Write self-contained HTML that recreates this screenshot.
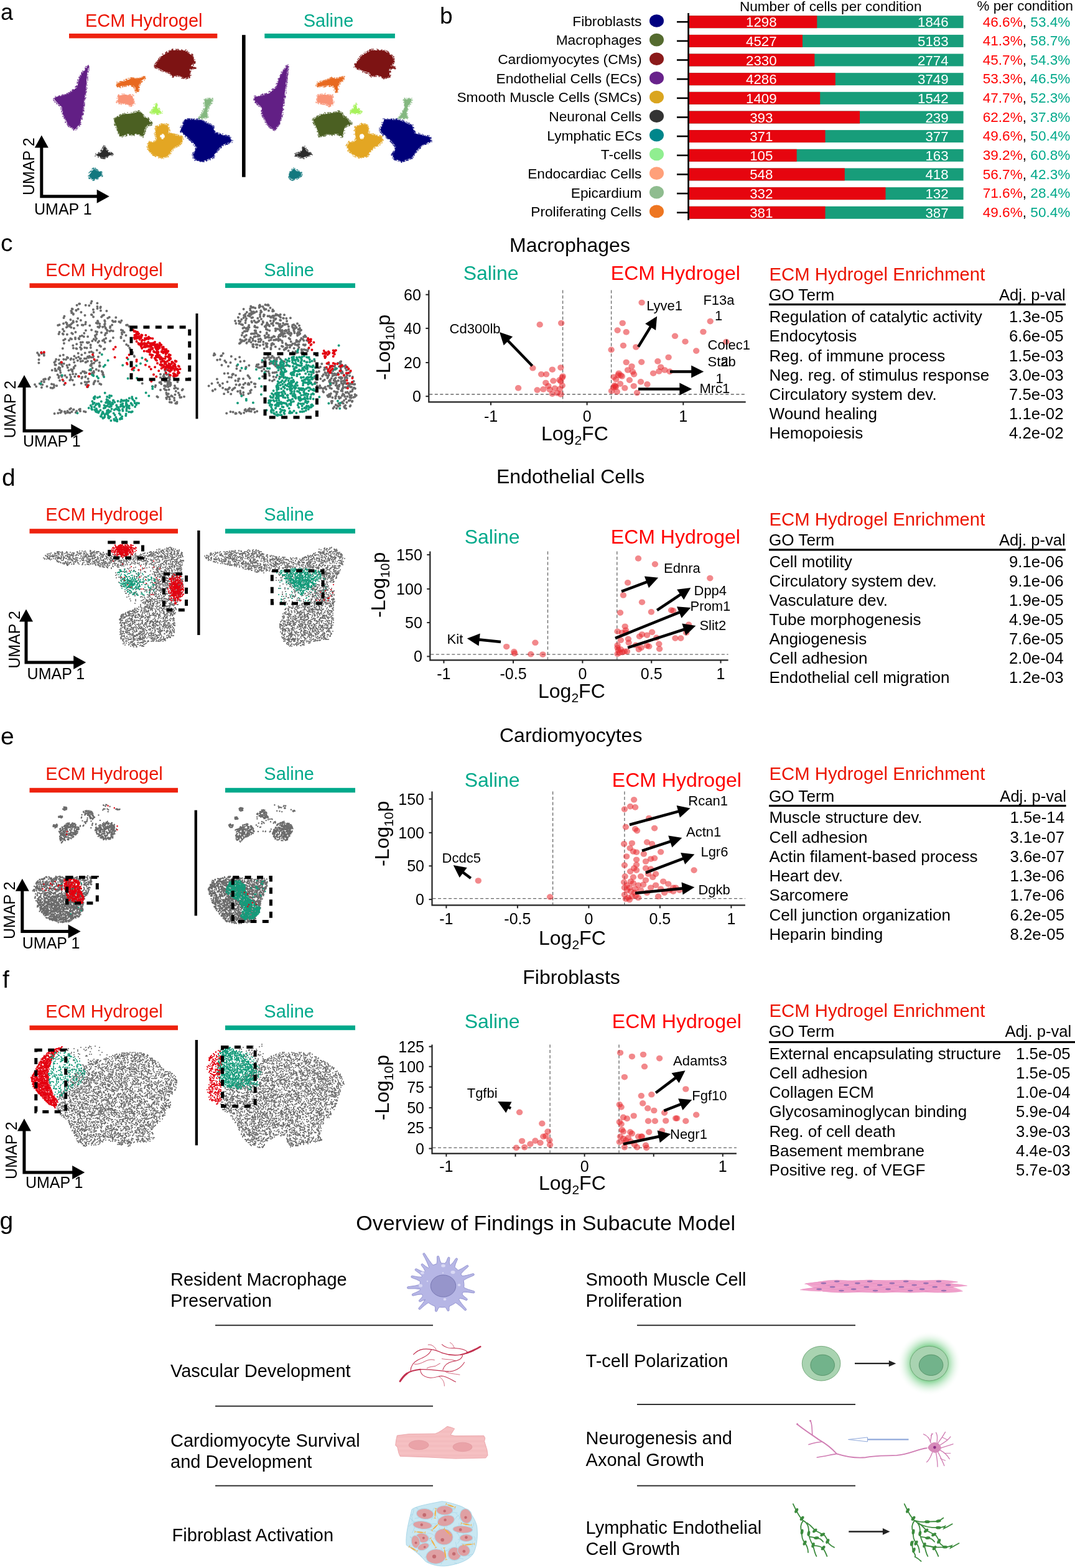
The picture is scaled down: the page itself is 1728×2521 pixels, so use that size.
<!DOCTYPE html>
<html><head><meta charset="utf-8"><title>Figure</title>
<style>html,body{margin:0;padding:0;background:#fff;} svg{display:block;} text{font-family:"Liberation Sans",Arial,sans-serif;}</style>
</head><body>
<svg width="1728" height="2521" viewBox="0 0 1728 2521">

<text x="1.0" y="31.5" font-size="36" fill="#000" text-anchor="start" >a</text>
<text x="137.0" y="42.6" font-size="29" fill="#eb1400" text-anchor="start" >ECM Hydrogel</text>
<rect x="111.0" y="54.0" width="238.3" height="7.5" fill="#ee220e" />
<text x="487.7" y="42.6" font-size="29" fill="#00a98b" text-anchor="start" >Saline</text>
<rect x="425.3" y="54.0" width="209.6" height="7.5" fill="#00a98b" />
<rect x="389.0" y="56.2" width="5.6" height="228.5" fill="#000" />
<path d="M66.8 236.5 V315.8 H156.7" fill="none" stroke="#000" stroke-width="5" stroke-linejoin="miter"/>
<polygon points="66.8,217.5 55.8,237.5 77.8,237.5" fill="#000"/>
<polygon points="175.7,315.8 155.7,304.8 155.7,326.8" fill="#000"/>
<text x="0" y="0" font-size="25" transform="translate(55.0,314.0) rotate(-90)">UMAP 2</text>
<text x="55.0" y="345.0" font-size="25" fill="#000" text-anchor="start" >UMAP 1</text>
<text x="707.0" y="38.0" font-size="37" fill="#000" text-anchor="start" >b</text>
<text x="1188.9" y="18.0" font-size="22.6" fill="#000" text-anchor="start" >Number of cells per condition</text>
<text x="1570.5" y="16.5" font-size="22.4" fill="#000" text-anchor="start" >% per condition</text>
<text x="1031.5" y="41.6" font-size="22.75" fill="#000" text-anchor="end" >Fibroblasts</text>
<ellipse cx="1055.5" cy="33.5" rx="11.5" ry="10.3" fill="#000080"/>
<line x1="1088.0" y1="35.2" x2="1106.0" y2="35.2" stroke="#000" stroke-width="2.6" />
<rect x="1108.0" y="25.2" width="440.6" height="20.0" fill="#179d7a" />
<rect x="1108.0" y="25.2" width="205.3" height="20.0" fill="#e6050f" />
<text x="1223.8" y="43.2" font-size="22.3" fill="#fff" text-anchor="middle" >1298</text>
<text x="1524.6" y="43.2" font-size="22.3" fill="#fff" text-anchor="end" >1846</text>
<text x="1579.7" y="42.5" font-size="22.6"><tspan fill="#ff0000">46.6%</tspan><tspan fill="#000">, </tspan><tspan fill="#00a98b">53.4%</tspan></text>
<text x="1031.5" y="72.3" font-size="22.75" fill="#000" text-anchor="end" >Macrophages</text>
<ellipse cx="1055.5" cy="64.1" rx="11.5" ry="10.3" fill="#556b2f"/>
<line x1="1088.0" y1="65.9" x2="1106.0" y2="65.9" stroke="#000" stroke-width="2.6" />
<rect x="1108.0" y="55.9" width="440.6" height="20.0" fill="#179d7a" />
<rect x="1108.0" y="55.9" width="182.0" height="20.0" fill="#e6050f" />
<text x="1223.8" y="73.9" font-size="22.3" fill="#fff" text-anchor="middle" >4527</text>
<text x="1524.6" y="73.9" font-size="22.3" fill="#fff" text-anchor="end" >5183</text>
<text x="1579.7" y="73.1" font-size="22.6"><tspan fill="#ff0000">41.3%</tspan><tspan fill="#000">, </tspan><tspan fill="#00a98b">58.7%</tspan></text>
<text x="1031.5" y="103.0" font-size="22.75" fill="#000" text-anchor="end" >Cardiomyocytes (CMs)</text>
<ellipse cx="1055.5" cy="94.8" rx="11.5" ry="10.3" fill="#8b1a1a"/>
<line x1="1088.0" y1="96.5" x2="1106.0" y2="96.5" stroke="#000" stroke-width="2.6" />
<rect x="1108.0" y="86.5" width="440.6" height="20.0" fill="#179d7a" />
<rect x="1108.0" y="86.5" width="201.4" height="20.0" fill="#e6050f" />
<text x="1223.8" y="104.5" font-size="22.3" fill="#fff" text-anchor="middle" >2330</text>
<text x="1524.6" y="104.5" font-size="22.3" fill="#fff" text-anchor="end" >2774</text>
<text x="1579.7" y="103.8" font-size="22.6"><tspan fill="#ff0000">45.7%</tspan><tspan fill="#000">, </tspan><tspan fill="#00a98b">54.3%</tspan></text>
<text x="1031.5" y="133.6" font-size="22.75" fill="#000" text-anchor="end" >Endothelial Cells (ECs)</text>
<ellipse cx="1055.5" cy="125.4" rx="11.5" ry="10.3" fill="#68228b"/>
<line x1="1088.0" y1="127.2" x2="1106.0" y2="127.2" stroke="#000" stroke-width="2.6" />
<rect x="1108.0" y="117.2" width="440.6" height="20.0" fill="#179d7a" />
<rect x="1108.0" y="117.2" width="234.8" height="20.0" fill="#e6050f" />
<text x="1223.8" y="135.2" font-size="22.3" fill="#fff" text-anchor="middle" >4286</text>
<text x="1524.6" y="135.2" font-size="22.3" fill="#fff" text-anchor="end" >3749</text>
<text x="1579.7" y="134.4" font-size="22.6"><tspan fill="#ff0000">53.3%</tspan><tspan fill="#000">, </tspan><tspan fill="#00a98b">46.5%</tspan></text>
<text x="1031.5" y="164.2" font-size="22.75" fill="#000" text-anchor="end" >Smooth Muscle Cells (SMCs)</text>
<ellipse cx="1055.5" cy="156.0" rx="11.5" ry="10.3" fill="#daa520"/>
<line x1="1088.0" y1="157.8" x2="1106.0" y2="157.8" stroke="#000" stroke-width="2.6" />
<rect x="1108.0" y="147.8" width="440.6" height="20.0" fill="#179d7a" />
<rect x="1108.0" y="147.8" width="210.2" height="20.0" fill="#e6050f" />
<text x="1223.8" y="165.8" font-size="22.3" fill="#fff" text-anchor="middle" >1409</text>
<text x="1524.6" y="165.8" font-size="22.3" fill="#fff" text-anchor="end" >1542</text>
<text x="1579.7" y="165.0" font-size="22.6"><tspan fill="#ff0000">47.7%</tspan><tspan fill="#000">, </tspan><tspan fill="#00a98b">52.3%</tspan></text>
<text x="1031.5" y="194.9" font-size="22.75" fill="#000" text-anchor="end" >Neuronal Cells</text>
<ellipse cx="1055.5" cy="186.7" rx="11.5" ry="10.3" fill="#333333"/>
<line x1="1088.0" y1="188.5" x2="1106.0" y2="188.5" stroke="#000" stroke-width="2.6" />
<rect x="1108.0" y="178.5" width="440.6" height="20.0" fill="#179d7a" />
<rect x="1108.0" y="178.5" width="274.1" height="20.0" fill="#e6050f" />
<text x="1223.8" y="196.5" font-size="22.3" fill="#fff" text-anchor="middle" >393</text>
<text x="1524.6" y="196.5" font-size="22.3" fill="#fff" text-anchor="end" >239</text>
<text x="1579.7" y="195.7" font-size="22.6"><tspan fill="#ff0000">62.2%</tspan><tspan fill="#000">, </tspan><tspan fill="#00a98b">37.8%</tspan></text>
<text x="1031.5" y="225.5" font-size="22.75" fill="#000" text-anchor="end" >Lymphatic ECs</text>
<ellipse cx="1055.5" cy="217.3" rx="11.5" ry="10.3" fill="#00868b"/>
<line x1="1088.0" y1="219.1" x2="1106.0" y2="219.1" stroke="#000" stroke-width="2.6" />
<rect x="1108.0" y="209.1" width="440.6" height="20.0" fill="#179d7a" />
<rect x="1108.0" y="209.1" width="218.5" height="20.0" fill="#e6050f" />
<text x="1223.8" y="227.1" font-size="22.3" fill="#fff" text-anchor="middle" >371</text>
<text x="1524.6" y="227.1" font-size="22.3" fill="#fff" text-anchor="end" >377</text>
<text x="1579.7" y="226.3" font-size="22.6"><tspan fill="#ff0000">49.6%</tspan><tspan fill="#000">, </tspan><tspan fill="#00a98b">50.4%</tspan></text>
<text x="1031.5" y="256.2" font-size="22.75" fill="#000" text-anchor="end" >T-cells</text>
<ellipse cx="1055.5" cy="248.0" rx="11.5" ry="10.3" fill="#90ee90"/>
<line x1="1088.0" y1="249.8" x2="1106.0" y2="249.8" stroke="#000" stroke-width="2.6" />
<rect x="1108.0" y="239.8" width="440.6" height="20.0" fill="#179d7a" />
<rect x="1108.0" y="239.8" width="172.7" height="20.0" fill="#e6050f" />
<text x="1223.8" y="257.8" font-size="22.3" fill="#fff" text-anchor="middle" >105</text>
<text x="1524.6" y="257.8" font-size="22.3" fill="#fff" text-anchor="end" >163</text>
<text x="1579.7" y="257.0" font-size="22.6"><tspan fill="#ff0000">39.2%</tspan><tspan fill="#000">, </tspan><tspan fill="#00a98b">60.8%</tspan></text>
<text x="1031.5" y="286.8" font-size="22.75" fill="#000" text-anchor="end" >Endocardiac Cells</text>
<ellipse cx="1055.5" cy="278.6" rx="11.5" ry="10.3" fill="#ffa07a"/>
<line x1="1088.0" y1="280.4" x2="1106.0" y2="280.4" stroke="#000" stroke-width="2.6" />
<rect x="1108.0" y="270.4" width="440.6" height="20.0" fill="#179d7a" />
<rect x="1108.0" y="270.4" width="249.8" height="20.0" fill="#e6050f" />
<text x="1223.8" y="288.4" font-size="22.3" fill="#fff" text-anchor="middle" >548</text>
<text x="1524.6" y="288.4" font-size="22.3" fill="#fff" text-anchor="end" >418</text>
<text x="1579.7" y="287.6" font-size="22.6"><tspan fill="#ff0000">56.7%</tspan><tspan fill="#000">, </tspan><tspan fill="#00a98b">42.3%</tspan></text>
<text x="1031.5" y="317.5" font-size="22.75" fill="#000" text-anchor="end" >Epicardium</text>
<ellipse cx="1055.5" cy="309.3" rx="11.5" ry="10.3" fill="#8fbc8f"/>
<line x1="1088.0" y1="311.1" x2="1106.0" y2="311.1" stroke="#000" stroke-width="2.6" />
<rect x="1108.0" y="301.1" width="440.6" height="20.0" fill="#179d7a" />
<rect x="1108.0" y="301.1" width="315.5" height="20.0" fill="#e6050f" />
<text x="1223.8" y="319.1" font-size="22.3" fill="#fff" text-anchor="middle" >332</text>
<text x="1524.6" y="319.1" font-size="22.3" fill="#fff" text-anchor="end" >132</text>
<text x="1579.7" y="318.3" font-size="22.6"><tspan fill="#ff0000">71.6%</tspan><tspan fill="#000">, </tspan><tspan fill="#00a98b">28.4%</tspan></text>
<text x="1031.5" y="348.1" font-size="22.75" fill="#000" text-anchor="end" >Proliferating Cells</text>
<ellipse cx="1055.5" cy="339.9" rx="11.5" ry="10.3" fill="#ee7621"/>
<line x1="1088.0" y1="341.8" x2="1106.0" y2="341.8" stroke="#000" stroke-width="2.6" />
<rect x="1108.0" y="331.8" width="440.6" height="20.0" fill="#179d7a" />
<rect x="1108.0" y="331.8" width="218.5" height="20.0" fill="#e6050f" />
<text x="1223.8" y="349.8" font-size="22.3" fill="#fff" text-anchor="middle" >381</text>
<text x="1524.6" y="349.8" font-size="22.3" fill="#fff" text-anchor="end" >387</text>
<text x="1579.7" y="348.9" font-size="22.6"><tspan fill="#ff0000">49.6%</tspan><tspan fill="#000">, </tspan><tspan fill="#00a98b">50.4%</tspan></text>
<rect x="1105.2" y="21.0" width="2.7" height="333.0" fill="#000" />
<text x="819.0" y="405.4" font-size="32" fill="#000" text-anchor="start" >Macrophages</text>
<text x="744.7" y="450.4" font-size="32" fill="#00a98b" text-anchor="start" >Saline</text>
<text x="981.8" y="450.4" font-size="32" fill="#ff0000" text-anchor="start" >ECM Hydrogel</text>
<line x1="904.6" y1="466.4" x2="904.6" y2="645.4" stroke="#666" stroke-width="1.3" stroke-dasharray="5,3.5"/>
<line x1="982.6" y1="466.4" x2="982.6" y2="645.4" stroke="#666" stroke-width="1.3" stroke-dasharray="5,3.5"/>
<line x1="690.3" y1="634.0" x2="1198.7" y2="634.0" stroke="#666" stroke-width="1.3" stroke-dasharray="5,3.5"/>
<g fill="#e8262b" fill-opacity="0.55"><ellipse cx="856.4" cy="591.8" rx="5.2" ry="4.8"/><ellipse cx="867.7" cy="521.9" rx="5.2" ry="4.8"/><ellipse cx="902.2" cy="519.5" rx="5.2" ry="4.8"/><ellipse cx="870.1" cy="601.8" rx="5.2" ry="4.8"/><ellipse cx="878.1" cy="601.8" rx="5.2" ry="4.8"/><ellipse cx="887.8" cy="594.2" rx="5.2" ry="4.8"/><ellipse cx="901.4" cy="591.0" rx="5.2" ry="4.8"/><ellipse cx="877.3" cy="615.5" rx="5.2" ry="4.8"/><ellipse cx="889.4" cy="612.3" rx="5.2" ry="4.8"/><ellipse cx="901.4" cy="613.1" rx="5.2" ry="4.8"/><ellipse cx="903.8" cy="607.0" rx="5.2" ry="4.8"/><ellipse cx="833.1" cy="623.9" rx="5.2" ry="4.8"/><ellipse cx="863.6" cy="627.1" rx="5.2" ry="4.8"/><ellipse cx="873.3" cy="625.9" rx="5.2" ry="4.8"/><ellipse cx="883.7" cy="626.3" rx="5.2" ry="4.8"/><ellipse cx="891.8" cy="624.3" rx="5.2" ry="4.8"/><ellipse cx="899.8" cy="625.5" rx="5.2" ry="4.8"/><ellipse cx="903.8" cy="619.9" rx="5.2" ry="4.8"/><ellipse cx="881.3" cy="620.7" rx="5.2" ry="4.8"/><ellipse cx="887.8" cy="633.2" rx="5.2" ry="4.8"/><ellipse cx="895.8" cy="632.0" rx="5.2" ry="4.8"/><ellipse cx="901.4" cy="634.0" rx="5.2" ry="4.8"/><ellipse cx="899.4" cy="611.1" rx="5.2" ry="4.8"/><ellipse cx="904.6" cy="605.0" rx="5.2" ry="4.8"/><ellipse cx="1031.6" cy="486.5" rx="5.2" ry="4.8"/><ellipse cx="1000.7" cy="519.5" rx="5.2" ry="4.8"/><ellipse cx="992.6" cy="531.1" rx="5.2" ry="4.8"/><ellipse cx="1006.7" cy="533.9" rx="5.2" ry="4.8"/><ellipse cx="1001.9" cy="555.6" rx="5.2" ry="4.8"/><ellipse cx="1022.3" cy="558.0" rx="5.2" ry="4.8"/><ellipse cx="982.6" cy="562.4" rx="5.2" ry="4.8"/><ellipse cx="1085.0" cy="540.3" rx="5.2" ry="4.8"/><ellipse cx="1101.5" cy="549.2" rx="5.2" ry="4.8"/><ellipse cx="1130.4" cy="533.5" rx="5.2" ry="4.8"/><ellipse cx="1141.7" cy="516.6" rx="5.2" ry="4.8"/><ellipse cx="1167.4" cy="549.6" rx="5.2" ry="4.8"/><ellipse cx="1119.2" cy="564.1" rx="5.2" ry="4.8"/><ellipse cx="1074.6" cy="574.5" rx="5.2" ry="4.8"/><ellipse cx="1006.7" cy="582.5" rx="5.2" ry="4.8"/><ellipse cx="1015.5" cy="589.0" rx="5.2" ry="4.8"/><ellipse cx="1031.2" cy="582.1" rx="5.2" ry="4.8"/><ellipse cx="1057.3" cy="580.9" rx="5.2" ry="4.8"/><ellipse cx="1062.1" cy="590.2" rx="5.2" ry="4.8"/><ellipse cx="1068.5" cy="595.0" rx="5.2" ry="4.8"/><ellipse cx="1059.3" cy="597.0" rx="5.2" ry="4.8"/><ellipse cx="1050.1" cy="600.2" rx="5.2" ry="4.8"/><ellipse cx="1009.1" cy="595.0" rx="5.2" ry="4.8"/><ellipse cx="1017.1" cy="597.8" rx="5.2" ry="4.8"/><ellipse cx="1019.1" cy="601.8" rx="5.2" ry="4.8"/><ellipse cx="994.6" cy="600.2" rx="5.2" ry="4.8"/><ellipse cx="997.8" cy="603.4" rx="5.2" ry="4.8"/><ellipse cx="986.6" cy="606.2" rx="5.2" ry="4.8"/><ellipse cx="990.2" cy="609.9" rx="5.2" ry="4.8"/><ellipse cx="997.0" cy="617.1" rx="5.2" ry="4.8"/><ellipse cx="989.0" cy="621.1" rx="5.2" ry="4.8"/><ellipse cx="985.8" cy="623.1" rx="5.2" ry="4.8"/><ellipse cx="1004.3" cy="623.9" rx="5.2" ry="4.8"/><ellipse cx="1011.9" cy="611.1" rx="5.2" ry="4.8"/><ellipse cx="1018.7" cy="620.7" rx="5.2" ry="4.8"/><ellipse cx="1030.0" cy="613.9" rx="5.2" ry="4.8"/><ellipse cx="1040.4" cy="617.9" rx="5.2" ry="4.8"/><ellipse cx="983.0" cy="628.7" rx="5.2" ry="4.8"/><ellipse cx="991.8" cy="629.9" rx="5.2" ry="4.8"/><ellipse cx="1024.0" cy="631.6" rx="5.2" ry="4.8"/><ellipse cx="1076.6" cy="597.4" rx="5.2" ry="4.8"/><ellipse cx="993.8" cy="603.0" rx="5.2" ry="4.8"/><ellipse cx="999.8" cy="605.0" rx="5.2" ry="4.8"/><ellipse cx="987.8" cy="619.9" rx="5.2" ry="4.8"/><ellipse cx="989.8" cy="622.3" rx="5.2" ry="4.8"/></g>
<path d="M689.3 466.4 V646.4 H1198.7" fill="none" stroke="#222" stroke-width="2.2"/>
<line x1="684.3" y1="637.2" x2="689.3" y2="637.2" stroke="#222" stroke-width="2" />
<text x="676.8" y="646.2" font-size="25" fill="#000" text-anchor="end" >0</text>
<line x1="684.3" y1="583.0" x2="689.3" y2="583.0" stroke="#222" stroke-width="2" />
<text x="676.8" y="592.0" font-size="25" fill="#000" text-anchor="end" >20</text>
<line x1="684.3" y1="527.9" x2="689.3" y2="527.9" stroke="#222" stroke-width="2" />
<text x="676.8" y="536.9" font-size="25" fill="#000" text-anchor="end" >40</text>
<line x1="684.3" y1="473.7" x2="689.3" y2="473.7" stroke="#222" stroke-width="2" />
<text x="676.8" y="482.7" font-size="25" fill="#000" text-anchor="end" >60</text>
<line x1="789.0" y1="646.4" x2="789.0" y2="651.4" stroke="#222" stroke-width="2" />
<text x="789.0" y="677.5" font-size="25" fill="#000" text-anchor="middle" >-1</text>
<line x1="943.6" y1="646.4" x2="943.6" y2="651.4" stroke="#222" stroke-width="2" />
<text x="943.6" y="677.5" font-size="25" fill="#000" text-anchor="middle" >0</text>
<line x1="1098.3" y1="646.4" x2="1098.3" y2="651.4" stroke="#222" stroke-width="2" />
<text x="1098.3" y="677.5" font-size="25" fill="#000" text-anchor="middle" >1</text>
<text x="870.0" y="707.5" font-size="32">Log<tspan font-size="21" dy="7">2</tspan><tspan dy="-7">FC</tspan></text>
<text x="0" y="0" font-size="32" transform="translate(627.0,611.0) rotate(-90)">-Log<tspan font-size="21" dy="7">10</tspan><tspan dy="-7">p</tspan></text>
<text x="1039.2" y="498.6" font-size="22" fill="#000" text-anchor="start" >Lyve1</text>
<text x="1130.4" y="489.7" font-size="22" fill="#000" text-anchor="start" >F13a</text>
<text x="1149.0" y="515.4" font-size="22" fill="#000" text-anchor="start" >1</text>
<text x="1137.6" y="562.0" font-size="22" fill="#000" text-anchor="start" >Colec1</text>
<text x="1137.6" y="589.0" font-size="22" fill="#000" text-anchor="start" >Stab</text>
<text x="1158.5" y="589.0" font-size="22" fill="#000" text-anchor="start" >2</text>
<text x="1150.5" y="615.9" font-size="22" fill="#000" text-anchor="start" >1</text>
<text x="1124.4" y="632.0" font-size="22" fill="#000" text-anchor="start" >Mrc1</text>
<text x="722.6" y="535.5" font-size="22" fill="#000" text-anchor="start" >Cd300lb</text>
<line x1="855.6" y1="588.2" x2="815.5" y2="546.8" stroke="#000" stroke-width="4.5"/>
<polygon points="803.0,533.9 824.1,541.3 809.7,555.2" fill="#000"/>
<line x1="1026.0" y1="557.6" x2="1046.7" y2="523.9" stroke="#000" stroke-width="4.5"/>
<polygon points="1056.1,508.6 1054.1,530.9 1037.1,520.4" fill="#000"/>
<line x1="1077.0" y1="597.4" x2="1113.2" y2="597.4" stroke="#000" stroke-width="4.5"/>
<polygon points="1131.2,597.4 1111.2,607.4 1111.2,587.4" fill="#000"/>
<line x1="1026.0" y1="625.5" x2="1094.3" y2="625.5" stroke="#000" stroke-width="4.5"/>
<polygon points="1112.3,625.5 1092.3,635.5 1092.3,615.5" fill="#000"/>
<text x="798.0" y="777.0" font-size="32" fill="#000" text-anchor="start" >Endothelial Cells</text>
<text x="746.7" y="873.8" font-size="32" fill="#00a98b" text-anchor="start" >Saline</text>
<text x="981.8" y="873.8" font-size="32" fill="#ff0000" text-anchor="start" >ECM Hydrogel</text>
<line x1="880.5" y1="886.6" x2="880.5" y2="1060.4" stroke="#666" stroke-width="1.3" stroke-dasharray="5,3.5"/>
<line x1="991.8" y1="886.6" x2="991.8" y2="1060.4" stroke="#666" stroke-width="1.3" stroke-dasharray="5,3.5"/>
<line x1="692.3" y1="1052.2" x2="1170.6" y2="1052.2" stroke="#666" stroke-width="1.3" stroke-dasharray="5,3.5"/>
<g fill="#e8262b" fill-opacity="0.55"><ellipse cx="1026.0" cy="897.9" rx="5.2" ry="4.8"/><ellipse cx="1052.9" cy="907.1" rx="5.2" ry="4.8"/><ellipse cx="1141.3" cy="929.6" rx="5.2" ry="4.8"/><ellipse cx="1009.1" cy="936.9" rx="5.2" ry="4.8"/><ellipse cx="1001.9" cy="957.0" rx="5.2" ry="4.8"/><ellipse cx="1032.0" cy="968.2" rx="5.2" ry="4.8"/><ellipse cx="997.0" cy="985.1" rx="5.2" ry="4.8"/><ellipse cx="1046.9" cy="983.9" rx="5.2" ry="4.8"/><ellipse cx="1079.0" cy="981.1" rx="5.2" ry="4.8"/><ellipse cx="1082.2" cy="981.9" rx="5.2" ry="4.8"/><ellipse cx="1004.7" cy="1007.2" rx="5.2" ry="4.8"/><ellipse cx="1005.9" cy="1013.2" rx="5.2" ry="4.8"/><ellipse cx="992.6" cy="1015.2" rx="5.2" ry="4.8"/><ellipse cx="999.8" cy="1017.2" rx="5.2" ry="4.8"/><ellipse cx="1005.9" cy="1017.2" rx="5.2" ry="4.8"/><ellipse cx="1032.0" cy="1020.0" rx="5.2" ry="4.8"/><ellipse cx="1028.0" cy="1023.2" rx="5.2" ry="4.8"/><ellipse cx="1040.0" cy="1021.2" rx="5.2" ry="4.8"/><ellipse cx="1048.1" cy="1016.4" rx="5.2" ry="4.8"/><ellipse cx="1055.3" cy="1025.3" rx="5.2" ry="4.8"/><ellipse cx="997.8" cy="1029.3" rx="5.2" ry="4.8"/><ellipse cx="1009.9" cy="1027.3" rx="5.2" ry="4.8"/><ellipse cx="1010.7" cy="1033.3" rx="5.2" ry="4.8"/><ellipse cx="1085.4" cy="1026.1" rx="5.2" ry="4.8"/><ellipse cx="1094.3" cy="1026.1" rx="5.2" ry="4.8"/><ellipse cx="992.6" cy="1037.3" rx="5.2" ry="4.8"/><ellipse cx="1021.9" cy="1037.3" rx="5.2" ry="4.8"/><ellipse cx="1040.0" cy="1038.1" rx="5.2" ry="4.8"/><ellipse cx="1043.2" cy="1039.3" rx="5.2" ry="4.8"/><ellipse cx="1059.3" cy="1035.3" rx="5.2" ry="4.8"/><ellipse cx="1060.1" cy="1043.3" rx="5.2" ry="4.8"/><ellipse cx="992.6" cy="1041.3" rx="5.2" ry="4.8"/><ellipse cx="997.8" cy="1044.1" rx="5.2" ry="4.8"/><ellipse cx="1007.9" cy="1047.4" rx="5.2" ry="4.8"/><ellipse cx="995.8" cy="1049.4" rx="5.2" ry="4.8"/><ellipse cx="1026.8" cy="1044.1" rx="5.2" ry="4.8"/><ellipse cx="1030.8" cy="1041.3" rx="5.2" ry="4.8"/><ellipse cx="1103.1" cy="1017.2" rx="5.2" ry="4.8"/><ellipse cx="1107.1" cy="1004.4" rx="5.2" ry="4.8"/><ellipse cx="992.6" cy="1051.4" rx="5.2" ry="4.8"/><ellipse cx="1000.7" cy="1048.6" rx="5.2" ry="4.8"/><ellipse cx="860.4" cy="1033.3" rx="5.2" ry="4.8"/><ellipse cx="814.2" cy="1039.7" rx="5.2" ry="4.8"/><ellipse cx="826.3" cy="1047.8" rx="5.2" ry="4.8"/><ellipse cx="827.1" cy="1050.6" rx="5.2" ry="4.8"/><ellipse cx="853.2" cy="1051.8" rx="5.2" ry="4.8"/><ellipse cx="872.5" cy="1052.2" rx="5.2" ry="4.8"/><ellipse cx="1003.9" cy="1047.4" rx="5.2" ry="4.8"/><ellipse cx="993.8" cy="1045.3" rx="5.2" ry="4.8"/></g>
<path d="M691.3 886.6 V1061.4 H1170.6" fill="none" stroke="#222" stroke-width="2.2"/>
<line x1="686.3" y1="1055.4" x2="691.3" y2="1055.4" stroke="#222" stroke-width="2" />
<text x="678.8" y="1064.4" font-size="25" fill="#000" text-anchor="end" >0</text>
<line x1="686.3" y1="1001.0" x2="691.3" y2="1001.0" stroke="#222" stroke-width="2" />
<text x="678.8" y="1010.0" font-size="25" fill="#000" text-anchor="end" >50</text>
<line x1="686.3" y1="946.9" x2="691.3" y2="946.9" stroke="#222" stroke-width="2" />
<text x="678.8" y="955.9" font-size="25" fill="#000" text-anchor="end" >100</text>
<line x1="686.3" y1="891.9" x2="691.3" y2="891.9" stroke="#222" stroke-width="2" />
<text x="678.8" y="900.9" font-size="25" fill="#000" text-anchor="end" >150</text>
<line x1="713.4" y1="1061.4" x2="713.4" y2="1066.4" stroke="#222" stroke-width="2" />
<text x="713.4" y="1091.5" font-size="25" fill="#000" text-anchor="middle" >-1</text>
<line x1="825.0" y1="1061.4" x2="825.0" y2="1066.4" stroke="#222" stroke-width="2" />
<text x="825.0" y="1091.5" font-size="25" fill="#000" text-anchor="middle" >-0.5</text>
<line x1="936.4" y1="1061.4" x2="936.4" y2="1066.4" stroke="#222" stroke-width="2" />
<text x="936.4" y="1091.5" font-size="25" fill="#000" text-anchor="middle" >0</text>
<line x1="1047.2" y1="1061.4" x2="1047.2" y2="1066.4" stroke="#222" stroke-width="2" />
<text x="1047.2" y="1091.5" font-size="25" fill="#000" text-anchor="middle" >0.5</text>
<line x1="1158.5" y1="1061.4" x2="1158.5" y2="1066.4" stroke="#222" stroke-width="2" />
<text x="1158.5" y="1091.5" font-size="25" fill="#000" text-anchor="middle" >1</text>
<text x="865.0" y="1121.7" font-size="32">Log<tspan font-size="21" dy="7">2</tspan><tspan dy="-7">FC</tspan></text>
<text x="0" y="0" font-size="32" transform="translate(619.0,993.0) rotate(-90)">-Log<tspan font-size="21" dy="7">10</tspan><tspan dy="-7">p</tspan></text>
<text x="1067.0" y="920.8" font-size="22" fill="#000" text-anchor="start" >Ednra</text>
<text x="1115.5" y="957.0" font-size="22" fill="#000" text-anchor="start" >Dpp4</text>
<text x="1109.5" y="982.3" font-size="22" fill="#000" text-anchor="start" >Prom1</text>
<text x="1124.4" y="1013.2" font-size="22" fill="#000" text-anchor="start" >Slit2</text>
<text x="718.6" y="1035.3" font-size="22" fill="#000" text-anchor="start" >Kit</text>
<line x1="999.0" y1="950.9" x2="1041.2" y2="935.1" stroke="#000" stroke-width="4.5"/>
<polygon points="1058.1,928.8 1042.9,945.2 1035.9,926.5" fill="#000"/>
<line x1="1056.1" y1="981.1" x2="1095.4" y2="954.9" stroke="#000" stroke-width="4.5"/>
<polygon points="1110.3,944.9 1099.2,964.3 1088.1,947.7" fill="#000"/>
<line x1="989.0" y1="1026.1" x2="1093.6" y2="983.8" stroke="#000" stroke-width="4.5"/>
<polygon points="1110.3,977.0 1095.5,993.8 1088.0,975.3" fill="#000"/>
<line x1="1009.1" y1="1041.3" x2="1101.2" y2="1011.5" stroke="#000" stroke-width="4.5"/>
<polygon points="1118.4,1006.0 1102.4,1021.6 1096.3,1002.6" fill="#000"/>
<line x1="805.0" y1="1032.1" x2="768.7" y2="1028.3" stroke="#000" stroke-width="4.5"/>
<polygon points="750.8,1026.5 771.7,1018.6 769.6,1038.5" fill="#000"/>
<text x="803.0" y="1193.4" font-size="32" fill="#000" text-anchor="start" >Cardiomyocytes</text>
<text x="746.7" y="1264.5" font-size="32" fill="#00a98b" text-anchor="start" >Saline</text>
<text x="983.8" y="1264.5" font-size="32" fill="#ff0000" text-anchor="start" >ECM Hydrogel</text>
<line x1="888.6" y1="1272.5" x2="888.6" y2="1454.3" stroke="#666" stroke-width="1.3" stroke-dasharray="5,3.5"/>
<line x1="1003.9" y1="1272.5" x2="1003.9" y2="1454.3" stroke="#666" stroke-width="1.3" stroke-dasharray="5,3.5"/>
<line x1="695.5" y1="1444.7" x2="1197.9" y2="1444.7" stroke="#666" stroke-width="1.3" stroke-dasharray="5,3.5"/>
<g fill="#e8262b" fill-opacity="0.55"><ellipse cx="1019.1" cy="1285.8" rx="5.2" ry="4.8"/><ellipse cx="1013.1" cy="1296.6" rx="5.2" ry="4.8"/><ellipse cx="1021.1" cy="1297.9" rx="5.2" ry="4.8"/><ellipse cx="1003.9" cy="1301.1" rx="5.2" ry="4.8"/><ellipse cx="1043.2" cy="1315.5" rx="5.2" ry="4.8"/><ellipse cx="1005.9" cy="1329.6" rx="5.2" ry="4.8"/><ellipse cx="1021.1" cy="1332.8" rx="5.2" ry="4.8"/><ellipse cx="1024.0" cy="1335.6" rx="5.2" ry="4.8"/><ellipse cx="1052.1" cy="1331.6" rx="5.2" ry="4.8"/><ellipse cx="1003.1" cy="1356.9" rx="5.2" ry="4.8"/><ellipse cx="1015.9" cy="1355.7" rx="5.2" ry="4.8"/><ellipse cx="1012.7" cy="1363.7" rx="5.2" ry="4.8"/><ellipse cx="1017.9" cy="1369.0" rx="5.2" ry="4.8"/><ellipse cx="1023.1" cy="1370.2" rx="5.2" ry="4.8"/><ellipse cx="1040.0" cy="1354.1" rx="5.2" ry="4.8"/><ellipse cx="1048.1" cy="1356.9" rx="5.2" ry="4.8"/><ellipse cx="1062.1" cy="1369.8" rx="5.2" ry="4.8"/><ellipse cx="1034.8" cy="1373.0" rx="5.2" ry="4.8"/><ellipse cx="1007.1" cy="1377.0" rx="5.2" ry="4.8"/><ellipse cx="1023.1" cy="1382.2" rx="5.2" ry="4.8"/><ellipse cx="1038.0" cy="1385.0" rx="5.2" ry="4.8"/><ellipse cx="1046.1" cy="1381.0" rx="5.2" ry="4.8"/><ellipse cx="1052.1" cy="1379.8" rx="5.2" ry="4.8"/><ellipse cx="1003.9" cy="1391.1" rx="5.2" ry="4.8"/><ellipse cx="1023.1" cy="1390.3" rx="5.2" ry="4.8"/><ellipse cx="1019.1" cy="1395.9" rx="5.2" ry="4.8"/><ellipse cx="1013.1" cy="1401.1" rx="5.2" ry="4.8"/><ellipse cx="1023.1" cy="1399.1" rx="5.2" ry="4.8"/><ellipse cx="1038.0" cy="1395.9" rx="5.2" ry="4.8"/><ellipse cx="1046.1" cy="1397.1" rx="5.2" ry="4.8"/><ellipse cx="1115.6" cy="1399.1" rx="5.2" ry="4.8"/><ellipse cx="1004.7" cy="1409.1" rx="5.2" ry="4.8"/><ellipse cx="1017.9" cy="1410.3" rx="5.2" ry="4.8"/><ellipse cx="1030.0" cy="1409.1" rx="5.2" ry="4.8"/><ellipse cx="1042.0" cy="1405.1" rx="5.2" ry="4.8"/><ellipse cx="1054.1" cy="1405.1" rx="5.2" ry="4.8"/><ellipse cx="1038.0" cy="1415.2" rx="5.2" ry="4.8"/><ellipse cx="1049.3" cy="1410.3" rx="5.2" ry="4.8"/><ellipse cx="1003.1" cy="1418.4" rx="5.2" ry="4.8"/><ellipse cx="1013.9" cy="1417.2" rx="5.2" ry="4.8"/><ellipse cx="1026.0" cy="1423.2" rx="5.2" ry="4.8"/><ellipse cx="1003.9" cy="1427.2" rx="5.2" ry="4.8"/><ellipse cx="1011.9" cy="1427.2" rx="5.2" ry="4.8"/><ellipse cx="1021.1" cy="1429.2" rx="5.2" ry="4.8"/><ellipse cx="1034.0" cy="1422.4" rx="5.2" ry="4.8"/><ellipse cx="1046.1" cy="1427.2" rx="5.2" ry="4.8"/><ellipse cx="1054.1" cy="1423.2" rx="5.2" ry="4.8"/><ellipse cx="1066.1" cy="1417.2" rx="5.2" ry="4.8"/><ellipse cx="1074.2" cy="1421.2" rx="5.2" ry="4.8"/><ellipse cx="1082.2" cy="1427.2" rx="5.2" ry="4.8"/><ellipse cx="1092.3" cy="1431.2" rx="5.2" ry="4.8"/><ellipse cx="1068.1" cy="1435.3" rx="5.2" ry="4.8"/><ellipse cx="1058.1" cy="1441.3" rx="5.2" ry="4.8"/><ellipse cx="1003.9" cy="1438.5" rx="5.2" ry="4.8"/><ellipse cx="1009.9" cy="1443.3" rx="5.2" ry="4.8"/><ellipse cx="1015.9" cy="1441.3" rx="5.2" ry="4.8"/><ellipse cx="1026.0" cy="1443.3" rx="5.2" ry="4.8"/><ellipse cx="1082.2" cy="1433.2" rx="5.2" ry="4.8"/><ellipse cx="768.8" cy="1416.0" rx="5.2" ry="4.8"/><ellipse cx="884.1" cy="1442.1" rx="5.2" ry="4.8"/><ellipse cx="1007.9" cy="1431.2" rx="5.2" ry="4.8"/><ellipse cx="1013.9" cy="1433.2" rx="5.2" ry="4.8"/><ellipse cx="1019.9" cy="1435.3" rx="5.2" ry="4.8"/><ellipse cx="1005.9" cy="1445.3" rx="5.2" ry="4.8"/><ellipse cx="1011.9" cy="1446.5" rx="5.2" ry="4.8"/><ellipse cx="1021.9" cy="1440.1" rx="5.2" ry="4.8"/><ellipse cx="1030.0" cy="1431.2" rx="5.2" ry="4.8"/><ellipse cx="1040.0" cy="1435.3" rx="5.2" ry="4.8"/><ellipse cx="1062.1" cy="1429.2" rx="5.2" ry="4.8"/><ellipse cx="1086.2" cy="1427.2" rx="5.2" ry="4.8"/><ellipse cx="1076.2" cy="1431.2" rx="5.2" ry="4.8"/><ellipse cx="1007.9" cy="1423.2" rx="5.2" ry="4.8"/><ellipse cx="1017.9" cy="1420.0" rx="5.2" ry="4.8"/></g>
<path d="M694.5 1272.5 V1455.3 H1197.9" fill="none" stroke="#222" stroke-width="2.2"/>
<line x1="689.5" y1="1446.1" x2="694.5" y2="1446.1" stroke="#222" stroke-width="2" />
<text x="682.0" y="1455.1" font-size="25" fill="#000" text-anchor="end" >0</text>
<line x1="689.5" y1="1392.3" x2="694.5" y2="1392.3" stroke="#222" stroke-width="2" />
<text x="682.0" y="1401.3" font-size="25" fill="#000" text-anchor="end" >50</text>
<line x1="689.5" y1="1338.8" x2="694.5" y2="1338.8" stroke="#222" stroke-width="2" />
<text x="682.0" y="1347.8" font-size="25" fill="#000" text-anchor="end" >100</text>
<line x1="689.5" y1="1284.6" x2="694.5" y2="1284.6" stroke="#222" stroke-width="2" />
<text x="682.0" y="1293.6" font-size="25" fill="#000" text-anchor="end" >150</text>
<line x1="717.4" y1="1455.3" x2="717.4" y2="1460.3" stroke="#222" stroke-width="2" />
<text x="717.4" y="1485.5" font-size="25" fill="#000" text-anchor="middle" >-1</text>
<line x1="831.9" y1="1455.3" x2="831.9" y2="1460.3" stroke="#222" stroke-width="2" />
<text x="831.9" y="1485.5" font-size="25" fill="#000" text-anchor="middle" >-0.5</text>
<line x1="946.4" y1="1455.3" x2="946.4" y2="1460.3" stroke="#222" stroke-width="2" />
<text x="946.4" y="1485.5" font-size="25" fill="#000" text-anchor="middle" >0</text>
<line x1="1060.9" y1="1455.3" x2="1060.9" y2="1460.3" stroke="#222" stroke-width="2" />
<text x="1060.9" y="1485.5" font-size="25" fill="#000" text-anchor="middle" >0.5</text>
<line x1="1175.4" y1="1455.3" x2="1175.4" y2="1460.3" stroke="#222" stroke-width="2" />
<text x="1175.4" y="1485.5" font-size="25" fill="#000" text-anchor="middle" >1</text>
<text x="866.0" y="1518.8" font-size="32">Log<tspan font-size="21" dy="7">2</tspan><tspan dy="-7">FC</tspan></text>
<text x="0" y="0" font-size="32" transform="translate(625.0,1393.0) rotate(-90)">-Log<tspan font-size="21" dy="7">10</tspan><tspan dy="-7">p</tspan></text>
<text x="1106.3" y="1295.4" font-size="22" fill="#000" text-anchor="start" >Rcan1</text>
<text x="1103.0" y="1344.9" font-size="22" fill="#000" text-anchor="start" >Actn1</text>
<text x="1126.4" y="1377.0" font-size="22" fill="#000" text-anchor="start" >Lgr6</text>
<text x="1122.4" y="1438.0" font-size="22" fill="#000" text-anchor="start" >Dgkb</text>
<text x="710.6" y="1387.0" font-size="22" fill="#000" text-anchor="start" >Dcdc5</text>
<line x1="1011.9" y1="1326.0" x2="1092.2" y2="1304.2" stroke="#000" stroke-width="4.5"/>
<polygon points="1109.5,1299.5 1092.9,1314.4 1087.6,1295.0" fill="#000"/>
<line x1="1032.0" y1="1367.8" x2="1079.2" y2="1352.4" stroke="#000" stroke-width="4.5"/>
<polygon points="1096.3,1346.9 1080.3,1362.6 1074.2,1343.5" fill="#000"/>
<line x1="1038.0" y1="1403.1" x2="1099.5" y2="1379.8" stroke="#000" stroke-width="4.5"/>
<polygon points="1116.4,1373.4 1101.2,1389.8 1094.1,1371.1" fill="#000"/>
<line x1="1021.1" y1="1436.1" x2="1098.5" y2="1428.2" stroke="#000" stroke-width="4.5"/>
<polygon points="1116.4,1426.4 1097.5,1438.4 1095.5,1418.5" fill="#000"/>
<line x1="756.8" y1="1412.0" x2="743.1" y2="1401.8" stroke="#000" stroke-width="4.5"/>
<polygon points="728.7,1391.1 750.7,1395.0 738.7,1411.0" fill="#000"/>
<text x="840.3" y="1582.2" font-size="32" fill="#000" text-anchor="start" >Fibroblasts</text>
<text x="746.7" y="1652.5" font-size="32" fill="#00a98b" text-anchor="start" >Saline</text>
<text x="983.8" y="1652.5" font-size="32" fill="#ff0000" text-anchor="start" >ECM Hydrogel</text>
<line x1="884.1" y1="1679.5" x2="884.1" y2="1853.6" stroke="#666" stroke-width="1.3" stroke-dasharray="5,3.5"/>
<line x1="995.0" y1="1679.5" x2="995.0" y2="1853.6" stroke="#666" stroke-width="1.3" stroke-dasharray="5,3.5"/>
<line x1="695.5" y1="1845.4" x2="1183.9" y2="1845.4" stroke="#666" stroke-width="1.3" stroke-dasharray="5,3.5"/>
<g fill="#e8262b" fill-opacity="0.55"><ellipse cx="997.0" cy="1692.7" rx="5.2" ry="4.8"/><ellipse cx="1015.9" cy="1698.7" rx="5.2" ry="4.8"/><ellipse cx="1034.0" cy="1695.5" rx="5.2" ry="4.8"/><ellipse cx="1060.1" cy="1701.6" rx="5.2" ry="4.8"/><ellipse cx="1036.0" cy="1714.8" rx="5.2" ry="4.8"/><ellipse cx="1003.9" cy="1731.7" rx="5.2" ry="4.8"/><ellipse cx="1102.3" cy="1751.0" rx="5.2" ry="4.8"/><ellipse cx="1047.3" cy="1759.8" rx="5.2" ry="4.8"/><ellipse cx="1030.8" cy="1761.8" rx="5.2" ry="4.8"/><ellipse cx="995.8" cy="1775.9" rx="5.2" ry="4.8"/><ellipse cx="998.6" cy="1779.9" rx="5.2" ry="4.8"/><ellipse cx="1033.2" cy="1773.9" rx="5.2" ry="4.8"/><ellipse cx="1041.2" cy="1781.9" rx="5.2" ry="4.8"/><ellipse cx="1051.3" cy="1785.5" rx="5.2" ry="4.8"/><ellipse cx="1068.1" cy="1789.1" rx="5.2" ry="4.8"/><ellipse cx="1119.2" cy="1792.4" rx="5.2" ry="4.8"/><ellipse cx="1001.9" cy="1796.4" rx="5.2" ry="4.8"/><ellipse cx="1007.9" cy="1798.4" rx="5.2" ry="4.8"/><ellipse cx="1018.7" cy="1794.0" rx="5.2" ry="4.8"/><ellipse cx="1086.2" cy="1798.0" rx="5.2" ry="4.8"/><ellipse cx="1088.2" cy="1798.0" rx="5.2" ry="4.8"/><ellipse cx="1042.0" cy="1802.4" rx="5.2" ry="4.8"/><ellipse cx="1052.9" cy="1802.4" rx="5.2" ry="4.8"/><ellipse cx="1070.2" cy="1802.0" rx="5.2" ry="4.8"/><ellipse cx="1102.3" cy="1802.4" rx="5.2" ry="4.8"/><ellipse cx="995.8" cy="1804.0" rx="5.2" ry="4.8"/><ellipse cx="998.6" cy="1807.2" rx="5.2" ry="4.8"/><ellipse cx="999.8" cy="1816.5" rx="5.2" ry="4.8"/><ellipse cx="1001.9" cy="1819.3" rx="5.2" ry="4.8"/><ellipse cx="1013.1" cy="1820.1" rx="5.2" ry="4.8"/><ellipse cx="1015.9" cy="1822.5" rx="5.2" ry="4.8"/><ellipse cx="1026.0" cy="1827.3" rx="5.2" ry="4.8"/><ellipse cx="1030.8" cy="1827.3" rx="5.2" ry="4.8"/><ellipse cx="1043.2" cy="1820.1" rx="5.2" ry="4.8"/><ellipse cx="1064.1" cy="1818.1" rx="5.2" ry="4.8"/><ellipse cx="997.0" cy="1827.3" rx="5.2" ry="4.8"/><ellipse cx="1001.9" cy="1830.5" rx="5.2" ry="4.8"/><ellipse cx="1005.9" cy="1833.3" rx="5.2" ry="4.8"/><ellipse cx="995.8" cy="1836.1" rx="5.2" ry="4.8"/><ellipse cx="1005.1" cy="1837.4" rx="5.2" ry="4.8"/><ellipse cx="1013.9" cy="1835.3" rx="5.2" ry="4.8"/><ellipse cx="1019.9" cy="1840.2" rx="5.2" ry="4.8"/><ellipse cx="1024.0" cy="1844.6" rx="5.2" ry="4.8"/><ellipse cx="1038.0" cy="1841.4" rx="5.2" ry="4.8"/><ellipse cx="1039.2" cy="1845.4" rx="5.2" ry="4.8"/><ellipse cx="1003.9" cy="1844.6" rx="5.2" ry="4.8"/><ellipse cx="835.1" cy="1788.3" rx="5.2" ry="4.8"/><ellipse cx="871.3" cy="1806.4" rx="5.2" ry="4.8"/><ellipse cx="880.5" cy="1819.3" rx="5.2" ry="4.8"/><ellipse cx="873.3" cy="1827.3" rx="5.2" ry="4.8"/><ellipse cx="877.3" cy="1826.5" rx="5.2" ry="4.8"/><ellipse cx="839.1" cy="1834.5" rx="5.2" ry="4.8"/><ellipse cx="860.4" cy="1834.1" rx="5.2" ry="4.8"/><ellipse cx="868.5" cy="1837.4" rx="5.2" ry="4.8"/><ellipse cx="852.4" cy="1839.4" rx="5.2" ry="4.8"/><ellipse cx="883.3" cy="1833.3" rx="5.2" ry="4.8"/><ellipse cx="884.1" cy="1840.6" rx="5.2" ry="4.8"/><ellipse cx="829.9" cy="1845.4" rx="5.2" ry="4.8"/><ellipse cx="843.2" cy="1844.6" rx="5.2" ry="4.8"/><ellipse cx="1032.0" cy="1827.3" rx="5.2" ry="4.8"/><ellipse cx="1009.9" cy="1829.3" rx="5.2" ry="4.8"/></g>
<path d="M694.5 1679.5 V1854.6 H1183.9" fill="none" stroke="#222" stroke-width="2.2"/>
<line x1="689.5" y1="1846.6" x2="694.5" y2="1846.6" stroke="#222" stroke-width="2" />
<text x="682.0" y="1855.6" font-size="25" fill="#000" text-anchor="end" >0</text>
<line x1="689.5" y1="1813.2" x2="694.5" y2="1813.2" stroke="#222" stroke-width="2" />
<text x="682.0" y="1822.2" font-size="25" fill="#000" text-anchor="end" >25</text>
<line x1="689.5" y1="1781.1" x2="694.5" y2="1781.1" stroke="#222" stroke-width="2" />
<text x="682.0" y="1790.1" font-size="25" fill="#000" text-anchor="end" >50</text>
<line x1="689.5" y1="1747.8" x2="694.5" y2="1747.8" stroke="#222" stroke-width="2" />
<text x="682.0" y="1756.8" font-size="25" fill="#000" text-anchor="end" >75</text>
<line x1="689.5" y1="1714.8" x2="694.5" y2="1714.8" stroke="#222" stroke-width="2" />
<text x="682.0" y="1723.8" font-size="25" fill="#000" text-anchor="end" >100</text>
<line x1="689.5" y1="1682.7" x2="694.5" y2="1682.7" stroke="#222" stroke-width="2" />
<text x="682.0" y="1691.7" font-size="25" fill="#000" text-anchor="end" >125</text>
<line x1="717.4" y1="1854.6" x2="717.4" y2="1859.6" stroke="#222" stroke-width="2" />
<text x="717.4" y="1883.5" font-size="25" fill="#000" text-anchor="middle" >-1</text>
<line x1="828.5" y1="1854.6" x2="828.5" y2="1859.6" stroke="#222" stroke-width="2" />
<line x1="939.6" y1="1854.6" x2="939.6" y2="1859.6" stroke="#222" stroke-width="2" />
<text x="939.6" y="1883.5" font-size="25" fill="#000" text-anchor="middle" >0</text>
<line x1="1050.7" y1="1854.6" x2="1050.7" y2="1859.6" stroke="#222" stroke-width="2" />
<line x1="1161.8" y1="1854.6" x2="1161.8" y2="1859.6" stroke="#222" stroke-width="2" />
<text x="1161.8" y="1883.5" font-size="25" fill="#000" text-anchor="middle" >1</text>
<text x="866.0" y="1913.0" font-size="32">Log<tspan font-size="21" dy="7">2</tspan><tspan dy="-7">FC</tspan></text>
<text x="0" y="0" font-size="32" transform="translate(625.0,1801.2) rotate(-90)">-Log<tspan font-size="21" dy="7">10</tspan><tspan dy="-7">p</tspan></text>
<text x="1082.0" y="1712.8" font-size="22" fill="#000" text-anchor="start" >Adamts3</text>
<text x="1112.3" y="1769.0" font-size="22" fill="#000" text-anchor="start" >Fgf10</text>
<text x="1077.0" y="1831.3" font-size="22" fill="#000" text-anchor="start" >Negr1</text>
<text x="750.7" y="1765.0" font-size="22" fill="#000" text-anchor="start" >Tgfbi</text>
<line x1="1054.1" y1="1757.0" x2="1087.1" y2="1732.1" stroke="#000" stroke-width="4.5"/>
<polygon points="1101.5,1721.2 1091.5,1741.3 1079.5,1725.3" fill="#000"/>
<line x1="1067.3" y1="1785.9" x2="1095.6" y2="1774.8" stroke="#000" stroke-width="4.5"/>
<polygon points="1112.3,1768.2 1097.4,1784.9 1090.1,1766.3" fill="#000"/>
<line x1="1001.9" y1="1839.4" x2="1060.6" y2="1827.0" stroke="#000" stroke-width="4.5"/>
<polygon points="1078.2,1823.3 1060.7,1837.2 1056.6,1817.6" fill="#000"/>
<line x1="821.1" y1="1781.9" x2="816.1" y2="1779.4" stroke="#000" stroke-width="4.5"/>
<polygon points="800.2,1771.1 822.5,1771.4 813.3,1789.2" fill="#000"/>
<text x="1236.5" y="450.8" font-size="29.3" fill="#eb1400" text-anchor="start" >ECM Hydrogel Enrichment</text>
<text x="1236.0" y="482.7" font-size="26.1" fill="#000" text-anchor="start" >GO Term</text>
<text x="1712.7" y="482.7" font-size="25.6" fill="#000" text-anchor="end" >Adj. p-val</text>
<rect x="1236.0" y="487.9" width="477.0" height="3.2" fill="#000" />
<text x="1236.5" y="518.3" font-size="26.1" fill="#000" text-anchor="start" >Regulation of catalytic activity</text>
<text x="1709.5" y="518.3" font-size="25.8" fill="#000" text-anchor="end" >1.3e-05</text>
<text x="1236.5" y="549.4" font-size="26.1" fill="#000" text-anchor="start" >Endocytosis</text>
<text x="1709.5" y="549.4" font-size="25.8" fill="#000" text-anchor="end" >6.6e-05</text>
<text x="1236.5" y="580.5" font-size="26.1" fill="#000" text-anchor="start" >Reg. of immune process</text>
<text x="1709.5" y="580.5" font-size="25.8" fill="#000" text-anchor="end" >1.5e-03</text>
<text x="1236.5" y="611.6" font-size="26.1" fill="#000" text-anchor="start" >Neg. reg. of stimulus response</text>
<text x="1709.5" y="611.6" font-size="25.8" fill="#000" text-anchor="end" >3.0e-03</text>
<text x="1236.5" y="642.7" font-size="26.1" fill="#000" text-anchor="start" >Circulatory system dev.</text>
<text x="1709.5" y="642.7" font-size="25.8" fill="#000" text-anchor="end" >7.5e-03</text>
<text x="1236.5" y="673.8" font-size="26.1" fill="#000" text-anchor="start" >Wound healing</text>
<text x="1709.5" y="673.8" font-size="25.8" fill="#000" text-anchor="end" >1.1e-02</text>
<text x="1236.5" y="704.9" font-size="26.1" fill="#000" text-anchor="start" >Hemopoiesis</text>
<text x="1709.5" y="704.9" font-size="25.8" fill="#000" text-anchor="end" >4.2e-02</text>
<text x="1236.5" y="844.6" font-size="29.3" fill="#eb1400" text-anchor="start" >ECM Hydrogel Enrichment</text>
<text x="1236.0" y="876.5" font-size="26.1" fill="#000" text-anchor="start" >GO Term</text>
<text x="1712.7" y="876.5" font-size="25.6" fill="#000" text-anchor="end" >Adj. p-val</text>
<rect x="1236.0" y="882.3" width="477.0" height="3.2" fill="#000" />
<text x="1236.5" y="911.6" font-size="26.1" fill="#000" text-anchor="start" >Cell motility</text>
<text x="1709.5" y="911.6" font-size="25.8" fill="#000" text-anchor="end" >9.1e-06</text>
<text x="1236.5" y="942.6" font-size="26.1" fill="#000" text-anchor="start" >Circulatory system dev.</text>
<text x="1709.5" y="942.6" font-size="25.8" fill="#000" text-anchor="end" >9.1e-06</text>
<text x="1236.5" y="973.6" font-size="26.1" fill="#000" text-anchor="start" >Vasculature dev.</text>
<text x="1709.5" y="973.6" font-size="25.8" fill="#000" text-anchor="end" >1.9e-05</text>
<text x="1236.5" y="1004.5" font-size="26.1" fill="#000" text-anchor="start" >Tube morphogenesis</text>
<text x="1709.5" y="1004.5" font-size="25.8" fill="#000" text-anchor="end" >4.9e-05</text>
<text x="1236.5" y="1035.5" font-size="26.1" fill="#000" text-anchor="start" >Angiogenesis</text>
<text x="1709.5" y="1035.5" font-size="25.8" fill="#000" text-anchor="end" >7.6e-05</text>
<text x="1236.5" y="1066.5" font-size="26.1" fill="#000" text-anchor="start" >Cell adhesion</text>
<text x="1709.5" y="1066.5" font-size="25.8" fill="#000" text-anchor="end" >2.0e-04</text>
<text x="1236.5" y="1097.5" font-size="26.1" fill="#000" text-anchor="start" >Endothelial cell migration</text>
<text x="1709.5" y="1097.5" font-size="25.8" fill="#000" text-anchor="end" >1.2e-03</text>
<text x="1236.5" y="1254.0" font-size="29.3" fill="#eb1400" text-anchor="start" >ECM Hydrogel Enrichment</text>
<text x="1236.0" y="1289.0" font-size="26.1" fill="#000" text-anchor="start" >GO Term</text>
<text x="1714.0" y="1289.0" font-size="25.6" fill="#000" text-anchor="end" >Adj. p-val</text>
<rect x="1236.0" y="1293.9" width="477.6" height="3.2" fill="#000" />
<text x="1236.5" y="1323.2" font-size="26.1" fill="#000" text-anchor="start" >Muscle structure dev.</text>
<text x="1711.0" y="1323.2" font-size="25.8" fill="#000" text-anchor="end" >1.5e-14</text>
<text x="1236.5" y="1354.5" font-size="26.1" fill="#000" text-anchor="start" >Cell adhesion</text>
<text x="1711.0" y="1354.5" font-size="25.8" fill="#000" text-anchor="end" >3.1e-07</text>
<text x="1236.5" y="1385.7" font-size="26.1" fill="#000" text-anchor="start" >Actin filament-based process</text>
<text x="1711.0" y="1385.7" font-size="25.8" fill="#000" text-anchor="end" >3.6e-07</text>
<text x="1236.5" y="1417.0" font-size="26.1" fill="#000" text-anchor="start" >Heart dev.</text>
<text x="1711.0" y="1417.0" font-size="25.8" fill="#000" text-anchor="end" >1.3e-06</text>
<text x="1236.5" y="1448.2" font-size="26.1" fill="#000" text-anchor="start" >Sarcomere</text>
<text x="1711.0" y="1448.2" font-size="25.8" fill="#000" text-anchor="end" >1.7e-06</text>
<text x="1236.5" y="1479.5" font-size="26.1" fill="#000" text-anchor="start" >Cell junction organization</text>
<text x="1711.0" y="1479.5" font-size="25.8" fill="#000" text-anchor="end" >6.2e-05</text>
<text x="1236.5" y="1510.7" font-size="26.1" fill="#000" text-anchor="start" >Heparin binding</text>
<text x="1711.0" y="1510.7" font-size="25.8" fill="#000" text-anchor="end" >8.2e-05</text>
<text x="1236.5" y="1634.6" font-size="29.3" fill="#eb1400" text-anchor="start" >ECM Hydrogel Enrichment</text>
<text x="1236.0" y="1667.2" font-size="26.1" fill="#000" text-anchor="start" >GO Term</text>
<text x="1722.2" y="1667.2" font-size="25.6" fill="#000" text-anchor="end" >Adj. p-val</text>
<rect x="1236.0" y="1673.9" width="492.0" height="3.2" fill="#000" />
<text x="1236.5" y="1703.2" font-size="26.1" fill="#000" text-anchor="start" >External encapsulating structure</text>
<text x="1720.6" y="1703.2" font-size="25.8" fill="#000" text-anchor="end" >1.5e-05</text>
<text x="1236.5" y="1734.3" font-size="26.1" fill="#000" text-anchor="start" >Cell adhesion</text>
<text x="1720.6" y="1734.3" font-size="25.8" fill="#000" text-anchor="end" >1.5e-05</text>
<text x="1236.5" y="1765.4" font-size="26.1" fill="#000" text-anchor="start" >Collagen ECM</text>
<text x="1720.6" y="1765.4" font-size="25.8" fill="#000" text-anchor="end" >1.0e-04</text>
<text x="1236.5" y="1796.4" font-size="26.1" fill="#000" text-anchor="start" >Glycosaminoglycan binding</text>
<text x="1720.6" y="1796.4" font-size="25.8" fill="#000" text-anchor="end" >5.9e-04</text>
<text x="1236.5" y="1827.5" font-size="26.1" fill="#000" text-anchor="start" >Reg. of cell death</text>
<text x="1720.6" y="1827.5" font-size="25.8" fill="#000" text-anchor="end" >3.9e-03</text>
<text x="1236.5" y="1858.6" font-size="26.1" fill="#000" text-anchor="start" >Basement membrane</text>
<text x="1720.6" y="1858.6" font-size="25.8" fill="#000" text-anchor="end" >4.4e-03</text>
<text x="1236.5" y="1889.7" font-size="26.1" fill="#000" text-anchor="start" >Positive reg. of VEGF</text>
<text x="1720.6" y="1889.7" font-size="25.8" fill="#000" text-anchor="end" >5.7e-03</text>
<text x="1.0" y="404.0" font-size="39" fill="#000" text-anchor="start" >c</text>
<text x="3.0" y="781.0" font-size="39" fill="#000" text-anchor="start" >d</text>
<text x="1.0" y="1197.3" font-size="39" fill="#000" text-anchor="start" >e</text>
<text x="4.0" y="1587.6" font-size="39" fill="#000" text-anchor="start" >f</text>
<text x="73.2" y="443.7" font-size="29" fill="#eb1400" text-anchor="start" >ECM Hydrogel</text>
<rect x="47.5" y="455.4" width="238.5" height="7.5" fill="#ee220e" />
<text x="424.3" y="443.7" font-size="29" fill="#00a98b" text-anchor="start" >Saline</text>
<rect x="362.0" y="455.4" width="209.0" height="7.5" fill="#00a98b" />
<rect x="314.5" y="504.0" width="3.9" height="169.4" fill="#000" />
<path d="M39.0 622.0 V692.8 H115.3" fill="none" stroke="#000" stroke-width="5" stroke-linejoin="miter"/>
<polygon points="39.0,603.0 28.0,623.0 50.0,623.0" fill="#000"/>
<polygon points="134.3,692.8 114.3,681.8 114.3,703.8" fill="#000"/>
<text x="0" y="0" font-size="25" transform="translate(25.0,704.5) rotate(-90)">UMAP 2</text>
<text x="37.0" y="717.8" font-size="25" fill="#000" text-anchor="start" >UMAP 1</text>
<text x="73.2" y="837.3" font-size="29" fill="#eb1400" text-anchor="start" >ECM Hydrogel</text>
<rect x="47.5" y="850.2" width="238.5" height="7.5" fill="#ee220e" />
<text x="424.3" y="837.3" font-size="29" fill="#00a98b" text-anchor="start" >Saline</text>
<rect x="362.0" y="850.2" width="209.0" height="7.5" fill="#00a98b" />
<rect x="317.2" y="852.9" width="4.3" height="168.1" fill="#000" />
<path d="M42.0 998.4 V1065.0 H119.2" fill="none" stroke="#000" stroke-width="5" stroke-linejoin="miter"/>
<polygon points="42.0,979.4 31.0,999.4 53.0,999.4" fill="#000"/>
<polygon points="138.2,1065.0 118.2,1054.0 118.2,1076.0" fill="#000"/>
<text x="0" y="0" font-size="25" transform="translate(31.5,1074.8) rotate(-90)">UMAP 2</text>
<text x="43.6" y="1092.3" font-size="25" fill="#000" text-anchor="start" >UMAP 1</text>
<text x="73.2" y="1254.3" font-size="29" fill="#eb1400" text-anchor="start" >ECM Hydrogel</text>
<rect x="47.5" y="1266.8" width="238.5" height="7.5" fill="#ee220e" />
<text x="424.3" y="1254.3" font-size="29" fill="#00a98b" text-anchor="start" >Saline</text>
<rect x="362.0" y="1266.8" width="209.0" height="7.5" fill="#00a98b" />
<rect x="312.6" y="1302.6" width="4.3" height="169.7" fill="#000" />
<path d="M35.8 1431.7 V1497.6 H110.6" fill="none" stroke="#000" stroke-width="5" stroke-linejoin="miter"/>
<polygon points="35.8,1412.7 24.8,1432.7 46.8,1432.7" fill="#000"/>
<polygon points="129.6,1497.6 109.6,1486.6 109.6,1508.6" fill="#000"/>
<text x="0" y="0" font-size="25" transform="translate(24.0,1510.0) rotate(-90)">UMAP 2</text>
<text x="35.8" y="1524.5" font-size="25" fill="#000" text-anchor="start" >UMAP 1</text>
<text x="73.2" y="1635.9" font-size="29" fill="#eb1400" text-anchor="start" >ECM Hydrogel</text>
<rect x="47.5" y="1648.7" width="238.5" height="7.5" fill="#ee220e" />
<text x="424.3" y="1635.9" font-size="29" fill="#00a98b" text-anchor="start" >Saline</text>
<rect x="362.0" y="1648.7" width="209.0" height="7.5" fill="#00a98b" />
<rect x="313.7" y="1672.0" width="4.3" height="169.4" fill="#000" />
<path d="M38.9 1817.6 V1885.0 H117.2" fill="none" stroke="#000" stroke-width="5" stroke-linejoin="miter"/>
<polygon points="38.9,1798.6 27.9,1818.6 49.9,1818.6" fill="#000"/>
<polygon points="136.2,1885.0 116.2,1874.0 116.2,1896.0" fill="#000"/>
<text x="0" y="0" font-size="25" transform="translate(26.5,1895.9) rotate(-90)">UMAP 2</text>
<text x="40.9" y="1909.5" font-size="25" fill="#000" text-anchor="start" >UMAP 1</text>
<text x="-0.5" y="1975.5" font-size="39" fill="#000" text-anchor="start" >g</text>
<text x="572.2" y="1977.8" font-size="34.1" fill="#000" text-anchor="start" >Overview of Findings in Subacute Model</text>
<text x="274.0" y="2067.3" font-size="29" fill="#000" text-anchor="start" >Resident Macrophage</text>
<text x="274.0" y="2101.0" font-size="29" fill="#000" text-anchor="start" >Preservation</text>
<text x="274.0" y="2213.7" font-size="29" fill="#000" text-anchor="start" >Vascular Development</text>
<text x="274.0" y="2325.8" font-size="29" fill="#000" text-anchor="start" >Cardiomyocyte Survival</text>
<text x="274.0" y="2360.0" font-size="29" fill="#000" text-anchor="start" >and Development</text>
<text x="276.6" y="2477.7" font-size="29" fill="#000" text-anchor="start" >Fibroblast Activation</text>
<text x="941.6" y="2067.3" font-size="29" fill="#000" text-anchor="start" >Smooth Muscle Cell</text>
<text x="941.6" y="2101.0" font-size="29" fill="#000" text-anchor="start" >Proliferation</text>
<text x="941.6" y="2197.5" font-size="29" fill="#000" text-anchor="start" >T-cell Polarization</text>
<text x="941.6" y="2322.0" font-size="29" fill="#000" text-anchor="start" >Neurogenesis and</text>
<text x="941.6" y="2357.3" font-size="29" fill="#000" text-anchor="start" >Axonal Growth</text>
<text x="941.6" y="2465.8" font-size="29" fill="#000" text-anchor="start" >Lymphatic Endothelial</text>
<text x="941.6" y="2500.0" font-size="29" fill="#000" text-anchor="start" >Cell Growth</text>
<line x1="346.0" y1="2130.8" x2="696.0" y2="2130.8" stroke="#333" stroke-width="2" />
<line x1="346.0" y1="2260.7" x2="696.0" y2="2260.7" stroke="#333" stroke-width="2" />
<line x1="346.0" y1="2388.7" x2="696.0" y2="2388.7" stroke="#333" stroke-width="2" />
<line x1="1024.0" y1="2130.8" x2="1375.0" y2="2130.8" stroke="#333" stroke-width="2" />
<line x1="1024.0" y1="2258.0" x2="1375.0" y2="2258.0" stroke="#333" stroke-width="2" />
<line x1="1024.0" y1="2388.7" x2="1375.0" y2="2388.7" stroke="#333" stroke-width="2" />
<path d="M147.4 484.4h0m9 3h0m-10.1 .1h0m-18.2 1.1h0m-.9-.2h0m-3.6 2.3h0m14.1 .1h0m5.6 .4h0m13.1 1.8h0m4.9 1.9h0m.5-1.3h0m.1 6h0m-5.4-3.5h0m-6.6 1.6h0m-24.2-.8h0m-3.2 2.4h0m-.2-.6h0m-5.7-1.8h0m-.9-.4h0m-1.3 3.4h0m.7 3.2h0m.5-1.2h0m2.3 2.7h0m12.5-2.5h0m20.2 0h0m20.8-2.1h0m-4.5 6.4h0m-2.2 1.2h0m-1.6 2h0m-13 0h0m-2.4-3.3h0m-.8-.3h0m-10.4 .9h0m-18.6-1.4h0m-14.5 2.9h0m-.9 2.6h0m10.9 3.1h0m11.7-2h0m48.1-.7h0m2.6-1.4h0m10.5 .6h0m9 5h0m-1.8 3h0m-2.1-1.4h0m-5.9-.4h0m-.2 .5h0m-3.1-.1h0m-1.4-1.4h0m-12.1 1.3h0m-.5-1.9h0m-10.5 2.7h0m-.7-2h0m-.4 4h0m-1.8-.6h0m-17-1.4h0m-7.9-2.8h0m-6.7 1.8h0m-5.2 1.1h0m-.4-1.7h0m-1.5 3.1h0m-8.7 .3h0m-1.3-1.2h0m-12.9 4.5h0m2.3-.7h0m6.5-2h0m5.7 1.1h0m3.7 1.5h0m2.6-1.5h0m10.7 1.7h0m7.1-.6h0m1.8 .2h0m3.7-1.4h0m7 2.1h0m15.9-2.6h0m.4 3.8h0m7.5-3h0m.2 3.2h0m.4-4h0m11.4 1.8h0m23 .2h0m1.7-.4h0m2.6 2.3h0m2.8 2.8h0m-33-2.4h0m-.2 2h0m-7.1 .2h0m0 .6h0m-4.8-2.2h0m-5.9 .9h0m-.1-.6h0m-1.8-.4h0m-38.4 2.1h0m-4.5-1.3h0m-1.9-1.4h0m-4 .1h0m-1.6 1.2h0m-5.9 3h0m-5.5 4.8h0m7.4-1.6h0m18.6 1.6h0m16.4-2.8h0m9.2-.8h0m6.8 2.4h0m2.3 .9h0m6.8 .9h0m8.9-4.1h0m.6 .8h0m3.8 1.2h0m2.1-1.2h0m3.3 .9h0m13.2-1.8h0m2.4 1.1h0m2.3 2.7h0m10.4-3.1h0m-7.5 8h0m-6.3-1.6h0m-.4-2.6h0m-24.1 .3h0m-1.8 .8h0m-1.1 2.6h0m-13.5-1.2h0m-2.4 1.9h0m-17.6-3.7h0m-3.5 4h0m-15-3h0m-1.6-1.2h0m-7.3 2.2h0m-6.2-.3h0m-.9-.9h0m-6.3 .6h0m18.8 7.2h0m7.7-1.3h0m.1 1.9h0m5.4-.9h0m2.1-3.3h0m6.2 .6h0m6.3 0h0m12.2 .1h0m1.7 3.2h0m15.2-.5h0m11.7-1.2h0m12.6 .4h0m0-1.6h0m5 6.2h0m-22 0h0m-.8 .5h0m-9.7-2.5h0m-.1 1.5h0m-2 .3h0m-5.8 .8h0m-5.5-.9h0m-2.8-2.4h0m-2.5 3h0m-21-3.1h0m-12.2 .2h0m-4.1 2h0m-6.3-2h0m-2.6 1.6h0m.8 5.1h0m20.3 1.3h0m6.4-2.8h0m.8 4.1h0m2.4-4.4h0m7.1 .3h0m.9 .8h0m2-.9h0m2.9 4.5h0m0-.4h0m11.8-4.1h0m11.3 .2h0m34.4 3.3h0m5.2 5.5h0m-2.3-3.5h0m-44.1 1h0m-1.8-1.2h0m-14.4 3.4h0m-6.3 .5h0m-3.4-.6h0m-7.1-.5h0m-11.1 1.3h0m-.6-4.2h0m-16.5 4.7h0m21.7 0h0m.9 .5h0m6.9 1h0m.7-1.1h0m24.8 2.3h0m11.1-1.4h0m1.4-.9h0m41.3 1h0m3.5 4.7h0m-.2 2.1h0m-.8-2.1h0m-51.8 .8h0m-10.6 0h0m-2.7-1.7h0m-3.4 .7h0m-6.9 1.4h0m-11 .3h0m-55.1-.1h0m0 1.3h0m-3.8-.6h0m-.4-1.9h0m-4.2 3.3h0m-2.1-2.7h0m2.8 4.2h0m7.9 .1h0m25.7 .5h0m5.3-1.3h0m6.2 3.8h0m11.4-2.1h0m6.8 1.5h0m5.1-3.3h0m9.7 2.8h0m1.8 1.5h0m.9-2.1h0m2.8 1.7h0m3.1 .1h0m.5-1.5h0m7.8 .7h0m57.8-1.5h0m.3 1h0m-60 5.9h0m-17.2-2.7h0m-2.9-.1h0m-6.2 0h0m-1 .5h0m-3.8 2.9h0m-2.5-4.2h0m-4.1 2.5h0m-4-1.6h0m-.8 1.6h0m-4.4-2.7h0m-3.1 2.6h0m-3.7-.3h0m-7.7 .9h0m-4.4-.8h0m-27.7 .5h0m-.1 5.2h0m25-.7h0m1.6-1.7h0m6.4 3.3h0m2.4-2h0m1 .4h0m.3 1.2h0m3.6 .8h0m16.5-2.4h0m10.6-1.5h0m3.2-.6h0m4.5 2.1h0m.9-.2h0m2.5-1.5h0m6 0h0m.8 4.1h0m3.3-1h0m2.3-3.2h0m6.7 2.5h0m.7 5.3h0m-.6-1h0m-.2 1.7h0m-13.1-1h0m-.1-2.3h0m-1.4 2h0m-24.4 .2h0m-9.4-1.5h0m-3.9 .9h0m-7.1 1.5h0m-1.6-3h0m-9.2 .8h0m-1.3-.3h0m.2 6.5h0m5.2 .2h0m1-2.4h0m1.5 1h0m12.5-.6h0m5.4 3.5h0m.2-.6h0m1.9 .7h0m2.4-4.3h0m.1 1.7h0m29.7-.4h0m6.2 2.4h0m113.1 0h0m4.6 3.2h0m-6.1 1.1h0m-1-3h0m-100 4h0m-.5-.9h0m-1.2-1.5h0m-4.9-.9h0m-7.8 2.8h0m-.1-1.9h0m-2.2 2.5h0m-2.4-3.9h0m-2.3-.6h0m-5.4 4.2h0m-2.2 .6h0m-.5-2.4h0m-2.8-.2h0m-2.9 2.7h0m-13.7-2.6h0m-.1-.4h0m-5.9-1.5h0m-13.1 3.5h0m-.7-3.3h0m-6 .5h0m-1.6 0h0m-5.3-.9h0m8.9 7.4h0m2.1 2.3h0m3.8-1.3h0m6 .1h0m8.1-1.3h0m4.6-1.1h0m4.8 .2h0m22.7-.5h0m2.9-.1h0m1.9-.8h0m.1 3.5h0m.4-.8h0m15.1-.9h0m1 .7h0m.2 1.4h0m91.6-2.2h0m4.5 3.1h0m.7 0h0m.7-3h0m4.2 .3h0m3.4-.3h0m8.1 5.2h0m-6.7-.2h0m-1.2-1.3h0m-1.7 2.1h0m-4 0h0m-1.6-1.4h0m-.4 2h0m-.5-.5h0m-5.5-.8h0m-116.3 2h0m-3.9-3.7h0m-.5 .9h0m-5.1 0h0m-.7 1.9h0m-5.6-3.1h0m-5.6 .5h0m-6.2 .8h0m-.3 3.5h0m-6.4-3.1h0m-7.8-1h0m-5.1 1.6h0m-14.4-.5h0m-1.6 1.9h0m-.1 1.1h0m-5.2-.4h0m-.5-.1h0m-1.6 .6h0m-4.3 3.7h0m3.3-3.4h0m.9 3.9h0m25.2-2.3h0m5.8 .6h0m10.4-1.1h0m4.4 0h0m19.9 3h0m3.4 .2h0m2.6-1.1h0m9.4 0h0m.8-1h0m4.9 .6h0m98.8 1.9h0m1.8-.4h0m4.1-3.4h0m2.9 2.1h0m3.2-.1h0m.7 .9h0m2.4-1.4h0m1.1 1.6h0m.1-3.9h0m12.6 3.8h0m-10.9 4.6h0m-.2-2.9h0m-.8 1.4h0m-.2-1.7h0m-2.7 2h0m-.8-2.2h0m-.4 2.3h0m-.2 1.4h0m-10-1.7h0m-9.1 2.4h0m-21.4-3.2h0m-66.3 1.5h0m-2.2-1h0m-9.2-1.5h0m-.5 2.1h0m-10.3 2.1h0m-1.1-1.4h0m-1.3 .1h0m-7.1-2.2h0m-11.6 2.4h0m-.1 .1h0m-15.8-.1h0m-16.1 1.2h0m-.8-1.6h0m-3.3-.6h0m-14.7 1h0m-2.6-.7h0m-2-1.1h0m-7.7 1.5h0m2.2 3.1h0m8.7 1.6h0m8.6-1.8h0m6.1 2.2h0m3 .7h0m2.1-1.3h0m4.4-2.6h0m153.7 1.1h0m4.6 .8h0m14.6 2.8h0m.1-4.6h0m1.2-.1h0m.9 1.2h0m3.9 .5h0m3.1-1.3h0m7 4h0m.7-4.4h0m1.5 3.3h0m11.4 2.4h0m-1.1 1.4h0m-6.9-2.2h0m-3.1 4h0m-11.2-2.6h0m-4.1 .7h0m-1.9-.5h0m-7.5 .2h0m9.3 4.9h0m.7 2.6h0m2.7-1.1h0m10.7 1.2h0m5.4-2.8h0m9.2 6.1h0m-4.7 .9h0m-1.9 .2h0m-.9-3.9h0m-.1 .6h0m-11.5 1.6h0m-1.5-.9h0m-3.1 2.1h0m-2.4-.6h0m-2.6 1.6h0m-13.6-1h0m-1.3-1h0m15.5 3.8h0m4.9 .7h0m7.3-1.9h0m.3 3.7h0m4.1 2.7h0m-.2 2h0m-2.1 0h0m-6.5-1.3h0m-2.9-.5h0m-144 11.2h0m-1.5 .7h0m-8.8-.1h0m-.5 .4h0m-4.1-2.1h0m-1.8 1.2h0m-16.2 1.1h0m-2.6 5.2h0m3.9-.8h0m1.5-1.5h0m.2-.8h0m4.8 1h0m.7 0h0m.8 2.4h0m3.3-3.5h0m0 2.1h0m1.3-.2h0m2.6 .9h0m3-1.8h0m6.5 1.3h0m1.2-2.4h0m5.9 0h0m6 .6h0m2.6 .7h0m-50 2.8h0" stroke="#6b6b6b" stroke-width="4.00" stroke-linecap="round" fill="none"/>
<path d="M163.8 569.9h0m64.6 5.7h0m-22.7 1.8h0m-32.1 2.2h0m52.3 5h0m10.4-4.3h0m-17.1 7.7h0m-22-.8h0m-28.3-.1h0m-2.4 2.4h0m-21 4.4h0m69.4 1.4h0m-115.1 8.3h0m48.3-.9h0m2.1 1.5h0m69.9 3.7h0m-14.5 .7h0m-38.5-2.6h0m-9.1 1.9h0m-2-2.6h0m67.7 6.1h0m-158.2 5.4h0m75.6 5.2h0m104.1 2.9h0m.1-3.4h0m-76.6 10.3h0m65.9-.3h0m4.7 5.1h0m-27.1 1.6h0m-33.2-1.8h0m-2.9-.5h0m-.2 3.5h0m-3.7-1.4h0m-11.9-.1h0m-3.4 1.3h0m-4.2-1.8h0m-.1 1.3h0m-1.3 .1h0m-.6 1.1h0m1 1.7h0m19.8 .7h0m2.2 1.5h0m8.2 0h0m.3 0h0m.3 .2h0m12.6-1h0m2.4 1.4h0m2.1-.5h0m3.6-1h0m3 1.6h0m1.6-4.2h0m4.4 .1h0m1.3 1.9h0m2.4 2.5h0m3-4.5h0m4.1 7.9h0m-2.8-.3h0m-3.5 0h0m-5.2 1.6h0m-.9-1.3h0m-7.6-3.1h0m-.1 2.4h0m-.1 2.1h0m-5.6-.7h0m-3.2-2.9h0m-4.5-1h0m-5.2 1.7h0m-3 2.8h0m-.6 .2h0m-.3-2.1h0m-3.7 1.2h0m-.1-2.7h0m-1.3 1.8h0m-.8-1h0m-1.8 .7h0m-.3-.6h0m-1.2-1h0m-1.2 1.6h0m-7.2-2h0m-4.2 3.4h0m-1.5 .5h0m-1.6-.3h0m-3.8-1.4h0m-2 .7h0m-.4 1.3h0m-.9-4.6h0m-2.6 6.9h0m1.6 2.1h0m4.4 .3h0m2-3.3h0m5.5-1.1h0m.1 2h0m.5 1.6h0m.2-1.9h0m7.5 0h0m3.3 1h0m1.4-.1h0m1.7-2.7h0m1.7 3.9h0m1.8-.2h0m.1-3.3h0m1.3 2.7h0m8.3-1.7h0m.9 2.7h0m5.7-.6h0m.6-3.1h0m2.5 1.9h0m1 1.6h0m1-.1h0m.4 .6h0m3.5-2.2h0m1.2-1.8h0m2.5 2.8h0m1.2-.7h0m5.3-1h0m4.1 2.4h0m2-3.1h0m-11.2 5.6h0m-.9-.9h0m-3.1-.2h0m-.5 2.7h0m-6.4 0h0m-4.7 1.9h0m-.7-.8h0m-.8-1.2h0m0-1.1h0m-.6-1.8h0m-1.3 3.2h0m-2.7-.8h0m-2.5 1.5h0m-4.2-1.4h0m-5.4 1.7h0m-5-3.8h0m-1.1 .4h0m-1.1 .4h0m-5.5 3.2h0m-5.7 .3h0m-.8-2.4h0m-2.7 1.6h0m-4.2-.5h0m-.9-1.3h0m-4.4-1.1h0m-18.3 8.2h0m29.6-2.4h0m1.7 .8h0m2.5 .8h0m.8-1.7h0m5.5 2.1h0m.6-1.5h0m.5 1.6h0m.6 .7h0m5.9-2.5h0m.1-1.8h0m2.9 2.6h0m.4-2h0m2.2 .3h0m5 3.2h0m8.3-4.3h0m.8 4.5h0m5.6-4h0m6-.2h0m3.7 1.9h0m3.3 .3h0m1 0h0m1.3-.9h0m-10.1 3.7h0m-.3 2.9h0m-6.1 1.5h0m-2.8-3.1h0m-8.8 .6h0m-10.6 1.1h0m-.9-2.8h0m-.2 .3h0m-2.3-.9h0m-2.1 2.3h0m-5-1.1h0m-.6 3.6h0m-.2-.1h0m-.8-.4h0m3.6 3.3h0m.1-.8h0m1.7-.3h0m.9-1.3h0m5.9 1.3h0m1.1 .9h0m1.8-2.2h0m6.3 3.8h0m3-2.9h0m1 3h0m.9 .7h0m4.7-1.5h0m0 .6h0m2.2-2.4h0m.9 1.7h0m-7.8 4h0m-.6-2.2h0m-1.3 1.2h0m-2.5-.5h0m-5.4 .6h0" stroke="#139b7a" stroke-width="4.00" stroke-linecap="round" fill="none"/>
<path d="M214.1 530.7h0m1.7 2.3h0m1.1-.2h0m.8-.1h0m1.6 1.8h0m1.3-.4h0m.6-.2h0m13.1 5.2h0m-5.8-.1h0m-1.2-.5h0m-4.2-2.1h0m-.2 .6h0m-1.5 .6h0m-2.6 .7h0m-.4-.3h0m-2 1h0m-.6 3.7h0m.5 .2h0m.2 1.9h0m1.1-2.2h0m.3 .2h0m.6-2.3h0m.5 4.1h0m.4-.1h0m1.6-3h0m.2 1.8h0m1.9-.4h0m.9-2.1h0m1.2 2h0m1.5 .4h0m.6-1.4h0m5.6 2.1h0m2.7 1h0m.2-1.5h0m1.4 .9h0m.8-1.1h0m1-1.5h0m2.9 2.1h0m3.4 .5h0m3.7 5.6h0m-10.3-4.9h0m-6.2 1.9h0m-3.6-.2h0m-.9 1.3h0m-3.4-2.3h0m-.2-.3h0m-4.8 3.7h0m2.9 3h0m.6 1.3h0m1.1-.3h0m1.1 .8h0m2.1-2.9h0m.9 3.2h0m1-1.8h0m2.6-.1h0m.3-.8h0m.6 1h0m.2 1.7h0m2.5-1.7h0m2.4-1.5h0m.4-1h0m.9 1.5h0m2.7 2.4h0m.8-1.8h0m1.4 1.9h0m1.7 .4h0m.3-3h0m1.5 1.3h0m.7 1.5h0m1.5-.1h0m2.9-.2h0m.2-.1h0m3.8-2.3h0m.3 1.1h0m2.3 1.9h0m3.4 3.4h0m-1.2 1.4h0m-.7-1.1h0m-4-1.5h0m-.2 2.5h0m-.5-3.2h0m-1-.2h0m-.6 2.9h0m-.7-1.6h0m0-1.4h0m-.9 3.3h0m-.5 .6h0m-.4-3.4h0m-1.7 1.1h0m-.9 1h0m-.6-2.8h0m-3.6 4.3h0m-2.1-2.8h0m-1.1 .3h0m-1.1 .2h0m-.2-.6h0m-1.3-.4h0m-1.4 .8h0m-1.2-2h0m-2.1 2.1h0m-.8 .6h0m-1.6-2.9h0m-1.2 2.8h0m-4.1-.7h0m-.9-1.9h0m-40.5 2.6h0m-3.1 3.6h0m45.6-1.5h0m3.6 4.5h0m4.2 .2h0m1-.3h0m2.6-2.4h0m.3 1.5h0m1.9-.2h0m.6-2h0m3-.3h0m1.8 3.8h0m3.5-4.4h0m1.5 2.1h0m.4-1.2h0m1.6 .2h0m7.1-.1h0m3.2 .1h0m.6 3.1h0m1.5-1.3h0m.8-1.5h0m.1 3h0m.1-.7h0m2.8 .5h0m-.2 .6h0m-1.9 2.3h0m-1.7 1.7h0m-.1-1.2h0m-3.1-2.2h0m-1 1.6h0m-.4-1.8h0m-.1-.4h0m-2-.2h0m-.2 .8h0m-5.1 .2h0m-.5 1.6h0m-.5-.5h0m-1 1.7h0m-.4-3.1h0m-1.1 1h0m-2.6-.7h0m-1.2-.6h0m-6.3 .5h0m-.2 .1h0m-2.3-.4h0m-167.6 .7h0m-4.4 .7h0m82.6 3.2h0m35.6 4.3h0m23-4.1h0m33.3-.4h0m2.1 .3h0m.6 4.4h0m.1-3.6h0m.4 .8h0m1.4-.9h0m5.3 1.3h0m0 2.3h0m2.5-.6h0m.7-3.5h0m.3 3.6h0m.6-1h0m.2 1.1h0m1.3-2.9h0m2.4 2.9h0m7.3-1h0m3.2 .2h0m1.2 .5h0m1.1-3.9h0m0 2.1h0m.5 2.7h0m1.7-3.8h0m.4 6h0m-.3-1.3h0m-1.7 .4h0m-.2 2.9h0m-.7-.1h0m-5.8-2.3h0m-3.5 0h0m-.9 3.3h0m-.8-3.5h0m-1.1 .1h0m-1.5 1.3h0m-.6-1.6h0m-5.3 3.2h0m-1.4-.8h0m-.6-1.3h0m-1-1.6h0m-14.8 2.3h0m-14.4 .5h0m-15.5-3.2h0m-52.5 2.8h0m-52.7 4.4h0m104.9 1.3h0m15.7-2.9h0m33.5 3h0m5.7-2h0m1.2-.3h0m3.7-1h0m.8 2h0m1.3-.3h0m.6-.1h0m2.6-1.2h0m2.6 3.6h0m4.1 .1h0m.7-3h0m.4 .4h0m1.2 .9h0m2.8 1.9h0m.9-4.7h0m.5 .8h0m1.1 .2h0m.2-.2h0m4.4 8.3h0m-1-.8h0m-4.7 1.2h0m-.8-3.1h0m-.2 .4h0m-1.5 1.1h0m-.9 1.2h0m-.2-1.5h0m-4.5-1.9h0m-.3 3.2h0m-1.6-3.4h0m-1.4 3.5h0m-.5-1.8h0m-1.8 1.2h0m-.6-1.1h0m-1.1-2.5h0m-1.9 .1h0m-1.4 3.5h0m-2.5-2.2h0m-1.4 1.3h0m-.6-1.7h0m-1.6 .2h0m-17.3 3.5h0m-6.1-2.9h0m-29.3-1.3h0m7.7 8.6h0m.9-1.3h0m2.5-1.5h0m27 2.2h0m6.4-3.3h0m10.5 2h0m2.7-1.6h0m2.8 3.1h0m.7-3.5h0m2 .9h0m3.4 .7h0m.1-.8h0m2.3 1.3h0m2.3 2.6h0m.2-1.7h0m.6-2.9h0m.4 .4h0m.8 0h0m.1-.3h0m1.7 2.7h0m2.6-3.1h0m1 3.1h0m1.5 1.3h0m.4-1.2h0m.9 1.1h0m3.4-1h0m-1.5 5.9h0m-1.5-1.5h0m-.7 2.1h0m0-4.5h0m-5.1 .5h0m-7.1 1.5h0m-.2-1.4h0m-3.4-.6h0m-3.1 4.4h0m-11.7-3.5h0m-32.4-1.1h0m-79.1 5.9h0m103.3 1.2h0m26.2 .7h0m.7 .4h0m.1 .2h0m4.8 .9h0m0-3.9h0m.1 0h0m.8 1.6h0m.3-1.7h0m.3 2.7h0m.3 1.6h0m1.2-2.6h0m1.1 2.5h0m2.1-1h0m1.6-3.4h0m-35.3 5.2h0m-124.3-.1h0m-26.4 5.3h0m142.7 2.5h0m-101.3 6.3h0m-37-3.5h0m35.2 6.1h0" stroke="#e3000f" stroke-width="4.00" stroke-linecap="round" fill="none"/>
<path d="M426.5 489.9h0m-23.3 2.7h0m2.2 1.7h0m2 0h0m9.3 .1h0m.1-2.7h0m.8-1.2h0m1 2.1h0m3.9 .4h0m7-2.6h0m1.3-.4h0m.9 1h0m2.7 3.9h0m4 3.1h0m-6.5 1.5h0m-4.4-2.3h0m-2.1 .6h0m-1.1-1.7h0m-5.1 3.4h0m-8.9-4.2h0m-8 3.4h0m-.2-2.4h0m-10.5 .6h0m-6.5 7.8h0m11.7-2.6h0m4.1 2.4h0m1.9-.4h0m.8 0h0m1-2.8h0m2.3 2.5h0m.9-2.6h0m1.5 1.4h0m3.1-1.7h0m6.5 1.8h0m1.4-1.2h0m17.8-1h0m1.7-.5h0m17.2 6.3h0m-6.3-.5h0m-1.2 2.4h0m-.3 0h0m-2-1.1h0m-1.6-.9h0m-2.1-.9h0m-.2 1.6h0m-3.2 1.7h0m-.2-.8h0m-1.7 .2h0m-.1 .2h0m-2.8 1.4h0m-1-.1h0m-1.3-1.3h0m-2.5 .1h0m-5.7-2h0m-.7-.3h0m-.3 2.5h0m-5.7 .8h0m-.1-3.4h0m-13.9-.1h0m-1.1 .2h0m-1.5 2.5h0m-2.6-.9h0m-4.5 1.1h0m0-3.7h0m-1.3 1.7h0m-1 .3h0m-9.2 3.2h0m.1 .3h0m5.2 2.9h0m3.4-2.5h0m4.4 1.4h0m8.4-1.4h0m1.7-.5h0m8.2 1.3h0m5.7 1.2h0m15.7-2.5h0m4 .6h0m3 2.5h0m.7-1.2h0m6.8 2.4h0m.7-4.5h0m4.3 1.3h0m.6 .3h0m4.5 .2h0m6.6-.7h0m-5.8 4.9h0m-6 3.6h0m-4-4.7h0m-6.9 4.5h0m-4.2-4.3h0m-.2 1.4h0m-1.5 3.1h0m-3.5-3.7h0m-5.6 2.8h0m-6.3-.4h0m-.3-1.4h0m-6.3-1.4h0m-1.4 1.5h0m-2.3 1.3h0m-1.9-.3h0m-2.1-2.4h0m-3.6 2.5h0m-.6-1.7h0m-9.5-1.4h0m-.4 3.7h0m-8.2-1.8h0m-2.4-1.1h0m-5.9 .1h0m1.3 3.9h0m5.2 .3h0m3.2 1.2h0m2.2 .6h0m.1 .5h0m10.1 .5h0m9.5 .9h0m11.4-2.5h0m4.7 3.4h0m1.6-1.4h0m1.8-2.8h0m1.3 .6h0m.1 1.4h0m1.6 0h0m1.1 1.6h0m2.9-3.8h0m3.1 2.8h0m7.5-3.3h0m2.2 3.8h0m.1-2.4h0m1.3-.1h0m1.6 3.6h0m2.2-1.1h0m3.6-1.8h0m2.1-1.1h0m2.5 .3h0m1.6 3.7h0m6 0h0m.3-2.2h0m2-.8h0m2.5 2.1h0m3.3-3.7h0m3 3.3h0m1 4.1h0m-2.4 2h0m-3-2.9h0m-2.9 1.6h0m-1.2-.8h0m-.5 1.2h0m-1.6-2.3h0m-6.4 2.9h0m-11.6-3.9h0m-1.1 .8h0m-1.2-1.1h0m-.3 4h0m-.3-3.9h0m-2.9 3.7h0m-2.6-.2h0m-1.2-.2h0m-14.9 .7h0m-.6-3.4h0m-13.5 .5h0m-2.9-.2h0m-1.7-1h0m-8.7 1.1h0m-1 .1h0m-.2-.8h0m-.4 4.1h0m-1-.6h0m-.7-1.3h0m-.5-.3h0m-1.4 .6h0m-2.8-1.7h0m-2 1.3h0m2.2 5.1h0m1.5-.1h0m.8-.4h0m2.5-.1h0m12.1-.7h0m1.4-.1h0m.1 1.9h0m7.3 .5h0m11.6-3.5h0m3.3 1.2h0m9.6 .6h0m.7-1.9h0m6.3 .4h0m.2 .9h0m.8-.3h0m.5 0h0m.8 2.7h0m1.4-2.8h0m.3 1.3h0m3.8-.3h0m1.4-.2h0m.3-.8h0m1.2 .3h0m4.1 1.4h0m7.6-1.5h0m.7 1.6h0m6.3 1.2h0m1.9 .5h0m1.5-3.1h0m1.4-.7h0m6.1 8.6h0m-8-3h0m-1.3 1.4h0m-1.3 .3h0m-1.4-.7h0m0 2.2h0m-.5-3.4h0m-4.3-.9h0m-5.1 1.4h0m-.5-1.3h0m-.7 .3h0m-.2 3.8h0m-2.7-2.8h0m-2.2-1.7h0m-4.2 .9h0m-2.7 2.2h0m-.4-2.7h0m-2.3 .4h0m-.3 2.6h0m-.9 .2h0m-.3-1.4h0m-2.3 1.8h0m-16.7 0h0m-3-2.7h0m-.1-1.2h0m-.2 1.6h0m-3.1 3h0m-8.2 .2h0m-2.3-1.3h0m-2.8-2.6h0m-2.8-.1h0m-.4 .1h0m-.6 .8h0m-3.1-.2h0m-1.5 .2h0m-7.9 2.1h0m-5.9-3.7h0m-1.2 3.7h0m4.1 3.1h0m0-1.1h0m10 1.8h0m3.4 2h0m2.3-3.3h0m2-.5h0m3.8-.2h0m4.2 4h0m7.8-1.4h0m2.6-1h0m.8-.4h0m2.6 .8h0m3.9 .2h0m1.3-.3h0m2.4-2.1h0m1.3 .7h0m6.3 .3h0m.1 3.2h0m2.7-4.5h0m4.7 .7h0m3.7-.1h0m5.7 3h0m19.8 .3h0m3.8-2.7h0m.3 .3h0m3.3-.2h0m3.7 6.9h0m-2.3-1.2h0m-4.8 .3h0m-1.5-1.9h0m-4.2 1.4h0m-1.7 2.6h0m-2.6-1h0m-.5 1h0m-1.2-2.7h0m-.3 2.5h0m-8.6-.2h0m-1.5-4h0m-12.8 3.1h0m-2.8-1.8h0m-.1-.2h0m-2.9 1.5h0m-3.4-2.2h0m-.2 .7h0m-1.6 .1h0m-2.3 .4h0m-4.6-.2h0m-2.9 .9h0m-9.3 2.2h0m-3.5-3.2h0m-1.7 3h0m-2.5 .1h0m0-4h0m-5 3h0m-3.9-1.2h0m-5.3-1h0m-.8-.2h0m-.5 2.6h0m-4.4-3h0m-1.1 .7h0m-2.1 1.6h0m-.3 .1h0m-3.1-.9h0m-.5 1.6h0m-2.4-2.9h0m-1.3 6.2h0m1.3-.6h0m.8-1.6h0m9.4 1.7h0m.3-.7h0m6.9-.8h0m2.5 3.7h0m1.1-.1h0m4.4 .1h0m2 .3h0m9.5-.1h0m4.2-2h0m1.3 1.1h0m1-.6h0m6.8 .7h0m1.5-1.4h0m2.1 1.6h0m14-2.6h0m5.6 1.7h0m.6 2h0m5.6 .3h0m2.8 0h0m1.7-2.2h0m3.5-.4h0m.6 1.8h0m2.9 .6h0m1.4-.4h0m1.7-.6h0m7.3 .6h0m3.2 0h0m-.9 1h0m-9.5 3.3h0m-1.6-3.2h0m-11.1-.2h0m-1.8 3.2h0m-3.8-3.3h0m-.7 3.9h0m-2.4 .5h0m-4.5-2.3h0m-1.7-.8h0m-10.1 1.1h0m-6.5-2h0m-.9 4.1h0m-5.9-1.9h0m-.8-1.9h0m-.4 1.6h0m0-1.8h0m-10.4 0h0m-5.1 3.2h0m-5.3-1.1h0m-.8-.1h0m-.3-.7h0m18.3 3.5h0m10.7 .8h0m13.8-.3h0m7.5 1.1h0m.1 .6h0m2.7-1.5h0m4.2 3h0m9-4.1h0m6.7 1.3h0m5.2 .8h0m.4 .9h0m.1 1h0m.3-2.1h0m3.4 .2h0m3 .7h0m2.5 1.5h0m1.3-3.4h0m-8.4 5.3h0m-2.8 1.1h0m-5.7-.5h0m-2.8 .8h0m-.6-2.5h0m-4.6 .7h0m-112 2.5h0m-14.3 .1h0m-.8 2.8h0m1.9-.9h0m9.7 1.9h0m1.2-.5h0m15.4 1.2h0m13.3 1.3h0m45.9-1.9h0m1 1.9h0m5.8-1.6h0m2.3 2.3h0m8-.7h0m2.4 2.8h0m-5.6 .4h0m0-1.4h0m-2.6 3.2h0m-1.5-3.4h0m-5-.8h0m-2.6 2.9h0m-4.7-2.4h0m-2.2 4h0m-.4-3.6h0m-1.4-.5h0m-46.1 2h0m-24.7 .6h0m-4.5 .8h0m12.1 1.2h0m2 2.5h0m7.2 .6h0m15.9-1.8h0m6.2-.7h0m28.7 1.6h0m3.2-1h0m1.2 3h0m7.9-1h0m3.1 .9h0m2.1-2.4h0m2.3-.8h0m.7 .9h0m2.1 .3h0m.7-1.8h0m9.9 .6h0m2.4 .4h0m48.9-.8h0m11.5 4.4h0m25.6-1h0m2.2-.1h0m1.7-1.8h0m.4 2.6h0m.9-3.3h0m7.4 6.2h0m-1.8 1.3h0m-3.3 .5h0m-1.3-2.8h0m-1.3 3.1h0m-.7-1.7h0m-2.1 1.4h0m-6.7-1.4h0m-1 1.1h0m-4.1-.3h0m-1.1 .8h0m-3.6-4h0m-.6 .1h0m-12.9 4.3h0m-12.8-.6h0m-42.4-1.3h0m-8.5-1.2h0m-3.5 .8h0m-1.9 .7h0m-2.8 .5h0m-.1-3.7h0m-2.1 1.2h0m-7.2-1.3h0m-12.1 4.8h0m-6.2-3.9h0m-2.1 .6h0m-.4-.1h0m-.9 2.7h0m-11.7-1.5h0m-19.6 .6h0m-13.7 .7h0m-10.6-1.9h0m24 5.8h0m14.9-2.3h0m.1 .9h0m.2-1.2h0m19.2 .4h0m1.9 .3h0m2.5 0h0m5.1 2.5h0m26.8-2.3h0m.1 2.2h0m2.7-2.4h0m59 .3h0m8.2 3.5h0m.7-3.4h0m.1 2.6h0m.1-1.9h0m4 1.2h0m4.5-2.2h0m8.7 2.9h0m.2-1.8h0m8.4 .1h0m7.5-.2h0m3.2-1.4h0m1.3 3.4h0m3.1 3.9h0m-.9 1.3h0m-1.2 .3h0m-3.9-4.2h0m-6.2 4.5h0m-.6-2.3h0m-1.6 2.2h0m-.5-4.4h0m-1.9 1.5h0m-3 3.1h0m-7.9-3.6h0m-2.1 3.5h0m-2.4-2.4h0m-3 1.9h0m-.8-.9h0m-4.4 .5h0m-9.7-1.7h0m0-.1h0m-3.4 1.3h0m-.6-.4h0m-4.9-2h0m-.1 3.5h0m-.6-1.9h0m-51.8 1.1h0m-7-.3h0m-2.9 .6h0m-3.1 .3h0m-6.9-2h0m-3.8-.2h0m-.7-.1h0m-6.1-.5h0m-34.6-.6h0m-25.6 4.5h0m5.7-.2h0m7.1 2.6h0m.5-1.4h0m1 0h0m3.9 2h0m19.5 .4h0m34.3-3.3h0m.6 3.2h0m76.2-.7h0m8.7 1.8h0m1.7-2.5h0m4-1.8h0m.2 2.5h0m.8 .4h0m3.7-.3h0m5.4-2.7h0m.5 4.1h0m2.6-1.6h0m.6-.1h0m0-2.1h0m.1 .4h0m.4-.1h0m2.5 1.1h0m0 .8h0m3.5-1.5h0m9 1.6h0m4.4-.9h0m.4 1.3h0m4.1 .9h0m4.7 1.7h0m-8.8 1.9h0m-1.5-1.8h0m-2 1.1h0m-4.6 .3h0m-.8 1.1h0m-1 .5h0m-.2-2.5h0m-.5 .9h0m-2.3-.4h0m-5.5 .6h0m-2.1 1.6h0m-4.7-1h0m-5.6-2.2h0m-.8 1.6h0m-11.2 1.3h0m-8.6-1.1h0m-3.9 1h0m-47.6-2.9h0m-5.6-.3h0m-5.7 .8h0m-4.3-.7h0m-17.4-.6h0m-20.5 2.8h0m-1.7-2.4h0m-8.9 3.4h0m-6.5 .1h0m-1.3 .1h0m-11.2-2.4h0m-3.9-.2h0m-19.2 2.9h0m16.5 4.4h0m13-1.9h0m4.4 .5h0m21.1 1.9h0m29.4-3.1h0m4.4 1.2h0m3.1-2.1h0m66.1 4.4h0m12.3-2.3h0m2.5-1.8h0m7.5 2.1h0m.7 1.9h0m.6-3.6h0m.6 .5h0m5.5-.2h0m1.6 0h0m.4 1.4h0m1.8 .6h0m.3-.1h0m3-1.3h0m4.6 1.1h0m3.3-.7h0m2.7-1.7h0m.1 4.1h0m.3-2.5h0m11.8 2.4h0m.5-.6h0m1.6-1h0m1.7 4.7h0m-1.2 .3h0m-2.9-.9h0m-1-.2h0m-1.2 0h0m-2.5 1h0m-.1 .2h0m-.7-2h0m-4.1 1.1h0m-1.8-1.5h0m-2.6 .7h0m-.1 .6h0m-.9 1.6h0m-.1 .2h0m-2.3-2.8h0m-3.2 3h0m-.5 .3h0m-4.3-3.5h0m-.1 3.1h0m-1 .4h0m-3.2-3.4h0m-1.3 .1h0m-3.5 2.8h0m-.1-3.6h0m-22.4 0h0m-3.1 .8h0m-.4 .3h0m-95.3 .8h0m-1.7-.2h0m-8.2 1.3h0m-.5-1.5h0m-.8-.5h0m-.6 1.7h0m-4.5-2.1h0m-2.7 2.4h0m-5.8-.1h0m-1.1 1h0m-5-.6h0m-21.6-2.2h0m-4.9 2.6h0m-2.8-3.7h0m-9.7 1.4h0m-4.9 3.9h0m18.1 0h0m4.4 3.1h0m10.6-.2h0m.3 .1h0m8.5-.2h0m11.7-.4h0m1.6 .6h0m19.3-1.6h0m99.6-1.7h0m4.2 3.6h0m0-1.7h0m.3-2.2h0m2.1 3.5h0m5 .2h0m1.6-1.4h0m4.3-1.6h0m2.8-.6h0m.4 3.7h0m2.5 .9h0m9.2-.9h0m.1-2.7h0m.4 3.2h0m2-4.3h0m.3 1.4h0m5.8 3h0m.7-.1h0m.2-1.8h0m3.5 .3h0m1 .4h0m2.6-1.2h0m.9-.8h0m.4-1.1h0m2.9 1.3h0m.4 .8h0m1.7 0h0m4 1.3h0m1.9 1.3h0m-4.1 1.5h0m-.8 2.7h0m-2.7 .7h0m-12.9-.9h0m-.5-2.9h0m-1.4 2.4h0m-4.6-2.9h0m-6.7 3.9h0m-13-3.6h0m-5 3.4h0m-.1-4h0m-115.2 1.8h0m-1.7 1.7h0m-16.1 0h0m-4 .7h0m-6.9-4.3h0m-1.9 2.1h0m-5.8-1.9h0m-2.3 1.2h0m-2.6-.4h0m-16.7 .1h0m-3.9 2.4h0m-.2-.6h0m18.3 5.4h0m6.5-3.1h0m4.6 3.4h0m15.1-2.4h0m1 2.4h0m3.9-2.5h0m8.1 2h0m3.2-1.6h0m117.6-1h0m9 3.6h0m2.8-1.3h0m8.1-2.5h0m1.1 3.3h0m1.4-3.4h0m8.7 3.1h0m1.8 1.5h0m2.7-3.8h0m.6 .2h0m2.1-.8h0m2.3 2.4h0m9.9 1.5h0m2.1 1.5h0m-2.1 1.9h0m-2.2 1.1h0m-3.4-3h0m-.3 4h0m-1.8-.7h0m-.5-.2h0m-.1-2.9h0m-4.1 1.4h0m-4 .1h0m-4.2-1.6h0m-2.4 3.3h0m-3-1.1h0m-4.5-1.4h0m-.8 .8h0m-4.9 1.7h0m-3.6-4.2h0m-.3 2.6h0m-1.5-2.1h0m-1.4 2.4h0m-1.3-1.9h0m-135.1-.9h0m141.8 9.8h0m6.3-4.4h0m6.2 0h0m7.5 3.6h0m3-2.9h0m4.8 3.1h0m1.9-.7h0m3.7 1.3h0m-.5 .9h0m-8.4 1.1h0m-5.7 1.6h0m-1.8-2h0m-.6 1h0m-5 1.2h0m-10.1-3.7h0m-1 2.9h0m-.6-2.5h0m4.5 8.9h0m2.6-3.3h0m2.5 1.5h0m1.3 .8h0m2.9-1.5h0m6.7 2.3h0m.7-1h0m1.4-1.3h0m7.3 1.5h0m.8-1.2h0m-7.2 4.6h0m-2.1-.9h0m-13.1 .8h0m-5.4-.2h0m-127 1h0m-1 0h0m-.2 .5h0m-2.7-.2h0m-3.5-1h0m-.7 1.6h0m-.9-.1h0m-1.1 1.5h0m-3.9-1.5h0m-.4 .5h0m-.7 .8h0m-29.3 5.1h0m6.3-2.7h0m4.1 .7h0m4.4 1.6h0m.7 .6h0m5.2-1.8h0m7.3 .8h0m3.9-2.6h0m4.5-.3h0m3 .7h0m6 1.1h0m3.6-1.4h0m-26 3.7h0m-8.8 0h0" stroke="#6b6b6b" stroke-width="4.00" stroke-linecap="round" fill="none"/>
<path d="M544.6 555.4h0m-65.8 7.5h0m-.7 2.7h0m-8.8 9.2h0m1.3-.4h0m1.6-.6h0m4.8 1h0m4-.6h0m2 .6h0m2.4-.9h0m3.5-1.4h0m4.2 1.8h0m2.4 .6h0m1.1-.3h0m8.6 3.1h0m-7.3 .2h0m-12.9 .5h0m-.6-1.1h0m-4.9 2.3h0m-.4-.7h0m-1.3-1.7h0m-3.5 1.5h0m-.5 .6h0m-.5-.6h0m-1.4-2.3h0m-1.9 3h0m-.1-1.6h0m-.4-2.7h0m-5 1.4h0m-2.3 3.3h0m-3-1.7h0m-6.9 1.2h0m-30.7-.1h0m13.8 1.7h0m3.7 3.5h0m.4-3.1h0m.6-1.2h0m4.2 1.3h0m6.2 3.1h0m.6-2.3h0m.1 2.4h0m.4-2h0m3-.3h0m1.5 2.4h0m4.6-1.6h0m4.3-2.4h0m5.1 2.1h0m2.2 2h0m2.5 0h0m.1-4.8h0m.5 3.9h0m3.9-3.4h0m4 2.8h0m.4-1.1h0m.9-2.2h0m.3 4.5h0m4.2-3.9h0m3.6 2h0m1-.3h0m4.3-.2h0m3.5-1.7h0m2.1 7.7h0m-.5-.1h0m-4.4 1.2h0m-3-1.8h0m-2.6 1.3h0m-.6-1.7h0m-3.2 2.8h0m-4.6-2h0m-2.1 .2h0m-1.8-.5h0m-2.1-.6h0m-1.4-.1h0m-6.3 2.2h0m-5.4-.3h0m-2.4-.9h0m-1.8-1.1h0m-5.1 2.1h0m-2.3-1.2h0m-.4-1.1h0m-.4 1.7h0m-1.7 0h0m-4.3 1.2h0m-2.8-3.6h0m-62.2 .4h0m6.3 5.5h0m6.2 1.3h0m17.3 1h0m17.9-1.7h0m3.4 .3h0m12.5-1.5h0m.2-1h0m1.7 1.5h0m2.8-1.4h0m1.5 4.1h0m3.5-2.4h0m.3 .3h0m2.2 1.9h0m14.4-.9h0m1-.6h0m1.8-2.4h0m1.4 .9h0m4.3 3.3h0m5.3-2.4h0m.1 0h0m.1 1.5h0m1.1 .6h0m1.8-3.5h0m2.4 1.7h0m1.9-2.1h0m.2 3.6h0m.6-2.5h0m7.6-1h0m1.3 4.4h0m3.1-3.8h0m0 .1h0m30.6 3h0m4.1-1.5h0m-37.5 5.7h0m-.5-1.3h0m-2.2 1.4h0m-2.2-.5h0m-4-.1h0m-5.6-1.9h0m-4.4-.1h0m-2.9 .2h0m-2.3 1.1h0m-1.8-.4h0m-3.1-.4h0m-1.2-.5h0m-.6 1.2h0m0-.2h0m0 2.4h0m-1.7-.9h0m-.1 1.5h0m-2.9-.1h0m-8.1-2.7h0m-2.3 1.1h0m-.1-2.8h0m-3.8 2.9h0m-.4 .4h0m-.9-1.9h0m-5-1.4h0m-22.1 3.7h0m20.2 4.4h0m5.5-1.8h0m1.4 .4h0m.8 .5h0m.6 1.4h0m1.1-3.6h0m.5 2.9h0m.1 .7h0m0-2.5h0m11.8-.2h0m1.8 1.8h0m.9-1.1h0m2.4 1.3h0m4.8 1.5h0m.5-2.6h0m3.9-.5h0m9.5-.7h0m5.4 1.1h0m4 .4h0m5.2 2.9h0m-3.5 2.3h0m-.7 2.2h0m-.2-2.7h0m-1 .2h0m-.6-1.4h0m-3.3 .9h0m-2.1-.3h0m-1.5 1.2h0m-.8 1.2h0m-4.2-2.3h0m-3.7 1h0m-.2-.8h0m-14.9 .8h0m-4 1.1h0m-3.4-1.1h0m-.8 1.2h0m-.4 .4h0m-1.9-2.4h0m-2.4 .8h0m-4.9-1.3h0m-2.3 2.9h0m-32.1-.6h0m29.8 4.8h0m5.1 1h0m2-2.3h0m3.2 2.5h0m2.1-2.6h0m4.5 .1h0m3.8 2.5h0m.6-2h0m3 2.1h0m.4-3.5h0m1 2.4h0m5.1 1.4h0m8.2-2.8h0m2 1.4h0m1.5-2.8h0m1.1 4.2h0m.4-4.3h0m4.3 0h0m.9 3.5h0m1.3-2.1h0m0 2.1h0m.8-3h0m32.9 5.9h0m-24.8 .1h0m-4 1.2h0m-2-2.1h0m-.3-1.2h0m-2.5 1.3h0m-2 1.6h0m-.8-2.3h0m-2.8-.4h0m-4.4 1.2h0m-.2 2.9h0m-9.1 .5h0m-2.4-3h0m-1.5 3.1h0m-5.1-4.4h0m-.3 3.4h0m-.4-2.9h0m-2.1 1.4h0m-1.5-1.7h0m-1.7 1.8h0m-4.2 1.4h0m-.2-.1h0m-4.3-1.2h0m-3.5 1.6h0m-2.1-3.8h0m-2.3 2.1h0m-26.2 3.8h0m24.4 .4h0m.1-1.3h0m.1 2.3h0m.5 1.7h0m.8-1.3h0m.9-2.8h0m.6 3.2h0m4.5 1.4h0m3.2-3h0m0-.1h0m.9 .2h0m1.5 2.1h0m3.6-3.9h0m3.1 1.6h0m2.1-1.5h0m.4 2.9h0m.8 0h0m1.9-3.1h0m.1-.1h0m2.6 2.4h0m2.7 .4h0m.8 .6h0m4.2 .9h0m.1 0h0m2 .1h0m2.6 .2h0m2.5 .2h0m5.3 0h0m2.8-1.7h0m2.3 .5h0m8.1 4.5h0m-1.4-2.5h0m-.3 1.8h0m-1.5-.6h0m-2.9-1h0m-3.2 2.5h0m-6.8-2h0m-1 2.8h0m-3.4-2h0m-.1-.9h0m-2.6 .3h0m-.7 0h0m-1.8 3.2h0m-2.2-.7h0m-3.7-3.9h0m-1 4h0m-3.6-4h0m-.5 4.4h0m-1-3h0m-1.2 1.6h0m-.9-2.7h0m-4.2 .5h0m-5.8 3.4h0m-.2-1.1h0m-8.1-2.6h0m-2.4 1.3h0m-5.6 1.4h0m-19.7 5.9h0m17.1-1.4h0m2.5 1.9h0m3.1-2.2h0m.9 1.2h0m.9-1.2h0m.8-1.4h0m.1 2.4h0m2.6 1.2h0m.7-3.3h0m3.9-.7h0m1.6 2.5h0m2.8-3.1h0m1.4 2.9h0m8.8-.2h0m1.7-.6h0m4 .3h0m9.4-.5h0m6.1-1.6h0m1.2 1.8h0m.3 2.3h0m.2-1.7h0m.6 1.9h0m2-2h0m2.7 1h0m5 .6h0m2.6-1.6h0m1.2 1.1h0m9.2 4.4h0m-14 .1h0m-5.4-1.1h0m-.1-.3h0m-3.8 2h0m-2-3.9h0m-3.8 .4h0m-1.8 4h0m-.8-1h0m-1.6 .4h0m-4.5 0h0m-1-3.6h0m-.3 2.9h0m-.1 1h0m-1.8-3.1h0m-1.3 .9h0m-.6-1.2h0m-7.7 3.5h0m-.1-3.9h0m-1 .5h0m-3.2 3.6h0m-3.1-3.2h0m-.1 2.6h0m-2.8-2.5h0m-3.1 .1h0m-2.3 1.5h0m-2.3-1.4h0m-5 .1h0m-1.1 2.6h0m-3-.2h0m-1-1.8h0m-46.3-.4h0m7.5 5h0m.1 2h0m36.4 .2h0m1.5-.2h0m1.7 .2h0m3.9-.5h0m1.5 1.4h0m2.4-4.9h0m1.1 3.9h0m.4-3.7h0m2.9 .1h0m.7 3.3h0m13.9 1h0m1.8-1.5h0m2.6 .5h0m3.3-1.8h0m5.5-1.2h0m4.5 .1h0m.4 .4h0m.2 .4h0m.9 0h0m0 2.2h0m1.3 .4h0m1-2.6h0m.6 1h0m3.1-1h0m2.8 .5h0m1.3 2.5h0m2.2-4h0m1.1 .7h0m4-.3h0m4.7 .5h0m39.3 3.3h0m4 3.2h0m-18.5 .5h0m-33-2.7h0m-1 .9h0m-.8 1.4h0m-2.9-1.5h0m-2.7 2.9h0m-1-.4h0m-3.5 .3h0m-3.6-.7h0m-8-3.1h0m-3.5 1.1h0m-.6 1.2h0m-.5-2.8h0m-2.3 4.8h0m-5.3-1.2h0m-2-.4h0m-1.4-.2h0m-1.2-.3h0m-2.5 2h0m-.8-1.9h0m-.1-1.2h0m-2 .6h0m-.9 2.6h0m-1.1-.2h0m-.7-2.1h0m-1.5 .2h0m-11.4-2.3h0m-.4 2.7h0m-.7-1.5h0m-1.3 1.2h0m-24.8-.4h0m-24.9 .5h0m51.8 3.9h0m1.7-1.3h0m.6 4.3h0m1-3.9h0m5.2 .7h0m1.8-1.2h0m1 2.4h0m2.6-.4h0m5.8 1.5h0m1.9 .5h0m5.4-4.2h0m1.4 2.5h0m5.2-1.6h0m11.3 .2h0m1.3 3.4h0m5.6-1.9h0m7.4 0h0m.9 .6h0m1 .4h0m.9-.9h0m.2 1h0m2.3 1h0m1.8-3.7h0m.4 3.3h0m.8-3.9h0m1.6 1.7h0m43.3 4.5h0m-50.4 1.1h0m-3.6-1.7h0m-.4 3.7h0m-.8-4.7h0m-1.6 .8h0m-3.7 1.4h0m-5.5-2.4h0m-15.4 1.4h0m-7.6 3.3h0m-3.4-.3h0m-3.3-1.6h0m-7.4-1.9h0m-.2 .7h0m-3.2 3.3h0m-2.3-2h0m-1 1.4h0m-7.9 .1h0m7.2 1.9h0m.4-1.3h0m.3 2.9h0m3.7 1.4h0m4.4-1.6h0m6 .2h0m1.1-1.2h0m4.9 1.9h0m1.4-3h0m7.1 3.3h0m1-2.7h0m.5 1.5h0m.6 1.2h0m.2-.5h0m2.2 .1h0m3-2.8h0m3.9 3.2h0m6.1-1.8h0m3.2-.1h0m2.7-.5h0m-31.2 4h0m-4.7 1.8h0m-2.2 0h0m-3.5-.7h0m-.3 1.4h0m-1.4-.2h0m-.7-.6h0m-3.2-1.6h0" stroke="#139b7a" stroke-width="4.00" stroke-linecap="round" fill="none"/>
<path d="M495.1 544h0m4.7 1.5h0m-.3 3.1h0m-.7-2.8h0m-.1 3.6h0m-3.2-2.9h0m1.3 4.6h0m2.6 3.7h0m1-1h0m4-3.4h0m-7.8 8.9h0m4.8 3.1h0m19.3 1.5h0m15-.3h0m2.9 .1h0m1.3-.4h0m-2.1 6.3h0m-.4-3.9h0m-2.1 2h0m-5.9-.7h0m-.7 1.5h0m-.7-3.3h0m-3.5 1.9h0m-1.7-.4h0m0 2.4h0m-.6-1.3h0m-2.9 .8h0m2.5 4.2h0m1.7 .5h0m3.1-3h0m9.2 2.8h0m-13.3 2.1h0m3 9.4h0m2.7-1.7h0m7.6 1.2h0m14.1 3.5h0m-2.5 1.9h0m-.2-.3h0m-.2-.4h0m-4.7-3.8h0m-4 0h0m-3.5 3.6h0m-.7-.3h0m-3 .3h0m-6.3 2h0m3.2 3.4h0m2.5-2.9h0m4 2h0m22.8-3.1h0m3.1 2.9h0m3.3 3.4h0m-3.9 3.5h0m-12.4-3.7h0m-.7 .1h0m-14.9-1h0m-.8 3h0m-.6 1h0m-2.8-2.9h0m16.2 6h0m8.9 1.4h0m0 0h0m4.1-3.7h0m9.6 7.9h0m-8.8 3.5h0m8.4 3h0m-7.5 1.9h0m.4 8h0" stroke="#e3000f" stroke-width="4.00" stroke-linecap="round" fill="none"/>
<path d="M252 884h0m0 0h0m3-1h0m2 0h0m5 1h0m3-1h0m3-2h0m0 0h0m0 2h0m2-1h0m0 1h0m1-2h0m1 3h0m0 0h0m1-4h0m0 0h0m1 0h0m1 4h0m0-2h0m1-1h0m0 2h0m0 0h0m1 1h0m1 0h0m0 0h0m1-2h0m0 0h0m3 1h0m6 1h0m5 5h0m-1 0h0m0 0h0m0-1h0m-4-2h0m0 0h0m-1 3h0m-1-1h0m0-2h0m-1 3h0m0-4h0m-1 1h0m-3 1h0m-1 0h0m0 0h0m0 1h0m0-3h0m-3 0h0m-1 2h0m0 0h0m0 2h0m-1-1h0m-2-2h0m-3 3h0m0-2h0m0-1h0m-1 0h0m-1-1h0m-1 1h0m-3 2h0m0 0h0m-1-2h0m0 1h0m-1-2h0m-1 0h0m0 4h0m-1-2h0m0-2h0m0 3h0m-1-1h0m-1-1h0m0 0h0m-1 3h0m-1-1h0m0 0h0m-1-2h0m-1 3h0m-2-1h0m0 1h0m-1-2h0m-1 1h0m0 0h0m-1 1h0m-2-2h0m-1 2h0m-2 0h0m-1 0h0m0-2h0m0 2h0m-1-2h0m-1 1h0m0 0h0m-1 0h0m-3 1h0m-4 0h0m-67 0h0m0-1h0m-5 1h0m-2-2h0m-1 0h0m-1 0h0m-1 1h0m0 0h0m0-1h0m-1 0h0m-1 2h0m-2 0h0m0-3h0m-1 3h0m0 0h0m0-2h0m-1 0h0m-1 2h0m0 0h0m-1-1h0m-1 1h0m-1 0h0m0-3h0m0 0h0m-1 1h0m0-1h0m0-1h0m-7 3h0m0 0h0m-1-2h0m-2 3h0m0-2h0m-3-1h0m-1 3h0m-2 0h0m-1 0h0m0-3h0m-3 2h0m-1-1h0m0 1h0m-5 1h0m-1 0h0m-2 0h0m-3-1h0m-5 0h0m0 1h0m-1-2h0m0 0h0m-1 2h0m-5 0h0m0 0h0m-1-1h0m0-1h0m0 0h0m0 1h0m-1 1h0m-2-1h0m0 0h0m-2-1h0m-1 1h0m-1 0h0m0-1h0m-1 2h0m0-2h0m0 0h0m0 2h0m-4 0h0m-6 0h0m-9 4h0m1 1h0m2-3h0m0 3h0m1 0h0m0-3h0m2 2h0m0-3h0m2 1h0m0 0h0m0 3h0m1 0h0m1 0h0m2 0h0m0-1h0m0-1h0m2 2h0m1-3h0m0 2h0m1-3h0m1 3h0m0-3h0m1 3h0m2 1h0m0-3h0m1-1h0m1 0h0m0 2h0m3 2h0m1-2h0m0-1h0m2 2h0m0-2h0m0 2h0m3-3h0m1 4h0m1-1h0m2-1h0m0 2h0m1-3h0m0 3h0m2-3h0m0 1h0m1 0h0m1 2h0m1-2h0m1-1h0m0 2h0m1 0h0m1-1h0m0 0h0m1 2h0m0-4h0m0 2h0m1-2h0m2 3h0m0 0h0m2 0h0m0-1h0m0 1h0m0-1h0m1-1h0m2-1h0m0 3h0m2-2h0m2 3h0m0-3h0m1 3h0m3-3h0m0 3h0m2-4h0m0 4h0m0-3h0m1 3h0m1-2h0m0 1h0m1-3h0m0 4h0m0 0h0m0 0h0m1-2h0m1-1h0m0 0h0m1 2h0m1 1h0m2 0h0m0-4h0m1 1h0m0 1h0m0-2h0m1 2h0m0 0h0m0 0h0m0 2h0m1-4h0m1 4h0m1 0h0m0-2h0m1 0h0m0 0h0m1 1h0m1-1h0m3-2h0m4 3h0m1-3h0m0 0h0m1 1h0m0 0h0m0 1h0m0-2h0m2 2h0m0-1h0m0 3h0m2-1h0m0-1h0m1 0h0m0 0h0m1-1h0m0 0h0m2 3h0m1-3h0m0-1h0m1 2h0m0-2h0m2 3h0m1 1h0m1 0h0m0-4h0m1 1h0m2 3h0m1 0h0m1-3h0m3 3h0m0-1h0m1 1h0m0 0h0m1-2h0m2-2h0m2 1h0m3 0h0m1 0h0m1 3h0m1-1h0m1-1h0m2 0h0m2 0h0m0 2h0m1-2h0m1 0h0m0 2h0m1-2h0m0 0h0m2 0h0m4 0h0m2 0h0m1-1h0m1 3h0m3-2h0m0-1h0m0 3h0m1-4h0m1 3h0m2 1h0m1 0h0m0 0h0m2-1h0m2-2h0m0 1h0m0 2h0m2-2h0m2-2h0m1 3h0m1-3h0m1 4h0m2-1h0m2 1h0m0-4h0m2 3h0m1 1h0m0-2h0m0 1h0m0 0h0m1-1h0m0 1h0m1-2h0m1 1h0m0-2h0m0 1h0m0 0h0m0 2h0m2 1h0m0-2h0m1-2h0m0 1h0m0 3h0m0-1h0m1-3h0m1 2h0m1 1h0m1-1h0m2 2h0m0 0h0m1-4h0m1 4h0m1-3h0m2 3h0m2 0h0m0-2h0m1 2h0m1 0h0m1-4h0m1 0h0m1 2h0m0-1h0m1 3h0m1-1h0m1-3h0m2 3h0m0 0h0m0-2h0m1 0h0m0 3h0m3-1h0m0-3h0m1 0h0m1 2h0m0-2h0m1 2h0m1 2h0m0-2h0m2-1h0m1-1h0m1 2h0m0-2h0m2 4h0m1-3h0m0 3h0m0 0h0m1-2h0m1-2h0m1 3h0m0-3h0m2 3h0m1 0h0m0 1h0m1-2h0m0-2h0m1 0h0m1 3h0m0-1h0m0 2h0m0-2h0m0 0h0m1 3h0m-3 1h0m0 0h0m-1 0h0m-2 1h0m-1-2h0m-1 3h0m-1-1h0m-1 2h0m-3-3h0m-1 0h0m-1 3h0m0-3h0m-1 1h0m-1 2h0m0-3h0m-1 1h0m0-2h0m0 2h0m0 2h0m0-4h0m-1 4h0m-1-4h0m-2 2h0m0 0h0m-2 0h0m0-2h0m-2 3h0m0-3h0m-1 0h0m-1 3h0m0-2h0m-1 1h0m0 1h0m-1-3h0m-2 2h0m0 0h0m0 2h0m-1-4h0m-1 1h0m0-1h0m-1 1h0m-1-1h0m-2 0h0m-1 0h0m0 0h0m0 1h0m-1-1h0m0 4h0m0-1h0m-1-3h0m-2 1h0m-2 0h0m0 2h0m-2-2h0m0 3h0m-4-4h0m-1 4h0m-3 0h0m-1-4h0m-2 3h0m-1 0h0m-2-1h0m0-2h0m-2 1h0m-1 0h0m0 1h0m-1-2h0m0 4h0m0-3h0m0 2h0m-3 1h0m-2-3h0m-1 0h0m-1 3h0m-1 0h0m-1-3h0m0-1h0m-1 0h0m0 3h0m-2-2h0m0 1h0m0 0h0m-2 1h0m-1-1h0m-4 1h0m0 1h0m-2-2h0m-1 0h0m0-1h0m0 3h0m0 0h0m-1-1h0m0-2h0m0-1h0m-1 3h0m-1 0h0m-1-3h0m0 2h0m0 0h0m0 2h0m-1-1h0m-1-3h0m0 0h0m0 0h0m-4 2h0m0 1h0m0 0h0m-4-3h0m0 0h0m-1 2h0m-1 0h0m0-2h0m0 2h0m0 0h0m-2 0h0m-1-2h0m-2 1h0m0-1h0m-1 1h0m-2 2h0m-2 1h0m-1 0h0m0-4h0m-1 2h0m0 0h0m0 0h0m-1 1h0m0-1h0m-1-1h0m-1 3h0m-2-2h0m-2-2h0m0 2h0m-1-2h0m0 3h0m0-1h0m-1 2h0m-2-1h0m-2-3h0m-1 1h0m-1 0h0m0 0h0m-2-1h0m0 3h0m-1-1h0m-3 1h0m0-1h0m-1-2h0m0 3h0m0-2h0m-1 3h0m-2-3h0m-1 0h0m-1-1h0m0 1h0m0 2h0m-2 0h0m-1-2h0m0 2h0m0 1h0m-1-1h0m-1-3h0m-1 0h0m0 4h0m-1 0h0m-1-4h0m-1 3h0m-1 1h0m0-4h0m-1 1h0m-1 3h0m0-1h0m0 0h0m0 1h0m-1-3h0m-1-1h0m-2 1h0m-1 1h0m-1 2h0m-1-1h0m0-1h0m0-1h0m-2 3h0m-1-2h0m-2 1h0m-3-1h0m-1 0h0m-2 0h0m0-1h0m0 2h0m-2 1h0m-1 0h0m0-1h0m-1 0h0m-1-1h0m0-2h0m0 0h0m-2 4h0m-2-2h0m0 1h0m-1-3h0m0 2h0m-1 1h0m0-3h0m-1 2h0m-1-2h0m-1 0h0m-1 3h0m-1 0h0m-2-1h0m-1-1h0m-1-1h0m0 3h0m0 1h0m0-2h0m-3-2h0m0 2h0m0-2h0m-1 2h0m0 2h0m-1-1h0m-1-1h0m-1 1h0m0-2h0m-1 2h0m0-2h0m0 1h0m0 1h0m-1-2h0m0 0h0m0 1h0m0 0h0m-1 2h0m0-2h0m0 0h0m-2-1h0m0-1h0m-1 4h0m0 0h0m0-1h0m-2-3h0m-1 3h0m0-3h0m-1 0h0m-1 0h0m-1 4h0m-3-1h0m0-1h0m0-2h0m-1 3h0m0 1h0m-1-2h0m-1 0h0m0 1h0m-1-2h0m0 0h0m0-1h0m-1 4h0m-3 0h0m0-1h0m-2-1h0m11 3h0m10 1h0m1 2h0m0-1h0m0 0h0m0 1h0m1-1h0m1 2h0m1-1h0m2 1h0m0 0h0m2-3h0m2 0h0m1-1h0m3 3h0m1 0h0m3-3h0m0 4h0m0-1h0m2-3h0m2 4h0m0 0h0m0-4h0m1 4h0m1-3h0m1-1h0m1 2h0m0-1h0m1 3h0m2-1h0m1 1h0m0-1h0m0 1h0m1-3h0m0 1h0m0-2h0m1 0h0m1 0h0m0 3h0m1-2h0m4 1h0m3-1h0m1 0h0m1 0h0m1 3h0m0-3h0m0 0h0m3 0h0m1 1h0m1 2h0m1 0h0m0-2h0m1 2h0m1-2h0m0 1h0m0 1h0m0-4h0m1 4h0m0-3h0m1 1h0m0-2h0m4 2h0m1 1h0m1 0h0m1-1h0m1 2h0m0-3h0m1-1h0m1 2h0m0-1h0m0 1h0m1 1h0m0-3h0m2 3h0m0 1h0m1 0h0m0-4h0m1 2h0m2-2h0m1 1h0m2 0h0m1-1h0m0 2h0m1 2h0m0-4h0m0 2h0m2 1h0m1 0h0m0 1h0m3-4h0m2 4h0m2-4h0m0 2h0m0 2h0m1-3h0m1 3h0m0-3h0m0 2h0m1-2h0m1-1h0m0 2h0m2 1h0m1-1h0m1-1h0m0 1h0m1-1h0m0 0h0m1-1h0m2 0h0m1 3h0m1-2h0m1 0h0m0 2h0m1-2h0m0 2h0m2 1h0m0-1h0m0 0h0m0-2h0m1 0h0m3-1h0m0 2h0m0 2h0m1-2h0m2 0h0m1 2h0m0-4h0m0 3h0m1-2h0m1 1h0m0 0h0m2-2h0m0 4h0m2-3h0m0 0h0m3 3h0m1-4h0m2 0h0m0 3h0m1-1h0m1 2h0m1-4h0m3 2h0m0 0h0m0-2h0m1 0h0m1 0h0m1 1h0m2 0h0m1-1h0m1 2h0m2 1h0m1-3h0m0 1h0m1 1h0m1-1h0m1 1h0m1-2h0m0 1h0m1 3h0m1-2h0m1 1h0m4-2h0m2 0h0m0-1h0m0 2h0m1 2h0m0-3h0m1 3h0m3 0h0m1-4h0m2 0h0m0 4h0m0 0h0m0-3h0m2 3h0m2-2h0m0-2h0m0 4h0m1-2h0m4-2h0m2 4h0m1-1h0m1 0h0m0-2h0m2 3h0m0-3h0m1 2h0m0-1h0m1-1h0m2 0h0m1-1h0m2 3h0m0 1h0m0-3h0m2-1h0m1 3h0m1 0h0m1 0h0m2-3h0m0 0h0m0 4h0m0-3h0m1 2h0m1 0h0m0-3h0m1 3h0m0-2h0m0 3h0m1-4h0m0 3h0m2 1h0m1 0h0m1-1h0m1-1h0m0-2h0m1 2h0m0 0h0m0 2h0m1-3h0m1 1h0m1-1h0m1 0h0m0 1h0m-2 6h0m0-3h0m-1 4h0m-2 0h0m0 0h0m0-2h0m-2 0h0m0 1h0m-1-3h0m-1 1h0m-2-1h0m0 4h0m-1-3h0m0 1h0m-1 0h0m-1 2h0m-3 0h0m0-2h0m0 0h0m-1 0h0m0-2h0m-1 2h0m-1 0h0m-1 0h0m-2 0h0m-1-1h0m0 1h0m-3 0h0m-1 0h0m0-2h0m-1 0h0m-2 3h0m0 0h0m-1 0h0m-1-2h0m-1 0h0m-1 0h0m-1 2h0m0 0h0m0 0h0m-1-1h0m-1 2h0m-2-1h0m-5-2h0m0 0h0m-2 1h0m0 0h0m-1 2h0m-1-1h0m0 0h0m-2 0h0m0-3h0m-1 2h0m-1-1h0m-2 1h0m-4-1h0m-1 2h0m0-1h0m-1-2h0m0 2h0m-3 0h0m-4 1h0m-3-3h0m0 3h0m0 0h0m-1-2h0m0 0h0m-2 0h0m0-1h0m-3 0h0m-1 2h0m0 0h0m-2-1h0m-3 0h0m0 0h0m-2 1h0m-1 1h0m-4 0h0m0 0h0m-1-2h0m-2 2h0m0 0h0m-3-1h0m-1-1h0m0 1h0m-1 2h0m0-4h0m0 3h0m-1-3h0m-1 3h0m0 0h0m-1 0h0m0-3h0m0 4h0m-1 0h0m-3-2h0m0 2h0m-1-1h0m-2-2h0m-2 2h0m0 1h0m0 0h0m0-3h0m-1-1h0m-1 1h0m-2 1h0m-4-1h0m0 0h0m-1 3h0m0 0h0m-1-4h0m0 1h0m-2 2h0m0-1h0m-1 2h0m0-4h0m0 1h0m0 3h0m-2-3h0m-1 3h0m0-3h0m-1 1h0m0-2h0m-1 3h0m-1-3h0m-1 2h0m0-2h0m-1 3h0m0-3h0m0 3h0m-1-3h0m-1 3h0m-1 1h0m0-3h0m-2 3h0m0-3h0m0 0h0m-1 1h0m0 2h0m-1-1h0m-1-3h0m-2 3h0m0 1h0m-1-4h0m0 2h0m-2-1h0m0-1h0m-2 2h0m-1-2h0m-2 2h0m-1-1h0m0 0h0m-2 2h0m-1-1h0m-1 0h0m-1 0h0m-3 1h0m-4-2h0m0-1h0m0 2h0m-1 1h0m-5-1h0m-1-2h0m0 0h0m-1 0h0m0 0h0m-6 2h0m0-1h0m-1 1h0m-3 0h0m-3-2h0m-1 2h0m0-2h0m-2 4h0m0-1h0m0-1h0m-1 2h0m0-3h0m0 2h0m-1-3h0m0 1h0m0 1h0m-2-2h0m-1 1h0m0 0h0m-1 1h0m0-2h0m-2 0h0m0 1h0m-3-1h0m62 6h0m2 0h0m3 0h0m0-1h0m1 0h0m0 2h0m2 0h0m3-1h0m1 1h0m1 0h0m0 1h0m1-3h0m5 3h0m0 1h0m2-4h0m1 1h0m6-1h0m0 0h0m1 2h0m1-2h0m1 2h0m5-2h0m3 0h0m6 4h0m4-1h0m6 0h0m3-1h0m11 1h0m4 0h0m1-3h0m2 3h0m0 0h0m4-1h0m5 1h0m3-1h0m0-2h0m3 0h0m1 3h0m0 0h0m0 0h0m1 0h0m1-1h0m0 2h0m1-3h0m2 1h0m1-1h0m0 1h0m1-2h0m0 4h0m3-2h0m0 1h0m0 0h0m3-1h0m0 0h0m1 0h0m1-2h0m0 4h0m2-1h0m1 1h0m2-4h0m0 1h0m0 3h0m1-3h0m0 0h0m0 2h0m1 0h0m1-3h0m0 4h0m1-3h0m1 1h0m0-2h0m3 0h0m0 1h0m0 2h0m0 0h0m1-2h0m0-1h0m3 0h0m0 4h0m1-1h0m1-3h0m1 4h0m0 0h0m1-1h0m0-2h0m0 3h0m2-4h0m0 1h0m0 3h0m0 0h0m1-1h0m0-1h0m1 3h0m-1 1h0m0 2h0m-2-3h0m0 3h0m-2-2h0m-1 3h0m0-4h0m-1 2h0m0-1h0m-1-1h0m-2 2h0m-2-1h0m-3 3h0m0-2h0m-1 1h0m0-2h0m-4 1h0m0 1h0m-1-3h0m-2 1h0m-1 3h0m-1-1h0m-1 0h0m0-2h0m-1 0h0m0 1h0m-1 2h0m-2 0h0m-2 0h0m-1-1h0m0 1h0m-2-3h0m-2-1h0m-1 4h0m0-2h0m-1-2h0m0 3h0m-1-3h0m0 2h0m0-2h0m-1 1h0m-4 3h0m-1-4h0m0 0h0m-4 3h0m-9 1h0m-1 0h0m-3-4h0m-3 3h0m-3-2h0m-5 3h0m-2-2h0m-1 1h0m-4-1h0m-4-2h0m-4 3h0m-2-3h0m-2 4h0m-2 0h0m-2 0h0m-2 0h0m-1-3h0m-6 5h0m2 3h0m16-4h0m4 2h0m12 1h0m2-2h0m1 2h0m3-2h0m8-1h0m7 4h0m4-1h0m3 1h0m0-1h0m0-2h0m1-1h0m1 4h0m0-4h0m2 0h0m0 1h0m1 3h0m1-4h0m1 0h0m0 3h0m1 0h0m0 1h0m1-2h0m1 2h0m2-2h0m2 0h0m0 1h0m0 0h0m1-1h0m0-1h0m0 2h0m1 0h0m0-2h0m1-1h0m1 3h0m0 0h0m1 1h0m2-3h0m2 3h0m1-2h0m0-2h0m3 2h0m0-1h0m2 3h0m0-2h0m1-1h0m1 3h0m0-2h0m1 0h0m0 1h0m0 0h0m1-3h0m1 1h0m0 1h0m0 0h0m1 2h0m4-2h0m1 0h0m0-1h0m1 2h0m1-1h0m1 1h0m1-3h0m0 3h0m0-3h0m0 3h0m1 0h0m0 0h0m-1 4h0m-2 0h0m-2 1h0m0 1h0m-2-1h0m-3 1h0m0-4h0m0 1h0m-1-1h0m-1 0h0m-1 2h0m-1-2h0m0 3h0m0-3h0m0 1h0m-1 1h0m-1-1h0m0 2h0m0-3h0m-1 3h0m0-2h0m-3 3h0m-2-2h0m0 0h0m0-2h0m-1 0h0m-2 4h0m-1-1h0m0 0h0m-1-3h0m-1 1h0m-2 0h0m0-1h0m0 4h0m-1-2h0m-1 1h0m-1-1h0m0-2h0m0 0h0m-2 3h0m0-2h0m-1 1h0m-1 1h0m-2-2h0m-1 1h0m-1 2h0m-2-3h0m0-1h0m-1 1h0m-6 2h0m-5-2h0m-2 2h0m-2 0h0m-1-1h0m-2 2h0m-4-3h0m-3 1h0m-1 2h0m0-4h0m-3 3h0m-1-1h0m-3-1h0m0 1h0m-12 0h0m-3-2h0m-8 3h0m-2 0h0m-4 1h0m-1-4h0m8 5h0m1 4h0m2-3h0m2-1h0m1 4h0m8-1h0m1 0h0m8-2h0m3 3h0m0-4h0m2 3h0m22 0h0m3-3h0m2 1h0m1 1h0m2 0h0m1 1h0m0 0h0m0-2h0m0 2h0m1 1h0m1-1h0m0 0h0m4 1h0m1-2h0m0-2h0m2 2h0m0 1h0m1 0h0m1-3h0m0 3h0m0 1h0m1-4h0m1 3h0m0-1h0m0-2h0m0 0h0m1 3h0m0-3h0m1 0h0m0 3h0m1-3h0m0 0h0m0 4h0m1 0h0m0-4h0m1 3h0m2-3h0m1 1h0m0 0h0m1-1h0m3 1h0m0 2h0m0-3h0m1 0h0m1 3h0m0 0h0m2-1h0m0 2h0m0-4h0m1 4h0m6-1h0m0-3h0m0 4h0m3-3h0m0 2h0m0-1h0m0 1h0m1 1h0m1-3h0m0 4h0m0 4h0m-1 0h0m-1-4h0m0 0h0m0 4h0m0-1h0m-1 0h0m-1-3h0m-1 2h0m0-2h0m-1 1h0m0 0h0m0 1h0m-1-1h0m0 0h0m0-1h0m-1 4h0m0-4h0m0 4h0m0-1h0m-2 1h0m-2-4h0m-1 0h0m-1 3h0m0 1h0m-1-3h0m-1 3h0m-1 0h0m-1-2h0m-1 2h0m0 0h0m-1 0h0m-1-4h0m-2 0h0m-1 4h0m-1 0h0m0-2h0m0-2h0m-1 3h0m-1-1h0m-1 2h0m0 0h0m0-2h0m-2 2h0m0-3h0m-2-1h0m-1 4h0m0-2h0m-2 2h0m-1-4h0m0 0h0m0 4h0m-1-4h0m-1 3h0m0-2h0m-1 3h0m-1-4h0m0 3h0m0-2h0m0 1h0m0 1h0m-2 1h0m0-1h0m0 1h0m-1-4h0m0 3h0m0-1h0m0 2h0m0-1h0m-2-2h0m-2 3h0m-1-1h0m-1-1h0m-1-1h0m-13 1h0m-1 0h0m0-2h0m-6 0h0m-1 3h0m-3-3h0m-5 4h0m-2-4h0m-4 0h0m0 4h0m-1-4h0m-1 1h0m-5 2h0m-11-2h0m4 6h0m0 1h0m1 0h0m12-1h0m4-1h0m11 2h0m2-1h0m13-1h0m8 1h0m0 2h0m3-4h0m1 1h0m1-1h0m0 4h0m0-1h0m0 0h0m0 1h0m0-1h0m1-1h0m0 1h0m2-1h0m2 1h0m1-3h0m0 2h0m5 0h0m0-2h0m1 2h0m2 0h0m1-1h0m0 0h0m1 3h0m0 0h0m1 0h0m0-3h0m1 0h0m1 3h0m1-3h0m2 3h0m0-4h0m0 0h0m1 1h0m1-1h0m1 2h0m1 1h0m0-2h0m1-1h0m0 0h0m1 4h0m2-2h0m0 0h0m1 1h0m1-1h0m1 0h0m2-2h0m1 0h0m0 3h0m1-2h0m1-1h0m2 2h0m2-1h0m1-1h0m-1 7h0m0-1h0m-2 3h0m0-4h0m0 4h0m-1-3h0m0 0h0m-1 2h0m-1 1h0m0-3h0m-1 1h0m-2-1h0m0 0h0m-1 3h0m0-4h0m0 2h0m0-2h0m-3 1h0m-1 2h0m-1 0h0m-1 0h0m-1 0h0m-1 1h0m-2-2h0m0 1h0m-5-3h0m0 1h0m0-1h0m-1 1h0m-1 1h0m-1-1h0m0 1h0m-1 2h0m-1-1h0m-1-2h0m-1 2h0m-1-3h0m0 2h0m-1 0h0m0 1h0m-1 1h0m0-2h0m-1-1h0m0-1h0m-1 0h0m0 3h0m0 1h0m-1-4h0m-1 0h0m-1 3h0m0 1h0m-1-1h0m-1-3h0m-1 0h0m0 2h0m-1-1h0m-1 0h0m-1 2h0m-2 0h0m0-3h0m-1 3h0m-2-3h0m0 3h0m0-1h0m-2 1h0m0-1h0m-1 2h0m0-1h0m-4 0h0m-2 1h0m-1-1h0m-10-1h0m-4-1h0m-1 2h0m-10-3h0m-1 3h0m-2-3h0m-1 4h0m-3 2h0m1 3h0m1 0h0m7-1h0m1-2h0m4 2h0m2-1h0m1 1h0m9-1h0m6-1h0m3-1h0m4 0h0m0 3h0m0 0h0m1 1h0m0-1h0m1-3h0m3 4h0m0-1h0m2-3h0m1 2h0m0 0h0m1 1h0m0-1h0m2-2h0m0 1h0m0 3h0m5-4h0m1 0h0m1 3h0m1-1h0m1-2h0m2 1h0m3-1h0m0 2h0m1 2h0m0-4h0m2 4h0m0-3h0m3 3h0m1-2h0m2 2h0m1-2h0m3 2h0m0-4h0m1 0h0m0 2h0m1-1h0m2 0h0m0 2h0m2-1h0m0 1h0m3 1h0m2 0h0m0-4h0m0 3h0m0-2h0m3 3h0m0-2h0m0 3h0m-2 2h0m0-1h0m0 3h0m-1-2h0m-1 0h0m0-1h0m-2 0h0m0 3h0m-4-4h0m-1 1h0m0 0h0m-1 0h0m-1 3h0m0-3h0m-1-1h0m-1 0h0m-2 3h0m-1 1h0m-1-2h0m-1 1h0m-1 0h0m-2-3h0m-2 0h0m-1 1h0m0 1h0m-2 1h0m0 1h0m-1-1h0m0-3h0m-3 3h0m-2-2h0m-2 3h0m0-1h0m-1-3h0m0 4h0m-1-3h0m-3 3h0m0 0h0m0-4h0m0 2h0m-1-2h0m0 0h0m0 4h0m-2-4h0m0 2h0m0-1h0m0 0h0m-4 0h0m0 0h0m-3 1h0m-1 1h0m0 1h0m0-3h0m0 2h0m-1-1h0m-2-1h0m-7 1h0m-3 2h0m-6-3h0m-1-1h0m-3 3h0m-1-2h0m-2-1h0m-7 1h0m0 3h0m-3 1h0m5 3h0m9 1h0m8-4h0m3 0h0m2 4h0m1-4h0m1 2h0m2 2h0m2-4h0m2 0h0m1 3h0m1 1h0m0 0h0m1-4h0m0 4h0m1 0h0m1-2h0m0 1h0m0 0h0m1-1h0m1 2h0m2 0h0m1-1h0m2 1h0m2-1h0m0-2h0m0 0h0m0-1h0m1 2h0m2 0h0m0 0h0m0 1h0m1-1h0m2 1h0m1 0h0m0-2h0m1 0h0m2 2h0m0-3h0m1 3h0m1-1h0m1 1h0m1 0h0m1 0h0m1 1h0m2-1h0m0-1h0m1-1h0m0 3h0m1 0h0m0 0h0m2-3h0m0 0h0m0 3h0m1-2h0m0-1h0m2 2h0m1 1h0m0-2h0m1 2h0m1-1h0m1 1h0m6-4h0m1 3h0m0 2h0m0 0h0m-4 3h0m-1 0h0m-1-3h0m-1 2h0m-2-1h0m0 0h0m-1 0h0m0-1h0m-3 3h0m0-3h0m-1 4h0m0-1h0m-4-3h0m0 0h0m-1 0h0m-1 2h0m-2-1h0m0 2h0m-1 0h0m-2 0h0m-2-1h0m-1 2h0m0-4h0m0 0h0m-1 1h0m-1 0h0m-2 3h0m0-3h0m-1 0h0m0 3h0m-2 0h0m-1 0h0m0-1h0m0-2h0m-2 1h0m-2 0h0m-1-2h0m0 4h0m0 0h0m-3-2h0m-1-1h0m-2 1h0m0-1h0m0 3h0m-1-3h0m0 1h0m-1 0h0m-1 1h0m-1 1h0m0-4h0m0 2h0m0-2h0m-1 1h0m0 1h0m-1-2h0m-1 2h0m0-2h0m0 2h0m-1 1h0m0 1h0m0-1h0m-1 0h0m-2 0h0m-2 1h0m0-4h0m-2 1h0m-9 0h0m-8 0h0m7 4h0m9 2h0m0 2h0m0 0h0m5-4h0m2 1h0m0 0h0m1-1h0m0 0h0m2 2h0m0 2h0m2-2h0m0 0h0m0 2h0m3-1h0m0-2h0m1-1h0m0 2h0m0-2h0m2 4h0m0-1h0m1 1h0m0-4h0m1 0h0m0 0h0m0 2h0m1-1h0m0-1h0m0 3h0m4-2h0m1 3h0m1-4h0m0 1h0m4 3h0m1-2h0m3 2h0m1-1h0m1-3h0m2 3h0m0-2h0m1-1h0m1 0h0m0 4h0m3 0h0m2 0h0m0-4h0m0 4h0m1 0h0m0-2h0m0-2h0m1 3h0m0-2h0m2 1h0m0-1h0m1 2h0m0 0h0m1-2h0m0 1h0m1 2h0m1-1h0m0-1h0m0-2h0m2 1h0m3 1h0m1 0h0m-3 7h0m0 0h0m-1-1h0m0-1h0m-1 0h0m-2 2h0m-3-1h0m0 1h0m-1-1h0m-2-2h0m0-1h0m0 0h0m-1 2h0m-1 1h0m0 0h0m-1-3h0m-1 3h0m-1-3h0m-1 1h0m0 3h0m-3-2h0m0 1h0m-1 0h0m0 0h0m0 0h0m-1-3h0m0 4h0m-1-4h0m-1 3h0m-1 0h0m0 0h0m0-1h0m-2 0h0m-1 1h0m-1-3h0m-2 0h0m-1 2h0m0 1h0m-2-3h0m-1 4h0m-3-4h0m0 3h0m-2-1h0m0 2h0m0-3h0m-1 3h0m0-1h0m0 1h0m0-1h0m-1 1h0m-1-2h0m0-1h0m0-1h0m-1 3h0m0-1h0m0-2h0m-1 3h0m0 0h0m-1 0h0m0-1h0m0 1h0m-1-2h0m-1 0h0m-1 0h0m-1 1h0m0-2h0m-1 4h0m0-4h0m-1 2h0m-1 1h0m-3 1h0m0-2h0m-2-1h0m-3 0h0m-2 3h0m-1-1h0m-3 1h0m0-1h0m-12 6h0m0 0h0m1 0h0m1-1h0m2 0h0m0-1h0m0 1h0m2 0h0m1 0h0m1-2h0m0 1h0m1 1h0m1-2h0m0 3h0m1 0h0m0-1h0m0-3h0m0 3h0m1 0h0m1-2h0m1 0h0m0 0h0m1 2h0m1 1h0m1-1h0m1-3h0m3 4h0m1-2h0m0-1h0m1 1h0m2 2h0m1-3h0m1 2h0m1-2h0m0-1h0m0 4h0m2-3h0m0 2h0m0 1h0m1-1h0m1 1h0m1 0h0m0-2h0m1-1h0m0 2h0m3-2h0m1-1h0m2 0h0m0 0h0m0 2h0m5 1h0m0-2h0m1 2h0m2-3h0m2 0h0m1 1h0m1 2h0m0 1h0m3-2h0m1-2h0m1 0h0m0 2h0m1 1h0m0 1h0m1 0h0m1-4h0m4 4h0m1-2h0m1 2h0m0-4h0m3 3h0m1-1h0m1 2h0m0-3h0m1 0h0m1-1h0m0 4h0m1 0h0m0-1h0m1-1h0m0-1h0m0 0h0m3-1h0m-1 5h0m-1 2h0m-1-1h0m0 1h0m-1-1h0m0 0h0m-1 2h0m0 1h0m0-1h0m-1 1h0m-1-2h0m0-1h0m0 0h0m-1 1h0m0 1h0m-1-1h0m0-2h0m0 3h0m0 0h0m-2-3h0m-2 4h0m0-4h0m0 0h0m-1 2h0m-1-1h0m-1 2h0m0 1h0m-2-1h0m-1 0h0m0-2h0m-1 0h0m-1 0h0m-3-1h0m-2 2h0m0 0h0m0 2h0m-1-1h0m-2 0h0m-1-1h0m0-1h0m0 1h0m-1 0h0m-1 2h0m-1-4h0m0 0h0m-1 2h0m-1 0h0m-1-2h0m0 3h0m0 1h0m-1-3h0m0 3h0m0-1h0m-1-2h0m-1 3h0m-3 0h0m-1-1h0m0-2h0m-3 1h0m-3 2h0m-2-3h0m0 0h0m-3-1h0m0 2h0m-1 1h0m-4 1h0m0-1h0m0 1h0m-1-1h0m-1 0h0m0 1h0m0-2h0m-3 2h0m0-4h0m-1 4h0m-1-3h0m0-1h0m-2 3h0m-1 1h0m0-3h0m-1 3h0m0-3h0m0 3h0m-2-2h0m0 0h0m-1 0h0m-1 0h0m-1 0h0m0-2h0m0 4h0m-1-4h0m0 4h0m0-1h0m-1-2h0m-1-1h0m-2 4h0m-1-1h0m0-1h0m0-2h0m-1 2h0m-2 1h0m-1-1h0m0 2h0m-1 0h0m-1-1h0m-1 1h0m-1 5h0m0-3h0m1 0h0m0 1h0m0 2h0m0 0h0m0-3h0m0-1h0m0 4h0m1-2h0m1 2h0m0-3h0m2 0h0m0 2h0m0 1h0m1-1h0m1 0h0m0-1h0m1-1h0m2 0h0m0-1h0m2 0h0m1 0h0m1 4h0m0-1h0m1-3h0m2 0h0m0 4h0m1-3h0m1 0h0m0 2h0m2-3h0m2 1h0m0 1h0m0-1h0m0 2h0m0-1h0m1 1h0m0-2h0m1 2h0m2-1h0m1 1h0m2-2h0m1-1h0m1 4h0m1-2h0m0-1h0m1 2h0m0-3h0m1 0h0m0 2h0m0-2h0m1 2h0m1-1h0m2 2h0m0 1h0m0-1h0m1 0h0m0-3h0m0 0h0m2 1h0m1 1h0m0 1h0m1 1h0m0-2h0m0 0h0m1 1h0m0 0h0m0-2h0m1 0h0m1 2h0m0-3h0m1 0h0m6 0h0m1 0h0m0 3h0m1-3h0m0 0h0m1 1h0m4 0h0m0-1h0m0 3h0m1-3h0m0 0h0m0 3h0m2-2h0m1 3h0m3-1h0m1 0h0m1-2h0m1-1h0m0 1h0m1 2h0m0 0h0m1 0h0m1-2h0m0 2h0m0-1h0m1-1h0m0 3h0m4-4h0m1 4h0m0-4h0m0 0h0m3 0h0m2 4h0m0-1h0m1 2h0m0 3h0m0-3h0m-1 1h0m-1-1h0m0 3h0m-2-3h0m-2 3h0m-1-1h0m0-1h0m0 0h0m-3 1h0m-1 1h0m-2 0h0m0 1h0m-1-4h0m-1 2h0m0 0h0m0 1h0m-2 0h0m0-3h0m-1 0h0m0 4h0m-4-1h0m-1 1h0m0 0h0m-3-4h0m0 4h0m-1-1h0m-1 1h0m-2-3h0m0 2h0m0-2h0m0 3h0m0-1h0m-1 0h0m0 1h0m-1-4h0m-2 1h0m0 0h0m-1 3h0m-1-1h0m-1 0h0m-1 1h0m-1 0h0m-2-3h0m-1 3h0m0-2h0m-1 1h0m0 1h0m-1 0h0m0-3h0m-2 1h0m-5 2h0m0-2h0m0 0h0m0 0h0m-1 1h0m-2-1h0m-1-2h0m-1 3h0m-1 0h0m-1 0h0m-2-1h0m-1 1h0m-2-1h0m-1 0h0m0 2h0m-2 0h0m-1-3h0m-1 2h0m0 1h0m0-4h0m0 2h0m-1-1h0m0 1h0m-1 0h0m0-2h0m-1 4h0m-1-4h0m-1 4h0m-1-4h0m-1 3h0m-1 1h0m0-3h0m-2 1h0m0 2h0m0-2h0m-5 0h0m-1 1h0m-1-1h0m-1 2h0m0-3h0m-1-1h0m0 2h0m-1-1h0m1 6h0m0-1h0m1 0h0m1 3h0m1-2h0m1-1h0m1 0h0m1 2h0m0 0h0m1-2h0m0 2h0m0-1h0m0 2h0m1-3h0m0 1h0m2-1h0m1 1h0m0 0h0m2 2h0m0-4h0m1 4h0m2-1h0m0 1h0m1-2h0m3 0h0m0 2h0m0-4h0m1 2h0m1 0h0m1-1h0m1-1h0m0 4h0m0-3h0m3 3h0m0 0h0m0 0h0m1 0h0m2-2h0m0 2h0m3-1h0m0 1h0m2-2h0m0-1h0m1 2h0m0-1h0m0-2h0m3 4h0m1-2h0m1 0h0m0-1h0m0 3h0m1-3h0m1 2h0m1-3h0m0 0h0m3 3h0m1-2h0m0-1h0m0 3h0m1-2h0m1-1h0m2 0h0m0 4h0m1-2h0m0-2h0m1 0h0m0 4h0m0-3h0m0 3h0m1-1h0m2 0h0m0-1h0m1-1h0m0 3h0m1-4h0m1 0h0m1 0h0m2 1h0m1-1h0m0 3h0m0-1h0m2 2h0m1-4h0m0 0h0m3 3h0m1 0h0m0-3h0m1 2h0m0-1h0m0 0h0m1 3h0m1-4h0m3 1h0m0 1h0m0-1h0m0 3h0m1-2h0m0 0h0m0 0h0m1-1h0m1 2h0m0 0h0m4 0h0m2-1h0m0 1h0m0 1h0m1-3h0m1 1h0m0 4h0m0-1h0m-1 0h0m-1 0h0m-1 4h0m-1-2h0m-2 2h0m0-4h0m-1 3h0m0-2h0m0 3h0m-1-2h0m-1-2h0m0 2h0m-1 1h0m0-1h0m-1 2h0m-1-3h0m0 0h0m-1 3h0m0-4h0m-1 2h0m-1-2h0m0 2h0m0 2h0m-2-3h0m0-1h0m-1 3h0m0-1h0m0-2h0m0 2h0m-1 0h0m-1 0h0m-2-2h0m-2 4h0m0-1h0m0 1h0m-1-4h0m-2 1h0m-1 0h0m0-1h0m-1 0h0m0 0h0m-2 1h0m0 2h0m-2-2h0m0 3h0m-1-2h0m0 2h0m0-4h0m-1 0h0m-1 1h0m0-1h0m-1 4h0m-2-2h0m-1 0h0m-1 0h0m0-1h0m0 0h0m-2 1h0m-1 2h0m-1-2h0m-1-2h0m-1 4h0m0 0h0m-2-2h0m-1-1h0m0-1h0m-3 3h0m0 1h0m-1 0h0m-1-2h0m0 0h0m-2-2h0m0 3h0m0 1h0m-1-4h0m0 2h0m-2 2h0m-2-1h0m-1 1h0m0-3h0m-2 2h0m-1 1h0m-2 0h0m-2-4h0m0 4h0m0-1h0m-1-2h0m-1-1h0m0 2h0m-1-1h0m-1 1h0m-2-1h0m-3 0h0m-1 3h0m0-1h0m-1-2h0m0 3h0m0-3h0m-1 2h0m-2 1h0m-1-4h0m0 2h0m-1-1h0m0-1h0m-1 1h0m-1 6h0m1-2h0m0 4h0m1-1h0m0 0h0m0-3h0m5 1h0m1-1h0m0 0h0m1 2h0m0 0h0m1 1h0m1-3h0m0 3h0m1-2h0m1 2h0m0-3h0m1 4h0m1 0h0m1-3h0m0 1h0m0-1h0m0 0h0m0 2h0m0 0h0m2-1h0m1-2h0m1 2h0m1-1h0m1-1h0m0 3h0m1 1h0m3-3h0m0 0h0m0 3h0m0-2h0m1 2h0m2-3h0m1 0h0m2-1h0m1 1h0m0-1h0m2 1h0m1 1h0m1 2h0m0-4h0m0 2h0m1 0h0m1 2h0m0-3h0m2 1h0m1 2h0m1 0h0m3-2h0m1 1h0m1-2h0m1 0h0m0 2h0m3 1h0m0-4h0m1 1h0m3 0h0m0 2h0m1 1h0m2-3h0m1 0h0m1 0h0m0 1h0m2 1h0m0-3h0m1 1h0m0 3h0m0-4h0m1 2h0m0 0h0m1 2h0m1 0h0m1-1h0m0-3h0m0 3h0m0 1h0m3-1h0m0 1h0m0-4h0m4 4h0m1-3h0m0 3h0m0-3h0m1 3h0m2-4h0m1 2h0m1 2h0m3-2h0m0 1h0m1 1h0m1-4h0m1 4h0m0-2h0m0 4h0m0 1h0m-1-1h0m-3 2h0m0-2h0m0 3h0m-2-4h0m0 2h0m-1-1h0m0-1h0m0 3h0m0-2h0m-1 3h0m-2-4h0m-2 2h0m0-1h0m-1 0h0m-2 3h0m-1 0h0m-4-4h0m0 0h0m-2 0h0m0 1h0m0 2h0m-1-3h0m0 4h0m0-4h0m0 0h0m0 3h0m-1-2h0m-1 0h0m0 1h0m-1-2h0m0 0h0m-5 2h0m0-2h0m-2 4h0m0-1h0m-2 0h0m-1 1h0m-1-2h0m0 2h0m0 0h0m0-3h0m-1 2h0m-2 0h0m-1 1h0m-2-2h0m-1 1h0m-4 0h0m0 0h0m0-1h0m0-2h0m-2 0h0m0 3h0m0 1h0m-1-4h0m-1 2h0m0 0h0m-1 0h0m0-2h0m-1 3h0m0 0h0m-1 1h0m0-4h0m0 1h0m-1 2h0m0 0h0m-1 0h0m0 1h0m-3-4h0m-1 0h0m0 0h0m0 0h0m-1 1h0m-2 0h0m-2 3h0m0-2h0m-1 2h0m0-4h0m-3 4h0m-2-1h0m0-1h0m0 1h0m-1-1h0m-2 0h0m0-2h0m0 0h0m-1 3h0m0-2h0m-1 0h0m-1 0h0m0-1h0m0 2h0m-2 2h0m0 0h0m-1-4h0m-1 3h0m0-2h0m-1 3h0m0-4h0m-1 4h0m-1 0h0m0-3h0m-1 2h0m-1-2h0m0 4h0m2 0h0m0 0h0m0 3h0m0 0h0m1-1h0m1 1h0m2 0h0m0-1h0m1 0h0m0 1h0m0-1h0m4 1h0m0 1h0m2-4h0m2 0h0m1 4h0m0-3h0m2-1h0m1 2h0m1-1h0m1 0h0m0 3h0m1 0h0m0-2h0m0 2h0m1-2h0m0 1h0m1-1h0m0 1h0m1 0h0m1-2h0m1-1h0m0 2h0m1-2h0m0 2h0m2-2h0m1 3h0m0 0h0m0-3h0m1 4h0m1-2h0m1-2h0m1 0h0m1 2h0m1 2h0m0-4h0m2 2h0m1 2h0m0 0h0m0-2h0m0-2h0m1 4h0m1-4h0m3 4h0m1-3h0m0 0h0m1 1h0m1 0h0m2-1h0m0 2h0m0-3h0m2 2h0m1-1h0m1 1h0m1-1h0m1 3h0m1-4h0m1 1h0m0 2h0m1-1h0m1 2h0m0-2h0m1-1h0m2 0h0m0 1h0m2-2h0m1 1h0m1 2h0m3 1h0m5-2h0m0 0h0m2-1h0m1 2h0m1 1h0m0-2h0m2 2h0m0 0h0m1-3h0m1 1h0m2 0h0m1 0h0m-5 3h0m-1 0h0m-3 0h0m-1 1h0m-1-1h0m-2 2h0m-1 1h0m0 1h0m-1 0h0m0-1h0m0-1h0m-1 0h0m0-2h0m0 3h0m-2 0h0m-1 0h0m-1-3h0m0 0h0m-1 1h0m0 3h0m-1-1h0m-2-3h0m0 0h0m0 4h0m-1-4h0m-1 1h0m-1 0h0m-1 2h0m-2-1h0m0-1h0m-1 3h0m0-2h0m-1 2h0m-1-4h0m0 2h0m0-1h0m-1 3h0m0 0h0m-1-4h0m0 2h0m-1 0h0m0-1h0m-2-1h0m-5 1h0m-3-1h0m-1 2h0m0 0h0m-1-2h0m-1 2h0m0-1h0m-1-1h0m0 0h0m0 1h0m0 3h0m-1-1h0m-1-1h0m0 1h0m-1 0h0m0-2h0m0-1h0m-1 2h0m0-2h0m0 4h0m-1-3h0m0 1h0m0 1h0m0 0h0m-1-2h0m-1 1h0m-1 2h0m-1 0h0m0-3h0m-3 1h0m0 0h0m0 2h0m0-1h0m0-1h0m-2-2h0m0 2h0m0 1h0m0 0h0m-1-1h0m0-2h0m0 3h0m-3-2h0m0 2h0m-1 0h0m-1 0h0m-1 0h0m-1 0h0m-1-2h0m0 3h0m0 0h0m-2-2h0m-2 0h0m-1-2h0m-2 3h0m0-1h0m-2 1h0m-1-1h0m-1-2h0m-1 2h0m0-2h0m3 5h0m1 0h0m1 2h0m1 2h0m2-3h0m1 3h0m0-4h0m0 4h0m1-3h0m3 2h0m3 0h0m0-1h0m1 1h0m1-1h0m0-1h0m0 0h0m1 2h0m0 0h0m1-2h0m1-1h0m1 4h0m5-1h0m1-3h0m1 3h0m2 1h0m1-1h0m1 0h0m1 0h0m0 0h0m1 1h0m0-2h0m2-2h0m0 2h0m0 1h0m1-3h0m1 1h0m1 0h0m1 3h0m2-2h0m1-1h0m0-1h0m1 1h0m4 0h0m2 0h0m2 0h0m0 0h0m4 0h0m1-1h0m2 1h0m1 0h0m2 0h0m2-1h0m3 1h0m4-1h0m-32 5h0m-2 1h0m0 0h0m-1 0h0m0 3h0m-1 0h0m-1-1h0m-1 1h0m0-1h0m0 1h0m-2-2h0m-1 1h0m-3-2h0m-1 0h0m-2 2h0m-1-1h0m-1 0h0m0 0h0m-1-1h0m0 1h0m-1 0h0m0-2h0m-1 0h0m0 3h0m-1 0h0m0 0h0m0-1h0m-1-1h0m-2 3h0m-1-4h0m-2 2h0m0-1h0m-6 1h0m-3-2h0m17 5h0m4 0h0m1 0h0" stroke="#6b6b6b" stroke-width="2.00" stroke-linecap="round" fill="none"/>
<path d="M217 919h0m-2-2h0m-1 2h0m-4 0h0m-8 0h0m-2-2h0m0-2h0m-5 4h0m0-1h0m-1-2h0m-1 1h0m0 2h0m0-1h0m-4 3h0m1-1h0m1 0h0m0 4h0m1-3h0m3 2h0m5-3h0m0 4h0m1-4h0m4 3h0m2-1h0m3-1h0m9 1h0m3 2h0m1-3h0m0 3h0m1-1h0m5-1h0m1 2h0m14 5h0m-1-1h0m0 0h0m-4-2h0m-1 0h0m-3 2h0m-13-2h0m-2 1h0m-4 1h0m-3-3h0m0 3h0m0 1h0m-2-4h0m-1 4h0m-2-2h0m0 0h0m-1 0h0m-3 1h0m-1-1h0m-1 0h0m0-2h0m-1 0h0m0 4h0m-5 0h0m-2-2h0m0-2h0m0 8h0m2-1h0m2-2h0m0 2h0m1 2h0m1-3h0m0 1h0m1-2h0m0 3h0m0 0h0m0 1h0m1-1h0m2-1h0m1 1h0m0-3h0m0 1h0m0 1h0m0 0h0m1 0h0m0 0h0m0 2h0m1-1h0m1 1h0m0 0h0m1-4h0m0 4h0m1 0h0m1-2h0m0 2h0m1-3h0m0 3h0m1-3h0m0-1h0m1 3h0m1-1h0m0 0h0m1 2h0m0-4h0m1 1h0m1 2h0m0-2h0m2 3h0m3-2h0m0-1h0m2 3h0m1-2h0m4-1h0m0 1h0m2 2h0m0 0h0m3-1h0m3 1h0m0-3h0m1 1h0m1 1h0m1-1h0m2-1h0m1-1h0m3 3h0m1-2h0m0 3h0m1-2h0m0 2h0m0 2h0m-7 1h0m-6 2h0m0 0h0m-6-4h0m-1 1h0m-2 0h0m-1 0h0m-1-1h0m-1 2h0m-2 0h0m-1 1h0m0 1h0m-1-4h0m0 1h0m-1-1h0m0 1h0m-1-1h0m-1 0h0m0 3h0m-1-1h0m0 1h0m-1 1h0m0 0h0m-1-4h0m0 4h0m-1-2h0m0 2h0m-1-2h0m0 2h0m-1-1h0m0-2h0m0 1h0m0 1h0m0-3h0m-1 4h0m0 0h0m0 0h0m-1-1h0m0-2h0m-2 2h0m-1 1h0m0-2h0m-1-2h0m0 3h0m-1-3h0m0 3h0m0 0h0m0-1h0m-1 0h0m-2-1h0m0 2h0m-1 0h0m0 1h0m-1-1h0m0 0h0m-1-2h0m0 3h0m-1-1h0m-2-3h0m0 3h0m-1 0h0m-2-1h0m2 4h0m2-1h0m2 0h0m0 3h0m1 0h0m0-1h0m1 0h0m1 2h0m0-4h0m1 1h0m0 1h0m1 0h0m0-2h0m1 4h0m1 0h0m1 0h0m0-2h0m1 2h0m0-1h0m0-1h0m1 0h0m0 1h0m0-3h0m1 4h0m0-2h0m0-1h0m1 0h0m0 3h0m0-3h0m1-1h0m0 3h0m1-2h0m1 1h0m0 0h0m0 2h0m0-2h0m0-2h0m1 1h0m1 0h0m2-1h0m1 3h0m1 1h0m1-4h0m0 2h0m1-2h0m1 3h0m2-3h0m0 1h0m0 2h0m1 0h0m3-3h0m5 0h0m0 4h0m1-4h0m4 3h0m1 1h0m4-1h0m2-3h0m2 0h0m0 2h0m1-2h0m0 8h0m-6-2h0m-1-1h0m-2 0h0m-8 2h0m-6 0h0m-1 1h0m-1-3h0m-1 1h0m-1-1h0m-1 2h0m-1-2h0m-2 0h0m-1 1h0m-2 1h0m0 1h0m-1-2h0m-2 0h0m-1-1h0m-1 4h0m-4-1h0m-1-3h0m-1 1h0m-2 2h0m-5-2h0m9 5h0m0 1h0m1-1h0m2-1h0m0 3h0m1 1h0m1-4h0m1 1h0m1 2h0m3 1h0m1-1h0m1 1h0m2-3h0m1 3h0m8-1h0m8-1h0m4 1h0m1-2h0m6-1h0m-15 7h0m-2-1h0m-1-1h0m-2 0h0m-5 2h0m-1 0h0m-2-1h0m-4-1h0m0 1h0m0 0h0m-2 0h0" stroke="#139b7a" stroke-width="2.00" stroke-linecap="round" fill="none"/>
<path d="M199 874h0m0 0h0m3 0h0m1 0h0m11 3h0m-2 0h0m0 0h0m-1-1h0m0 3h0m-1-3h0m0 1h0m-1 2h0m-2-1h0m-1 0h0m0-1h0m-1-1h0m-1 3h0m0-4h0m0 3h0m0 1h0m-2-2h0m0 1h0m0 1h0m0-2h0m-1-1h0m0 0h0m0 2h0m-2 0h0m0 1h0m0-1h0m-1 0h0m0 1h0m0 0h0m0 0h0m-1-2h0m0-2h0m0 2h0m0 0h0m-1 0h0m0 1h0m-1 1h0m0-2h0m0 2h0m0-2h0m0 0h0m0-1h0m-1 3h0m0-1h0m0 1h0m0-2h0m0-1h0m-1 0h0m0 3h0m0-2h0m0 2h0m-1 0h0m0-2h0m-1 0h0m0 0h0m0 2h0m-1 0h0m0-1h0m0 0h0m-1 1h0m-2 0h0m-1-1h0m0 1h0m-1-3h0m0 1h0m0-1h0m-5 7h0m1-2h0m1-1h0m1 2h0m0 1h0m1-2h0m2-1h0m0 3h0m1 1h0m0-3h0m0 3h0m0 0h0m1-3h0m0 2h0m0 1h0m1 0h0m0-2h0m0 1h0m0-3h0m0 2h0m0 1h0m1-3h0m0 1h0m0 2h0m0 0h0m0 0h0m0-1h0m0 2h0m1-1h0m0-3h0m0 0h0m1 2h0m0 2h0m0-3h0m0 1h0m0 1h0m1 0h0m0-2h0m0-1h0m0 3h0m0-2h0m0 2h0m0-3h0m0 3h0m0-2h0m0 3h0m0 0h0m0-2h0m1-2h0m0 0h0m0 2h0m0 2h0m0 0h0m0-1h0m0-3h0m1 4h0m0-2h0m0-2h0m0 0h0m0 0h0m0 4h0m0-2h0m0 2h0m1-1h0m0-3h0m0 1h0m0 1h0m0 2h0m0 0h0m1-1h0m0 1h0m0-4h0m0 0h0m0 4h0m1-4h0m0 4h0m0 0h0m0-2h0m0 0h0m0 2h0m0-1h0m0-1h0m1 2h0m0-3h0m0 3h0m0-1h0m0 0h0m0 1h0m1 0h0m0-1h0m0-2h0m0 3h0m0-4h0m1 2h0m0 2h0m0-2h0m0 0h0m0-2h0m0 0h0m0 0h0m1 4h0m0 0h0m0-2h0m0 0h0m0 0h0m0 0h0m0-2h0m1 1h0m0 0h0m0 3h0m0-3h0m0 3h0m0-1h0m0 1h0m0-1h0m0 1h0m1-4h0m0 2h0m0-1h0m0 0h0m0-1h0m0 2h0m0-1h0m0 2h0m0 0h0m0 1h0m0 0h0m0-2h0m0-1h0m1 0h0m0 2h0m0-3h0m0 3h0m0-2h0m1 2h0m0-1h0m0 2h0m0-4h0m0 4h0m0-1h0m1-2h0m0 2h0m0-2h0m0 2h0m0 0h0m1-3h0m0 4h0m0 0h0m0-4h0m0 0h0m1 0h0m0 0h0m0 3h0m1-1h0m0 0h0m0-1h0m1 1h0m0 1h0m0 0h0m0-3h0m0 2h0m1-2h0m0 4h0m0-4h0m0 1h0m1 0h0m0 3h0m1-1h0m1-2h0m0 0h0m0 0h0m1 1h0m1 1h0m0-1h0m1-2h0m1 1h0m0 4h0m-2 2h0m-3 1h0m0-2h0m0 3h0m0-1h0m0 1h0m-1-3h0m0 1h0m-1-2h0m-1 3h0m0 0h0m0 1h0m-1-1h0m0 0h0m0-2h0m0 1h0m-1 2h0m0-3h0m0 0h0m0 3h0m0-4h0m-1 4h0m0-2h0m0 2h0m0-2h0m0 1h0m-1-3h0m0 0h0m-1 2h0m0-1h0m0-1h0m0 0h0m0 0h0m0 2h0m-1-2h0m0 1h0m0-1h0m0 4h0m0-1h0m0 0h0m0-3h0m0 3h0m-1 0h0m0 1h0m0-3h0m-1 3h0m0 0h0m0 0h0m0-4h0m0 2h0m0 1h0m0-2h0m0-1h0m-1 0h0m0 0h0m0 4h0m0-1h0m0-1h0m0-1h0m0 2h0m-1-3h0m0 4h0m0-2h0m0 2h0m0 0h0m0-3h0m0 0h0m0 3h0m0-2h0m-1 2h0m0-2h0m0 0h0m0 2h0m0-2h0m0-2h0m0 4h0m0-2h0m0-1h0m-1-1h0m0 1h0m0 0h0m0 3h0m0-4h0m0 0h0m-1 2h0m0 1h0m0-1h0m0 1h0m0-1h0m-1 1h0m0 1h0m0 0h0m0-1h0m0 1h0m0-1h0m0-1h0m0-1h0m-1-1h0m0 4h0m0-3h0m0-1h0m-1 3h0m0 0h0m0-1h0m0 1h0m0-1h0m0-1h0m0 1h0m0-2h0m0 3h0m-1 1h0m0-1h0m0 1h0m0-1h0m0-1h0m-1-1h0m0 3h0m0-2h0m0 1h0m0-2h0m0 2h0m0-3h0m-1 0h0m0 2h0m0 2h0m0-1h0m-1 0h0m0-3h0m0 0h0m0 0h0m0 1h0m-1 0h0m0 0h0m0 0h0m0 2h0m0 0h0m0-1h0m-1-2h0m0 0h0m0 1h0m0 2h0m0-3h0m0 3h0m-1 1h0m0-2h0m-2 0h0m0-2h0m-1 3h0m0-3h0m0 3h0m-1-1h0m0 2h0m-1-3h0m0 0h0m-1-1h0m0 3h0m-2-2h0m0 2h0m0-3h0m-1 1h0m4 6h0m2-1h0m2 2h0m1-3h0m0 1h0m1 0h0m0 1h0m0 2h0m1-2h0m0-1h0m1 0h0m1-1h0m0 0h0m1 2h0m0-1h0m1 0h0m0-1h0m1 0h0m0 3h0m0-1h0m1 0h0m0 0h0m0 0h0m0-1h0m0-1h0m1 0h0m0 0h0m0 0h0m0 1h0m0 2h0m0-1h0m1-2h0m0 2h0m0 0h0m1 1h0m0 1h0m1 0h0m0-1h0m1-2h0m0 0h0m1 2h0m0-1h0m0-2h0m0 1h0m1 3h0m0-4h0m0 0h0m0 1h0m1 1h0m0 0h0m0-2h0m0 2h0m0 1h0m0-1h0m1-1h0m0 0h0m0-1h0m1 1h0m0 1h0m0-2h0m4 4h0m1-3h0m0-1h0m0 1h0m2 1h0m0 0h0m0-1h0m-5 4h0m-5 0h0m0 0h0m-5 1h0m-2-1h0m-1 0h0m-13 7h0m65 0h0m-50 5h0m14 4h0m15-1h0m5 4h0m16-2h0m10 2h0m-31 2h0m-18 2h0m71 5h0m2 1h0m3-2h0m0 2h0m0-2h0m2 2h0m5 3h0m-1-1h0m-1 2h0m0-1h0m-1 1h0m0-3h0m-2 4h0m-1-3h0m0 0h0m0 1h0m-1 1h0m0-3h0m0 3h0m-1 0h0m-1 1h0m0 0h0m-1-4h0m-1 4h0m-2-2h0m-1 0h0m0-1h0m0 3h0m-1 0h0m0 0h0m-25 0h0m-26-1h0m-25 0h0m-5 0h0m5 5h0m34-1h0m22 0h0m16-1h0m1-1h0m0 1h0m0 1h0m1 0h0m1-1h0m0-1h0m0 4h0m1-2h0m0 2h0m0-1h0m1-3h0m1 1h0m1 0h0m0 0h0m0 2h0m1-3h0m0 1h0m0 0h0m2 2h0m0-2h0m1 2h0m0 1h0m1-2h0m1 1h0m0-3h0m0 3h0m0-2h0m0 3h0m1-1h0m0-1h0m1 0h0m1 1h0m0-3h0m0 0h0m0 3h0m0 0h0m0 0h0m1 0h0m1-1h0m0 2h0m0-3h0m3 3h0m0 4h0m0-1h0m-1 1h0m-1-2h0m0 1h0m-1 1h0m-1-1h0m-1 0h0m0 2h0m0-3h0m0-1h0m0 4h0m0-1h0m-1-2h0m0 1h0m0-1h0m-1 3h0m0-3h0m0-1h0m0 1h0m0 1h0m-1 1h0m0 1h0m0-2h0m0 0h0m-1 2h0m0 0h0m0-1h0m-1 1h0m0-3h0m0 0h0m-1 2h0m0-3h0m0 4h0m0-2h0m0-1h0m0 1h0m-1 1h0m0 1h0m-1 0h0m0-4h0m0 0h0m0 0h0m0 2h0m0-1h0m0 0h0m-1-1h0m0 3h0m-1 1h0m0-3h0m0 2h0m0-1h0m-2 2h0m0-4h0m0 3h0m0-2h0m-1-1h0m-1 3h0m-1 1h0m-1-1h0m0 0h0m-23-1h0m-14 1h0m-30 2h0m6 4h0m61-2h0m1 2h0m0-2h0m1 2h0m0 0h0m1-1h0m0 0h0m0-2h0m1 1h0m0 1h0m1-3h0m0 0h0m0 0h0m0 1h0m1 3h0m0-1h0m1 0h0m0 1h0m0-4h0m0 0h0m0 3h0m1 0h0m0-3h0m0 2h0m0 0h0m0-1h0m0-1h0m0 1h0m1 0h0m0 1h0m0-1h0m0 2h0m0 1h0m0-1h0m0 1h0m1-2h0m0-1h0m0 0h0m0 3h0m0-2h0m1 0h0m0 2h0m0-1h0m0 1h0m0-4h0m1 2h0m0 0h0m0 1h0m0-3h0m0 0h0m0 1h0m1 3h0m0-4h0m0 3h0m0-1h0m0-1h0m0 3h0m0 0h0m0 0h0m1 0h0m0 0h0m0-2h0m1 1h0m0 0h0m0 1h0m0 0h0m0-2h0m1 1h0m0 1h0m0-2h0m0 0h0m0 2h0m0-1h0m0 0h0m1-2h0m0 3h0m0-1h0m0 0h0m1 1h0m0-3h0m0 1h0m1-2h0m1 0h0m0 0h0m0 4h0m1-1h0m1 0h0m0-2h0m0 0h0m1 4h0m0 3h0m0 1h0m0-4h0m-1 3h0m0-1h0m-1-1h0m0 2h0m-1-1h0m0 0h0m0 1h0m-1 1h0m0-2h0m-1 1h0m-1 1h0m0-2h0m0 1h0m0-3h0m0 0h0m0 2h0m0 2h0m0-4h0m-1 0h0m-1 3h0m0-1h0m0 1h0m0 1h0m0-1h0m0-3h0m0 3h0m0 0h0m-1 0h0m0 1h0m0-3h0m0 3h0m0-2h0m-1 0h0m0 0h0m0 0h0m0-1h0m0 2h0m0 0h0m0 0h0m-1-2h0m0-1h0m0 0h0m0 1h0m-1-1h0m0 1h0m-1-1h0m0 2h0m0 1h0m0-2h0m0-1h0m0 3h0m-1 0h0m0-2h0m0 1h0m0 1h0m0 0h0m-1-1h0m0-1h0m0-1h0m0 2h0m0 0h0m-1 1h0m0 1h0m0-1h0m0-2h0m0 3h0m-1 0h0m0-4h0m-1 1h0m0 2h0m0-2h0m0 1h0m-1-2h0m0 1h0m0 1h0m0 2h0m-1-4h0m0 4h0m0-3h0m-1 0h0m0 0h0m0 0h0m-1 0h0m-3 0h0m0 2h0m-40-1h0m-3 0h0m44 4h0m0 1h0m0 0h0m1 2h0m0-4h0m2 3h0m0 0h0m0 1h0m0 0h0m1-1h0m0-2h0m0 0h0m0 3h0m1-1h0m0-3h0m1 0h0m0 1h0m1 0h0m0 0h0m0-1h0m0 4h0m0-2h0m1 1h0m0-3h0m0 2h0m0 0h0m0-1h0m1 2h0m0 0h0m0 1h0m0-1h0m0 1h0m0-3h0m1 2h0m0 0h0m0-3h0m0 2h0m0 2h0m0-4h0m0 0h0m1 2h0m0-2h0m0 3h0m0-2h0m0-1h0m0 0h0m0 1h0m0 3h0m0-4h0m1 1h0m0 3h0m0-2h0m0 0h0m1 0h0m0 0h0m0-2h0m0 0h0m1 3h0m0 0h0m0-1h0m0 1h0m0-3h0m0 4h0m0-2h0m0-2h0m0 0h0m0 3h0m0-2h0m0-1h0m1 1h0m0 3h0m0-1h0m1 0h0m0-2h0m0 3h0m1-2h0m0-2h0m0 2h0m1 2h0m0 0h0m0-2h0m0-1h0m1 1h0m1 1h0m0 1h0m0-1h0m0-3h0m0 4h0m1-1h0m1 0h0m1-2h0m1 4h0m0 1h0m-2 2h0m0-1h0m0-1h0m-1 3h0m0 0h0m-1-4h0m-1 1h0m0 1h0m0 1h0m-1 0h0m0 1h0m0-1h0m0-3h0m-1 0h0m0 4h0m-1-3h0m0 2h0m0-3h0m-1 2h0m0-2h0m0 2h0m-2 0h0m0 0h0m0 2h0m0-2h0m0-2h0m-1 0h0m0 2h0m0 1h0m-1-2h0m0 2h0m0-1h0m0-1h0m0 0h0m0 0h0m0 0h0m-1 2h0m0 0h0m0-2h0m0 0h0m-1 3h0m0-1h0m0-1h0m0 1h0m0 1h0m-1-4h0m0 3h0m0-3h0m0 0h0m0 2h0m0 2h0m-1-3h0m0-1h0m0 3h0m0-1h0m-1 1h0m0 0h0m0-2h0m-1 0h0m0 2h0m0-2h0m0 1h0m-1 1h0m0-1h0m-2 2h0m-27-3h0m-3 0h0m30 7h0m2-1h0m1 0h0m3-1h0m0 1h0m0-1h0m1-1h0m1 4h0m0-3h0m0 2h0m1 0h0m0 1h0m0-2h0m1-1h0m1-1h0m0 1h0m1 2h0m0-1h0m0-2h0m1 3h0m0 0h0m0-2h0m1 2h0m0-2h0m0 3h0m0-4h0m2 0h0m0 0h0m1 0h0m1 5h0m0 0h0m-1 1h0m-1 0h0m0-1h0m-3 1h0m-1-1h0m-2 4h0m-1-4h0m0 1h0m0 3h0m-1-4h0m0 1h0m0 3h0m0-4h0m-4 0h0m0 0h0m-1 1h0m-2-1h0m7 6h0m2 0h0" stroke="#e3000f" stroke-width="2.00" stroke-linecap="round" fill="none"/>
<path d="M400 884h0m7 0h0m5 0h0m101-1h0m3 1h0m0 0h0m5-2h0m1 1h0m0 0h0m0-2h0m2 3h0m1-2h0m0 2h0m1-2h0m2 2h0m2-3h0m0 2h0m2-2h0m1-1h0m4 3h0m1 1h0m0-1h0m0 0h0m0 0h0m2 1h0m1-1h0m5 5h0m-1 1h0m-2 0h0m0-1h0m-1-3h0m-1 1h0m0 3h0m-1-4h0m0 2h0m0-1h0m-2-1h0m0 2h0m-2 0h0m-1 1h0m-2-2h0m-1 1h0m-1 0h0m0 1h0m-1-1h0m-1 1h0m0 0h0m0 1h0m-3-3h0m0 1h0m-5 1h0m0-2h0m0-1h0m-1 4h0m0-1h0m0 1h0m-1-2h0m0 2h0m-1-1h0m-2 0h0m-1 0h0m-1-1h0m0 2h0m-2-2h0m0 1h0m-5 1h0m-87-2h0m-2 0h0m-1 1h0m-1-2h0m0 3h0m0-1h0m-1-3h0m-2 1h0m-1 2h0m0 0h0m-1-3h0m-1 3h0m0-1h0m-2 0h0m-2-2h0m0 3h0m0 1h0m0-3h0m0 0h0m-4 0h0m-1 0h0m-2 2h0m0 1h0m-1-1h0m0-3h0m-1 2h0m0 0h0m-2 0h0m-2 1h0m0-1h0m-1 2h0m-1 0h0m-1 0h0m-2-2h0m0-1h0m-1 0h0m-3 0h0m0-1h0m-1 4h0m-2 0h0m0 0h0m-2 0h0m-1-4h0m0 3h0m0-2h0m-2 1h0m0 2h0m-1-3h0m-2 1h0m0-1h0m0 1h0m0-1h0m-1 3h0m0-3h0m0 0h0m-1 3h0m-1-1h0m-1-2h0m0 2h0m0-2h0m-2 3h0m-1-2h0m-2 0h0m-2 1h0m-2-1h0m-6 0h0m-1 2h0m-3 0h0m0-1h0m-2 1h0m-2-1h0m-7 1h0m-10 5h0m3-1h0m1 0h0m2 1h0m3-1h0m0-1h0m0-2h0m1 2h0m1-2h0m1 2h0m2-2h0m1 4h0m1-2h0m1-1h0m1-1h0m2 4h0m4-2h0m1 1h0m1-2h0m0 2h0m0-1h0m1-2h0m0 2h0m1 2h0m1-1h0m3-2h0m1-1h0m1 2h0m1-2h0m1 1h0m0-1h0m2 3h0m1-1h0m1-1h0m0 3h0m1-2h0m1-1h0m0 3h0m1-3h0m0 2h0m1-2h0m1-1h0m0 0h0m1 3h0m0 0h0m2-1h0m0 1h0m1-1h0m1 1h0m1 0h0m0-3h0m5 0h0m0 1h0m1 1h0m0-1h0m1-1h0m1 0h0m1 3h0m0-2h0m0 2h0m1-1h0m0 2h0m0-4h0m2 0h0m1 0h0m2 0h0m0 3h0m0-2h0m0-1h0m0 4h0m2 0h0m1-2h0m1 0h0m0 1h0m1-3h0m0 0h0m1 1h0m1 3h0m2-4h0m0 0h0m0 3h0m0 1h0m1-4h0m0 2h0m1 0h0m0-2h0m0 2h0m1 2h0m1-4h0m0 2h0m1-2h0m1 0h0m2 0h0m1 2h0m0 1h0m0 1h0m1 0h0m1-2h0m2 2h0m0-4h0m1 3h0m0-2h0m0 2h0m1 0h0m1 1h0m0-3h0m0 0h0m1-1h0m0 2h0m0-1h0m1-1h0m0 1h0m1 3h0m0-3h0m1 0h0m4 3h0m1-2h0m0 2h0m1-2h0m4 2h0m2-1h0m2 1h0m2 0h0m0 0h0m55-1h0m0 1h0m3 0h0m1-1h0m2 1h0m1 0h0m0-1h0m1-1h0m1-2h0m1 0h0m1 2h0m0 1h0m1 0h0m1-1h0m2 0h0m2 0h0m1 2h0m2-3h0m0-1h0m1 3h0m1-3h0m1 3h0m1-3h0m2 0h0m0 1h0m0 0h0m1 1h0m1 0h0m1-2h0m0 4h0m1-4h0m0 1h0m1-1h0m2 1h0m1 2h0m0 0h0m2 0h0m0 0h0m0 1h0m1-4h0m0 4h0m0-2h0m3-2h0m2 1h0m1-1h0m0 4h0m2-2h0m1 1h0m0-2h0m2 3h0m0-4h0m1 2h0m1-2h0m0 0h0m2 1h0m1-1h0m0 2h0m0 1h0m1-2h0m1 3h0m0-2h0m4 6h0m0 0h0m-3-1h0m-1 2h0m-1-3h0m-1-1h0m-1 0h0m0 2h0m-1 1h0m0-2h0m-1-1h0m-1 0h0m-4 1h0m0 1h0m-1 0h0m0 2h0m0-3h0m-1 3h0m0-2h0m-1-1h0m0 3h0m-1-3h0m-1 1h0m0 0h0m-1 2h0m0-4h0m-1 0h0m0 1h0m0 3h0m-1-4h0m0 0h0m0 0h0m0 1h0m-1 2h0m-1 1h0m0 0h0m-1 0h0m-1-3h0m0 2h0m-1 0h0m0 1h0m-2-4h0m-1 4h0m-1-2h0m0 1h0m-1-2h0m-1-1h0m-2 2h0m-1-2h0m0 0h0m-1 4h0m0-3h0m-1 0h0m-2 3h0m-1-1h0m0 1h0m0-2h0m-2 1h0m0 0h0m-1-1h0m-1 0h0m0 2h0m0-1h0m-3 1h0m-1-2h0m-1 0h0m0-1h0m0-1h0m-1 4h0m-1-1h0m-1 1h0m-1-3h0m-2-1h0m-2 2h0m0-2h0m0 4h0m0-1h0m0-2h0m-3 1h0m0-1h0m-1 0h0m0 0h0m-1-1h0m-1 1h0m0 1h0m-1-1h0m-1 2h0m-1-1h0m-1 1h0m0 1h0m-4 0h0m-5-2h0m0 2h0m-1-2h0m-2 1h0m-3-1h0m-2 2h0m-1-1h0m-1-1h0m-7 2h0m-2-3h0m-1 3h0m0 0h0m-1-2h0m0-1h0m-1 3h0m0-3h0m-1 0h0m-2 2h0m-1 1h0m-2 0h0m0-4h0m-1 4h0m0-2h0m-1 2h0m-2-3h0m0 2h0m0 1h0m-1-4h0m0 3h0m0-1h0m-1 0h0m-1-2h0m0 4h0m0 0h0m-2-1h0m-2 1h0m0-2h0m-1 2h0m-2-4h0m0 0h0m0 0h0m-1 4h0m-4-4h0m0 2h0m-2 2h0m-2 0h0m0 0h0m-1-3h0m0 2h0m-1 0h0m0-1h0m-1-2h0m0 3h0m-1-3h0m-1 2h0m-1 2h0m0 0h0m-3-4h0m0 2h0m-1-2h0m-1 0h0m-2 0h0m-1 1h0m-2 3h0m-1-4h0m0 0h0m-1 3h0m-1-2h0m-1 1h0m-2 0h0m-1-2h0m0 0h0m-1 4h0m0 0h0m-1-2h0m-1-1h0m-1 0h0m0 3h0m-1-2h0m0-1h0m0 0h0m-1 2h0m-2-3h0m-1 3h0m-3-2h0m-1 1h0m0 2h0m-2-3h0m0 0h0m0 1h0m-1 2h0m0-2h0m0 1h0m0 0h0m-1-3h0m-1 0h0m-1 1h0m-1 0h0m-1-1h0m0 0h0m-1 3h0m0 0h0m-1-2h0m-1 3h0m-1-4h0m-1 3h0m0-2h0m0 2h0m-1 0h0m-1 1h0m0-1h0m-1 1h0m0-4h0m0 2h0m-2 1h0m-1-2h0m0 2h0m-1 0h0m0-1h0m0-1h0m-1-1h0m-1 0h0m0 3h0m0 1h0m-1-3h0m-1 1h0m0 0h0m-1-1h0m-1 1h0m0-1h0m-1 3h0m-1-1h0m0 0h0m0-3h0m-1 2h0m-2-2h0m-3 3h0m-3 1h0m-2-1h0m0-1h0m-2 2h0m-2-3h0m0 3h0m0-2h0m-2 2h0m-1-1h0m-4 1h0m0-2h0m0-1h0m-1 1h0m0 1h0m-3-3h0m-1 4h0m0-2h0m0 1h0m-1-2h0m-2 2h0m0 0h0m0-2h0m-1 0h0m0 0h0m0 1h0m0-1h0m0 0h0m4 5h0m2-1h0m2 1h0m4 2h0m0 0h0m1-3h0m0 3h0m1 0h0m1 1h0m0-4h0m1 0h0m1 3h0m1-3h0m3 0h0m0 1h0m0-1h0m1 2h0m1 0h0m2-1h0m0 2h0m1 1h0m0 0h0m0-4h0m0 4h0m1-1h0m1-3h0m0 0h0m1 2h0m0 1h0m0-3h0m1 3h0m1 0h0m0-1h0m0-2h0m1 2h0m0 0h0m1-2h0m3 3h0m0 0h0m0 1h0m0-2h0m1 0h0m2 1h0m0 1h0m3-4h0m1 1h0m1 2h0m0-3h0m2 0h0m0 3h0m0-1h0m1 1h0m1 0h0m0-1h0m0 1h0m1-3h0m1 1h0m2 3h0m0-3h0m2 0h0m0 1h0m0 0h0m2 0h0m2-2h0m1 4h0m1-2h0m1 1h0m0-1h0m3 2h0m0-1h0m6-1h0m0 0h0m1-1h0m0 1h0m1-1h0m0 1h0m0 2h0m0-4h0m1 3h0m2 0h0m1-1h0m0-2h0m1 4h0m0-4h0m1 1h0m1 2h0m0-3h0m0 0h0m1 4h0m1-2h0m0 2h0m1-2h0m1-1h0m0 0h0m1 1h0m4 0h0m2 0h0m3-2h0m0 0h0m0 1h0m0 3h0m1-4h0m1 2h0m0 1h0m0 0h0m3-1h0m0 0h0m1 1h0m0-3h0m0 3h0m0-1h0m0 0h0m3 0h0m1-2h0m1 0h0m0 3h0m0-2h0m0 0h0m1-1h0m0 0h0m2 0h0m1 2h0m1-2h0m2 0h0m0 4h0m0-1h0m1 0h0m1 1h0m1-3h0m1-1h0m0 1h0m0 0h0m1-1h0m1 2h0m1 1h0m0 0h0m1-2h0m0 2h0m2-2h0m1 2h0m1-2h0m2 1h0m0 2h0m2 0h0m1-4h0m2 0h0m1 0h0m1 0h0m0 0h0m1 1h0m1 2h0m2 0h0m1-3h0m1 3h0m2-2h0m1 3h0m3-3h0m0 1h0m4 2h0m1-2h0m0 2h0m0-2h0m1 1h0m1 1h0m1-3h0m1 0h0m1-1h0m0 3h0m2 1h0m0-3h0m0 0h0m1 3h0m1-4h0m0 4h0m3-3h0m1-1h0m2 4h0m0-4h0m1 2h0m0 2h0m2-1h0m0 1h0m0-3h0m1-1h0m0 4h0m1 0h0m0-1h0m0-3h0m1 0h0m1 2h0m3 1h0m0 0h0m1-3h0m1 3h0m2-2h0m2 1h0m2-2h0m0 3h0m0-2h0m1 1h0m2 1h0m1-3h0m0 0h0m0 1h0m1 3h0m0-3h0m1 3h0m0-3h0m1 3h0m1-2h0m0-1h0m1 0h0m0 2h0m1 0h0m2-1h0m1 1h0m1-2h0m2 1h0m0 0h0m0-1h0m1 0h0m3-1h0m1 2h0m1 1h0m0 1h0m1-2h0m0-2h0m0 3h0m3-1h0m3 1h0m2-2h0m0 0h0m2 0h0m1 1h0m1-1h0m1 3h0m0-1h0m1-1h0m2 1h0m-1 5h0m-1-1h0m0-1h0m0-1h0m-1 2h0m0-1h0m-2-1h0m0 1h0m-1 3h0m0 0h0m-1 0h0m0-4h0m-4 1h0m-3-1h0m0 4h0m0-4h0m-3 4h0m0-4h0m-3 1h0m-2-1h0m0 0h0m0 4h0m-3 0h0m-3-4h0m-1 4h0m-1 0h0m-2-2h0m-1 2h0m-1 0h0m0-3h0m-2-1h0m0 1h0m-2 3h0m0-2h0m-1 2h0m0-1h0m-4 0h0m-1 1h0m0 0h0m0 0h0m-1-4h0m-2 1h0m-1 0h0m0 3h0m-2-2h0m-2 2h0m0 0h0m-1-3h0m-1 2h0m0-2h0m0 0h0m0-1h0m0 3h0m-1-1h0m-1 2h0m-1-2h0m0-2h0m-1 4h0m0-3h0m0 3h0m0-4h0m0 0h0m-1 0h0m0 2h0m-2 2h0m-2-4h0m-1 3h0m0-3h0m0 0h0m0 3h0m-1 0h0m-1-3h0m-1 3h0m0 1h0m-3-4h0m0 4h0m-1-1h0m0 0h0m-1-2h0m0 2h0m-1-3h0m-1 2h0m-2 0h0m-2-1h0m-2-1h0m0 3h0m-1 0h0m0-3h0m-2 0h0m-4 1h0m-1 0h0m-1 1h0m0 2h0m-1-2h0m-1-2h0m0 3h0m-1-3h0m-2 4h0m-1-2h0m0-2h0m-2 0h0m-1 2h0m0 0h0m-1-2h0m-1 4h0m0-4h0m0 4h0m-1-4h0m-1 1h0m-1 1h0m-2 1h0m0-2h0m-1 0h0m0 0h0m-1 1h0m0-1h0m-1 3h0m0-4h0m0 4h0m-1 0h0m0-4h0m0 1h0m0 0h0m0 0h0m0 1h0m-1 0h0m-1 1h0m-1-1h0m-1-2h0m0 1h0m-3-1h0m0 4h0m0-1h0m-1 0h0m-1-1h0m-2 2h0m-1-4h0m-1 3h0m-2 1h0m-1-2h0m-1 2h0m-1-1h0m-1 0h0m0-1h0m0 2h0m-5-2h0m0 1h0m-1 1h0m0-3h0m-1 3h0m-2 0h0m0-3h0m-1 1h0m-1-2h0m-1 4h0m-1-4h0m-1 0h0m0 4h0m-1-4h0m-1 4h0m0-4h0m-1 4h0m-1-4h0m0 2h0m-1-2h0m0 1h0m-2-1h0m-1 2h0m0 2h0m-2 0h0m0-2h0m-1 0h0m0-2h0m0 1h0m-1 0h0m-1 2h0m-1-3h0m0 1h0m0 3h0m-1-4h0m-1 1h0m0 2h0m-2-2h0m-1 2h0m0-3h0m0 0h0m-1 1h0m0 1h0m0-1h0m0-1h0m-1 0h0m0 1h0m0 1h0m-1-2h0m0 1h0m-4-1h0m0 3h0m-1-3h0m-1 2h0m-1 0h0m0 2h0m-1-4h0m-1 3h0m0 1h0m0-1h0m-1-1h0m-1-1h0m0 2h0m-1 0h0m-3 1h0m0-1h0m-2 0h0m0 1h0m-1-3h0m-1 3h0m0-1h0m-1-3h0m-1 2h0m-1 1h0m0-2h0m0 0h0m-2 1h0m0 0h0m-2 0h0m-1-1h0m-3 0h0m-3 0h0m-5-1h0m0 0h0m27 5h0m3 1h0m5-1h0m0 2h0m0 0h0m3-2h0m2 2h0m1 2h0m0-2h0m3 0h0m0-2h0m2 1h0m2 3h0m1-3h0m0 2h0m0 0h0m1 0h0m1-2h0m1 3h0m1-4h0m1 2h0m0 1h0m1 1h0m0-4h0m1 0h0m1 1h0m0-1h0m2 3h0m0-2h0m1 0h0m0 2h0m1-1h0m0 0h0m2-2h0m0 2h0m1-2h0m0 0h0m2 4h0m0-2h0m1 0h0m1 1h0m1-2h0m1 1h0m0 2h0m1 0h0m0-3h0m0 1h0m3 2h0m0-1h0m1-3h0m1 1h0m0 3h0m0-2h0m3 1h0m0-2h0m3 2h0m1-1h0m1 2h0m2-4h0m0 3h0m2-3h0m0 0h0m1 0h0m1 1h0m1 0h0m0-1h0m1 4h0m1-1h0m0-3h0m2 1h0m2 2h0m0 0h0m0 0h0m2 1h0m0-2h0m0-1h0m5 2h0m1 1h0m0 0h0m1-1h0m2-1h0m1 1h0m0-1h0m0-2h0m1 2h0m1 2h0m0-4h0m1 2h0m0-2h0m0 3h0m1-1h0m1-2h0m1 1h0m1 1h0m0-2h0m1 3h0m1-3h0m0 1h0m2 1h0m1-1h0m2 1h0m2 2h0m0-2h0m2-2h0m4 4h0m1-2h0m2 2h0m0 0h0m1-4h0m2 4h0m0-3h0m2 2h0m2-2h0m1 1h0m0 2h0m0-2h0m0 1h0m3-1h0m0-2h0m2 1h0m1 2h0m0-3h0m1 2h0m1-1h0m1 1h0m1 0h0m1-2h0m0 3h0m0 1h0m0-2h0m1 0h0m1-2h0m2 2h0m2 0h0m0 2h0m1-2h0m1 1h0m0 1h0m1-2h0m0-2h0m0 3h0m1 0h0m2-3h0m2 1h0m2 3h0m3-4h0m2 3h0m0 1h0m1-1h0m1 0h0m0-1h0m1 0h0m0-1h0m0-1h0m4 4h0m1-1h0m0 1h0m1-2h0m2-2h0m0 1h0m0 1h0m2 0h0m1 2h0m0-4h0m0 1h0m0 2h0m1 0h0m1-3h0m0 3h0m0 0h0m1 1h0m2-4h0m0 0h0m0 4h0m2-3h0m0 2h0m0-3h0m2 0h0m0 6h0m-1 2h0m-2 0h0m-2 1h0m-2-2h0m-1 1h0m-1 0h0m-1-1h0m0 0h0m0-2h0m-1 4h0m0-3h0m0 3h0m-4 0h0m-2-3h0m0-1h0m0 1h0m0 2h0m0-3h0m0 3h0m-2-2h0m-2 0h0m0-1h0m-2 2h0m0 2h0m-1 0h0m0 0h0m-2-2h0m0-2h0m-1 3h0m0 1h0m0-4h0m-1 4h0m0-3h0m-2 3h0m0 0h0m-1 0h0m-3 0h0m-1-4h0m0 3h0m-1 0h0m-3-1h0m-3 1h0m0 0h0m-3-1h0m0 0h0m-2-2h0m0 0h0m-2 1h0m0 0h0m-3-1h0m-2 2h0m-2-2h0m-1 1h0m0 0h0m-5-1h0m-3 0h0m-3 0h0m-3 0h0m-28 0h0m-2 1h0m0 0h0m-1 1h0m-1 0h0m-3 0h0m-1-1h0m-1 1h0m-1 0h0m-1 2h0m-3-3h0m-1 2h0m-3-1h0m-1-1h0m-1-1h0m0 1h0m0 2h0m0-3h0m-3 0h0m-2 3h0m0-1h0m-2 1h0m-1 0h0m0-1h0m0-1h0m-1 0h0m-1 0h0m-1 1h0m0-1h0m-1 3h0m-1-1h0m-1-1h0m-1 2h0m-1-4h0m-2 2h0m0 0h0m0-1h0m0 3h0m-5-2h0m-1 0h0m-1-2h0m0 0h0m-2 0h0m-1 1h0m0-1h0m-1 0h0m0 0h0m-3 0h0m-2 0h0m18 5h0m2 0h0m10 1h0m24 2h0m1-3h0m1 4h0m2-2h0m7 2h0m4-3h0m1 3h0m1-1h0m3-2h0m0 1h0m1 1h0m2 1h0m7-2h0m5 0h0m0 0h0m0 2h0m1-2h0m7 1h0m2 0h0m3-1h0m0 2h0m4 0h0m2-1h0m8-3h0m2 2h0m0 2h0m1 0h0m1-2h0m0 1h0m2 0h0m3 0h0m1-2h0m1 3h0m0-3h0m1 2h0m0-3h0m1 0h0m0 3h0m0-2h0m0 0h0m1 3h0m0 0h0m1-3h0m0 3h0m0-1h0m0-1h0m0 1h0m1-2h0m0 3h0m1-2h0m1 0h0m0-1h0m1 1h0m1-1h0m1 3h0m0-2h0m3-1h0m1 2h0m1-1h0m2-2h0m0 0h0m1 2h0m1 1h0m0-3h0m1 2h0m0 1h0m1-2h0m0 1h0m0 2h0m1-1h0m0-1h0m0 1h0m1-2h0m0-1h0m0 1h0m0 1h0m1-1h0m-4 7h0m0-2h0m0 3h0m-1 0h0m-2-3h0m-1 0h0m0-1h0m0 0h0m0 2h0m-1 2h0m0-2h0m0-1h0m-2 0h0m0 0h0m0 0h0m0 2h0m-1 1h0m0 0h0m-2-2h0m-1 1h0m0-2h0m-1 2h0m0-3h0m0 4h0m-1-2h0m0-1h0m-1 3h0m-2-3h0m0 1h0m-2 2h0m-1-2h0m0-2h0m-1 1h0m0 0h0m0 3h0m0-2h0m0 0h0m-1-1h0m-1 0h0m0-1h0m0 4h0m-2-4h0m-2 3h0m-5-2h0m-6 0h0m-4 0h0m-2 2h0m-10 1h0m-3-3h0m-1 3h0m-1-3h0m-1-1h0m-1 0h0m-3 1h0m-2 2h0m-4 1h0m-1-2h0m-1-1h0m-1 1h0m-2 0h0m-2 0h0m-7-1h0m-3 0h0m-1 0h0m0 1h0m0-1h0m-1 3h0m-2 0h0m-2-4h0m-5 4h0m0 4h0m4 0h0m3 0h0m2-1h0m10 0h0m4-1h0m4 1h0m6 2h0m10-2h0m6 2h0m1 0h0m0-2h0m1 0h0m5 2h0m4-4h0m3 2h0m0 0h0m3 0h0m4-2h0m2 0h0m1 3h0m3-1h0m1-2h0m1 2h0m1 0h0m0-1h0m1-1h0m2 2h0m1-2h0m4 0h0m1 2h0m0 2h0m0-2h0m1-2h0m0 3h0m1-3h0m1 2h0m0 1h0m1-1h0m4-2h0m-3 5h0m-1 0h0m0 1h0m-1 0h0m-3 0h0m-2-1h0m-3 1h0m-1 3h0m-1-2h0m0-2h0m-2 4h0m-2 0h0m-4-1h0m-4-3h0m-6 4h0m-10-4h0m-1 1h0m-2 2h0m0-1h0m-5 2h0m-3-4h0m-5 2h0m-1 0h0m0-1h0m0 1h0m-6 2h0m-2-3h0m-3 1h0m-1 2h0m-1-1h0m-2 1h0m-1-3h0m-3-1h0m-1 2h0m0 0h0m-5 2h0m-5 3h0m11-2h0m0 0h0m5 3h0m1-2h0m1 2h0m3-1h0m1 2h0m13-4h0m3 0h0m2 0h0m5 1h0m2 1h0m0 0h0m3 1h0m0-1h0m1 1h0m1 0h0m2-1h0m0 0h0m1-1h0m1 1h0m0 2h0m1-1h0m1 0h0m0-2h0m0 2h0m2 1h0m0-4h0m1 0h0m0 4h0m0 0h0m2-2h0m0-2h0m0 0h0m4 1h0m1 1h0m0 1h0m1 0h0m0 1h0m2 0h0m1-2h0m1-2h0m0 4h0m1 0h0m0-1h0m1 0h0m1-3h0m0 3h0m1 1h0m1-2h0m5 4h0m-1 2h0m-3-2h0m-2 3h0m0-1h0m-1 1h0m-1-1h0m0-2h0m-1 2h0m0 1h0m0-1h0m-1-2h0m0 3h0m0-2h0m-2 2h0m-1-2h0m0-2h0m0 0h0m-1 3h0m-2 1h0m-1-4h0m-1 4h0m0 0h0m-1-3h0m-1 3h0m-3-3h0m0 0h0m-1 1h0m0 1h0m-1 0h0m-1 1h0m0-1h0m-1 1h0m0-2h0m-2-1h0m0 1h0m0-2h0m-1 1h0m0 2h0m0 1h0m-1-1h0m0-1h0m-1-2h0m0 1h0m-5 1h0m0-2h0m-3 1h0m-1 1h0m-5-2h0m-5 4h0m-1-3h0m-7 3h0m-2-1h0m-3-3h0m-6 2h0m0 0h0m-5 0h0m0-2h0m-9 1h0m5 6h0m5-1h0m11 2h0m3-2h0m1 2h0m1-2h0m3-1h0m1 3h0m12 1h0m0 0h0m0 0h0m4-1h0m2 1h0m1-3h0m2 2h0m1-1h0m5 1h0m0-2h0m0 3h0m1-2h0m1 2h0m1-2h0m0 1h0m1 1h0m0 0h0m0-1h0m1-3h0m1 4h0m1-4h0m0 1h0m2-1h0m0 4h0m1-4h0m1 1h0m0 0h0m2-1h0m0 3h0m1 0h0m0-3h0m1 3h0m1-2h0m0 0h0m1-1h0m0 0h0m1 4h0m0-1h0m1 0h0m0 0h0m4 0h0m2-2h0m2-1h0m1 2h0m0-1h0m1 0h0m0 3h0m1-3h0m0 0h0m1-1h0m0 7h0m0 0h0m0-1h0m-3 3h0m0-3h0m-1 1h0m0 1h0m0-1h0m0 2h0m-2-4h0m-2 4h0m-1-1h0m0-2h0m-1 0h0m-2 0h0m-3 3h0m0 0h0m0-3h0m0 3h0m0-3h0m-2 2h0m0-2h0m-1-1h0m-1 3h0m-1 1h0m0-4h0m0 3h0m0 0h0m-2-1h0m-1-1h0m-2 2h0m-1-1h0m0-1h0m-3-1h0m-1 2h0m-1 1h0m-1 0h0m-1 1h0m-1-1h0m0 1h0m0-3h0m0 0h0m0 0h0m0-1h0m-1 1h0m0 3h0m-3-3h0m-2 3h0m-1-3h0m-2 1h0m-2 1h0m-2-3h0m-3 2h0m-2-2h0m0 3h0m-1-3h0m-9 3h0m0-2h0m-1 3h0m-2-1h0m-1 1h0m-1-1h0m0 1h0m-4-3h0m-6 2h0m0-3h0m0 4h0m-4 0h0m-2-4h0m0 0h0m0 1h0m0 8h0m2-1h0m7-2h0m1 0h0m5 1h0m4-2h0m5 2h0m3 0h0m1 1h0m6 1h0m9 0h0m3-1h0m1 1h0m1-4h0m0 3h0m0 0h0m1-3h0m3 1h0m1 3h0m1-1h0m0 1h0m1-2h0m0-2h0m1 1h0m0 0h0m1 1h0m0 1h0m0-1h0m1 2h0m1-4h0m2 0h0m0 3h0m0 0h0m0 0h0m1 1h0m0-1h0m1-2h0m2 3h0m0-2h0m1-1h0m0 0h0m0-1h0m0 2h0m1 1h0m0 0h0m2 1h0m0-4h0m0 3h0m1-2h0m2-1h0m0 1h0m0 2h0m1-1h0m0-1h0m1 0h0m0 2h0m1-1h0m0 1h0m4 1h0m1-1h0m1 1h0m1 0h0m0-2h0m1 2h0m0-1h0m1 4h0m-1 1h0m-1 1h0m-1-2h0m0 0h0m0-1h0m-1 3h0m-3-2h0m-2 2h0m0-3h0m-1 0h0m0-1h0m-2 4h0m-1-3h0m-1 3h0m-1-4h0m0 3h0m0 1h0m-1-3h0m0 3h0m0-3h0m-1 1h0m-2-1h0m0 2h0m-1-1h0m0 2h0m0-3h0m0-1h0m0 1h0m-1 1h0m0-1h0m0 2h0m-1-1h0m0 0h0m0 0h0m0 1h0m-1 1h0m0-1h0m-1-3h0m0 1h0m-1 1h0m-1 0h0m0 1h0m-2-1h0m0 2h0m-3-4h0m0 2h0m0-1h0m0-1h0m-1 3h0m-1 1h0m0-1h0m0-1h0m0 0h0m-3 2h0m0 0h0m-2-4h0m0 1h0m0 1h0m-1 2h0m-1 0h0m-1 0h0m-1-4h0m-1 4h0m-1 0h0m-2 0h0m-2 0h0m-2-2h0m-4-1h0m-3-1h0m-2 0h0m-1 3h0m-1-3h0m-7 2h0m-5-1h0m-5 2h0m-3-2h0m5 5h0m7 1h0m0-1h0m2 3h0m6 0h0m1 0h0m2 0h0m2-1h0m3-2h0m0 2h0m1-2h0m1 3h0m0-4h0m3 0h0m0 1h0m0 2h0m0 1h0m2-3h0m0 3h0m1-4h0m0 4h0m2-1h0m0-2h0m1 1h0m2 1h0m2-3h0m2 4h0m3-4h0m0 1h0m0 3h0m0-3h0m1 2h0m0-2h0m2-1h0m3 2h0m0 1h0m0-1h0m0 1h0m1-3h0m0 2h0m0 2h0m1 0h0m1-3h0m3 3h0m1 0h0m0-4h0m1 3h0m1-2h0m4-1h0m0 2h0m1-1h0m0 0h0m2 0h0m0-1h0m2 0h0m0 4h0m2-2h0m0 0h0m0-2h0m0 3h0m0-2h0m2 3h0m0-1h0m1-3h0m0 1h0m1-1h0m1 4h0m0-2h0m0-2h0m0 7h0m-1 1h0m-1 0h0m-1-3h0m-1 0h0m-1 0h0m-1 0h0m0 1h0m-4 1h0m-1 2h0m-2-4h0m-3 4h0m-3-2h0m0 1h0m-3-2h0m0-1h0m0 3h0m-1-2h0m0 3h0m-4-4h0m0 4h0m0 0h0m-1-3h0m-1 2h0m-1-1h0m-1-1h0m0 1h0m-2 2h0m-1 0h0m0-1h0m-1-3h0m0 0h0m-1 4h0m0-4h0m-2 4h0m0-3h0m-1 0h0m-1 3h0m-1-2h0m0-1h0m-1 1h0m-3-1h0m-1-1h0m0 0h0m0 4h0m0-1h0m0-1h0m-1 2h0m-1-3h0m0 0h0m-1-1h0m-2 2h0m-3 0h0m-2 1h0m0-3h0m-1 2h0m0 0h0m-1-2h0m0 3h0m-1-2h0m0-1h0m-2 1h0m-1 3h0m0-1h0m-3-1h0m0-2h0m0 0h0m-1 3h0m-1 0h0m-1-1h0m-2-1h0m-1 1h0m-1-2h0m-1 3h0m0 1h0m-3-1h0m-1 1h0m-1 1h0m1 0h0m0 4h0m1 0h0m3-3h0m0 0h0m1 1h0m0-2h0m1 4h0m3-2h0m1 1h0m4-1h0m1 1h0m0 0h0m1-3h0m2 0h0m0 2h0m1 2h0m0-1h0m1 1h0m2 0h0m1 0h0m0 0h0m1-1h0m1 1h0m0 0h0m0-2h0m3 2h0m0-3h0m2 0h0m0 0h0m0 3h0m2-4h0m2 1h0m1 2h0m1 0h0m1-1h0m1 0h0m0 2h0m0 0h0m0-3h0m1 1h0m1 2h0m0 0h0m1 0h0m0-3h0m1-1h0m1 0h0m0 1h0m0 2h0m0 1h0m1 0h0m0-3h0m1 2h0m0-3h0m0 3h0m2-3h0m0 3h0m2-3h0m1 0h0m1 1h0m0 0h0m1-1h0m0 1h0m0 3h0m1 0h0m0-3h0m2-1h0m0 0h0m1 1h0m1 0h0m1 3h0m0-2h0m0 0h0m1-2h0m1 0h0m3 4h0m1-2h0m3 1h0m0-1h0m1 1h0m0 0h0m1-3h0m1 2h0m1 0h0m1 0h0m1 0h0m1 0h0m0 2h0m1-1h0m1-3h0m1 1h0m-1 5h0m0 3h0m0 0h0m0-3h0m0 3h0m-3-4h0m0 0h0m-1 3h0m-1 1h0m0-2h0m0-1h0m0 1h0m0-1h0m-2 2h0m0-3h0m-1 0h0m0 1h0m0 0h0m-2 3h0m-3-4h0m0 4h0m0 0h0m0-4h0m-2 4h0m0-3h0m-1 3h0m-2-2h0m-1-2h0m-1 1h0m-1 3h0m0-2h0m-1 0h0m-1-1h0m-2 3h0m0-4h0m0 2h0m0 0h0m-1-1h0m-2 3h0m-1-4h0m0 4h0m-1-1h0m0 1h0m0-2h0m-2-1h0m-1 3h0m0 0h0m-3-1h0m-1 0h0m-2-1h0m0 0h0m0-1h0m-1 0h0m0 0h0m-1 1h0m0 2h0m-1-1h0m-2 1h0m-1-1h0m-1-2h0m0 1h0m0 2h0m-3-4h0m-1 2h0m0-2h0m-1 3h0m-1-1h0m0 2h0m0 0h0m-1 0h0m0-2h0m0-2h0m-1 4h0m-1-3h0m-1-1h0m-1 1h0m0 0h0m-1 1h0m-3-2h0m0 4h0m0 0h0m-5-4h0m-1 3h0m-1 0h0m0 1h0m-1-2h0m-1 0h0m-1-1h0m0 3h0m0-1h0m-1 0h0m-1-1h0m-1 1h0m-2-1h0m-1-1h0m0 1h0m-1-2h0m-2 2h0m-1 4h0m1 3h0m0-2h0m1-2h0m0 4h0m1-3h0m0 2h0m5-1h0m1 2h0m1-1h0m0-1h0m1-2h0m1 1h0m1 3h0m0 0h0m1-2h0m3 0h0m0 2h0m0-3h0m1 0h0m2 1h0m0 1h0m1 1h0m0-4h0m1 1h0m1 3h0m2-2h0m1 1h0m0 0h0m1-2h0m2 2h0m0-1h0m0 0h0m1 0h0m1 1h0m0-1h0m1-2h0m1 2h0m2-1h0m0 3h0m1-4h0m0 2h0m1 1h0m1-2h0m2-1h0m0 1h0m0 1h0m1-1h0m0-1h0m0 2h0m1 1h0m0 1h0m5-1h0m1-2h0m2 3h0m1 0h0m0 0h0m1-3h0m4 2h0m1-2h0m1 1h0m3 1h0m0 1h0m1 0h0m0-1h0m0 1h0m2-2h0m0 2h0m1-4h0m0 3h0m0-2h0m1 0h0m0 3h0m0-3h0m1 3h0m0-4h0m0 4h0m1-1h0m0-2h0m1 3h0m1-4h0m0 0h0m1 1h0m1 2h0m0 0h0m0-1h0m1 2h0m1-2h0m0 0h0m1 1h0m2-1h0m0 0h0m2-2h0m0 2h0m1 1h0m0 1h0m2 0h0m0 3h0m-1-1h0m-2-1h0m0 4h0m0 0h0m0-1h0m-3 0h0m-1 0h0m-1 0h0m0-3h0m-2 4h0m0-1h0m-1-1h0m-2-2h0m0 4h0m0 0h0m-4-1h0m-1 0h0m-2 0h0m0 1h0m-2-2h0m0-1h0m0-1h0m0 2h0m-1 2h0m0-2h0m0-1h0m-2 3h0m-1 0h0m-1-1h0m0 1h0m-1-1h0m-1-3h0m-1 0h0m0 3h0m0-1h0m0-2h0m-1 2h0m-2-2h0m-1 1h0m-2 3h0m0-3h0m-1 2h0m-1 0h0m-1 0h0m-1 0h0m0 1h0m-1-4h0m-1 1h0m-1 1h0m-1-1h0m-1 1h0m-1 1h0m-1-3h0m0 0h0m0 2h0m-1 1h0m-1-2h0m0 1h0m-2 2h0m0-3h0m-1-1h0m0 1h0m-1 0h0m0 0h0m0-1h0m-1 4h0m-1-2h0m0 0h0m-2 1h0m-2-3h0m0 4h0m0 0h0m0-1h0m-2-1h0m0-1h0m0 0h0m-1-1h0m-1 1h0m-1 3h0m-1-1h0m0-3h0m-1 4h0m0-2h0m-2-2h0m0 4h0m-1 0h0m-2-2h0m-1-1h0m0 2h0m-2-1h0m-1 0h0m-3 1h0m-1 1h0m-1 0h0m-1-2h0m-2 0h0m-1 2h0m-2 5h0m0-1h0m1-3h0m0 4h0m0-4h0m1 4h0m3-2h0m1 1h0m1-3h0m1 3h0m1-3h0m0 4h0m3 0h0m0-4h0m0 2h0m0-1h0m1-1h0m1 1h0m0 3h0m1-1h0m1-2h0m0 3h0m0-1h0m0 1h0m0 0h0m0-3h0m1 2h0m1-1h0m3-2h0m0 2h0m1 1h0m0 0h0m1-2h0m0 2h0m1 1h0m0-1h0m1-2h0m0 3h0m1-3h0m4 3h0m0-4h0m1 0h0m0 0h0m0 0h0m1 2h0m1 2h0m0 0h0m0 0h0m1-1h0m1-1h0m0 2h0m1-4h0m1 3h0m1-2h0m1 0h0m1-1h0m0 3h0m0-3h0m0 4h0m1 0h0m3 0h0m0 0h0m1-2h0m0-1h0m0-1h0m2 2h0m0 0h0m1 1h0m1-3h0m0 2h0m1 1h0m1-3h0m3 3h0m1 1h0m1 0h0m0 0h0m2-1h0m1-1h0m1 0h0m0-1h0m3 2h0m0-2h0m4-1h0m0 1h0m0-1h0m3 2h0m2 1h0m1 0h0m0 1h0m2-1h0m1-3h0m2 3h0m0-2h0m0 2h0m1-2h0m0 0h0m1 2h0m2 0h0m1-1h0m0-2h0m3 1h0m-1 4h0m-2 2h0m0-2h0m0 3h0m-1-2h0m0 3h0m-1 0h0m0 0h0m-4-4h0m0 0h0m0 3h0m0-2h0m-1 3h0m-1-4h0m0 1h0m0 0h0m-1 3h0m-2-3h0m-1 3h0m-2 0h0m0-2h0m0-2h0m0 0h0m-1 1h0m0 2h0m-1 0h0m0-2h0m0 3h0m-1 0h0m0-1h0m-1-2h0m0-1h0m-1 0h0m0 0h0m-1 4h0m0 0h0m0-3h0m-1 2h0m-4-2h0m0 3h0m-1-1h0m-1-3h0m-1 2h0m0-1h0m-1 3h0m0-1h0m-1 0h0m0 1h0m-1-4h0m-1 1h0m-1 0h0m-2 3h0m-1-3h0m0-1h0m0 3h0m-1-1h0m0-2h0m-4 3h0m0-3h0m-1 2h0m0 1h0m0-3h0m-1 3h0m-1 0h0m-2-3h0m-1 4h0m0-4h0m0 2h0m0-2h0m-1 1h0m-1 1h0m-1 0h0m-1-1h0m0-1h0m0 0h0m0 3h0m0-1h0m-1 0h0m-1-2h0m-1 4h0m0-1h0m-1-1h0m-5 2h0m0-3h0m-1-1h0m-1 4h0m0-4h0m-1 4h0m0-1h0m0 0h0m-1-2h0m-1 1h0m0 0h0m-1-2h0m-2 0h0m-4 1h0m0-1h0m-1 0h0m0 0h0m-1 1h0m-2 1h0m-1-2h0m-1 3h0m-1-2h0m-1-1h0m0 1h0m-2 2h0m0 0h0m0-3h0m-1 3h0m0-1h0m0-2h0m0 4h0m1 2h0m2 0h0m1-1h0m0 4h0m0 0h0m0-1h0m1-3h0m0 2h0m1 1h0m1-1h0m0-1h0m1 3h0m0-2h0m1 2h0m0-2h0m0 1h0m1 1h0m0-4h0m2 0h0m1 0h0m0 3h0m0 0h0m1 1h0m0-3h0m0 3h0m1-2h0m0 0h0m1 2h0m2-3h0m1 2h0m0-2h0m1 0h0m1 2h0m0 0h0m0-2h0m1 2h0m2-2h0m3-1h0m0 0h0m4 2h0m1 0h0m0 0h0m0 0h0m1-2h0m1 4h0m0-4h0m0 3h0m1 0h0m0 0h0m3-2h0m0-1h0m1 3h0m1-3h0m0 3h0m0 0h0m1 1h0m0-4h0m1 4h0m2-4h0m2 2h0m2-2h0m0 0h0m1 1h0m0 2h0m0-3h0m1 0h0m0 1h0m2 0h0m0 3h0m0-3h0m0 0h0m1 0h0m0 2h0m0 1h0m2-4h0m1 2h0m0 1h0m1 1h0m1 0h0m0-3h0m1 0h0m0-1h0m2 3h0m0-1h0m0-1h0m3 1h0m1-1h0m0 0h0m0 0h0m1 1h0m1 2h0m2-1h0m0-2h0m1 1h0m2-2h0m2 0h0m1 1h0m2 2h0m0-3h0m0 3h0m0 1h0m1 0h0m0-3h0m1 0h0m0 1h0m1 2h0m0 0h0m0-4h0m1 0h0m2 0h0m2 5h0m0 0h0m-2 4h0m0 0h0m-1-1h0m0 1h0m0-1h0m-1-2h0m-2 0h0m-1-1h0m-1 0h0m-2 0h0m0 1h0m-3 3h0m0-1h0m-1 1h0m0-1h0m0-1h0m-2 1h0m0-3h0m-3 0h0m-3 2h0m0-1h0m-1-1h0m0 4h0m-1-4h0m0 3h0m-1-1h0m-1 0h0m-1 2h0m0-4h0m-1 4h0m-1-1h0m-1-3h0m-1 1h0m-2 0h0m-2 2h0m-2-1h0m0-1h0m0 3h0m-1-2h0m0-2h0m-2 4h0m-1-2h0m0-2h0m-1 3h0m-1 0h0m-1-1h0m-1-2h0m0 3h0m-1-1h0m-1-2h0m0 3h0m0-2h0m-3-1h0m-1 4h0m-1-2h0m0-1h0m-3 1h0m-1 0h0m-2-2h0m0 2h0m-1 2h0m-1-1h0m0-2h0m-1 1h0m-1-2h0m-4 2h0m0 2h0m0-1h0m0-3h0m-1 2h0m0 1h0m-1 1h0m0 0h0m-1-1h0m-1-3h0m-1 3h0m0 0h0m-2-2h0m-4 3h0m0-3h0m-3-1h0m0 0h0m-1 4h0m0-2h0m-1 1h0m0 1h0m-2-3h0m2 8h0m2-3h0m1 0h0m1 2h0m0-3h0m1 0h0m3 3h0m0 1h0m0-1h0m2 0h0m1-1h0m1-2h0m0 2h0m1-2h0m1 3h0m0 0h0m0-2h0m1 3h0m0-4h0m1 1h0m0 1h0m0 1h0m1-2h0m1-1h0m2 1h0m1 0h0m1 2h0m0 0h0m0 0h0m3-3h0m1 3h0m0-2h0m2 0h0m2 3h0m2-3h0m0 2h0m0-1h0m1-2h0m0 2h0m1 0h0m1-1h0m0 3h0m1-3h0m0-1h0m1 0h0m1 1h0m4 2h0m1-3h0m0 2h0m1 2h0m1-4h0m0 2h0m0-1h0m2-1h0m0 1h0m1 3h0m0-2h0m0-2h0m2 2h0m1 0h0m0 1h0m3 1h0m0-3h0m1 0h0m2-1h0m0 4h0m1-1h0m0 0h0m4-1h0m1 2h0m1-3h0m1-1h0m0 2h0m1-2h0m0 0h0m1 3h0m0 1h0m1-3h0m0 3h0m0-1h0m1-1h0m4 2h0m0-3h0m1-1h0m1 1h0m2 2h0m1-1h0m0 1h0m1-3h0m-4 8h0m-2 0h0m-1 0h0m-1-1h0m-1-1h0m0 2h0m0-1h0m0 0h0m0-1h0m-1-1h0m-1 2h0m-1 1h0m0-3h0m-2 1h0m-1 0h0m0 1h0m0 0h0m-2 2h0m-1-3h0m0-1h0m-1 4h0m0-4h0m-1 1h0m-2 1h0m-1-2h0m0 0h0m-2 3h0m-1 1h0m-2-2h0m0 1h0m-2 0h0m-2-2h0m0 3h0m-2-1h0m0-3h0m-4 0h0m-2 2h0m-1 0h0m-1-1h0m0-1h0m0 1h0m0 2h0m0-3h0m-1 0h0m-5 1h0m-3 1h0m-1 1h0m-2-1h0m0 2h0m0-3h0m-3 2h0m0 0h0m0-2h0m-1 2h0m-1-1h0m0 1h0m-1-1h0m0 1h0m-1-2h0m0 2h0m0 0h0m0 1h0m-1-2h0m0 1h0m-1 0h0m0 1h0m-1-1h0m-1-3h0m-1 2h0m-1 1h0m0 1h0m-1 0h0m0-4h0m0 2h0m-1 1h0m0 1h0m0-2h0m0 2h0m-1 0h0m0-1h0m-2 0h0m-2-1h0m0 2h0m0-3h0m-2 2h0m0-3h0m0 2h0m-1-2h0m-1 1h0m2 5h0m2 0h0m3 3h0m0 0h0m0 0h0m1-1h0m1 0h0m1 1h0m0-3h0m1 0h0m0 0h0m0-1h0m1 2h0m2 0h0m0-1h0m4 0h0m1-1h0m0 1h0m1 0h0m0-1h0m0 0h0m3 3h0m1 0h0m1-2h0m0-1h0m1 4h0m2 0h0m1 0h0m0 0h0m0-1h0m0-3h0m1 0h0m0 0h0m0 1h0m1 0h0m0 0h0m0 1h0m1-2h0m1 0h0m0 3h0m1 0h0m0-2h0m1 3h0m1-4h0m0 0h0m3 2h0m0-2h0m2 1h0m1 3h0m1-2h0m0-1h0m1 3h0m1-2h0m1-2h0m4 1h0m2 0h0m1-1h0m2 0h0m1 0h0m1 0h0m3 0h0m-25 7h0m-1-1h0m-1 1h0m-1-1h0m-2 2h0m-1 0h0m-3-2h0m-2 0h0m-1 1h0m0 1h0m0-3h0m-2 1h0m0-1h0m-2 2h0m-1-1h0m-3 3h0m0-3h0m0-1h0m-2 3h0m0-1h0m-1 2h0m-2-3h0m0 1h0m-2-1h0m-1-1h0" stroke="#6b6b6b" stroke-width="2.00" stroke-linecap="round" fill="none"/>
<path d="M470 914h0m3 0h0m2 0h0m9 0h0m7 0h0m27 5h0m-4 0h0m-2-1h0m-4-1h0m0 1h0m-1-1h0m0 2h0m0 0h0m0-1h0m-1 1h0m-2 0h0m0 0h0m-1-2h0m-1 0h0m-1 0h0m0 2h0m0-2h0m-1 1h0m-1-2h0m0 0h0m0 1h0m0 0h0m0-1h0m-1 3h0m-1-4h0m0 1h0m-1 3h0m0 0h0m-2-3h0m0 1h0m-1-1h0m0-1h0m-1 1h0m0 0h0m-3 1h0m0 0h0m0 2h0m-1-1h0m-1-2h0m-1 1h0m-1 2h0m-1-1h0m0 0h0m-1-3h0m0 1h0m0-1h0m-1 1h0m0-1h0m-1 3h0m0-2h0m-1 2h0m0-3h0m-1 3h0m-1-2h0m0 0h0m0 0h0m0 2h0m0 1h0m-1-3h0m-1 0h0m-1 0h0m-1 0h0m0 2h0m0-2h0m0 1h0m-1 2h0m0 0h0m-1-1h0m0 0h0m0-1h0m0-2h0m-1 4h0m0-1h0m0 0h0m-1-2h0m0 2h0m-2 1h0m0-4h0m0 2h0m-2 2h0m0-2h0m-2-1h0m-3 0h0m0 0h0m0 0h0m-1 3h0m0-2h0m-2 1h0m0 0h0m0 0h0m-1-1h0m-1 0h0m0 0h0m0 0h0m0 0h0m-1 2h0m-2-2h0m-1 1h0m-1 0h0m-6 3h0m5 0h0m1 2h0m1-2h0m0 0h0m0-1h0m1 1h0m1 3h0m0 0h0m1 0h0m0 0h0m2 0h0m1-4h0m0 4h0m2-3h0m0 3h0m1-2h0m0-1h0m1 2h0m0-1h0m0-1h0m0 2h0m2 1h0m0 0h0m1 0h0m1-3h0m1 2h0m0-1h0m0 2h0m1-2h0m0-2h0m1 3h0m1-2h0m0 3h0m1-3h0m1 1h0m1 1h0m1 1h0m1-1h0m0-2h0m0 2h0m1-1h0m0 0h0m0 0h0m0 1h0m1-3h0m0 0h0m0 2h0m1 0h0m0-1h0m1 3h0m0-4h0m0 4h0m2-4h0m0 1h0m0 3h0m1-3h0m0 1h0m0 0h0m0 0h0m0 1h0m0 0h0m0-3h0m1 0h0m0 3h0m1-2h0m1 1h0m0 2h0m1-3h0m1-1h0m0 0h0m1 0h0m1 3h0m0-1h0m1 0h0m0-1h0m0 2h0m1-2h0m0 0h0m0-1h0m0 4h0m0 0h0m1 0h0m0-4h0m0 3h0m1 0h0m0 1h0m1-2h0m0 0h0m0 1h0m0-2h0m0-1h0m0 1h0m0 3h0m1-4h0m0 2h0m0 0h0m2 2h0m1-3h0m1 2h0m3-3h0m1 4h0m0-1h0m1-2h0m1 0h0m1 2h0m0-2h0m2 2h0m0-3h0m0 2h0m0-2h0m1 1h0m1 3h0m1 0h0m1-4h0m1 1h0m0 0h0m1 3h0m0-3h0m1 2h0m2-1h0m0 0h0m1 0h0m0-1h0m-2 7h0m0-3h0m-1 1h0m0 1h0m-2 2h0m0-2h0m-2 2h0m-1-3h0m0 1h0m0 0h0m0 0h0m-1-1h0m-1 2h0m-1-1h0m0 1h0m-1 0h0m-1 1h0m-2-3h0m-1 1h0m-2-1h0m0 3h0m0-4h0m0 0h0m-1 4h0m-1-4h0m0 1h0m-1 2h0m0-1h0m0 2h0m-1-3h0m-1 3h0m0-4h0m0 3h0m0-1h0m-2 1h0m-1-3h0m0 3h0m-1 0h0m0-2h0m0 1h0m0-2h0m-1 2h0m0 0h0m0 0h0m0-1h0m0 0h0m-1 2h0m-2-2h0m0-1h0m0 2h0m0 2h0m-1 0h0m0-3h0m0 1h0m-1 1h0m-1-2h0m0 3h0m0 0h0m0-4h0m0 4h0m-1-1h0m-1 1h0m0-2h0m0 0h0m0 0h0m0 1h0m-1-3h0m0 1h0m-1 2h0m0 0h0m0 1h0m0 0h0m-1-4h0m0 4h0m0 0h0m-1-1h0m0-2h0m-1 2h0m0 1h0m0-2h0m-1 1h0m0 1h0m0 0h0m0-1h0m-1-3h0m0 1h0m0-1h0m0 0h0m-1 1h0m0-1h0m0 3h0m0-2h0m0-1h0m-4 0h0m0 0h0m0 2h0m0 0h0m-1 0h0m-1 1h0m0-2h0m-1 1h0m0 2h0m0-3h0m-2 0h0m0 3h0m0-3h0m0 3h0m-1-3h0m-1 2h0m0-2h0m-1 3h0m0 0h0m0 0h0m-1-3h0m0 0h0m0-1h0m-1 4h0m0-1h0m0 1h0m-1-2h0m-2-2h0m0 0h0m-1 0h0m-1 0h0m-1 0h0m0 0h0m-1 9h0m4-4h0m1 0h0m1 0h0m0 1h0m1 3h0m1-3h0m0-1h0m1 0h0m1 4h0m1-4h0m1 3h0m0-1h0m0 0h0m0-2h0m1 0h0m0 4h0m0-4h0m0 3h0m0 1h0m1-4h0m0 4h0m0-1h0m0-3h0m1 2h0m0 2h0m0 0h0m0-4h0m1 1h0m0-1h0m0 1h0m0 1h0m1-1h0m0 2h0m1-1h0m0-1h0m0 2h0m0-2h0m0 1h0m1 2h0m0-2h0m1 2h0m0-1h0m1-3h0m1 1h0m0 1h0m0 0h0m0-1h0m0 2h0m0 0h0m1 0h0m0 0h0m0-1h0m0-2h0m0 4h0m0-1h0m0-1h0m1-1h0m0 3h0m0 0h0m0 0h0m1 0h0m0-4h0m0 0h0m1 3h0m0-3h0m1 0h0m0 0h0m0 1h0m0 3h0m0 0h0m1-1h0m0-2h0m0 0h0m0-1h0m1 3h0m0-1h0m0-2h0m0 1h0m0 1h0m0 2h0m0 0h0m0 0h0m1-1h0m0-2h0m0 0h0m0 1h0m2 0h0m0 1h0m0-3h0m0 4h0m0-1h0m1-3h0m0 0h0m0 3h0m0-3h0m1 1h0m0 1h0m0-1h0m0 2h0m0 0h0m0-2h0m1 3h0m0-2h0m1 1h0m0 1h0m0 0h0m0 0h0m1-3h0m0 2h0m1 0h0m0 1h0m0-1h0m0-3h0m0 3h0m0-1h0m0 2h0m1-2h0m1 1h0m0-1h0m0 1h0m1-3h0m0 4h0m0-1h0m0-2h0m2 0h0m0 2h0m0 1h0m0-1h0m1-2h0m0 0h0m0 0h0m0 2h0m0-1h0m1 2h0m1-1h0m1-2h0m0 0h0m1 0h0m0 1h0m1 0h0m0-2h0m0 1h0m1 3h0m0 0h0m0-3h0m0-1h0m0 1h0m0 0h0m1 1h0m0-2h0m1 3h0m1-3h0m1 4h0m1-1h0m0 1h0m0 0h0m0 0h0m1-4h0m0 2h0m1 0h0m1 2h0m1-3h0m3 0h0m5-1h0m2 1h0m-14 7h0m-1-3h0m-1 4h0m-1-1h0m0 1h0m0-1h0m0 0h0m-1 0h0m-1 0h0m0-3h0m0 2h0m0 2h0m-1-1h0m0-2h0m-1 1h0m-1-1h0m0 1h0m-1-1h0m0-1h0m-2 2h0m0-2h0m0 3h0m-1-2h0m0 3h0m0 0h0m0-4h0m-1 4h0m0-1h0m0-1h0m0 0h0m-1 0h0m0 2h0m-1-4h0m0 1h0m-1 3h0m0-4h0m0 3h0m0-2h0m-1-1h0m0 0h0m0 3h0m0 1h0m-1-1h0m0 1h0m0-2h0m0 0h0m0 1h0m-1-3h0m-1 1h0m0 0h0m-1 2h0m0-1h0m0 1h0m0-1h0m-2-2h0m-1 4h0m0-1h0m0 0h0m0 1h0m0-3h0m0 1h0m-1-2h0m0 2h0m0-1h0m0-1h0m0 2h0m0 2h0m-1-4h0m0 3h0m0-3h0m0 2h0m0 0h0m-1-2h0m0 4h0m0-3h0m0-1h0m0 2h0m0 1h0m0-2h0m0 0h0m-1 2h0m0-3h0m0 4h0m0-3h0m-1 0h0m0 2h0m0-1h0m-1 0h0m-1 1h0m0-3h0m0 4h0m0-4h0m0 4h0m-1-4h0m0 1h0m0 1h0m-1 0h0m0-2h0m0 1h0m-1 1h0m0 0h0m0-1h0m0-1h0m-1 4h0m0-2h0m0-1h0m-1 3h0m0-2h0m0-2h0m-1 3h0m0-1h0m0-2h0m0 0h0m-1 2h0m0 1h0m-1 0h0m0-2h0m0 0h0m-2 1h0m0-1h0m-1 0h0m-2 2h0m-1 0h0m-2-2h0m-1 1h0m-10-1h0m16 4h0m4 1h0m0 0h0m1 2h0m0 0h0m2-1h0m0 2h0m0-3h0m1 1h0m0 2h0m0-3h0m0-1h0m1 2h0m0-2h0m1 3h0m0-1h0m1-1h0m0 0h0m1 2h0m0-2h0m0 3h0m1-2h0m0 0h0m0-1h0m1-1h0m0 3h0m1-3h0m0 0h0m1 0h0m0 4h0m0-3h0m1 1h0m0-2h0m0 3h0m1-1h0m0 1h0m0-2h0m1 2h0m0-1h0m0-1h0m0 3h0m0-4h0m0 0h0m0 4h0m1 0h0m0-3h0m0 1h0m0-2h0m1 0h0m0 0h0m0 0h0m0 0h0m0 1h0m0-1h0m1 4h0m0-1h0m0 1h0m0-3h0m0 1h0m0 2h0m1 0h0m0-4h0m0 1h0m0 0h0m1-1h0m0 0h0m0 1h0m1-1h0m1 3h0m1-2h0m0-1h0m1 1h0m0 2h0m0 1h0m1-3h0m0 2h0m1-3h0m0 1h0m0 2h0m0 1h0m1-3h0m0 2h0m1 1h0m1 0h0m1-2h0m0 1h0m0-1h0m0 2h0m0-2h0m1 0h0m0 2h0m0-3h0m0 2h0m2-3h0m1 0h0m1 2h0m2 0h0m15 0h0m2 3h0m-3 3h0m-18 1h0m-3-1h0m-1-3h0m0 0h0m-3 3h0m-1-3h0m0 3h0m0-2h0m-1 1h0m0-2h0m-1 2h0m-1 1h0m-1-3h0m-1 4h0m0-4h0m0 0h0m-1 1h0m-1-1h0m0 0h0m0 4h0m-2-4h0m0 0h0m-1 4h0m0-2h0m-1-1h0m0-1h0m0 4h0m0-3h0m-1 3h0m0 0h0m0 0h0m-1-2h0m0-1h0m-2 3h0m0-4h0m0 3h0m-1-1h0m-1 1h0m0 0h0m-1-2h0m0 3h0m-1-2h0m-2-1h0m-11 0h0m-12 0h0m-3 0h0m21 5h0m7-1h0m4 2h0m1 2h0m0 0h0m2-4h0m0 0h0m0 1h0m1 2h0m0 1h0m2-3h0m0 2h0m0 1h0m1-4h0m1 2h0m0 1h0m0 1h0m0-4h0m0 3h0m5-2h0m6 2h0m8-2h0m13 0h0m-12 7h0m-12 1h0m-10-4h0m0 2h0m-2-1h0m0-1h0m-1 1h0m-11 2h0m-3-2h0m-2 2h0m-7-3h0m-7 4h0m-5-3h0m4 8h0m0-1h0m6-1h0m9-2h0m3 2h0m10-1h0m12 1h0m1-1h0m5 7h0m-3-2h0m-4 0h0m-9 0h0m-30 1h0m4 3h0m2 3h0m50-3h0m3 2h0" stroke="#139b7a" stroke-width="2.00" stroke-linecap="round" fill="none"/>
<path d="M519 938h0m17 2h0m-4 8h0m-17 4h0m8-2h0m12 3h0m-4 5h0m-11 1h0m-3-1h0m1 2h0m3 4h0m6-2h0m1 0h0m1-1h0m-2 5h0m-6-1h0m-7 0h0m-5 0h0" stroke="#e3000f" stroke-width="2.00" stroke-linecap="round" fill="none"/>
<path d="M166.1 1294.4h0m.7 .3h0m3.4-1h0m1.3 .2h0m5.1 2.8h0m-7-.5h0m-.2-.2h0m-62.2 3.2h0m-.7-.1h0m0-1.1h0m-.8 .3h0m-.7 1.6h0m0-2h0m-.2-.3h0m-1.6 1.4h0m-.1-1.3h0m0 1.4h0m-.3-1.6h0m0 1.1h0m-1.7 2.2h0m1.2-.1h0m.5 1.3h0m.1-1.5h0m0 1.1h0m.1 .6h0m.1-1.4h0m.1 0h0m.1 .5h0m1 1.1h0m1-.9h0m1.6-.6h0m.1 .3h0m27.2 3.4h0m2.9-.8h0m.8 .9h0m1-.8h0m.1-.4h0m1 1.4h0m.3-1.4h0m2.1 .7h0m.6-.7h0m2.6 .6h0m1.2 .8h0m18.5-2.5h0m1.2-1.9h0m.1 .4h0m2-.3h0m3.9-.1h0m1.8 1.4h0m12.1-.9h0m1.3-.6h0m.2 1h0m1.4 .6h0m0-1h0m2.3 .8h0m.1-.5h0m.8-.4h0m-18.8 4.1h0m-24.5 2.9h0m-.2-.1h0m-.4-.1h0m-.1 .8h0m-.3-2.6h0m-.6-.4h0m-1 3.1h0m-.2-.3h0m-.6-1.6h0m-1.1-.9h0m-.5 1.2h0m-.3-1.2h0m-.4 2.2h0m-.4-1.5h0m-.3 1.8h0m-.4-2.1h0m-.4 1.1h0m-.1 .3h0m-.2-.6h0m0-.2h0m-.5 3.1h0m-.3-2.5h0m0-.8h0m-.5 2h0m-1.9-.8h0m-.8-1.3h0m-.3 3.1h0m-.6-1.4h0m-1.7-2h0m-1.1-.7h0m-39.8 7.1h0m.1 1.5h0m.2 0h0m1.3-1.5h0m.1 .4h0m.1 .8h0m.1 0h0m.8-2.1h0m.2 .2h0m.1 1.3h0m.2 .7h0m.5 .7h0m.8 .1h0m.5-1.9h0m.5-.7h0m.1 2h0m0-1.1h0m.4 .2h0m31 .6h0m.4-3.8h0m4.7 .3h0m4.7 .6h0m2.3-.5h0m.1 1.7h0m.6-.8h0m.1 2.3h0m1-3.3h0m.2 2.7h0m.5 .4h0m.5 1.1h0m1.7-4h0m1.3 1.7h0m.5-1.4h0m.6 2.7h0m.3-.5h0m1.3 1h0m6.5-3.5h0m2.4 8.4h0m-10.7-3.4h0m-.1 .2h0m-1.3 1.5h0m-.5-1.4h0m-1.1-.3h0m0 0h0m-1.7 .8h0m-.6-1.3h0m0 .4h0m-4.3-.3h0m-.3 2.5h0m-.3 1.2h0m-7.5 .8h0m-1.7-4.5h0m-24.3 9.5h0m1.9-1.1h0m.2 .5h0m.1-.2h0m.7 .2h0m1.2-.2h0m.4-.5h0m.3 .2h0m0 .7h0m3.9 .5h0m.9-.3h0m.2-1.1h0m1.4 .6h0m.1-.2h0m2.4 .2h0m15.6-2.4h0m1.7 2.4h0m.2-.9h0m.2-1.9h0m1.8-.4h0m6.8-.5h0m2.4 3.5h0m5.4 .8h0m10.7-.1h0m1.9-1.6h0m2.1 1.7h0m0-.4h0m.9 .8h0m.1-1.2h0m.2 1.1h0m.3-2.6h0m.1 .4h0m1 1h0m.6-1.8h0m.3 1.9h0m.3-2.9h0m.2 3.3h0m1.3-.8h0m.6 0h0m.5 1h0m2.5 .1h0m1.4 .3h0m.1-1.8h0m.4 .6h0m.2-.5h0m4 6.4h0m-.2-3.6h0m-.1 .6h0m-.3 2.1h0m-1.7 .9h0m-.2-2.1h0m-.4 .2h0m-.5-.9h0m-.1-.6h0m-.1 1.1h0m-.3 .3h0m-.3-.7h0m-.2 1.1h0m-.1-1.2h0m-.1 2.6h0m-.8-4.1h0m-.2 0h0m-.1 4.4h0m-.4-2.4h0m-.2 1.6h0m-.6-1.3h0m-.3 0h0m-.6-.3h0m-.6 .8h0m-.9 1.6h0m-.7-.3h0m-.3-3.6h0m-.4-.3h0m0 4.3h0m-.6-1.5h0m-.6 1.2h0m-1.6 .6h0m-.8-4.3h0m-.5 2.5h0m-.7-.5h0m-.4 .1h0m-.1-2.1h0m-1.1-.5h0m-.5 .5h0m-.1 3h0m-.1 .6h0m-.4-3.6h0m0 .7h0m-.3 2.5h0m-.7-1.9h0m-2.6 2.4h0m0-2.6h0m-1.4-.6h0m-1 3.4h0m-.1-1.2h0m-.7-.9h0m-4.5 2.4h0m-.4-3.9h0m-5.8-.6h0m-.1 1.6h0m-13.7-.1h0m-.3 .9h0m-.7 .2h0m-4.5 .6h0m0-1h0m-4.1 2.3h0m-2.1 0h0m-.9-3.7h0m-.5 1.9h0m-.2 .4h0m0 1.2h0m-.1-2.4h0m0-1.4h0m-.4 1.7h0m-1.3 1.4h0m-.1-3.8h0m-.5 .1h0m-.6 3.5h0m-.3-.6h0m-.2 1.3h0m0-3.4h0m-.2 1h0m-.1 .9h0m-.4 .7h0m-.1 .5h0m-.9-2.2h0m-.5-.1h0m-.3 2h0m-.4 .3h0m-.9-3.2h0m-.7 1.6h0m-.1 2.2h0m-.6-3.5h0m-.4 2.9h0m-.6 .5h0m-1.3-.8h0m-.3-2.8h0m-.6-.2h0m-.1 1.7h0m-.1 2.1h0m0-1.9h0m-.4-1.4h0m-.2 1.4h0m-.2 1.1h0m0-.3h0m-1.3 .4h0m-.5-2.1h0m-1.2 2.4h0m-.1-2.3h0m-.9 2.4h0m-.2-1.4h0m0-.9h0m-1.5 1.7h0m-2.8 1.1h0m-7.6-3h0m-.4 .2h0m-.1 2.3h0m-.3-3.4h0m-.1 1.4h0m-.1-2.1h0m-.2 4.2h0m-.2-.5h0m-.3-1.4h0m-.1-1.3h0m-.3 3.6h0m-.1-3.3h0m-.3 2.4h0m-.5-2.3h0m-.5 2.5h0m-.1-2h0m-.7 .4h0m-.1-1h0m-.3 2h0m-.4 .2h0m-.9-2.4h0m-.4 .9h0m-.1 .2h0m-.2 1.3h0m3 2.4h0m7.6 1.8h0m1.2 1.2h0m0-2.2h0m1.7 3h0m1.3-3.2h0m.1 2.2h0m.1-3.4h0m.6 3.7h0m.4-1.5h0m2-.4h0m1.2-1.6h0m.2 2h0m.2-1.7h0m.1 .6h0m.1 1.1h0m0-.5h0m.1-1h0m.9 3.1h0m.3-.7h0m.3-2.4h0m.3 1.1h0m.2-.4h0m.4 1.1h0m.3 1.9h0m.2-3.3h0m.4-1.6h0m2.3 .9h0m.9 3.4h0m1.4 .5h0m.5-4.1h0m.4 1.2h0m1.3 2h0m1.1-2.7h0m.4-.4h0m2.2 4h0m.7-4.8h0m.1 2.6h0m.1-1.9h0m2 .3h0m.1-.3h0m.2-.4h0m.6 4.4h0m.1-1.8h0m.6 .9h0m.4-.3h0m1-1.6h0m.2-.4h0m.2 2.5h0m1-1.2h0m.1-2.7h0m.2 3.1h0m.2-.6h0m19.3-1.6h0m6.9 3.3h0m.4-.1h0m.3-3.2h0m.2 3.1h0m.2 .6h0m.1-.4h0m0-2.2h0m.1-1.7h0m0 2.8h0m.1-1.3h0m.6 2.4h0m.4 .3h0m.5-1.3h0m.1 .7h0m.3-2.6h0m.5 1.6h0m.6 .5h0m.4-1.2h0m.7-1.4h0m.1 3.8h0m1.7-2.4h0m.3 2h0m.1-1.1h0m0-3.2h0m0 4h0m.3-2.9h0m0-.8h0m.9 1.4h0m.1 2.1h0m.3-2.7h0m.5 2.6h0m.4 0h0m.2-1h0m1.6 1.5h0m.1-.3h0m1.4-3.3h0m.3 1.4h0m0-1.4h0m.2 2.4h0m.8-1.3h0m0 1.3h0m0 1.9h0m.3-1.9h0m.5-.8h0m0 1.1h0m.4-3.1h0m.2 3.6h0m.8-.6h0m0-3.2h0m.2 .5h0m.4 1.9h0m.3-1h0m1.3 .4h0m.4-.9h0m0-.4h0m.9 2.1h0m.2-2.5h0m.4 2.2h0m.8 1.3h0m.7-3.5h0m.2 .8h0m.8-.8h0m.4 0h0m.9 4h0m.2-1.6h0m.3 .6h0m.2 1.1h0m.5-2.7h0m1 1.4h0m.6-2h0m.1 3.8h0m.1-2.8h0m.4 .8h0m.9-2.5h0m1 3.5h0m.2 .3h0m.1-1.9h0m.3-1.6h0m3.1 2.5h0m-1.2 2.8h0m-.6 .2h0m-1 .7h0m-.2 .3h0m-.6 1.6h0m-.2-3.1h0m-.1 3.1h0m-.2-2.5h0m-.8-.5h0m-.4-.5h0m-.2 .9h0m-.1-.7h0m-.7 3.9h0m-.1-2.5h0m-.4 1.9h0m-.5-1.4h0m0 2h0m-.3 .7h0m-.5-1.9h0m0 .8h0m-1.3-3.5h0m-.2 2.4h0m-.9-1.3h0m-.3 .4h0m-.3 2.5h0m-.2-2.5h0m-.8-1.7h0m-.2 3.8h0m-1.2 .2h0m-1.9-1.7h0m-.1 1.3h0m-.2-1.6h0m-2.8 0h0m-.9 .6h0m-.4-.9h0m-.1 2.4h0m-1.7-3.5h0m-.5 1.7h0m-2.7 .5h0m-.1-.1h0m-.1-2.8h0m-.1 2.2h0m-.5 1.3h0m-.5-2.5h0m-.8 2.2h0m-.3 0h0m-.1-3h0m-.6 1.2h0m-3.4 .2h0m0 3.2h0m-.8-1.4h0m-.1-.7h0m-.2 .2h0m-1.7-2.6h0m-28.1 1.9h0m-.5 2.4h0m-.9-2.6h0m-.6-1.2h0m-.4 1.1h0m-.1-.4h0m-.2 2.6h0m-.3-.8h0m-.1 .6h0m-.5-1.9h0m-.2 2.6h0m-.2-4h0m-.5 3.1h0m-.2-1.9h0m-.5 2.1h0m-.3 .9h0m0-.9h0m-.1 .2h0m-.8-.3h0m-1.1-.3h0m-2-.2h0m-1.5-1h0m-.2-1.3h0m-.1 2.2h0m-.8 1.2h0m-2.5 .5h0m-.7-3h0m-2.2 2.6h0m-1.8-2.5h0m-.3-2h0m-1.2 3.7h0m-.2-.7h0m0 0h0m-.3-2.5h0m-.6 3h0m-.4 .8h0m-.5-3.1h0m-.3 1.3h0m-.9-.3h0m-.9 2.4h0m-1-.5h0m-1.1-2.1h0m-.2-1.8h0m-.3 0h0m-.2 4.5h0m-.1-3.2h0m-.5 3h0m-.8-1.1h0m-.9-1.7h0m2 3.4h0m.2 2.8h0m.2-2.1h0m.1-.1h0m1.4 0h0m.2 2.1h0m.1 .2h0m.5-2.8h0m.2 2h0m.6-2.2h0m.4 2.9h0m.5-1.3h0m.3 1.1h0m.4 1.8h0m.2-1.1h0m.2-2.1h0m.6-1.1h0m.4 2.6h0m.1-.8h0m.4-.3h0m.1 1.5h0m.9-1.3h0m.3 2.2h0m.1-1.9h0m.1 2.3h0m.4-2.7h0m.4 3h0m0-4.5h0m.7 1h0m.7 1.1h0m.1-2.2h0m.2 .8h0m1.9 1.6h0m.9-1h0m0 1.3h0m.7-2.1h0m.7 1.6h0m1-1.4h0m.4 1.9h0m.6-2.8h0m0 1h0m0 2.6h0m.6 .1h0m.1-2.1h0m0 1.1h0m1.7 .3h0m.5-2.8h0m0 .4h0m1.2 4.1h0m.1-3.2h0m2 .3h0m1.4-1.5h0m0 1.8h0m1.1-1.5h0m32.9 .1h0m.5-.7h0m1.3 .6h0m.2 3.9h0m.3-3.3h0m.4-.1h0m0 3.2h0m.7-3.7h0m.4 1.5h0m0-.3h0m.3 2h0m.7-1.8h0m.5 1.7h0m1.3-.3h0m.2 .2h0m.6-1.8h0m.7-1.4h0m.3 .4h0m.6-.1h0m.3 3.4h0m1.1-3.4h0m.1-.6h0m1.4 .1h0m.5 2.7h0m.5-2.8h0m.4 3.7h0m1.3-.6h0m.1 1.2h0m1.2-1.1h0m.9-.2h0m.1-1.6h0m.4-.8h0m.5-.4h0m4.8 2.7h0m.2-2.2h0m.6 1.6h0m0 2h0m1.1-3.9h0m1.2 1.9h0m.6-1.4h0m.8-.4h0m1.7-.1h0m-3.1 4.9h0m-.2 1.8h0m-.4-1.8h0m0 1.6h0m-.4-.7h0m-.1-1.3h0m-.1 .8h0m-.1-.8h0m-2.2 1.2h0m-.2 2.1h0m-.2-.4h0m-.7-.4h0m-.1 1.6h0m0-2h0m-1.3 .3h0m-.7 1.7h0m-.3-.7h0m0-2.1h0m-.4 1.8h0m-.5-1.6h0m-.6 1.4h0m0-1.4h0m-2.1 1.6h0m0 .3h0m-.4-.2h0m-.4-1.2h0m-.7-1.5h0m-.6 2.5h0m-.8 .7h0m-1.3-2.4h0m-.4 3h0m-.2-1.5h0m0-.2h0m-.4-2.5h0m-1.4 1.5h0m-.1-.6h0m-.2 .7h0m-.7-.6h0m0 .1h0m0 1.1h0m0-2.3h0m-1.9 1.7h0m-43.1-1.4h0m-1.5 1h0m-.4-.7h0m-1.9 2.5h0m-.4-1.1h0m-.2 .3h0m-2.3-.3h0m-1 1.1h0m0 1.4h0m-.3 .3h0m-.6-4.2h0m-.6 3.2h0m-.1-3.3h0m-.6 3.5h0m-.9-3h0m-.7-.4h0m-.4-.2h0m-.3 0h0m-1.5 .9h0m-.5 2.7h0m0 .8h0m-.1-4h0m-.7 4h0m0-2.5h0m-1.9 1h0m-.1 .7h0m-1.4-1.5h0m-.2 1.4h0m-.1-.4h0m-.7-2.7h0m0 .5h0m-.5 1.8h0m-.4 1.5h0m-.3-4h0m-1 .6h0m-.4 2.2h0m-.2-3.5h0m.9 5.6h0m.4 .9h0m.1-.1h0m0-.2h0m.9-.3h0m.8 4h0m1-1.5h0m.5-1h0m2.1-1.9h0m2.2 .8h0m4.5-1.1h0m57.1-.2h0m4 .1h0m-71.7 4.9h0m42.3 53.2h0m-40.8 1.7h0m-2.9-.5h0m-1.6-.4h0m-1.3 .4h0m-4.6-.4h0m-11.3 .7h0m-3.8 0h0m-1.1 .2h0m-10.2 4.1h0m.6 .2h0m2.4-.7h0m.9-.2h0m0 .5h0m.7 .3h0m.9-.9h0m1 .5h0m.6-1.6h0m1.2-.6h0m0 1.3h0m3.5-2h0m2.5 2.7h0m1.8-2.3h0m1 2.4h0m.3-.7h0m.4-1.3h0m1.3 .1h0m.3 .5h0m0 1.5h0m1.5 .5h0m1.7-1.6h0m.3 .1h0m1.4 1.3h0m.7-2.8h0m.7 1.3h0m.6 .6h0m.3 1.4h0m.4-4.1h0m.2 4.3h0m.1-.6h0m.6-2h0m.9-1.9h0m1.7 2.9h0m1.8-.9h0m.8 2.7h0m.2-4h0m.3 3.3h0m1.1 .3h0m.1-3.6h0m2.2 3.8h0m.4-3.8h0m.4 3.7h0m.4-2.8h0m1.1-.1h0m1.6 .4h0m1.4 1.1h0m1.8-1.8h0m1.1 3.5h0m.1-.7h0m.6-3.1h0m.5 3.5h0m.2-3.9h0m.2 .8h0m0 2h0m1.8-3.3h0m5.4 1h0m.6 2.7h0m0 1h0m1-1.2h0m.2-1.1h0m1.3-1.2h0m.3 3.5h0m.9-3.8h0m1.1-.8h0m.1 3.1h0m.4-1h0m.4-2.3h0m.8 0h0m.8 3.1h0m2.2-.7h0m.5 .7h0m.4 .5h0m.8-1.1h0m.2 2.2h0m.6-3.8h0m1.5-.4h0m1.7 3.2h0m1.3-1.4h0m.3 1.9h0m1.1-3h0m.3 3.6h0m2.2-4.6h0m1.5 .4h0m.1 1h0m.2-.6h0m.4 .8h0m.4 2.4h0m3.4-4.3h0m.1 1h0m.2 1.3h0m.8-1h0m.4 1h0m.3 .6h0m.1-.4h0m.9 4.8h0m-.4 1h0m-.3-3.1h0m-.1 1.5h0m-.4 1.8h0m-.3-1.2h0m-.1-2.3h0m-.6 1.1h0m0 .6h0m-.2 2.1h0m-.2-.2h0m-.1-2.2h0m-.7 2.6h0m-.4-.2h0m-.9-.2h0m-.1 .5h0m-.8-1.7h0m-2.3 1.8h0m-.6-3.9h0m-.4 4h0m-.3-4h0m-1.6 1.3h0m-.6-1.3h0m0 .3h0m-.9 .3h0m-.1 2.5h0m-1.1-3.3h0m-1.6-.1h0m-3.1 2.9h0m-2.3-2.8h0m0 3.5h0m-.1 .3h0m-.7-.3h0m-.9-.8h0m-1-1h0m-4-.6h0m-.3 1.5h0m-.6-1.7h0m-1.9 3.8h0m-.8-1.1h0m-2.6-1.3h0m-1.3 .9h0m-.8 1.6h0m-.2-.5h0m-1.8-1.5h0m0 .6h0m-.1-1.9h0m-.3 .5h0m0 2.6h0m-.1-4h0m-.5 1.5h0m-1.2 1.6h0m-.3-2h0m-.5 2.5h0m-.2 .5h0m-.8-2.9h0m-.4 .2h0m-3.8 .1h0m0-.5h0m-.7 2.7h0m-.6-3.8h0m-.1 2.5h0m-1.4-.7h0m-.4 2.4h0m0-3.4h0m-2 1.5h0m0-1.1h0m-.2-1.6h0m-.7-.2h0m-2.2 3.2h0m-2.8-2.9h0m-.6 4.1h0m-.8-2.8h0m-.8 .8h0m-1.1-.2h0m0 .2h0m-.4 .2h0m-.2-1.6h0m-.7-.6h0m-.6 2.6h0m-1-2.2h0m-.2-.6h0m-.7 2.5h0m-.7-2h0m-.7 1h0m-2.8 .4h0m-.7 2h0m-2.3-.8h0m-.7-2h0m-1.2 1.7h0m-.1 1.7h0m-1.5-2.1h0m0 2.1h0m-3.3-1.8h0m-.2-1.2h0m-.9 1.2h0m-3 1.4h0m-.6-2.7h0m-.6 1.1h0m-1.4 1h0m-1.5-2.5h0m-.4 3.1h0m-.4-1.5h0m-.8-.1h0m-.5 .6h0m-.1 .3h0m-.9 1h0m-3 5.3h0m2.9-4.1h0m1.5 1.9h0m.4 1.5h0m.5-4.2h0m1.9 1.8h0m.9 2.6h0m1.3-3.2h0m1.9 1.3h0m.2 1.4h0m0-2h0m1.8-.9h0m.6 0h0m.4 .9h0m.4 .9h0m.5-2.7h0m1.4 2.4h0m.5 1h0m1.1-1.4h0m0-1.5h0m1.1 .8h0m.2 2.4h0m.1 .8h0m1.1-2.3h0m.8-1.8h0m.4 .8h0m.7 1.9h0m1.5 .4h0m.6-.3h0m.6 .9h0m.1-1.9h0m0 .5h0m0 1.9h0m.9-4.2h0m0 0h0m1.2 1.7h0m1 2.7h0m.3-3.9h0m.1 1.4h0m0 1.2h0m.5-3.4h0m1.8 .7h0m0 .5h0m.7 0h0m3.3 3.4h0m.5-2.3h0m.1 .3h0m.3-1.9h0m.6 2.5h0m.3 .6h0m.2 .2h0m.7-.3h0m1.1-2.2h0m.4 .5h0m1.1-.1h0m.1 1.1h0m.3 .9h0m1.2-1.5h0m.4-.2h0m.5-.4h0m.2 .7h0m0 1h0m.3-2.6h0m1.3 .9h0m.4 1.8h0m.4 .3h0m4.2-4.1h0m.2 1.4h0m1.1 3.4h0m.3-2.3h0m1.3-2.2h0m.4 2.3h0m.8 2h0m.6-.5h0m.2-.6h0m1.2-2.1h0m1.7 3.4h0m2.3-4.7h0m1.4 2.2h0m3.4-.9h0m.2-.7h0m.3 3.3h0m.1-1.7h0m3.1 2.5h0m.7-.9h0m1 .3h0m5.7-2h0m.1-1.4h0m.3 1.7h0m3.6-.2h0m.1-.5h0m.4 1.1h0m.3-1.6h0m.3 .9h0m.8-2.1h0m.1 1.9h0m1 1.3h0m.9 .2h0m1.3-1.5h0m1.8-.9h0m.4 1.4h0m.1-2.2h0m3.1 1.5h0m0-1.8h0m1.2 2.3h0m.5-.7h0m-2.6 5.7h0m-1.6-.6h0m-.5 2.7h0m-.4-2.2h0m-.5 1.2h0m-1.3 .6h0m-.8-3.3h0m-4 3.8h0m-.1-.7h0m-.6-2h0m-4 2.1h0m-.2 .3h0m-2-1.4h0m-1.1 1h0m-.6-.8h0m-.4-.7h0m-.6 .5h0m-.3-.6h0m-1.1 1.2h0m-.6-2h0m-2-1.3h0m-.1 3.3h0m-.6-2.6h0m-1 .3h0m-1.5-1h0m-.3 3.1h0m-.3-2.4h0m-.2-.6h0m-.1 3.9h0m-1.5-3h0m-.7 2.3h0m-1.7 .2h0m-1.9-3.5h0m-2.2 3.5h0m-.5-2.2h0m-2.7 2.4h0m-3.2-3.2h0m-.3 3.4h0m-.6-.7h0m-2.4-2h0m-.2 2.8h0m-.9-4.1h0m-.4 2.4h0m-1.4-.8h0m-.2 2.6h0m-.9-2.7h0m-.4 3.4h0m-.4-2.3h0m-.2 .1h0m-1-.6h0m-.6-1h0m-1.1 3.2h0m-.1 .5h0m-3-4.5h0m-.1 4.1h0m-1.3-1h0m-.6-2.4h0m-.2 1.6h0m-.6 1.8h0m-.3-2.2h0m-.4 1.5h0m-2.2-.2h0m0 .7h0m0-.5h0m-2.1-.8h0m-.2 1.1h0m-1.5-.7h0m-.6 1.6h0m-1.2-1.5h0m-1.8-.8h0m-.5-1h0m-.8 2.2h0m-.2-.8h0m-.8 .8h0m-.6-3.8h0m-1 .6h0m-.5 1.3h0m-.7-.6h0m-1.1-1.2h0m-.1-.1h0m-.6 .2h0m-1 3.6h0m-.7-3.1h0m-.5 2.7h0m-.3-2.8h0m0 .1h0m-.1 .1h0m-.7 3.1h0m-1.4 .5h0m-.7-2.3h0m-.5-2.1h0m0 3.3h0m-.7 1.2h0m-.8-1.6h0m-1.2-.6h0m-.1 1.8h0m-.2-3.5h0m-1.2 2.8h0m-.7-3.2h0m0 1.8h0m-.8 1.4h0m0-1.8h0m-.7-.1h0m-4.3 5.8h0m1-1.5h0m.8-.5h0m.7 2.7h0m.3-2.8h0m.2 1.4h0m2.8-.7h0m.3 1.3h0m3.5-.9h0m0-.6h0m1.9 1h0m.2 .5h0m1.2-1.1h0m1.3 .7h0m1.9 1h0m.6 .1h0m2-1h0m.6 .9h0m.1-1.8h0m2.6 .1h0m3.1 1.2h0m.3-.8h0m1.9 1.4h0m1.3 .5h0m1.7 1.4h0m.3-4.1h0m1.3 1.2h0m2.4-1.9h0m2.5 1.5h0m.1 3.1h0m.4-3.3h0m.2-.1h0m.1 1.6h0m1-2.3h0m.3 .4h0m.8 .7h0m.1-.8h0m.2 2.6h0m1.4-3.3h0m.1 .1h0m.5 1.6h0m2.2-1.5h0m.2-.3h0m.5 0h0m1.4 1.1h0m.5 2.3h0m5.6-.3h0m.1-.8h0m.1-.9h0m1.4 .2h0m1.3 3.2h0m1-.9h0m.3-.8h0m.4-3.1h0m.7 2.7h0m1.2 2.2h0m.2-1.5h0m0-2.9h0m.7 3.2h0m.1-1.3h0m.7 1.9h0m.7-4.2h0m1 1.5h0m1.5 1h0m.4-.7h0m3-1.7h0m1 .5h0m0 1.7h0m.2-1.6h0m.2 3.2h0m.8 .3h0m1.6-.6h0m1.5-.3h0m.4-3.3h0m.2 2.9h0m.2-.4h0m.7-2.4h0m2.3 4.5h0m.4 .1h0m1-.5h0m1.5-1.4h0m.8-.2h0m1.9-1.5h0m3.4 .5h0m.6 1.2h0m3.1-.7h0m.2 1.7h0m1.4-3.3h0m-2.4 5.2h0m-.2 1.3h0m-.2-1.7h0m0 .4h0m-1.3 3.5h0m-.6-4.1h0m0 1.9h0m-.7 .8h0m-1.5-2.9h0m-.3 2.8h0m-.4-.4h0m-1.3-1.6h0m-.7 .3h0m-.2 2.1h0m-.7 1.3h0m-.8-1.9h0m-.9 1.8h0m-.2-2.4h0m-3.1 1.5h0m-1.6-2.2h0m-2-1h0m-.5 1.4h0m-1.4 .1h0m-1.2 .8h0m-2.3 1.9h0m-.1-2.3h0m-.8 .8h0m-.8-1.8h0m-.1 1.7h0m-.3-.2h0m-1-.5h0m0 2.3h0m-.5-3.6h0m-.4 .7h0m-.5 .1h0m-.5-.7h0m-3.5 3.1h0m-1.7 .4h0m-.4-3h0m-.9-.1h0m-.5 2.2h0m-.1-2.9h0m0 2.1h0m-.4-2.3h0m-.2 4.4h0m-.8-2.9h0m-.1 2.2h0m-.1 .6h0m-2-4.2h0m0 3.7h0m-.1-.2h0m-.1-3h0m-.3 3.6h0m-.7-.2h0m-2-2.6h0m-.1 1.5h0m-.5 .6h0m-.3-3.8h0m-1.7 1.6h0m-.1 2.8h0m0 .2h0m-1.5-3.6h0m-1.4 1.3h0m-.4 2.3h0m0-1.3h0m-.3-.1h0m-1.9 .1h0m0 .7h0m-.5-.3h0m-2.1-3.7h0m-.1 2.3h0m-.7-1.6h0m-.8-.6h0m-.3 .5h0m-.8 1.7h0m-.3-1.4h0m-.2 1h0m-1.4-1h0m-2.5 1.8h0m-.4-2.1h0m-.2 .3h0m-.9 2.7h0m-.8-2.7h0m-.4 .6h0m-.3-1.5h0m-.1 1.8h0m-2.1-2h0m-.1 3.2h0m-1.6-3.1h0m-1 4.8h0m-.1-2.9h0m-.2-.9h0m0 3.2h0m-.4-4.2h0m-.7 1.3h0m-.2 1.5h0m-.6 .7h0m-.1 .9h0m-.6-4.1h0m0 1.9h0m-.2 .8h0m-.6 .3h0m-1.6-2.9h0m-1.9 1.3h0m-1.1 2.8h0m-.2 .2h0m-.9-2.8h0m-1.8-1.2h0m-2.4-.6h0m-.3 2.4h0m-.7 1.8h0m-2.3-2.1h0m-1.2 6.4h0m.6 0h0m.2-2.3h0m3.5-1.4h0m2 3.8h0m0-.9h0m.8-.6h0m1.6-1.3h0m.6 1.9h0m.3-.4h0m1.4 2.1h0m3.2-3.3h0m.6 1.6h0m.6 .9h0m.4-.1h0m0 1.1h0m1.5-1.4h0m.3 1h0m.5 0h0m.8-1.7h0m.1 1.4h0m.2-4h0m.2 3.7h0m1.4-3.1h0m.7 .2h0m.3 2.1h0m1.2-.4h0m.4-1.6h0m1.5 1.7h0m1.5 1.9h0m.1-.4h0m.3-1.9h0m.2 1.6h0m.1 1h0m.3-3.7h0m1.8-.8h0m.1 1.8h0m.4 1.1h0m0-2.1h0m.2-.4h0m.6 1.9h0m.5-1.8h0m.7 2.6h0m.1 .5h0m.3-1h0m.7-1.7h0m.1-.8h0m.1 .8h0m0 2.4h0m.5-1.4h0m1 1.2h0m.6-2.6h0m.1 4h0m1.2-3h0m.1 .9h0m.8-2.5h0m.2 0h0m.5 0h0m.2 1.5h0m.8-1.1h0m.7 .2h0m1.5 2.9h0m.7-1.8h0m.5 .1h0m.6 .4h0m1.2-.7h0m.1-1h0m.2 2.2h0m.3 1.1h0m.4-1.6h0m.4-1.8h0m.7 3.1h0m.9-3.7h0m.4 .1h0m.2 3.5h0m0-1.8h0m.2 1.1h0m.8-2.4h0m.8 3.4h0m.3-1.4h0m.6 1.7h0m.3-1.6h0m.6-2.6h0m.7 3h0m.2-.9h0m.6-1.2h0m.2 .7h0m.3 .7h0m.4 2.2h0m0-4.1h0m.5 .7h0m.1 .9h0m.2-1.4h0m0 .7h0m.1 3h0m.6-1.6h0m1.2-.5h0m.5-2.2h0m.2 3.7h0m.1-2.4h0m1.1 .7h0m.1 2.4h0m0-.2h0m.1-1h0m.8-2.9h0m1.5 4.5h0m.4-2.7h0m.8-.1h0m.2-1.8h0m.3 3.7h0m0 .3h0m.6-4h0m1.2 3.3h0m0-2.4h0m.1-.9h0m.6 .8h0m3.7 1.6h0m.1-2.3h0m1 .3h0m1.4 .3h0m.4-.9h0m.2 .3h0m.3 2.8h0m.9 1.1h0m2.2 .3h0m.5-1.8h0m.2-1.2h0m.6 .6h0m.2 1.7h0m2.3-1.6h0m1.4-1.6h0m.5-.6h0m-1.1 5.1h0m-3 1.8h0m0 2.8h0m0-1.6h0m-2.7-1.5h0m-.1 1.5h0m-1.1-.4h0m-.1 2.1h0m-.4-.3h0m-.9-1.8h0m0-.1h0m-.3-.4h0m0 .2h0m-.9-.5h0m-.2 2.7h0m-2.2-2.5h0m-.3 .5h0m-.4-2.6h0m-.3 2.7h0m-1.4 .3h0m-.3-1h0m-.4-1.9h0m-.7 .1h0m-.4 3h0m-.2 1.2h0m-.4-3.4h0m-1.4 3.8h0m-.3-2.3h0m-.2-.3h0m-.8 1.6h0m-.1-3h0m-.1-.8h0m-1 4.3h0m-.4 .2h0m-.9-2.5h0m-.3 1h0m0 1h0m-.4-2.5h0m0 0h0m0 3h0m-.2-.1h0m-.7-2.5h0m-.1 2.5h0m-.3-2.4h0m-.6 1.2h0m-.1-.7h0m-.4 .9h0m-.5 .7h0m-.5-2.4h0m-1.7 2.1h0m-.4-3.5h0m-.3 2.9h0m-.4-.5h0m-.1-2h0m0-.6h0m-.5 1.1h0m-.2 1h0m-.3 2.6h0m-.1-1.9h0m-.2 .4h0m-.6-3.4h0m-.2 3.8h0m-1.6-3.3h0m-.2 1.5h0m-.2-1.9h0m-.1 1.9h0m-.2 .2h0m-.8 2h0m0 .7h0m-.1-.8h0m-.2-3.1h0m-.1 1.4h0m-.1-1.6h0m-.1-.4h0m0 1.5h0m-1 2.2h0m-.1-.6h0m-.2 .5h0m-.7-.8h0m-.1 .9h0m-1.4-2.6h0m-.1-.3h0m-.1-.1h0m-.2 .1h0m-.5 1.1h0m-.3-1.3h0m-.2 3.1h0m-.3-.5h0m-.3-2h0m-1 .8h0m0-2.1h0m-.1-.1h0m-.2 1.7h0m-.2-1.4h0m-.1 4.1h0m-3.1-2.9h0m-.4 .8h0m-.5-.9h0m-.6 2.2h0m-.1 .5h0m-.2 0h0m-.2-2.2h0m-.2 .4h0m-.3 2.1h0m-.9-3.4h0m-.2 2.7h0m-.8 .5h0m-.6-2.7h0m-.4 2.2h0m-.3-2.5h0m-.4-1.1h0m-.2 0h0m-.2 1.4h0m-.4-.8h0m-.3 2.7h0m-.5-2.5h0m-.8 2.1h0m-.2-1.1h0m-.6 .1h0m-.7 1.5h0m-.2-3.5h0m-.3 4.2h0m-.7-3.3h0m-.9 2.5h0m-.1-2.1h0m-.6 1h0m-.1 2.4h0m-.1-.8h0m-.6-2.1h0m-.2-1.1h0m-.5 3.3h0m-.3 .2h0m-.3-4.3h0m-.1 4.4h0m-2.3-.3h0m-.2-3.9h0m-.1 3.1h0m-.9 0h0m-.6-2.4h0m-1.1 2.2h0m-.1-.8h0m-2.1-2h0m-.5 4.2h0m-2.2-2.2h0m-.5-1.1h0m-.1 2.4h0m-.2 .9h0m-.2-.9h0m-.2-.3h0m-.4 .6h0m-.3-.9h0m-.2 .1h0m-.1-.1h0m-.9-2.3h0m-.3 1.4h0m-1.4-1.5h0m-.2 2.4h0m-.7-2.9h0m-.2 3.6h0m-2-.6h0m2.5 1.9h0m0 .9h0m.4 .8h0m.3-1h0m1.1 1.9h0m.1 2.1h0m0-1.4h0m.6-1.2h0m.6 1.6h0m0-3.4h0m.2 .5h0m.6-.1h0m.1-.4h0m1.2 3.5h0m.4-1.8h0m0 .6h0m.1-1.7h0m1.7 3.3h0m.5-3.4h0m.4 3h0m.5 .4h0m.8-1h0m1.3-3.1h0m0 .8h0m.1 3.1h0m.5-3.2h0m.3 1.7h0m.5-1.9h0m1 .7h0m.8-.5h0m.2-.2h0m0-.5h0m.3 1.7h0m.6-.5h0m.1 2.9h0m0-2.7h0m.6 .2h0m.2 3.1h0m.3-1.7h0m.4-3.1h0m.1 3.5h0m.4-3h0m.2-.3h0m.2 2.6h0m.3 1.8h0m.5 0h0m.2-3h0m.4 1.2h0m.7 1.1h0m.2 .9h0m.7-1.1h0m.7-.6h0m.4-.9h0m.1-1.4h0m.1 3.4h0m.5-2.2h0m.1-.3h0m.7 1.9h0m.1-1.2h0m1.4 1.9h0m.2-2.3h0m.2-.1h0m.8 1.2h0m.3-2.5h0m0 4.2h0m.7-2.9h0m.2 2.1h0m.1-4h0m1.4-.1h0m.4 .5h0m.1 .6h0m.1-1h0m.2-.1h0m.5 4.8h0m.2-3h0m.1 .9h0m.5-2.3h0m.3 1.6h0m.1-2h0m.6 1h0m.3 3.9h0m.4-1.9h0m.3 .6h0m.4-2.4h0m.9 1.4h0m.7 .8h0m1.7-2.7h0m.1 .3h0m.9 0h0m.7 2.9h0m.4 .1h0m.1-3.8h0m.2 3.3h0m1 .2h0m1.2-.1h0m0 1.3h0m.1-3.9h0m.4-.1h0m.2 2.6h0m.6-.5h0m2 .7h0m.3-2.5h0m1.2-1h0m0 .9h0m.3 1.5h0m.2-1.1h0m.3 .6h0m.2 1h0m.5 1.8h0m.1-3.1h0m.7-.9h0m0 2.9h0m.6-3.3h0m.2 2.3h0m.3-2h0m.2-.2h0m0 3.3h0m1.3-2.8h0m.4 1.3h0m.2-.8h0m.1-.4h0m.8 1.7h0m.3 1.9h0m.1-3.4h0m.5 2.5h0m.4-.8h0m.3 1.8h0m1-4.1h0m.4 .2h0m2.1 1.3h0m.3-.6h0m.1 3.1h0m.4-1.5h0m.5-2.8h0m.1 .2h0m.6 .1h0m.5-.5h0m.2 3.8h0m.1-2h0m.3 2.8h0m.5-4.1h0m.2 .9h0m2 .6h0m.1 .9h0m.1 .1h0m.1-2.8h0m.4 .2h0m2 3.3h0m1.2-.1h0m.3-3.6h0m.6 3.1h0m.6-2.1h0m.4 2.5h0m.4-.1h0m.4-1.7h0m.2-.1h0m.5-.6h0m.8 1.8h0m0 .2h0m.5-1.4h0m.9 2h0m0-3.8h0m.2 1.2h0m.1 3.6h0m0-.9h0m.2-1.5h0m.1-.8h0m0 .3h0m.6-.4h0m-1.5 3.4h0m-.2 2.6h0m-1.1 .1h0m-.1-.8h0m-.3 2.2h0m-.1-2.1h0m-.5 1.4h0m-.8 .6h0m-.3-2.3h0m0-1.5h0m-2.8 .7h0m-.1 3.6h0m-1.2-.6h0m-.1-.3h0m-.8 .2h0m-.3-2.2h0m-.3-.8h0m-.2-.6h0m-.6 1h0m0 2.2h0m-.2-2.9h0m0 2.8h0m0 .5h0m-.8 1.1h0m-.1-2.4h0m-.4 1.5h0m-1-1.3h0m-.3 1.9h0m-.1-.9h0m-.1-.9h0m-.3 1.9h0m-.5-1.6h0m-.2-1.9h0m0 .3h0m-.6 .7h0m-.3 2.2h0m-.4-2.1h0m-.7-.5h0m-.8 2.2h0m-.7-2.5h0m0-.8h0m-.1 1.8h0m-.6-.8h0m-.4 .5h0m-.9 1h0m-.6-.5h0m-.8 1.9h0m-.2-.7h0m0-.5h0m-.1 1.2h0m-.2-2h0m-.2-.2h0m0 .9h0m-.2 .7h0m-.3-.9h0m0-3h0m-.2 3.4h0m0-.7h0m0-2.3h0m0 1h0m-1.3 .4h0m-.9 2.9h0m-.3-3.2h0m-.5 2.6h0m-1-4.1h0m-.3 3.2h0m-.9-.5h0m-.3-1.9h0m-1.9 1.4h0m-.2-1.8h0m-.4 3.6h0m-.3 .2h0m-.2-1.2h0m-.3 1h0m-1.4-1h0m0 .6h0m-.4-1.7h0m-.1-1.5h0m-.9 2.8h0m-1.6-2.2h0m0 .1h0m-.7 1h0m-.2-1.7h0m-1 2.8h0m-.9-2.2h0m-.3 2.3h0m-.2 1.1h0m-.3-4.4h0m-.3 4.1h0m-.9-3.2h0m-.1 3.6h0m-1.6-1.9h0m-.1-.5h0m-.4 .3h0m0-1.2h0m-.9-.9h0m0 2.9h0m-.1-1.9h0m-.2-1.3h0m-.7 3.8h0m0-1.6h0m-.4 1.4h0m0-1.2h0m-.6-1.8h0m-.1 1.7h0m-.3 1.3h0m-.3-3.5h0m-.1 4.7h0m-1.4-4.7h0m-1.1 4.4h0m-.1-3.4h0m-.7 3.4h0m0-1.9h0m-.1-1.7h0m-.5 0h0m-.2 1.7h0m-.6-1.7h0m-.1-.2h0m-.3 2h0m-2.3-.4h0m-.1 1.6h0m-2.4-1h0m-.4-.4h0m-.1-1.5h0m-.2 3h0m-.1-4.1h0m-.8 1.9h0m-.3-1h0m-.6 1.6h0m-.4 0h0m-.1 0h0m0-1.7h0m-1.1 1.7h0m-.8 1.3h0m-.4-1h0m-.3-.5h0m-1.3 1.9h0m-.1-3.3h0m-1.4-.2h0m-1 1.4h0m-.2 2.8h0m-.8-1.4h0m-.1-1.5h0m-.2 .3h0m-.4 2h0m-.4 .1h0m-.2-3.8h0m-.2 3h0m-.1-3.6h0m0 3.7h0m-.5-3h0m-.3 .4h0m0 3.1h0m-.1-4h0m-2.4 2.1h0m-.6-1.2h0m-.8-.3h0m-.3 2.2h0m4.6 4h0m.1-1.8h0m.4 3.4h0m.4-1.2h0m.6-2.2h0m.1 1.9h0m1-.2h0m.7 0h0m.7 .1h0m.1 1.7h0m.3-3.6h0m.5 3.2h0m.1 .4h0m.4-1.5h0m.2 .5h0m.5 1.7h0m.1-3.5h0m.1 1.9h0m.3 1h0m1-2.8h0m.5 2.6h0m0-3.5h0m.6-.1h0m1.1 2.5h0m.3-2h0m0 2.9h0m.1-.1h0m.8-1h0m.4 2.3h0m.5 .1h0m.4-3.7h0m0 1.9h0m.4-.4h0m.2-.8h0m.1 1.2h0m.7 1.1h0m.9-.1h0m2.2 .1h0m0-3.9h0m.1 1.8h0m0-.9h0m1.1 1.6h0m1.4-2.5h0m.8 4.2h0m.2-4.2h0m0 1.1h0m.2-.6h0m.3 3.6h0m.4-4.1h0m.1 4.6h0m.1-2.9h0m.1-.6h0m.3 1.4h0m.3-1.6h0m.6-.1h0m.3 1.9h0m.6 1.2h0m.2-1.7h0m.2 .6h0m.6-1.8h0m0 3.4h0m.7-2.6h0m.6-1.4h0m0 3h0m.4 .2h0m.2 .7h0m.1-3.7h0m.7 3.1h0m0-2.3h0m1 .3h0m1.5 .4h0m0 1.6h0m.1-1.6h0m.5-2.1h0m.7 1.2h0m0 2.8h0m.2-4h0m.3 1.5h0m1 2.6h0m.1-2.6h0m.5 .8h0m.6-.4h0m.5-1.9h0m1.8 3.5h0m.1-.4h0m.1-1.2h0m.3 .9h0m.2 2h0m0-1.8h0m.1-3h0m.5 2h0m.2-1.4h0m.3 1.7h0m.3-.2h0m.2 2.6h0m.3-2.9h0m.6-1h0m1.5 .9h0m.6-.5h0m1.1-.9h0m.1 1.2h0m1.8 .4h0m0-.3h0m.6-.5h0m2.3 2.8h0m1.2-.9h0m.2-1.3h0m.4-.1h0m0-1h0m.6 3.5h0m.4-4.1h0m1.5 3.8h0m.1 .4h0m.9-1.5h0m.2-1.8h0m.1 2.4h0m.1-1h0m0-.8h0m.5 .9h0m.2-1.8h0m.4 .7h0m.1 .2h0m.3 1.9h0m.4-2.9h0m0-.3h0m.1 1.1h0m.1 .2h0m.5 .6h0m1-1.7h0m1.7 .8h0m.7 2.8h0m.2-3.8h0m.1 .4h0m0 3h0m.2 .5h0m0-.9h0m1.6-1.6h0m.9-1.3h0m0 1.2h0m.9 1.3h0m.3 2h0m1.3-4.2h0m.1 1.1h0m.5 2.5h0m.6-1.1h0m.2-1.5h0m.7 2.2h0m.1-3.6h0m.7 2.5h0m0-.4h0m0 2.2h0m.3-4.2h0m.3 1.9h0m.3 1.9h0m0-3.3h0m.1 1.8h0m.3 0h0m-1.9 2.4h0m-2.3 2h0m-.8 .1h0m-.3 1.3h0m-.1 .4h0m0-1.5h0m-.6-.1h0m-.6 2.5h0m-.3-1.4h0m-.2-.2h0m-1-2.3h0m-.4 2.2h0m-.2-1h0m-.1-1.3h0m-.9 1.8h0m-1.3 1.2h0m-.4 1h0m-.1-3.8h0m-.3 2.8h0m-.3-.5h0m-2.4-.5h0m-.2 1.5h0m-.2-1.1h0m-.8-.6h0m-.8-1.6h0m0 3h0m-.2-.1h0m-.1-2.4h0m-.1 .3h0m0 1.6h0m-1.7 1.3h0m-.6-4.2h0m-.2 .5h0m-.4 3.6h0m-.2 0h0m-.1-4.6h0m-.5 4.2h0m-.6-3.8h0m-.1 3.2h0m-.6-1.8h0m-1.2 1.6h0m-.2-1.3h0m-.1 2.8h0m-.8-.5h0m-.1-1.1h0m-.6-2.5h0m-.3 .9h0m-.2 1.9h0m-.3-.7h0m-.9-2.3h0m-.1 1.1h0m-.5 1h0m-.2-1h0m-.1 .9h0m-.2-2.5h0m-.3 4.5h0m-.6-.2h0m-1.1-3h0m-.8 3h0m-1.3 .1h0m-.3-1.8h0m-.2 1.4h0m-1.2-3.1h0m-1-.3h0m-.9 .4h0m-.1 2.4h0m-.1 1.3h0m-.2-.2h0m0-.8h0m-.1-1.4h0m-.2 0h0m0-2.3h0m-.2 0h0m0 .8h0m-.5-.1h0m-.6 2.7h0m-.4 .5h0m-.1-2.9h0m-1.7-.3h0m-.3 .1h0m-.4 1h0m-.5 .4h0m0-.8h0m-.9 0h0m-1.6-1.5h0m-.9 3.7h0m-.1-3.5h0m-.4 .4h0m-.4 3.2h0m-.4 .2h0m-.8-3.1h0m-.1 0h0m-.1 .6h0m-1.6 3h0m-.6-4h0m0 3.6h0m-.2-2.4h0m-.1-.2h0m-.3-1.5h0m-.7 .9h0m-.3-.9h0m-.6 .2h0m-.5 3.2h0m-.1-.1h0m0-3.1h0m-.1 1.6h0m-.3-.6h0m-.3 .7h0m-.8 .2h0m-.4 .4h0m-.7 1.2h0m-1.2-.6h0m-.2-3.1h0m-.5 1.8h0m0-1.4h0m-.3 3h0m-1.2-2.9h0m-.2 1.8h0m0 2.4h0m0-3.1h0m-.6-1.4h0m-.1 1.8h0m-.1 2.5h0m-.7-.3h0m-.1-.4h0m-.5-2.3h0m-.2-1.3h0m-.1 .9h0m-.6 3.1h0m-.4-2.3h0m-.1-.2h0m-.2 2.7h0m-.7-2.2h0m-.4 1.1h0m0-1.9h0m-.6 1.9h0m-1.1-.1h0m-.7-2.8h0m-.6 .5h0m-.9-.8h0m-.1 2h0m-3.3-1.9h0m6.5 5.4h0m2.1 1.7h0m.8-.3h0m.6-1.4h0m.7 1.1h0m1.7-1h0m.6 .7h0m1.9-.6h0m.8 3.2h0m1.2-.5h0m.7-1.3h0m.5-2.1h0m.2 4.3h0m.2-1h0m.6 .3h0m.2-2.9h0m.2 2.8h0m.3-2.9h0m.7 2.6h0m1.3-2.3h0m0 3.6h0m.3-.9h0m.2-3.6h0m.3 .9h0m0 2.4h0m.9-2.7h0m.1 1.4h0m.1-.6h0m.2 1.2h0m.2 1.7h0m1.1-.1h0m.1-.9h0m1.6-.2h0m.1-2.3h0m.6 2.6h0m.7-1.5h0m.6 2.9h0m0-4.4h0m.2 3.6h0m.8 .2h0m.3-3.6h0m0 3.3h0m.3 .7h0m.6 0h0m.1-3.3h0m.2 .2h0m.4 2.9h0m0-1.8h0m.4 1.7h0m.1-.3h0m.6-1.4h0m.8-2.1h0m.3 .9h0m.7-.2h0m.3 1.1h0m0 .1h0m.6 .3h0m.1-1.1h0m.1-.1h0m.4-1.2h0m1.9 4.2h0m.1-.2h0m.5-2.8h0m.4 3.3h0m1.4-.1h0m.4-3.6h0m0 3.1h0m.7-2.8h0m.2 1h0m1-.4h0m.3 2.1h0m1.6-2.6h0m.3-1.2h0m.7-.2h0m0 .2h0m.1 1.2h0m.4 3h0m0-.5h0m.7-2.3h0m.1-1.7h0m.3 2.3h0m.3 1.2h0m.7-.7h0m.1-1.7h0m.4 3.4h0m.9-2.1h0m.2 1.1h0m.1-2.9h0m.2 .1h0m.3 3.6h0m.5-3.9h0m.1 2.2h0m.5-.2h0m.1-.3h0m.1 2.3h0m.3-3.8h0m.1 1.4h0m.6 .4h0m.1 1.8h0m.2-1.4h0m.5-1.2h0m2 3.1h0m.6-1.8h0m.4-3h0m0 4h0m.4 .6h0m.4-.8h0m1 0h0m.1-1.1h0m.5 0h0m1.1 0h0m.2-.5h0m.3-.5h0m.5 1.1h0m.3 .6h0m.5 .9h0m1.5-.8h0m.3 0h0m.2-.8h0m.1-1.1h0m2-1.2h0m-7.7 5.4h0m-.9-.8h0m-2.7 1.7h0m-.2-1.1h0m-1.1-.6h0m-.1 1.2h0m-.7 2.1h0m-.4-2.4h0m-.7-.3h0m-.1 2.4h0m-.2 0h0m-1.2-1.3h0m-.2 .5h0m-1.5 1.8h0m-1.3 .7h0m-1 .1h0m-.2-3.7h0m-1.6 .8h0m-1.1 2.2h0m-.5-4.1h0m-.2 1.9h0m-.1 2.4h0m-.5 .6h0m-.1-3.6h0m-.4-.6h0m0 3.5h0m-.6-1.2h0m-.2 .4h0m-.4-.1h0m-.8 .8h0m0-.7h0m-.2-2.7h0m-.4 4.1h0m-.5 0h0m-.2-2.2h0m-.5-1.8h0m-.2-.7h0m-.2 3h0m-1.2-.8h0m-.2 .7h0m-.2-.2h0m-.5-2.6h0m-.2 4.1h0m-.4-2.2h0m-.1-.7h0m-.1 1.2h0m-.9-2.1h0m-.1 2.3h0m-.3 1.2h0m-.2 .1h0m-1.4 .2h0m-.4-2.4h0m-2.4-1.3h0m-.2 2.7h0m-.9-3.1h0m-.2 2.8h0m-.5-2.1h0m-.2 2.6h0m-.2-.8h0m-.9 1.8h0m-.5-4.1h0m-.1 1.2h0m-.6 1.6h0m-.1 1.6h0m-.2-2.9h0m-.2 1h0m-.1 .7h0m-.8-3h0m-.2 2.9h0m-.7-.9h0m-.2-.6h0m-.6 1h0m-.4 1.2h0m-.7-2.4h0m-.7 2h0m-.3-.1h0m-.7-1.7h0m-.5 .7h0m-.9-.7h0m-.5 1.6h0m-1.1-1.6h0m-.2-1.2h0m-2.2-.2h0m-1 .5h0m-1.4-.9h0m10.8 4.9h0m4.1 .4h0m.1-.1h0m1.8 .1h0m.4 .7h0m0 .2h0m.1-.7h0m.4-.2h0m0 .2h0m1.9 2.5h0m.4-2.7h0m2.6 1.7h0m1.6 0h0m2-.7h0m.1 1.5h0m1.1-.1h0m.3-1.5h0m.1 .6h0m.1-.3h0m.2 .5h0m2.2-.1h0m.4-.6h0m2 .2h0m.3 .4h0m.3-.1h0m0-1.8h0m0 1.6h0m2.8 0h0m.1 .2h0m.7-1.2h0m1.1 .3h0m2.1-1h0" stroke="#6b6b6b" stroke-width="2.40" stroke-linecap="round" fill="none"/>
<path d="M183.8 1299h0m-10.2-3.5h0m14.9 32.8h0m0 5.8h0m-80.8 3h0m-.6 4.8h0m-3.6 72.3h0m1.4 .6h0m2-.6h0m1.1-1.2h0m.3 1.6h0m1.3-1.5h0m1 .1h0m.2 .8h0m0-.2h0m1.9 0h0m.1-.2h0m.7-1.3h0m.8 1.2h0m.9 .4h0m2.7 .9h0m.7-.4h0m.2-.4h0m2.2 .8h0m6.1 3.5h0m-.9-.2h0m-.3-1.7h0m-.1 2.2h0m-1.3 .7h0m-.5-3.4h0m-.7 3.4h0m-.1-4h0m0 3.7h0m-.4-1.4h0m-.1-1.3h0m-.4-.5h0m-.2 2.9h0m-.1-2.4h0m-.1-.7h0m-1.2 2.3h0m-.1-1.7h0m-.8 0h0m-1.3 1.6h0m-.7 1.7h0m-1.2-1.2h0m0-.1h0m-.4 0h0m-1.4 1.4h0m-.6 .2h0m-.7-1h0m-.1-3.2h0m-.3 3.7h0m-.6-3.7h0m-1.4 1.8h0m-.6 1.4h0m-1.6-3.4h0m-1.3 1.3h0m-.1-.4h0m-.1 3h0m-1.1-3.3h0m-.5 2.1h0m-2.5-1.3h0m-14.7 .3h0m-7.2 2.8h0m-10.9 1.7h0m10.5-.8h0m2.9 1.8h0m9.3 1.9h0m.6-.2h0m.8-1.3h0m3.5 1.3h0m1.8-1.8h0m3.6-2.1h0m.1-.2h0m0 3.7h0m.1-.1h0m0-.9h0m.3 .8h0m.2-.9h0m1.2-2.8h0m.6 1.9h0m.4 .7h0m.5 1.2h0m.5-2.3h0m.6 3.4h0m.8-.6h0m1 .4h0m.1-3h0m.8-.6h0m1.3 2h0m1.1 1.5h0m0-2.5h0m.1 1.7h0m.5-1.8h0m.1 .2h0m.5 1.9h0m.9-2.5h0m.1-.2h0m.1 1.3h0m.4 .6h0m0-2.4h0m.2 .2h0m0 .4h0m1.7 2.5h0m.1-.2h0m.7 .7h0m.1 .4h0m.6-.8h0m.2-3.2h0m.4 1h0m.8 2.5h0m0-3.6h0m.2 3.9h0m1.7-.1h0m1.3-4.5h0m.3 3.6h0m.8-.7h0m.3-1.2h0m.8 .5h0m0-1.8h0m.1-.5h0m.1 4.6h0m.2 0h0m0-.4h0m.1 .5h0m.7-2.7h0m.9-1.5h0m2.5 7.7h0m-.3 .6h0m-.5-3.7h0m-.7 2.7h0m-.2 .1h0m-.6-2.1h0m-.3 3.4h0m0-3.4h0m-.1 .5h0m-.2-.9h0m-.3 2.1h0m-.5 2.3h0m-1.8-.7h0m-.5-2.7h0m-.2 2.5h0m-.2 0h0m-.6-3.1h0m-1-.5h0m-.5 1.8h0m-.3-1.6h0m-.1 .8h0m-.4 .4h0m-.1 2.5h0m-.8-1h0m-.2 1.7h0m-.3-2.9h0m-.1-.6h0m-1 2.5h0m-.2-2.6h0m-1 0h0m0 .3h0m-.3 1.5h0m-.1 1.5h0m-.2-1.2h0m-.2-1h0m-.6 1.1h0m0-1.2h0m-.1-.6h0m-.8 1.8h0m-.8 .6h0m-.3-3.8h0m-.9 1.3h0m-.4 1.5h0m-.2 1.8h0m-.1-4.9h0m-.1 4.3h0m-.5-2.4h0m-.2-.1h0m-.6-1.8h0m0 .5h0m-.3 2h0m-1.3 .2h0m-.4 1.5h0m-.2-.4h0m-.4-2.5h0m-.1-.1h0m-.6 2.8h0m-.6-3h0m-.2 2.6h0m-.2 .5h0m-.1-2h0m-.2 2h0m-.1-1.4h0m-.3-1.9h0m-1.1 3h0m-.4-1.2h0m-.3 1.7h0m-.7-4.1h0m-4.6 3.3h0m-9.6 1.3h0m-9.3-2.4h0m-11.6 1.9h0m5 2.1h0m25.9-.9h0m5.4 .1h0m.2-.2h0m1.7 3.1h0m.2-1.6h0m.4 2.8h0m1-.6h0m.1-.5h0m0-3.3h0m.3 .7h0m.2 1.2h0m.2 1.6h0m.1-.7h0m.1-2h0m.2 0h0m.5-.9h0m.7 4.1h0m.1-.9h0m.8 .1h0m1.2-1.2h0m.4 1h0m.7-2.5h0m.4 3.1h0m.1-.5h0m.3 1.3h0m.8-3.8h0m.5 2h0m.2-2.5h0m.4 .4h0m.1 4.1h0m0-3.4h0m.1 1.4h0m.3-1.4h0m.7 2.2h0m.3-.7h0m.2 .6h0m1.1-2.2h0m.6 2.6h0m.2-1.7h0m1.1-.8h0m.6 2.7h0m.2-1.3h0m.1 1.2h0m.2-1.2h0m.3-1.8h0m.8 0h0m1.2 3.7h0m.1-4.7h0m.1 4.1h0m.2-.7h0m0-.2h0m.6-.3h0m.2-.8h0m.2 1.3h0m.1 .3h0m.3-2.2h0m.6-1.5h0m.2 4.6h0m.1-.2h0m.6 .2h0m.4-1.4h0m.3-1.4h0m0 1.3h0m.2 .5h0m.9 .3h0m.6 .1h0m.6 .2h0m1.8 5.2h0m-1.1-2.8h0m-.2-.8h0m-.1 2.1h0m-.3 1.7h0m-.3-3.4h0m0 1.6h0m-.2-2.4h0m-.4 1h0m-.1 2.1h0m-.3-2.6h0m-.1 .8h0m-.3-.2h0m-1.1-.1h0m-.2-.7h0m-.4-.4h0m-.1 3.8h0m-.4-.7h0m-.2-.2h0m0 1.1h0m-.3-4.3h0m0 3.8h0m0 .4h0m-.4 .5h0m-.2-1.6h0m-.8 .7h0m-.1-2.1h0m-.2-1.2h0m-.3 1.6h0m-.5 1.2h0m-.2 .9h0m0 .2h0m-.1-.9h0m-.3-.1h0m-2.9-3.1h0m-.3 1.1h0m-.8 .9h0m-.5 .4h0m-.4-2.5h0m-.5 4.1h0m-.7-2.6h0m-.1 1h0m-.3-.3h0m0-1.7h0m-.2 1.6h0m-.3-1.4h0m-.2 1.6h0m-.3 1.4h0m-.2-2h0m-.8-.9h0m-.3 1.4h0m-.5 1.3h0m-.3-2.3h0m-.1 1.2h0m-.1 1.7h0m-.3-.7h0m-.5-.3h0m-.3-.9h0m-.7-1.3h0m-.1 .6h0m-.3 .4h0m-2.2 2.7h0m-.1-.6h0m-.4-.4h0m-.7-.9h0m-.1-.1h0m-.5-.2h0m-.3 1.6h0m-.6-3h0m.8 3.9h0m.9 .4h0m0-.2h0m0 3h0m1.2 0h0m0-.3h0m.7 .8h0m.3-.7h0m1-2.5h0m1 1h0m.5 .2h0m1 1.3h0m.1 .8h0m.6-.2h0m.6-1.5h0m.3 1.1h0m.4 .8h0m.3 .1h0m.1-3.3h0m.3 0h0m.3 3.2h0m.1-3.9h0m.3 .5h0m.4 .1h0m0-.8h0m.2 .9h0m.9 3.4h0m.3-4.4h0m0 .9h0m.2 4h0m0-4.4h0m1 2.1h0m.1-1.9h0m.1 3.8h0m0-.7h0m1.1-2.2h0m.3 2.1h0m.3-1.2h0m.8 1.8h0m.4-2.7h0m.3-.7h0m.5 1.8h0m.1-1h0m.8-1.5h0m.1 .3h0m0 2.8h0m.1-2.9h0m.2 2.3h0m.2 .8h0m.2-1.8h0m.5-.3h0m.5 .1h0m1.3 .3h0m.5-1.4h0m.5 1.9h0m1.1-1.4h0m.9 .5h0m.9 .1h0m0 3.4h0m.3-4.1h0m1 1h0m.1 .9h0m.3-2.1h0m.2 2.1h0m.2 1.2h0m.1 .9h0m-.8 1.9h0m-.1-1.7h0m-.1 2.4h0m-.8-.1h0m-.7-2.3h0m-1.1 .8h0m-.5 2.6h0m-.1 .1h0m-.7-3.4h0m-1.2-.1h0m0 .6h0m0 2h0m-.2-1.2h0m0 3.5h0m-.4-3.4h0m-1 .8h0m-.1-1.5h0m-.1 2.4h0m-.8-.9h0m-.1-.5h0m0-1.8h0m-1 3h0m-.1 .8h0m-.3-1.4h0m-.5 1.4h0m-1-2.4h0m-.3-.1h0m-1.7-.7h0m-.3 3.5h0m-1.2-2.7h0m-.5 .7h0m-.1-1.4h0m-.2 1.9h0m-1.2-.3h0m-.8-1.1h0m-.4 0h0m-.2 2.5h0m-.2-1.1h0m-3.1-1.6h0m-.5-.5h0m-.1 .4h0m-.6 1.3h0m-.3 .7h0m-1.1 .2h0m8.8 2h0m.8 .1h0m2 .1h0m1 .9h0m2.2-.2h0m.2 .2h0m.4 .7h0m2.4 0h0m.4-1.7h0m2.2-.1h0m.1 1.7h0m.2-.5h0m.6-1.3h0m.9 1.8h0m.7-1h0" stroke="#e3000f" stroke-width="2.40" stroke-linecap="round" fill="none"/>
<path d="M99.2 1421.3h0m31.6-1.3h0m-12.7 8.6h0m-2.9 .6h0m14.1 11.6h0m-9.4 11.5h0m1 .1h0m5.2 6.7h0m4.5 5.1h0m-17 5.1h0" stroke="#139b7a" stroke-width="2.40" stroke-linecap="round" fill="none"/>
<path d="M441.4 1294.3h0m17.8 1.1h0m-.3 .4h0m-.3 3.7h0m-.6-1h0m-.9 1.1h0m-.6-4.3h0m-.9 1.3h0m-3.3 1.8h0m-1.6-.3h0m-.9-.5h0m-1.7 1.2h0m-.5-2.6h0m-57.1 3.6h0m-.4 0h0m-1.1-.5h0m-1.1-.5h0m0-.1h0m-.4 .3h0m-1.4 .9h0m0-1.1h0m-1.1 1.1h0m-.4 0h0m0 .7h0m.4 2h0m.4-2h0m0-.5h0m.1 .5h0m1.1 3.1h0m.1-2.7h0m.6 .2h0m.1-1h0m1 1.7h0m.1 1.6h0m.6-1.9h0m.1-1.4h0m.5 1.3h0m.4 1.4h0m29.9 1.8h0m.7-2.2h0m.4 .2h0m.1 2h0m.7 0h0m.2-2.3h0m.6-.2h0m.6 .8h0m.2 .3h0m0-1.4h0m1.3 1.5h0m.7-.8h0m19.7 1.1h0m4.3 .5h0m18.4-2.4h0m2.8 1.9h0m.7 1.1h0m.1 0h0m.9-1.7h0m.2 .1h0m.6-.2h0m.7 .9h0m-20.7 1.2h0m-24.7 2.5h0m-.1-.7h0m-.1 2.1h0m-.1-.9h0m-.1-2.1h0m-.4 3.9h0m-1.5-4.6h0m-.3 2.1h0m-.1-.2h0m-.1 2.2h0m-.4-2.3h0m-.5-.8h0m-.2 2h0m-.5-1.5h0m-.7-1.1h0m-.1 2.9h0m-2.4-2.5h0m-.4-.3h0m-1.5 3.6h0m-.1-2.9h0m0-.6h0m-.2 2.1h0m-.8-3h0m-.2 2.4h0m-.8 .4h0m-2.5 1.8h0m-.1-1.5h0m-.3-.5h0m-.7 .9h0m-.3 .5h0m-35.3 5h0m1.3 .2h0m.8-.7h0m0 1h0m.8-.7h0m.2 1h0m.2-.9h0m.4 1h0m0-.3h0m31.8-1.2h0m3.4-1.5h0m.3 .1h0m.1-.4h0m0-.7h0m1.1 1.4h0m1 1.2h0m.1-2.9h0m.8 2h0m.4-2.3h0m.5 2.7h0m.2-2.3h0m.7 2.4h0m.2-2.8h0m.4 1h0m.8 2.7h0m.8 .3h0m.4-3h0m.1 3h0m.2-.2h0m.1-3h0m.7 3h0m.9-1.2h0m.1-.8h0m.3 1.7h0m1.1 .8h0m0-2.6h0m1.1-.6h0m0 1.2h0m.3 1.5h0m.2-1.8h0m1.2 .7h0m6.8 4.3h0m-1-.7h0m-2.7 .4h0m-2.7-1.9h0m0 2.6h0m-3.4 1.4h0m-1.8-3.3h0m-1.5 .2h0m-.1-.4h0m-10.9 .8h0m-30.9-.2h0m-.8 .6h0m-1.4-.1h0m-.9-1h0m-.4-.2h0m0 .9h0m-.1 .7h0m-.8-.1h0m-.5-.9h0m19.3 8.4h0m18.9-1.1h0m4.8 .8h0m.4 0h0m0-3.2h0m2.4 1h0m1.1 1.5h0m10.5-2.3h0m4.7 2.3h0m1.1-1.9h0m1.7-.7h0m.3 2.1h0m4.2 1.4h0m2.3-.3h0m.5 0h0m.4-.9h0m.8-.5h0m1.1 1.1h0m.8-1.1h0m1.3-1.2h0m0 1.5h0m.7 1.1h0m1.3-1.9h0m.3-1.4h0m1.4 2.7h0m2.9 .6h0m.5 .6h0m.6-.9h0m1.9 .1h0m.9 0h0m4.7 5.1h0m-.6-.6h0m-.5-1.7h0m-.9 2.1h0m-.4-2.8h0m-.1 3.6h0m-.6-.5h0m-.6-2.1h0m-.9-1.1h0m-.1-.9h0m-.6 3.7h0m-.7-.8h0m-.3-1.6h0m0-.9h0m-1.3 4.1h0m-.2 .4h0m0-1.8h0m-.4 1.8h0m-.4-3.8h0m-.1 1.2h0m-.1-1.1h0m-.2 3.5h0m0-3.2h0m-.3 2.9h0m-.9-.5h0m-.2-.8h0m-.4-.8h0m-.1 2.1h0m-.4 .1h0m-.7-1.6h0m0-1.7h0m-.4-.6h0m-.3 2.4h0m-.4 .6h0m-.1 1.1h0m-.4-.4h0m-.3-1.3h0m-.5-.4h0m-.1 1.2h0m-.9-3.3h0m-.5 1.1h0m-.3 2.5h0m-.1-.6h0m0-.7h0m-1.1 .4h0m0-1.3h0m-.2-.3h0m-.4-.5h0m-1.8 .6h0m-1.8 3.2h0m-1.1-4.2h0m-1.4 .3h0m-.1 1.4h0m-26.1 2.2h0m-4.9-1h0m-2.3-2.1h0m-7.5 1.7h0m-.1 1.4h0m-.2-.8h0m-.6 .1h0m-.4-1.2h0m-.3 .2h0m-.2 2h0m-2.6-.6h0m-1.6-.5h0m0 .1h0m0-3.6h0m-.8 .3h0m0 2.2h0m-.5-2h0m-.2-.1h0m-.7 1.8h0m-1.5-2.1h0m-.9 3.3h0m-.3 .6h0m-.5-3.2h0m-.3-.2h0m-.7 4h0m-1.2-.1h0m-.3-1.6h0m0-1.5h0m-.2 .4h0m-.1-.4h0m-3.7 2.5h0m-11.9-3h0m-.3 1.9h0m-.3-2h0m0 1.4h0m-.5 .5h0m-.2 1.7h0m-.7-2.4h0m-1.1 2.6h0m-.3-3.4h0m-.3-1h0m0 .3h0m-.3 1.5h0m-.5-.4h0m-.1-1.9h0m-.2 .6h0m-.1-.1h0m-.4 1.9h0m-.3 1.7h0m-.4-1.8h0m0 .7h0m-.3-1.9h0m-.4 .5h0m2.6 3.8h0m.2-.3h0m2.1 .2h0m5.5 4.3h0m.7-.5h0m1.6-.3h0m1-.6h0m.2 .7h0m.4 .5h0m1.5-.1h0m0-1.7h0m.4-.4h0m1.1 0h0m.7-1.7h0m.1 2.9h0m.1-2.1h0m.1 1.2h0m0 1.8h0m.9-3.4h0m.2 .8h0m.5 1.2h0m.1-.8h0m.1-.4h0m.5 1.9h0m.1-.1h0m.1-3.4h0m.1 .9h0m0 2.5h0m.1-3.5h0m1.1 4.3h0m.5-1.8h0m.4 1.5h0m.1-1.6h0m.9-.1h0m.5 1.4h0m0-.9h0m.1-.9h0m.3 1.4h0m1.7-.1h0m.6-.6h0m.7 .7h0m.7-.2h0m.9-.1h0m.7-.3h0m.2-1.7h0m1.6 .7h0m1.3 2.6h0m1-.8h0m.2 1.4h0m.1-.2h0m.3-1.3h0m.3-.4h0m.6 .9h0m.1-1.3h0m.4-.3h0m.3-1.1h0m.2 2.9h0m1.3-3.7h0m.2 1.1h0m.7 3.4h0m.2-.5h0m.1-2.1h0m10.7-2.2h0m17.9 3h0m4.3 .8h0m1.1-.3h0m.4 1.3h0m1-3.1h0m.3-1.6h0m.2 .4h0m1.2 3.3h0m.4-2.6h0m.8-.3h0m.8 3.6h0m.1-1.3h0m1.7-2.4h0m.3-.7h0m.3 3h0m.2-1.9h0m.9 2.2h0m.1-3.1h0m.1 2.7h0m.9-1.5h0m1.2 0h0m0 2.5h0m.7 .6h0m.1-.7h0m.1-1.5h0m.3-.3h0m.8-.2h0m0 2.4h0m.2-2.3h0m.3 .6h0m.5-.5h0m.1 2.3h0m.1-2.1h0m.2 1.7h0m0-2.5h0m.2-.4h0m.6 2.9h0m.5-4.1h0m.3 3.4h0m.7-1.9h0m0 .9h0m1.2 1.4h0m.8 0h0m0-1.2h0m.4-.2h0m.1-1.9h0m.1 2.8h0m.1 1h0m.2-.8h0m.3-2.2h0m1.5 2.1h0m.2-2.4h0m.1 1.1h0m.5-1.8h0m0 1.8h0m1.7 1.1h0m.1-2.3h0m.2 3.4h0m.8-1.7h0m.5 .6h0m.3-2.5h0m.9 1.8h0m.4-2h0m1.2 .3h0m.6 0h0m.5 1.5h0m-.8 3.9h0m-.6 1.2h0m-.5 .9h0m-1.1-.8h0m-.3 .8h0m-.2-1.7h0m-.2-.8h0m-.1 4.1h0m-.6-1.6h0m-.7 .5h0m-.2-3.5h0m-.2 4.4h0m-.2-3.1h0m0 2.4h0m-.3-1.9h0m-.9-1.7h0m-.5 4.1h0m-.2-4.4h0m-.6 2.1h0m0 1h0m-.4-2h0m-.2 1.4h0m-.2-2h0m-.1-.1h0m-.5-.3h0m-.9 2h0m-2.2 .7h0m-.3 1.5h0m-.5-2.1h0m0-.5h0m-.5 1h0m-.5-.3h0m-.4 1h0m-.6-1.5h0m-1.2 1.3h0m-.6 .9h0m-.2-1.1h0m-1.2-2h0m-.1-.8h0m-.7 .3h0m-1 .6h0m-.6 .6h0m-.3 1.3h0m0 1.4h0m-1.3-3.4h0m-2.3-.5h0m-.4 2.1h0m-.6-.4h0m-.3-.7h0m-.2 1h0m-.8 .1h0m-.2-1.7h0m-.3-.9h0m-.2 .6h0m-.2 1h0m-.5 1.4h0m-.1 .3h0m-.3-1.4h0m-1.3-1.5h0m-.3 3.5h0m-.3-1.9h0m-.4 .6h0m-.9 1.8h0m-3.5-3.3h0m-1.1 1.2h0m-6.7-.9h0m-.3 .6h0m-3.7-.6h0m-8 .4h0m-6.5-.6h0m-.1 .8h0m-.9 .1h0m-.6 2.7h0m-.6-.3h0m-1.6-.4h0m0-1.1h0m-.8 .5h0m-.8-.5h0m-.2 .2h0m-.2-.2h0m-.1-.2h0m-.2 .3h0m-.1-1h0m-.1 .4h0m-.3 1h0m-.6-3.6h0m-.5 .7h0m-1.3 1.7h0m-.4 1.9h0m0 .6h0m0-4.6h0m-1 3.3h0m-.6 0h0m-.2 1h0m0-3.8h0m-2.4-.2h0m-1.3 2.4h0m-.2 .4h0m-1.2-.3h0m-.2-.7h0m0 1.5h0m-.7-3.9h0m-.6 3.1h0m-.1-1.3h0m-.3-.7h0m-.7 2.3h0m-.4-.2h0m-.1-2.4h0m-.3 4h0m-.3-.6h0m-1.8-.2h0m-.9 .6h0m-.1-.9h0m-.2-3.1h0m-.4 3.6h0m-.7-3.8h0m-.3 1h0m-.1-.4h0m-.4 1.5h0m-2-1h0m-1.4 1.1h0m-1.1 5.6h0m.3 .9h0m.4-.3h0m.5-2.8h0m.5 2.5h0m.5 .3h0m.1 .1h0m.4-3.6h0m.8 4.2h0m1-.1h0m0 .5h0m.4-.3h0m1-2.2h0m.6 1.9h0m2.3 .5h0m.2-1.6h0m.3-2.5h0m.7 .8h0m.3 .7h0m.8 .6h0m.1 1h0m.1-3.1h0m.5 3.7h0m0-2.7h0m.3-1.7h0m.2 .1h0m.3 1.2h0m1.8-.9h0m.1 .8h0m.1 .4h0m.6 2.5h0m.3 .5h0m1.2-2.9h0m.8-.3h0m0 1.8h0m1.1 .4h0m.3-1.9h0m.1-.2h0m1 2.1h0m.2 .6h0m.7-4.2h0m.2 1h0m.7 1.6h0m.1-2.5h0m.5 2.2h0m2.6-.9h0m34.3-.7h0m.3 .5h0m1-.3h0m.2 3.9h0m.5-1h0m0 .7h0m.2-4.3h0m.3 3.9h0m.3-1.4h0m1.1-2.5h0m1.6 4.5h0m.2-.1h0m.5-2.3h0m.2 1.3h0m1 .1h0m0-1.9h0m.1-1.4h0m.3 1.7h0m.8-.3h0m1.9-.6h0m.4 3.7h0m.2-.3h0m1.9 .1h0m.3-.3h0m.2-2.2h0m1.1-1.2h0m.8 2.4h0m1-2.5h0m.3 3.2h0m.5 .2h0m.5 .6h0m.3-3.4h0m.1-1.4h0m.2 1.2h0m.1 2.1h0m1.4-1.5h0m.3-1.7h0m0 1h0m.5 2.2h0m0 1.2h0m.6-3.2h0m.7 2.2h0m0-1.3h0m.2-1.1h0m.7-.6h0m.9 0h0m.1 .2h0m.4 .5h0m1.1-.9h0m0 4h0m.4-4h0m.1 1.3h0m.6-.2h0m.1-.9h0m.2 4h0m.4-4.4h0m.1 3h0m.1 .9h0m.2-3.3h0m1.5-.4h0m-4.3 6.3h0m-.5 0h0m-.4 3.2h0m-.2-.5h0m-.1-1h0m-.2-.7h0m-.8-2.5h0m-.5 1.8h0m-.2 2.6h0m-.6-4h0m-.3 .1h0m-1.6-.2h0m-.4 .2h0m-.1 3.6h0m-1.2-1.9h0m-.3 1.3h0m0-3h0m-1.3 0h0m-1.4 2h0m-1.4-2.7h0m-1.8 3.5h0m-.5-1.6h0m-.4-.1h0m-.3-1.2h0m0 .9h0m-2.6-.6h0m-.1 .6h0m-2.7 1.7h0m-.3-.4h0m-.3-2h0m-.1 3h0m0-2.3h0m-1.3-.3h0m-44.2-1h0m-2.2 .3h0m-.1 0h0m-.1 .2h0m-1.9 .4h0m-.8 1.6h0m-.1-1.3h0m-1.6 3.1h0m-1.3-1h0m-1-.8h0m-.1-2h0m-.1 2.1h0m-.6-1.9h0m-.4-.4h0m0-.1h0m-1.2 .6h0m-.9 2.9h0m0-1.7h0m-.3-2.1h0m-.1 1.2h0m-.4 2.3h0m-.2-.4h0m-.5-1.2h0m-.3 2.7h0m-.3-.3h0m-.5-4.4h0m-.4 1h0m-.3 .1h0m-1.5 2.6h0m0-2.4h0m1.3 4.6h0m.3-.7h0m1.5-.1h0m2.7 2.1h0m.9 1.3h0m2-1.9h0m.4-1.4h0m56.6 0h0m.5 .2h0m2.1-.3h0m4.4 1.1h0m2.1 .2h0m4.2-.3h0m.2 0h0m1.9-.6h0m-77.6 59.3h0m-3.1 0h0m-9.7-.6h0m-1 0h0m-1.9 0h0m-22 5.1h0m.5-.4h0m0 .8h0m3.9-2.1h0m1.5 .4h0m1.2 .4h0m.2 1h0m1-.2h0m.2-.1h0m.5-1.7h0m.8 .5h0m2-1.1h0m.4 0h0m1.4 .4h0m1.8-2.2h0m.5 1.1h0m.7 3.2h0m.7 .2h0m.9 .2h0m.3-2.3h0m2.1 1.2h0m.2-2.9h0m.3-.4h0m1 .7h0m.1-.5h0m.2 3.9h0m1.2-3.7h0m.5 4.2h0m1.1-.5h0m2.5-1.8h0m1.1-1.7h0m1.1 2.5h0m.3-2.3h0m.4 3.1h0m.3-1.1h0m0-1.6h0m.4 .4h0m1-.8h0m1.5-.6h0m.3 4.1h0m.5-2.7h0m.9-.8h0m0 1.9h0m.3 .6h0m.7-2.2h0m.1 .8h0m.6 2.5h0m1-3.5h0m.1 2.4h0m.3-2.7h0m.6 .7h0m.7 2.3h0m.1 .5h0m.4-2.6h0m1.1 .8h0m1.9-.3h0m.5-.6h0m3.5 1.2h0m1.1-.2h0m3.5 .6h0m2.5-.3h0m0-.9h0m.6 1h0m1.3-.2h0m1.3 1.1h0m.3 .7h0m1.5-1.6h0m.3 .2h0m3.1 .9h0m.4 .3h0m2-.6h0m2.6-.1h0m.8 .8h0m.9-.9h0m.6 0h0m.1 .5h0m4.8-.2h0m.9-.1h0m.2-1h0m.1 .3h0m2.9-.8h0m4 1.1h0m.9 4.3h0m-.2 1.4h0m-.9-.6h0m-.9 .6h0m-1.2-3.2h0m-.3 2.5h0m-.2-3.2h0m-1.3 2.5h0m-.1-2.3h0m0 2.7h0m-.1-.6h0m-.5 .5h0m-.4 .9h0m-1.6-2.2h0m-.6-.7h0m-.1 1.9h0m-.1-1h0m-.6-.2h0m-.9 2.8h0m-.1-2.1h0m-.3 .1h0m-.2 2.3h0m-.1-.8h0m-.2-3.3h0m-.3-.6h0m-1.8 3.1h0m-.5 .3h0m-.5-3.6h0m-.8 1.5h0m-.5-.4h0m-.3-1h0m-.5 4.4h0m-.1-2h0m-1.1 .7h0m-1 .8h0m-2.2-3.6h0m-.1 4.1h0m-.3-2.8h0m-1.2 .9h0m-2.6-1.5h0m-.1 2.4h0m-1-1.9h0m-.6-1.4h0m-.3 1.1h0m-.8-.4h0m-.7 2.9h0m-1.6-2h0m-.5-1.6h0m-.9 4.7h0m-.2-2.6h0m-.7-.5h0m-.2 2.1h0m-.9 .1h0m-2.6-1.2h0m-.8-1.8h0m-1 2.7h0m-.3 .1h0m-1.2 1.1h0m-.3-1.5h0m-.4-3.1h0m-.4 1.4h0m-1.2 2.2h0m-.3-1.9h0m-.8-.8h0m-1.1 3.3h0m-.8 0h0m-2.2-1.2h0m0-2h0m-.8 1.2h0m0 2h0m-2.1 .4h0m-.3-4h0m0-.6h0m-.1 .2h0m-1.8 1.3h0m-.2-1.8h0m-.1 3.7h0m-.4-3.1h0m-.4 2.6h0m-1.2 .2h0m-2.3-.8h0m-.1-2.5h0m-1.5 4.8h0m-.2-3h0m-.6-1.4h0m0 1.8h0m-.2 .3h0m-.2 1.8h0m0-4.4h0m0 2.5h0m-.7-2.2h0m-.3 1.2h0m-.5 2.6h0m-.2-3.6h0m-.3 2.1h0m0-1.1h0m-.2 1.4h0m-2 .9h0m-.5-1.1h0m-2.1 1h0m-.3-.8h0m0-1.5h0m-.2 2.4h0m-.6 0h0m-1-3.4h0m-.9 2.1h0m-.5 .9h0m-.1-2.6h0m-.1 3.3h0m-.5 .4h0m-.5-4h0m-.4 .7h0m-.3 1.5h0m-.2 1.8h0m-.4-1.9h0m-1.1-.6h0m0 1.2h0m-.2 1.4h0m-.6-2.7h0m-.3 1.1h0m-.5-1.1h0m-.3 .9h0m-.3-1.2h0m-.6-.1h0m-.2-1h0m-1.1 1.5h0m-.2 2.6h0m0-2.3h0m-.8-.6h0m-.4-.7h0m-1 .3h0m-.4 1.8h0m-.8 1.8h0m-.6-1.9h0m-.1 1.3h0m-4.5-2.1h0m0 2.4h0m-.5-3.7h0m0 3.4h0m-1-.4h0m-.8-3.3h0m-.7 2.7h0m-2.6 5h0m.1-1.1h0m.7 2.4h0m.6-.6h0m.7 .8h0m.2-3.6h0m.1 .5h0m.3 2.2h0m.5-1h0m.1-2.7h0m1 4.7h0m.3-1.7h0m.5-2.9h0m.4 4.3h0m.3-2.7h0m.1-1.2h0m.8 .8h0m.3-.6h0m.1 2.8h0m.4-2h0m.8-.7h0m.9 3.7h0m.9-.6h0m.3-1.2h0m.7-2.9h0m.5 2.6h0m.1 2.3h0m.1-3.9h0m.3 2.6h0m.5 .8h0m.1-2.3h0m.2 .5h0m.8-2.5h0m.7 .5h0m2 4.2h0m.1-3h0m.2 .2h0m.3 2.7h0m2.3 .1h0m.2-4.2h0m0 4.2h0m.1-3h0m2-1.4h0m.1 2.2h0m.7-.2h0m.1 1.2h0m1.1-3.4h0m.6 3.8h0m.8-2h0m.5-.4h0m.2 2.5h0m.2-3.9h0m.2 2.1h0m.4 2.5h0m.8-.7h0m.1-.8h0m.7-.9h0m.4 .8h0m.7-.6h0m.2 2h0m.1-1.8h0m1.6 1.1h0m.7-1h0m.9 .9h0m.6-2.6h0m.2 3.3h0m.4-2.2h0m.4-.7h0m.8-.2h0m.3 2.5h0m1.4 .7h0m.2 .2h0m.5-2.5h0m.5 2.1h0m0 .5h0m.7-1.7h0m.2-.4h0m1.8-.4h0m.8-1.3h0m.3-.2h0m1.7 1.9h0m.1-.6h0m.1 .7h0m.9 .6h0m.2-2.3h0m.8 1.7h0m.1-.8h0m.1 .1h0m.1 0h0m.7 1.7h0m.5-3.8h0m2.3 .3h0m.5 3h0m.5-2.5h0m.5 .6h0m2.2 .1h0m.3 3h0m.2-1.7h0m1.1-.3h0m1.3 1h0m.3-1.2h0m1.8 .8h0m1.2-3h0m0 4.4h0m.1-.1h0m1 .3h0m1.1-4.8h0m0 .7h0m1.2 .8h0m.1 3.2h0m.1-.6h0m2.1-2.7h0m0 .1h0m.3 1.2h0m.7 .7h0m.9 .7h0m0-.5h0m.7 .2h0m.3-1.3h0m.2-1.1h0m.3-.5h0m0 2.1h0m.1-.8h0m.2-1h0m.8 2.6h0m.4-1.7h0m0 .3h0m1.2-.2h0m.5 .3h0m.2 2.1h0m.4 0h0m1.8-.2h0m0-4h0m.3 4.4h0m1.2-.1h0m0-2.6h0m1.4-1h0m1 2.8h0m.3 1h0m.3-.6h0m1.4-.3h0m.7-1.1h0m.1-.5h0m.3 .1h0m1.5 .1h0m.9-.3h0m.1 2.2h0m.3-4.4h0m.4 1.9h0m1.5-1.5h0m2.5-.4h0m.2 1.8h0m1.9-.9h0m.4 2.2h0m.4 1.3h0m-1.4 2h0m-.1 .9h0m0-1.4h0m-.1 2.6h0m-.5-.1h0m-.1-1.1h0m-.3-2h0m-.1 4.2h0m-.6-2.9h0m-.4 .7h0m-.2 1.9h0m-.2-.6h0m-.6-1.3h0m-.3 1.8h0m-.1-1h0m-.9-.5h0m-1.1-1h0m-.5 2.9h0m-.1-1.3h0m-.1-2.3h0m-1.5 .2h0m0 .2h0m-.2 0h0m-.5 .5h0m-1.2 1.3h0m-.5-1.2h0m-.3-1.9h0m-1.1 4.3h0m-.3-2.8h0m-1.3-1.3h0m-.2 1.9h0m-.2 1.3h0m-1 .5h0m-1.4-3.5h0m-1.4 2.7h0m-.3-1.3h0m-1.9 .1h0m-.6-1.1h0m-.8 .8h0m-.5-.4h0m-1.3-1.2h0m-.2 3.7h0m-.4-.1h0m-.2-2h0m-1.3 1.6h0m-.6 1.4h0m-.2-2.9h0m-.1 2h0m-1.6 .3h0m-.7 .5h0m-.9 .1h0m-.9-1.8h0m-.5 2h0m-.2-2.2h0m-.5 1h0m-.1 .5h0m-.3-2.5h0m-.5 2.8h0m-.6-.6h0m-.8-1.6h0m-.1 2.5h0m-.1-.4h0m-.4-3.7h0m-1 .4h0m-.4 1.1h0m-1.2 .5h0m0-1.3h0m-.9 2.6h0m-1.9-.6h0m-.3-2.4h0m-.1 2.4h0m-.3 .7h0m-.5-3.2h0m-.3-.1h0m-1.2 2.8h0m0-2.3h0m-.1-1.1h0m-.5 .7h0m-.7 .2h0m-.1 3.1h0m-1.2-1.7h0m-1.6 1.5h0m-.3-1.8h0m0-1.6h0m-.1 2.6h0m-.4-1.3h0m-.9 1.6h0m-.4 .6h0m-1-.1h0m-.6-1.1h0m-.7-2.7h0m-.4 .9h0m-.8 .2h0m-.1-.7h0m-.4 1.2h0m-.5 2.9h0m-.2 .2h0m0-4.2h0m-.9 2.4h0m-1.8-2.1h0m-.1 2.1h0m-2.8-2.5h0m-.1-.6h0m-3.1 1.8h0m-.5 .5h0m0 1.2h0m-.8-1.4h0m-.5-1.9h0m-1.7 3.8h0m-1.4-.8h0m-.7-.1h0m-1.4-.8h0m-.6 2.2h0m-.2-2.6h0m0-1.2h0m-1.1-.2h0m-.4 2.6h0m-.5 0h0m-.5-1.5h0m-.6 3h0m0-4.2h0m-.1 .4h0m-.6-.8h0m-.3 .4h0m-2 4.2h0m0-.5h0m-.1-1.1h0m0-1.5h0m-.6 1.6h0m-.4-2.3h0m-.6-.2h0m-2.6 2.6h0m-1.1-1.1h0m-.5-.6h0m-.6 .9h0m-.2-.4h0m-.4-.2h0m-.1-1.6h0m-.7-.2h0m-.2 1.1h0m-1.5-.6h0m-.9 1.1h0m0-.4h0m-.3 2.9h0m-.1-2.1h0m-.5-1.4h0m-.4 3.3h0m-.5-2.7h0m-.1 1.9h0m-.2-2.3h0m-.2 1.9h0m-.4-1.1h0m-.1-1.2h0m-1.8 2.6h0m-.1-1.6h0m-.6 2.1h0m-.2-1h0m-.8 1.4h0m-.3 .6h0m.3 1.6h0m1.3 .4h0m0 2.5h0m.5-3.2h0m1.1 3.9h0m.7-1.7h0m.7-.8h0m1.3 1.3h0m1.4-1.8h0m.1 .4h0m2.6 1.3h0m.1 .2h0m.1-3h0m0-.2h0m2.7 .1h0m1.7 2.7h0m.2 1h0m1.4-2.1h0m.1 .4h0m.4 1.2h0m1-1.8h0m.5-1.3h0m1 3.6h0m1.9-.7h0m.2-.7h0m.2-2.6h0m2 1.7h0m.1 .1h0m.4-.6h0m0 3.1h0m0-2.5h0m0 2.3h0m.4-3.4h0m.4-.7h0m.2 1.9h0m1 .7h0m.2-1.1h0m.3 0h0m.4-1.3h0m.7 4.1h0m.4-3.6h0m.3 2.7h0m.5 .1h0m.1-2.5h0m.5 .2h0m1 2.1h0m.6-.6h0m1-1.4h0m2.9 .4h0m1.3-1.8h0m.3 3.1h0m1.3-.1h0m.8-2.5h0m.3 4.1h0m.4-3.4h0m1.7 0h0m1.3-.3h0m.8 1.7h0m1.7-1.3h0m1.7 1.2h0m1.2-.3h0m.8-1.6h0m.7 3.8h0m.3-2.9h0m3 1.2h0m.4 .6h0m.5 .4h0m2-2.4h0m0 3.5h0m1.4-4.9h0m1.1 1.1h0m.6 .1h0m.6 1.9h0m.1 .8h0m.5-.8h0m.8 1.1h0m2.5-1.7h0m.4-2.4h0m.9 3.5h0m.3-1h0m1.7 1.8h0m0-1.1h0m.1-1.3h0m1.3 .7h0m.9 .6h0m1-2.5h0m0 2.7h0m.1 .3h0m.2-1.3h0m.3 1.5h0m.8-3.7h0m.3 2.7h0m.4-.4h0m.8-.6h0m.2-1.3h0m1.5 3.5h0m.3-.3h0m.1 .2h0m.7-2.9h0m.4 .1h0m.9 1.4h0m.7 1h0m.7 .4h0m0-.3h0m0 1.1h0m.1-4h0m.2 1.5h0m.3 1.8h0m.1-1.8h0m1.4-1.5h0m.1 .5h0m.5-.8h0m1.4 4.2h0m.6-4.3h0m.1-.2h0m0 4.1h0m.8-.6h0m.2-1.1h0m.1 2h0m.4-.2h0m.9-.1h0m1.3-3h0m.5 .4h0m.4-.1h0m.3 .7h0m.9 .3h0m.6 1.9h0m.6-2h0m.1-.2h0m.4-1.5h0m-1.3 7h0m-.4 2h0m-.4-3.4h0m-.7 1.5h0m-.4-.7h0m-1 1.5h0m0-3.8h0m-1.1 4.3h0m-.4-3.8h0m-1.3 2.4h0m-1.2 1.5h0m-.1-1.7h0m-.2-.9h0m-.1-1.3h0m-.1 .2h0m-.2 3.1h0m-2.4-.1h0m-.2-2.1h0m-1.4 3.3h0m-.8-4.6h0m-.6 3.7h0m-.1-.8h0m-.8-.1h0m-1 1h0m-.7-2.8h0m-.8 .3h0m-.1-.5h0m-.3 1.3h0m-.5-1.5h0m-.2 .7h0m0 2.2h0m-.3 .8h0m-.1-4h0m0 0h0m-.3 1.7h0m-.2 1.5h0m-.1-.1h0m-.1-3.1h0m-.3 2.8h0m-.2-.9h0m-1.3-.2h0m-.2 .1h0m-1.7 .7h0m-.3-1.9h0m-1.9 .3h0m-.1 3.3h0m0-4.4h0m-.8 2.7h0m-.3-1.7h0m-.4 1h0m-.8-2.1h0m-.3 4.6h0m-.4-3.8h0m-.2 2.6h0m-.5-2.5h0m-.1-.8h0m-2.5 2.7h0m-.2 .8h0m-.2-3h0m-.7 .5h0m-.2 .3h0m-.7 1h0m-.6-2h0m-.4 1.2h0m-.8-1.3h0m-1.4-.3h0m-.2 .1h0m-1.3 4.2h0m-.1 .3h0m-.1-2.5h0m-.5-.3h0m0 2.1h0m-.6-1.2h0m-.3-1.3h0m-.2 2.8h0m-1-1.1h0m-.2-2.5h0m-.5-.9h0m-1.3 .2h0m-.3 .1h0m-.6 4.6h0m-.6-.2h0m-.7-1.6h0m-.5-.3h0m-.9-1.2h0m-1 .2h0m-1.7 2.9h0m-.7-2.1h0m-.4-.3h0m-.2-.5h0m-.1 2.5h0m-2.2-.9h0m-.7 .3h0m-.1-2.9h0m-1.3 1.8h0m-1.3-2.6h0m-1.4 0h0m-.1 2.1h0m-.2 1.7h0m-.2-1.4h0m-.2 1.2h0m-1.2-1.6h0m-1.5-.6h0m-.2 1h0m-.2 .6h0m-1-.8h0m-.3 .6h0m-1.1 .7h0m-.4-2.2h0m-.5-1.2h0m-2.1 4.7h0m-.5-2.6h0m-1.5-1.9h0m-.2-.1h0m0 3h0m-.5 .5h0m-1.7-.1h0m-.5-1.2h0m-4.3 1.9h0m-1.1 0h0m-.1-1.1h0m-.6-2.8h0m-.3 2.8h0m0 .8h0m-.1-.5h0m-.4-1.3h0m-.5-1.2h0m-.2 1h0m-1.5-2h0m-.3 1.8h0m-1-1.3h0m-.1 1.2h0m-1.4 2.4h0m-.4-2.3h0m-.1 1.7h0m-.1 .7h0m-.1-.2h0m-.5-2.8h0m-.6 .4h0m-1.3 .6h0m0-1h0m-.4 1.3h0m-.5 .2h0m-.4-.6h0m2.4 3.2h0m.4 .3h0m0 .1h0m.3 4.2h0m1.4-4.4h0m2.5 2.8h0m.3-.3h0m.4-2.8h0m1.8 4.5h0m.6-1.8h0m.1 .8h0m.1-.9h0m.2-2.5h0m.5 4.1h0m.2-4.4h0m.2 1.1h0m.3 0h0m.1 1.8h0m.2-1.9h0m.7 1.7h0m1.9-.1h0m.1 .7h0m1.4-2.3h0m1.6 3.6h0m.2-4.4h0m0 2.2h0m.8-1.7h0m1.7-.2h0m.2-.2h0m1.3 .3h0m.1 1h0m.1-1.5h0m2.6-.1h0m2 3.2h0m.2 1.1h0m.7 .4h0m.4-4.1h0m.7 .3h0m.3 .3h0m1.4 2.3h0m.1-3.5h0m.4 1.5h0m.6 .6h0m.2-1.7h0m.3 3.2h0m.8-1h0m.1-.3h0m.3 1.2h0m.6-2.1h0m.1 1.6h0m.9 .3h0m.2 0h0m2-1.2h0m.9 2.2h0m.1-.5h0m2.8 1.1h0m0-2.1h0m1.5 0h0m.3 1.6h0m1-.6h0m.1-.5h0m.4 0h0m1.1-.8h0m.2-1.3h0m0 .6h0m.5-1.1h0m.2 1.8h0m.2 1.5h0m.6-1.9h0m.4-.5h0m1.5-1h0m.1 1.1h0m.1-.6h0m.2 .3h0m1.4-.8h0m1.7 .9h0m.7 2.1h0m.5 .1h0m.3-2.4h0m.4 3.4h0m1.3-2.2h0m.8 2h0m1.2-4.2h0m.5 1.4h0m.2 .3h0m3.4-1.7h0m.4 4.3h0m.5-4.5h0m.5 .5h0m1.5 1.5h0m.4 .3h0m.2 1.1h0m.3-2h0m1 .1h0m.5 1.7h0m1.4 .6h0m.6-1.7h0m.4 1.7h0m.9-.7h0m1.8-1.2h0m1 .8h0m.1 .4h0m.3-2h0m2 .5h0m1.6-.7h0m0 1.4h0m.4-.4h0m.5 1.2h0m.7-.6h0m.3-.8h0m.6 2.5h0m.2-2.7h0m0 2.7h0m.1-3.6h0m.4 .5h0m.6-.9h0m.5 2.7h0m.5 0h0m.5-2.9h0m.5 4.8h0m.9-2.7h0m.4-.1h0m1.1 3h0m-.5 .3h0m-.1 .1h0m-1.5-.4h0m-.2 3.5h0m-.8-2.5h0m-.2 3.7h0m-.2 0h0m-.6-.2h0m-.4-1.3h0m-.6 0h0m-.4 1.2h0m-.6-.7h0m0 .6h0m-.4 .4h0m-.4-4.3h0m-.2 1.6h0m-.9 2.8h0m-.3-2.3h0m-1.4 1.6h0m-.4 .7h0m-.1-.7h0m-2.3-1.4h0m-.3 .2h0m-1.2-1.3h0m-.3 .4h0m-.6 1.7h0m-.2-1.6h0m-.4-.7h0m-2.4 1.8h0m-1.3-1.5h0m-.1-.5h0m-.2 2h0m-.1 1.3h0m-1-2.1h0m-.2-1.1h0m-1.3 1.9h0m-.7 .6h0m-.1-.8h0m-.1-2.3h0m-.9 1.2h0m-.2 1.8h0m0 .7h0m-.5-1.9h0m-.7 1.5h0m-.7-1.8h0m-.4-.8h0m-.2 1.5h0m-.7-1.1h0m-.4-1.7h0m-.6-.2h0m-.5 4.9h0m-.3-.3h0m-1.1-2.2h0m-.4-.6h0m-.8 2.8h0m-.4-3.6h0m-1.5 .5h0m-.1 2.3h0m-.5-3.1h0m-.9 2.4h0m-.6 .2h0m0 .3h0m-1.6 .5h0m-.3-1.5h0m-.2 1.2h0m-1.3-.3h0m-.3 1.2h0m-.5-1.6h0m-.5-2.6h0m-.3 0h0m-.2 2.6h0m-.3-.3h0m-.6-2.8h0m-.3 4h0m-.5-1.9h0m-.2-2.1h0m-.6 1h0m-.1 2.3h0m-.3-2.5h0m-1.8-.1h0m-.4 .1h0m-.8 3.6h0m-.6-2.8h0m0 1.8h0m-.4-2.6h0m-.9 1.4h0m-.6-.4h0m0-.8h0m-.1-.7h0m-.9 2.8h0m-.2-.1h0m-.6-2.8h0m-.9 0h0m-.2 4.4h0m0-4.1h0m-.9 2.5h0m-.3-1.9h0m0 3.7h0m0-1.1h0m-.1-1.1h0m-.5 .3h0m-1-1.6h0m0-.3h0m-.6 1.5h0m-.1-2.4h0m-.3 2.2h0m0 1.7h0m-.3-2.8h0m-2.1 .8h0m-.4 2.7h0m-.7-4.6h0m-.1 .1h0m0 .4h0m-.2 1.7h0m0 1.1h0m-.9 0h0m-1.1-1.5h0m-.6 2.3h0m-.1-2.9h0m-1.2 1.4h0m-1.7-1.4h0m-1.2 3.1h0m-1.2-1.8h0m-.9 1.6h0m-.2-1.8h0m-.9 2h0m-.1 .4h0m-.8-.6h0m-.4-3.9h0m-.6 2.4h0m-.4 .8h0m-1-3h0m-.3 2.4h0m-.8-1.8h0m-1.1 .6h0m-.2 1.5h0m-2.9 .1h0m-.4-3h0m0 4.5h0m-.4-3.6h0m-.2 .9h0m-1.9 .9h0m-.1-.4h0m.6 3.1h0m.8-.1h0m.3 1.3h0m.5-1.3h0m1.4 2.2h0m1.2 1h0m.1-3.1h0m.2 3.3h0m.8-1.2h0m.4-1.8h0m.1 3.3h0m.2-.9h0m.1 .9h0m.4-4.3h0m1.3 .3h0m.3-.1h0m.1 .6h0m.6 1.3h0m.4 .9h0m.8-1.2h0m0-1.4h0m1.4-.2h0m0 1.4h0m.2-.4h0m.6 3.6h0m.1-2.1h0m.3 .8h0m2.1 1.1h0m0-.2h0m.4-1.7h0m1.9-.5h0m.6-2.2h0m1.3 2.3h0m.3 1h0m0-.1h0m.3-3.2h0m.2 2.8h0m.1 1.2h0m.2-3.7h0m.6 .3h0m.8 4h0m1.5-4.5h0m.3 3.2h0m.2-1.3h0m.3-1.9h0m.6-.1h0m.4 3.3h0m.2 1.5h0m0-1.6h0m.6-1h0m1.7 .3h0m.2 0h0m.4-1.2h0m.8 3.4h0m0-3h0m1.3-.6h0m.1 .5h0m.7-.8h0m0 3.4h0m.6-1.9h0m.4-.5h0m.2-.8h0m1.7-.1h0m.1 .6h0m1 .6h0m.9 2.5h0m1.6-4.3h0m.5 1.9h0m.2 .8h0m.9 .6h0m1.1-1.9h0m.5 2h0m0-.2h0m1.2 .7h0m.6-4.1h0m.8 1h0m.6 1.9h0m.6 1.2h0m.3-1.5h0m.1-1.4h0m.4 2h0m1.3-.3h0m1 1.5h0m.2-4.2h0m.2 3.8h0m.3-.7h0m.4-2.4h0m1 1.5h0m.1-.6h0m.3 .1h0m.4 2.7h0m.9-2.8h0m.2 .4h0m.7 1.4h0m.2 1.1h0m.7-1h0m.1-1.4h0m1.3 1.5h0m.4-.6h0m.7-2.2h0m1-.3h0m.1 .7h0m.1 1.4h0m1.8 .1h0m.6 .5h0m1.7-3h0m0 4.1h0m.4-2.4h0m1.2 2.7h0m.3-1.8h0m.1 .3h0m.3-1.6h0m.1-1.5h0m.2 3.2h0m.6 0h0m1-2.8h0m.6 .9h0m.1-.8h0m.7-.4h0m1.4 1.1h0m.2-.8h0m.2 1.5h0m0-1.4h0m.7-.7h0m0 1.9h0m.4 2.6h0m.3 .3h0m.5-4.2h0m.1 3.9h0m.1 .3h0m.6-2.1h0m1.2 1.9h0m.7 0h0m.5-4.6h0m.9 1.5h0m.2 1.1h0m.9-.8h0m.1-.3h0m.3 1.3h0m.2-1.1h0m.2-1.4h0m.3 4.1h0m1.5-2.3h0m-.3 7.6h0m-.1-4.8h0m-1.3 2.6h0m-.4-.8h0m0 1.8h0m-.4-1.3h0m-.6 .8h0m-.1-2.5h0m0 2.2h0m0-1.4h0m-.1 1.3h0m-.1-2.4h0m-2.8 0h0m-1.4 3.6h0m-1.7-3.7h0m-.1 1.8h0m-.9 2.4h0m-.6-4h0m-.3 3.4h0m-1.1 .5h0m-1.3 0h0m-.3-2.1h0m-.8 2.7h0m-.7-3.2h0m-.8 2.1h0m-.2-2.5h0m-.2 0h0m-.4 1.5h0m-.3-1.5h0m-.7-.6h0m-.1-.4h0m0 1.5h0m-.2-.3h0m-1 1.4h0m-.2 1.5h0m-.8-3.5h0m-.2 1.2h0m-.8-1.7h0m-.1 3.7h0m-.1-.2h0m-.2-3.7h0m-.2 4.4h0m-.5-2h0m-.6 2.2h0m0-2.8h0m-.5 1h0m-4.4-2.2h0m-.2 1.2h0m-.8 2.4h0m-.4-.4h0m-.2-3.1h0m-.3 3.7h0m-.1-2.2h0m0-1.6h0m-.2 .4h0m-.4 1.3h0m-.2 2.1h0m-.6-1.7h0m-.4-2.6h0m-1 3.5h0m-2.1-1.3h0m-.2-2.2h0m-.7-.1h0m-.1 4.5h0m0-.4h0m-.1-.9h0m-1 .5h0m-.3-1.2h0m-2.2-2.3h0m-1.4 .8h0m-1-1.2h0m-.7 4.9h0m-1.2-2.3h0m-.1 1h0m-1-3.6h0m-.3 4.9h0m-.1-2.1h0m-.2-.5h0m-.1-1.8h0m-.7 2.3h0m-.1 .3h0m-1.3-2h0m-.6 3.6h0m-.6-.2h0m-.2-2.9h0m-.2-.8h0m0 2.9h0m-1.4-1.2h0m-.5 2.2h0m-.2-1.4h0m-.3-1.1h0m-.5 0h0m-.1-1.3h0m-.4 3.4h0m-1.8-.7h0m-.2-3.2h0m-.4 .7h0m-.1 .4h0m-.6 3h0m-.3-4.5h0m-.3 .3h0m-.3 4.2h0m-.9-3.7h0m-.1 2h0m-.3-.9h0m-.7-.3h0m-.2 .1h0m-.4 1.9h0m-.1-2.9h0m-1.5 .8h0m-.1-1.1h0m-.3 4h0m-.8 0h0m-1.9-.2h0m-.4-2.1h0m-.6 1.1h0m-1-1h0m-.6 .1h0m-1.2-1.4h0m-.8 .3h0m0 .5h0m-.2-.4h0m-3 0h0m-.2 3h0m-.2-1.2h0m-.8 .3h0m-1.1 .2h0m-.1-1.5h0m-.4 .3h0m2.1 3.7h0m1.6 2.6h0m0-2.6h0m1.5 .3h0m2.6-1.2h0m.6 2.7h0m.2-.2h0m.3 .4h0m0-1.4h0m.6 2.2h0m.9-3.4h0m1.6-.5h0m0 1.9h0m.3 2.7h0m.9-.3h0m.1-3.1h0m1 3.3h0m.9-1.6h0m.4 1.5h0m.4-2.3h0m.3 1.9h0m.1-.3h0m0-.1h0m.3-.8h0m.1-1h0m.5 3h0m.3-.9h0m.1-.6h0m0 .9h0m.6-2.3h0m1.1-.4h0m.4 .3h0m.2 .6h0m.4-1.7h0m.1 1.2h0m.4 .5h0m1.4 2h0m1.8 .4h0m.1-1.7h0m.7 0h0m.3-1.4h0m.7 1.7h0m0-1.8h0m.4-.1h0m0 2h0m.2-1.8h0m.2 2.4h0m.4-3.1h0m1.7 .9h0m.1-1.7h0m0 2.3h0m1-1.7h0m.5 1.6h0m.4-1.5h0m.9 0h0m.2 1.3h0m.5 .7h0m.8 2h0m.7-3.7h0m.6-.2h0m.2 1.7h0m1.7 1.6h0m.1-3.6h0m.1 3h0m2-.5h0m.5-1.8h0m.3 1.8h0m.7-1.8h0m2.4 1.3h0m.2 .9h0m.9-2.2h0m1.4-1.3h0m2.7 2.4h0m1.3 .8h0m0-2.5h0m.3-.2h0m1.8 2.7h0m.2-.6h0m1.5 .8h0m0-1.8h0m1.7 .2h0m.6 1h0m1.5 1.5h0m.4-1.5h0m.5 1.9h0m.8-1h0m.7-.1h0m.1 .1h0m.3-.7h0m.1-.4h0m.1-2.1h0m.3 2.2h0m.2-.7h0m0 1.2h0m1.1 .1h0m.2 1.1h0m.6-.1h0m.3-.4h0m.3-3.3h0m.9 3.1h0m.6 .4h0m.1-4.1h0m2.5 3.5h0m2.7 .9h0m1.3 .3h0m.7-1.3h0m1-.9h0m1-2h0m-2.3 6.9h0m-.3-.5h0m-2.6-1.6h0m0 4h0m-1.1-1.9h0m-.1-1.1h0m-.4 1.2h0m-.1-1.2h0m-.2 3.3h0m-.3-.8h0m-.3-1.5h0m-.9-1.7h0m-.9 .3h0m-.1 1.6h0m-.8 .8h0m-1.4-.9h0m-.4 .8h0m-.5-1.2h0m-1.2 .4h0m-.1-1.6h0m-.1 1.4h0m-.2 2.3h0m-.4-4.6h0m-.6 .6h0m-.4 4.2h0m-1.9-3.7h0m-.3 3.8h0m-.2-1.8h0m-.4-.9h0m-.1 1.8h0m-1.5-4h0m-1.2 4.4h0m-.3-.1h0m-4.2-.4h0m-.2 .6h0m-.3-1.5h0m-.4 .1h0m-.4-1.3h0m-2.2 .1h0m0 .5h0m-1.4 .4h0m-.8 1.7h0m-.3-3.1h0m-.1 .3h0m-.5 2.4h0m-.3-1.1h0m-.5 .6h0m-.2-3.4h0m-.1 .8h0m-.2 2.5h0m-1.2-.2h0m-.4-2.4h0m-.8 2.9h0m-1-.3h0m-.1 .8h0m-.3-1h0m-.3 1.1h0m-1.6-3h0m-.1-.4h0m0 1.3h0m-.9-2h0m-.1 4.3h0m-1.8-2.3h0m-.8 1.1h0m-1.9 0h0m-1.2-.2h0m-.1-2.7h0m-1.7 2.2h0m-.7 2h0m-.4-3.4h0m-.2 1.5h0m-.3 .4h0m-.2 .9h0m0 .3h0m-2.5-1.2h0m-.4-.4h0m-.6 2h0m-.1-2.6h0m-1 .6h0m-.3 1.4h0m0-3.8h0m-.3 1.6h0m-1.1 2.1h0m-.9-.1h0m-2.1 .4h0m-.1-1.8h0m-.6 .7h0m-.9 1.3h0m0-.4h0m-1.9-2h0m0-1.1h0m-2.4 3.4h0m-.2-1.3h0m-.8-2.9h0m-1 0h0m4.8 7.2h0m.6-1.1h0m.2 1.7h0m1.8-1.7h0m.5 1h0m.5 1.7h0m.4-2.8h0m1.2-.4h0m.2 3.7h0m.6-1.7h0m.4-1h0m2.2 1.8h0m0 0h0m.1-.4h0m.4-2.3h0m1.1 2.6h0m.6-3.6h0m.1 2h0m2.1-.4h0m.2-.4h0m.3-1h0m0 2.1h0m.6 1.6h0m.3 .6h0m.6-4h0m.8-.3h0m.3 3h0m.2 1.4h0m.6 .3h0m.2-2.7h0m0 .5h0m.3-2.5h0m.5 2.2h0m.6-1.5h0m.1 2.4h0m.3-.2h0m.6 .4h0m2.5 .9h0m.2-3.7h0m1 3.1h0m.6-.3h0m.3 1h0m1.1-3.7h0m.3 .3h0m1.4 0h0m.2-.1h0m.2 2.3h0m.1-1.8h0m.4 .8h0m.6 .1h0m.1 1.2h0m.8-2h0m.1 1.2h0m.3-2.2h0m.4 2.6h0m.1 .1h0m.1-3.3h0m.3 1.1h0m.7 2.7h0m.2-1.5h0m1.2 2.2h0m0-3.8h0m.2 2.9h0m.9-.5h0m3-2.2h0m.6 .1h0m.3 2.5h0m.6-2.3h0m.9 3.4h0m.6-3.3h0m.9 1.9h0m0 1.1h0m.9-4.3h0m.5 3.3h0m0-1.3h0m.3 .4h0m.9 1.4h0m2.8-.6h0m.1-.2h0m.5-.8h0m1.5 .5h0m.5 .5h0m.2-2.3h0m.7 .8h0m0 .2h0m.7 .4h0m2.2 1h0m.1-3.2h0m0 3h0m.1 1.5h0m.7-1.4h0m0 0h0m.7-1.6h0m.3 3.1h0m1.3-2.2h0m.4 .3h0m1-2.1h0m-1.8 5.9h0m-.2 .5h0m-.2-.4h0m-1.3-.3h0m-.2 1.4h0m-.8-.3h0m-.6 .9h0m-.4-1.3h0m-.3-1.7h0m-1.4 .9h0m-1.7 1.4h0m-.1-2h0m-1.5 1h0m-.4 2.9h0m-.8-.4h0m-.1-3.9h0m-.2 0h0m-.8 .6h0m-.6 3.7h0m0-3.9h0m-.9-.7h0m-.1 2.2h0m-.5 2.5h0m-.5-2.4h0m0 1.3h0m-1.6-1.4h0m-1.2 .2h0m-.2 1.3h0m-.2-3.3h0m-.8 3.8h0m-.3-3.2h0m-.1-1h0m-1.2 1h0m-.3 1.5h0m-.6-1.4h0m-.3 3.3h0m-.2 .2h0m-.7-1.9h0m-.1-1.2h0m-.2 3.4h0m-.7-2.1h0m-1 .1h0m-.3-1.5h0m-.9 1.2h0m0-1.3h0m-1.3 3h0m0-1.5h0m-1.1-1.7h0m-.6 0h0m-.3 3.7h0m-.1-4.8h0m-.7 2h0m-.1 .6h0m-1.3 .8h0m-.2-2.6h0m-.5 3.9h0m0-1.3h0m-1.2-.9h0m-1.3 .2h0m-.3 .3h0m0-2.7h0m-.8 2.7h0m-.2-1.1h0m-.1-1.3h0m-.9 .4h0m-.1 2.3h0m-3.5-.8h0m0-2.3h0m-.3-.1h0m-.9 4.2h0m-.5-2.8h0m-.1 1.4h0m-.6-2.2h0m-2.6 1.2h0m0 1.4h0m-3.1-2.2h0m-.9 1.2h0m-.2-.1h0m-.1 2.7h0m-.2-1.6h0m-.8-2.3h0m-.1 .2h0m-.8 1.3h0m-1.8-1.1h0m4.2 3.9h0m.9 1.3h0m1 0h0m.1-1.4h0m.2 1.4h0m2.4-.5h0m.7-.5h0m.5 1.8h0m.7-1.6h0m1.8-.4h0m.7 1.9h0m.8 1.2h0m.3-.7h0m.7-2.2h0m1.4 2.3h0m1-2.4h0m.4 3.9h0m.2-3.2h0m.6-.2h0m.4 1.2h0m.2 .3h0m.6 1.6h0m1.3 .3h0m2.8-2.5h0m1.3 .8h0m.1-2.3h0m0 1.1h0m.1 1.4h0m.2 2h0m.1-3.3h0m.1 2.9h0m.2-1.7h0m.5-.4h0m.7-1.6h0m.2-.4h0m.6 2.7h0m.4-.6h0m.2 2h0m.6-.2h0m1.7-1.7h0m.9 .3h0m2.2-2.1h0m.2-.4h0m1-.2h0m.5 2.4h0m.7-.1h0m2.1 .9h0m.6-1.6h0m.1-.4h0m1.3 .7h0m1-.4h0m.1 .6h0m.4-.3h0m0-1.8h0m.3 .4h0" stroke="#6b6b6b" stroke-width="2.40" stroke-linecap="round" fill="none"/>
<path d="M423.1 1416.7h0m-1.7 .7h0m-8.6-1.4h0m-26 1h0m-.3 1.5h0m-.7 0h0m-1-2.5h0m0 3.7h0m-.2-.6h0m-.6-3h0m-.7 1h0m-.7 2.3h0m-.1-.4h0m-.9 .3h0m-.1-1h0m-.6 .1h0m-.1 .6h0m-.2-2.8h0m-.2 0h0m-.1 1.7h0m-.9-.3h0m-2.1-.9h0m-.1 2.2h0m-1.9-1.9h0m-1.9 .3h0m-.2 .3h0m-.4 .1h0m-1.3 .1h0m-.6 1.4h0m-.2-.3h0m-1.5 .9h0m0-1.2h0m-.3 0h0m-2.7 6.3h0m1.4-1.9h0m.3 0h0m.1-1.7h0m0 1.9h0m.2-.3h0m.4-.1h0m.5-2.2h0m.4 1.8h0m.1 .8h0m.5-1.9h0m.6 .9h0m0 2.6h0m.7-1.1h0m.2-2.1h0m1.2 2.3h0m.5-1.3h0m.3-1.7h0m.3 .2h0m.1 .5h0m.3 2h0m1.3 .3h0m.4-3.3h0m.1 2.7h0m.9-2.9h0m.1 1.7h0m0-1.9h0m.2 2.9h0m0-1.2h0m.9-.2h0m1.6 .6h0m.3-.8h0m0 3h0m.5 .2h0m.3-3.9h0m0 .6h0m.4 3.3h0m.4-.9h0m.1 .4h0m.8 .1h0m.6-1.9h0m.5 1.5h0m.4-.5h0m1-.8h0m.3 2h0m.1 .1h0m.4-1.5h0m.5-2.7h0m.8-.4h0m.4 2.7h0m.8 .6h0m.1-.2h0m.7-3h0m.3 1.1h0m.3 2.8h0m.4-.1h0m.4-.5h0m.6 .3h0m.4-1.6h0m.4 .9h0m.1-.8h0m0 .8h0m.4-.6h0m.3 0h0m.3 .9h0m.3 1.5h0m17.3 0h0m9.2-4.2h0m1.3 0h0m1.3 1.6h0m.7 6.6h0m-7.3-.3h0m-2.5 .5h0m-.1-2.1h0m-.8-1.5h0m-.6 2.5h0m-7.9-.3h0m-9.9-2.5h0m-.4 1.2h0m-.2 2h0m-.6 1.5h0m-.6-2.3h0m-1 1.7h0m-.4-.3h0m-.1-1.7h0m-.3-.9h0m-.4 1.2h0m-.5-2h0m-.7 2.1h0m-.3-2.3h0m-.1 .2h0m-.6-.5h0m-.3 1.1h0m-1.1 1.4h0m-.2 .6h0m-.3 .1h0m-.5-1.7h0m0 2.3h0m-.3-3h0m-.9-.9h0m-.6 2.1h0m-.1-.8h0m-.7 2.6h0m-.3-2.7h0m-.5 1.7h0m-.3-2.5h0m0 1.8h0m-.2 2.7h0m-2.1-2h0m-.5-.5h0m-.1-1.2h0m-.4 .3h0m-.2 3.2h0m-.2-2.4h0m-.4 1.9h0m-.1-1.2h0m0-2.1h0m-1 2.1h0m-.1 .4h0m-.6 .9h0m-.3-3.2h0m-.6 .8h0m-.2 1.3h0m-.7 0h0m-.5-.2h0m-.5-1.5h0m-.2-1.2h0m-.2 4.2h0m-1-3.8h0m-.5 .4h0m-.1 .1h0m-1.6 2.9h0m-1-2.9h0m-.3 3.1h0m-.6-4.3h0m-.7 3h0m-1.6-2.1h0m-.4 1.8h0m-.7 1.6h0m-.6 4.2h0m.1-.4h0m.2 1.2h0m0 .2h0m.7 .4h0m.1-4.2h0m.5 3.6h0m.2-4.3h0m1.2 3.9h0m.6-3.1h0m1.3 .1h0m.2-.3h0m0 1.6h0m1.1-.2h0m.2-.5h0m.3-.1h0m.5-.3h0m.5 3.3h0m.1-1.7h0m0 1.4h0m.6-3.9h0m.8 4.6h0m.5-.7h0m.5-3.7h0m.2 .9h0m0-1h0m.3 2.3h0m.2 .5h0m.1-1.3h0m.5-1h0m.4 3.5h0m.9-4.3h0m.1 2.9h0m.8-.1h0m0 1.2h0m.7-2h0m1.5 2.4h0m0-1.1h0m1.3-2.4h0m.4 .2h0m.6-1h0m.1 4.8h0m.6-1.3h0m.1 .4h0m0-2.8h0m.5 .8h0m.8 1.1h0m0-2.6h0m.8 2.9h0m.8-3.1h0m.2 1.9h0m.6-1.2h0m.2 3.2h0m.7-3.2h0m1.6 .3h0m.4-1.3h0m.4 2.2h0m0-1.1h0m0 0h0m0 3.6h0m.1-2.4h0m.3-1.1h0m.4 1.1h0m.1-.2h0m.2 1.5h0m.2-2.7h0m.3 2h0m.4 .1h0m.3 0h0m0-2.5h0m.1 2.6h0m.3-.7h0m.3 1.7h0m0-3.3h0m1.6 1.5h0m.3 .1h0m1 2h0m30.9-1.2h0m-8 5.4h0m-6.9-1.2h0m-2.2 .4h0m-11.4 1.4h0m-.3-.3h0m-.8-1h0m-.1-1h0m-.3 .4h0m0 .2h0m-.2-1.3h0m-.5 2.9h0m-.4 .8h0m-.9-.4h0m-.3-1.8h0m-.2-1.9h0m-1.2-.5h0m-.3-.3h0m-1.5 2.4h0m-.2 1.2h0m-.2-3h0m-.5 3.7h0m-1.9-.4h0m0-.1h0m-.5-2.7h0m-1 2.2h0m-.9-2.5h0m-1.3 2.7h0m-.9-3h0m-.4 2.4h0m-.2-2.2h0m-.4 4.1h0m-.1-3.1h0m0-1.4h0m-.9 .9h0m-.1-.5h0m-.2 3h0m-.2-2.2h0m-1.5 .5h0m-.5 2.6h0m0-.4h0m-2-1.9h0m-.2 2.3h0m-.4-.3h0m-1.7-2.1h0m-.3 1.3h0m-1.5-.8h0m-.1-1.6h0m-.6 3.6h0m-.2-4.6h0m-.4 4.1h0m-2.8-3.7h0m-.5 .1h0m-.2 .1h0m-1 2.1h0m-.9-.7h0m5.1 3.6h0m.3-.2h0m.4 .1h0m1.9 1.3h0m.2-1.9h0m.6 1.7h0m.2 1h0m.6-2.7h0m.1 2.1h0m.5 1.5h0m.8-.5h0m0-2.2h0m.4 3.4h0m.3-2.8h0m.3-1.3h0m.2 3.3h0m.7 .4h0m2-.5h0m0-2h0m.6-.8h0m.1-.4h0m.3 2.7h0m1.2-.7h0m0 1h0m.8-2.6h0m.4-.5h0m.6 1.6h0m.2-.6h0m.5 2.8h0m.3-.2h0m.2-.1h0m.9 .3h0m1.4-2.8h0m.9 3h0m.9-1.3h0m.1 1.5h0m0-3.9h0m.2 3.8h0m1-2.7h0m.2 3.1h0m.2-2.6h0m.9 1h0m.2 1.2h0m.1-1.9h0m.4 2.2h0m.1 .1h0m.3-1.9h0m.2-2.6h0m.7 3h0m0-1h0m.3 2.7h0m.1-3.3h0m.4 .6h0m.4 2.1h0m.4-1.6h0m.5-2.5h0m.4 4.6h0m.1-1.5h0m.6 .1h0m.1 1.5h0m0-1.4h0m.5-2.9h0m.8 2.9h0m.2 1h0m7.4-2.1h0m12.6-1.5h0m-11.5 8.9h0m-.8 0h0m-2.1-1.4h0m-.5-.5h0m-.8 .4h0m-.3-1.3h0m-1.3 .4h0m-.3 1.6h0m-.6-3.2h0m-.2 2.6h0m-1.6 1.5h0m-.4-3.5h0m-.2 1.5h0m-.1 1.2h0m-.5-3.5h0m0 .2h0m-.1 3.9h0m-.2-1.1h0m-1.2-1h0m-1 1.1h0m-.4 .2h0m-.6-2.1h0m-.6-.5h0m-.7 2h0m-1.1 1.7h0m-1.7-3.7h0m-.3 1.4h0m-.1-1.1h0m0 1.1h0m-.8 1.4h0m-.7-3h0m-1.2 3.6h0m-.2-.8h0m-.9-1.3h0m-.3 2.4h0m-2.5-4.3h0m-.3 1.7h0m-.9 .7h0m-1.2-2.5h0m-.9-.4h0m-2 .1h0m7.4 6.9h0m.4-1.6h0m.3 3.6h0m.4-3.6h0m.9 2.3h0m1.7-2.4h0m0 4.2h0m.4-3.6h0m.6 .1h0m0 1.4h0m.4 1.2h0m.8 1.1h0m.6-3.9h0m.5 .1h0m.1 2.4h0m.1-2.6h0m.6 2.5h0m.3 1.4h0m0-4.1h0m.1 .9h0m.2-1.1h0m.4 .9h0m.4 1.3h0m.5 .3h0m.6 .2h0m.4 1.3h0m.1-1.2h0m0-2.4h0m1.2 3.4h0m.5-3.6h0m.1-.1h0m.6 2.2h0m.2 2.1h0m.6-.7h0m.3 .6h0m.1-2.1h0m.1-1.8h0m.6-.2h0m.2 3.5h0m.6-2.9h0m1.1-.2h0m.3 2.4h0m.3 .1h0m.9 1.4h0m0-1.4h0m.8 .6h0m.1 .8h0m2.9-3.3h0m.1 2.6h0m.1-.2h0m.3 0h0m.5 .8h0m.8-.8h0m.3 .1h0m.4 .4h0m.5-1h0m.1 .3h0m1-.3h0m.7 1.2h0m4.9 4.5h0m-1.4 .3h0m-.7-2h0m-.7 2.4h0m-.4-.2h0m-.4-.2h0m-.2-.8h0m-1.1-1.2h0m0 .8h0m-.9-2.2h0m-1.8 .3h0m-.7-1.4h0m-.7 1.2h0m-.4 2.9h0m-1.7 .4h0m-1.1-4.4h0m-.1 .6h0m-1 2.9h0m-.4 .7h0m-1.6-4.3h0m0 4h0m-.6-2h0m-.2 2h0m-.5-3h0m0 3.6h0m-.3-2.4h0m-.2 .4h0m-1.4 2h0m-.2-4.4h0m-.4 1.9h0m-.6-.9h0m-.6 1.3h0m-.3 1.7h0m-.6-2.3h0m-.7-1.9h0m-.2 2.2h0m-.3 1.3h0m-.7 .2h0m-.3-3.4h0m-.2 1.5h0m-.2 .8h0m-1.1 1.4h0m-.1-3.1h0m-2.3 3h0m-.3-1.2h0m-2.1-.6h0m0-.6h0m1.6 8.4h0m1.5-3.1h0m1 2.5h0m.9-1.4h0m.2-2.9h0m.2 2.8h0m.4 1.1h0m.8-1.1h0m1.1 1.9h0m.2 .1h0m.1-3.9h0m.2 3.3h0m.2-3.3h0m.5 1.6h0m.4 1.1h0m.1-1.7h0m.2 1.2h0m.6-1.5h0m.2-1h0m.3 2.5h0m.3 0h0m.2-.6h0m.4 2.2h0m.8-3.2h0m.1-.1h0m.8 1.1h0m.6-.6h0m.7-.9h0m.1 3.2h0m1.4-.9h0m1.7 .3h0m1.2 0h0m.6 .1h0m.2-3h0m0 1.4h0m.6 .8h0m.3 1.5h0m.3-2.7h0m.9 1.6h0m.5-2.8h0m0 .6h0m.4 2.2h0m.8 .5h0m.1-2.1h0m0 2h0m.1-3.2h0m.3 4.4h0m0-2.3h0m.3-2.3h0m.5-.1h0m.2 .2h0m.6 1.9h0m.1 .2h0m.1 1.5h0m0-4h0m1.5 1.7h0m.6 1.1h0m.2-1.1h0m.3 1.6h0m.1-.3h0m.2 1.3h0m.6-3.4h0m.1 .7h0m-.5 5.2h0m-.3-1.3h0m-.4 1.6h0m-.7-.9h0m-.4 3.1h0m-.7-2.9h0m-.7-.9h0m-.5 0h0m-.2 0h0m-.1 4h0m0-1.2h0m-1.3-1.9h0m-.1 2.1h0m-.1 0h0m-.8-.3h0m0 .6h0m-.4-1.6h0m-.9-.2h0m-.6 1.9h0m-1.9-2.6h0m-.5 2h0m-.3-.8h0m-.4 2.1h0m-1.7-1.4h0m-.7-1.3h0m-1.7 1.9h0m-.1-2.8h0m-1.1 3.6h0m-.1-4.6h0m-.8 3.5h0m-.1 .5h0m-.4-.6h0m-.2-2.4h0m0 1h0m-.8-.2h0m-.7 1.2h0m-.2 .9h0m-.3 .5h0m-.1-.6h0m-.4-1.7h0m-1.4-1h0m-.3 1.4h0m-.2-1.5h0m-.3 3.7h0m-.1-1.4h0m-2-2.3h0m-1.3 3.1h0m-.7-1h0m-.5-1.7h0m-2.5 6.6h0m.3 .3h0m0-.4h0m.1-1h0m.9-1.1h0m.2 .6h0m.1 2.4h0m.2-.6h0m.8 .5h0m.4-3.7h0m.2 0h0m.8 3.3h0m.2-2.5h0m.5 1.9h0m0 .6h0m.4 .8h0m.3-1.9h0m0-.6h0m1 1.5h0m1.4 1.4h0m.5-4.5h0m0 2.8h0m.3-.9h0m.9 1.5h0m.1-.3h0m.9-1.2h0m.1 2.5h0m.2-1.5h0m1.5-2.5h0m.2 .2h0m.4 .6h0m.5 3.7h0m0-1.3h0m1.1-.8h0m.4 .7h0m.7-.8h0m2.2 0h0m.3-1h0m.7 .3h0m0 1.5h0m.2-.8h0m.4-2.2h0m.3 3.5h0m0-3.2h0m.5 .2h0m.2-.2h0m.9 2.9h0m.2-3.5h0m.6 .4h0m0 .6h0m.8 1.6h0m.2-2.8h0m.5 .9h0m.1 .6h0m.2 1.5h0m.6-1.3h0m.1-.3h0m1.3-.4h0m.5-.3h0m-5 5.1h0m-1 1.1h0m-.8-1.6h0m-.2 .6h0m-.7 .1h0m-.6-.6h0m-.3-.2h0m-.2 2h0m-.2-1.2h0m0-.4h0m-.3 1.2h0m-.7-1.2h0m-.4-.4h0m-.3 0h0m-1.2 1.6h0m-.1 .7h0m-.4 .2h0m-1.5-1.5h0m-2.8-.3h0m0-.4h0m-1.1 1.4h0m-.5 1h0m-.2 .3h0m-.1-.8h0m-.8-.5h0m-.7-1.2h0m-.1 2.5h0m-.9-1.3h0m-1.3-1h0m-1-.5h0m-.6-.4h0" stroke="#139b7a" stroke-width="2.40" stroke-linecap="round" fill="none"/>
<path d="M392.9 1434.7h0m5.3 3h0m1.8 16.8h0m6.1-3.1h0m5.7 2.6h0m-13.6 3.5h0" stroke="#e3000f" stroke-width="2.40" stroke-linecap="round" fill="none"/>
<path d="M130 1684h0m8 0h0m5 0h0m1-2h0m2 1h0m7-1h0m7 2h0m-1 5h0m-12-3h0m-5-1h0m-3 3h0m-2 1h0m-2-2h0m-10 1h0m-6-2h0m-9 0h0m-1 3h0m2 5h0m3 0h0m1-2h0m4 0h0m6-2h0m1 4h0m19-3h0m19 1h0m32 1h0m2 0h0m2 0h0m1 1h0m2-1h0m2 0h0m2 1h0m2-2h0m3 1h0m2-1h0m3 0h0m1 2h0m3-1h0m3 0h0m2 0h0m1 0h0m0 0h0m4 1h0m7 3h0m-1 0h0m0-1h0m-1 3h0m0-1h0m-3 1h0m-1-4h0m0 1h0m-1 1h0m-1 2h0m0-2h0m0-1h0m0-1h0m-2 0h0m0 1h0m-1 3h0m-1-2h0m-1 2h0m-1-2h0m-2 1h0m0-3h0m-1 2h0m-1-2h0m-1 1h0m-1 1h0m-1-1h0m-1 3h0m0-2h0m0 1h0m-3 0h0m-1-2h0m0 1h0m-1-1h0m-3-1h0m-2 1h0m-1 3h0m0-4h0m-1 2h0m-1-1h0m-2 1h0m0 0h0m-1 0h0m-1 2h0m0 0h0m0-4h0m-1 2h0m0 2h0m-1-2h0m0 1h0m-1-3h0m0 3h0m-1-2h0m0 2h0m0-1h0m0 0h0m-1 2h0m-2-4h0m0 1h0m-1 2h0m-1 0h0m-1 0h0m-1 1h0m0-4h0m-1 0h0m-2 2h0m0-1h0m0 3h0m-2-1h0m-2-1h0m-2 2h0m-3 0h0m-4-3h0m-11 0h0m-14-1h0m-3 0h0m-4 3h0m-1-1h0m-1 1h0m-10-3h0m-2 4h0m-6 0h0m-1-3h0m-1 8h0m10-2h0m14 2h0m9-1h0m5 1h0m2 0h0m9-1h0m2-1h0m0 2h0m1 0h0m1 0h0m0-3h0m1 1h0m2 0h0m0 0h0m2 2h0m4-1h0m1-2h0m0 0h0m4 0h0m1 2h0m1-1h0m1-1h0m1-1h0m0 1h0m1 0h0m0-1h0m2 1h0m1 1h0m4 0h0m2 0h0m1 1h0m0-2h0m2-1h0m2 2h0m0 0h0m0 0h0m1 2h0m0-4h0m0 4h0m0-4h0m1 4h0m4-3h0m1 1h0m1-1h0m2-1h0m1 4h0m1-4h0m0 2h0m1-1h0m0 3h0m1-1h0m0-2h0m0 0h0m1 0h0m1-1h0m2 4h0m2-1h0m0-3h0m0 2h0m1-1h0m1 3h0m0 0h0m3-1h0m1 1h0m1 0h0m1-3h0m3 1h0m2-2h0m1 4h0m3-3h0m1 1h0m0 2h0m0-1h0m0 0h0m1-1h0m0 0h0m1-1h0m1 3h0m0-2h0m9 6h0m-4 1h0m0-3h0m-1 2h0m0-2h0m-1-1h0m-1 0h0m0 3h0m-1 1h0m-1-2h0m0 2h0m0-3h0m0-1h0m-1 0h0m-2 0h0m-2 1h0m-1 3h0m-1 0h0m-1-4h0m-1 1h0m-1 2h0m0-2h0m-1 1h0m-1 1h0m-4 0h0m-1-3h0m0 0h0m-1 0h0m-1 1h0m-1 1h0m-1-1h0m0 1h0m-1 0h0m0 0h0m0 0h0m-2 0h0m0 1h0m-1-3h0m-2 1h0m-1 1h0m-3 0h0m0-1h0m-1-1h0m0 2h0m-1 0h0m-1-2h0m-5 2h0m0 1h0m0 0h0m-1 1h0m-3-1h0m-1-3h0m-1 3h0m-1-3h0m0 0h0m-1 1h0m-1 3h0m-2-3h0m0 3h0m0-2h0m0-1h0m-1 2h0m-2-1h0m-1-2h0m-1 0h0m-4 0h0m-4 1h0m-1 3h0m0 0h0m-1-2h0m-2-1h0m-2 3h0m-1-1h0m-1 0h0m0-2h0m-1 2h0m0 0h0m-3-1h0m0 0h0m-8-2h0m-1 1h0m-1 1h0m-3 1h0m0-3h0m-1 3h0m0-2h0m-1 2h0m0-1h0m-1 1h0m0 1h0m0-3h0m-1 3h0m-2-1h0m0-1h0m-2-2h0m-2 2h0m0 0h0m-1-1h0m-1 0h0m-2 3h0m0 0h0m-1-1h0m-24-3h0m12 7h0m3 0h0m1 1h0m3 1h0m2 0h0m3-2h0m0 0h0m2-1h0m0 0h0m1 1h0m0 0h0m0-1h0m0 1h0m1-2h0m1 0h0m1 2h0m0-1h0m0-1h0m0 0h0m2 1h0m0 1h0m3-1h0m1-1h0m2 0h0m1 3h0m2-2h0m0 3h0m1-1h0m4-1h0m0-1h0m0 0h0m1-1h0m2 1h0m3 0h0m1 0h0m2 2h0m0 1h0m0-1h0m0-3h0m3 1h0m1 3h0m2-1h0m0-2h0m0 2h0m0-2h0m1 2h0m1-2h0m4 3h0m0 0h0m0-1h0m0-3h0m2 2h0m2-1h0m0 1h0m1-2h0m1 3h0m1 1h0m0-3h0m2-1h0m0 0h0m0 0h0m1 1h0m1 1h0m1 0h0m3 1h0m1-3h0m0 0h0m4 3h0m4-1h0m1-2h0m1 3h0m1-2h0m0-1h0m2 2h0m1-1h0m1 2h0m1-3h0m1 0h0m0 2h0m2 1h0m3 0h0m1-1h0m1-2h0m2 1h0m1 0h0m1 3h0m1-2h0m0 0h0m1 0h0m1 2h0m0-1h0m1-2h0m2 3h0m3-2h0m1 2h0m0-2h0m1-2h0m0 4h0m0-1h0m5-2h0m1-1h0m1 4h0m0-1h0m0 0h0m0 0h0m3-2h0m1-1h0m1 3h0m4-2h0m1 2h0m0 1h0m6 5h0m-1 0h0m-2-2h0m-1 0h0m-1-2h0m-2 0h0m-2 1h0m-1-1h0m-2 0h0m-4 3h0m-1 1h0m0-3h0m-3-1h0m-3 0h0m0 1h0m0-1h0m-2 0h0m-3 3h0m-1-1h0m-2 2h0m0-3h0m0 1h0m-1-1h0m-2 2h0m-1-3h0m-1 3h0m-4-3h0m0 4h0m0-2h0m-1 0h0m-2-2h0m0 0h0m-1 3h0m-1 1h0m-1-2h0m0 2h0m0-2h0m-2 0h0m0 2h0m0 0h0m-1-4h0m0 1h0m-2 1h0m0 2h0m0-2h0m-1-2h0m-1 4h0m-1-3h0m0 2h0m0-1h0m-1 2h0m-1-2h0m-1 0h0m0 1h0m-2 0h0m-2-3h0m0 1h0m-1 0h0m-1-1h0m-1 2h0m0 1h0m0-3h0m-1 3h0m0-3h0m-1 3h0m0-3h0m-1 0h0m0 3h0m-1-2h0m-1 3h0m-1-2h0m-1 1h0m0 0h0m0-2h0m-2 1h0m0-1h0m-3 0h0m0 0h0m0-1h0m-1 2h0m0-2h0m-1 3h0m-1-3h0m-1 3h0m-4-2h0m-1 3h0m-4-2h0m-1 2h0m-1-4h0m-1 1h0m0 2h0m-1 0h0m0-2h0m-1 2h0m-1-3h0m0 0h0m-2 1h0m-2 0h0m0 2h0m-2 0h0m-1-1h0m-1-1h0m-2 2h0m0-2h0m-3-1h0m-1 0h0m-1 0h0m0 4h0m-6-4h0m-1 3h0m0-1h0m-1 2h0m-1-4h0m0 0h0m-4 2h0m-1-2h0m0 2h0m-2 1h0m-1-2h0m0 3h0m-1-1h0m0-3h0m-4 3h0m-12-3h0m-2 4h0m8 5h0m3-3h0m0 0h0m3 1h0m0-1h0m0 0h0m0 0h0m3 1h0m1-2h0m2 0h0m3 1h0m1 2h0m2-3h0m1 0h0m4 4h0m1-1h0m1-1h0m1 0h0m4 2h0m3 0h0m1 0h0m2-1h0m2-3h0m1 3h0m1-3h0m0 1h0m1 0h0m1 1h0m1 1h0m3-2h0m0 0h0m2 1h0m1-2h0m1 3h0m2-3h0m0 0h0m1 3h0m0 0h0m2 1h0m0-4h0m0 4h0m1-1h0m1 0h0m0-3h0m0 2h0m5 0h0m1-1h0m0-1h0m2 1h0m1-1h0m2 3h0m2-3h0m1 0h0m1 0h0m0 2h0m1 2h0m3-4h0m1 4h0m0-2h0m2-1h0m4-1h0m0 3h0m1 1h0m0-4h0m2 2h0m1 1h0m1 0h0m0-3h0m1 3h0m1-3h0m1 3h0m0-3h0m0 4h0m1-1h0m1 1h0m0 0h0m1-3h0m1 1h0m0-2h0m2 2h0m0 1h0m2 0h0m3 0h0m0-1h0m0 1h0m2-1h0m0-1h0m1 0h0m2 2h0m2-1h0m0-2h0m0 0h0m0 2h0m1 1h0m0-1h0m2 1h0m1-3h0m1 4h0m0-1h0m0-2h0m0-1h0m0 3h0m1-2h0m0-1h0m2 2h0m4-2h0m1 2h0m1 2h0m4-1h0m2 0h0m1-3h0m2 4h0m0-1h0m1-3h0m1 0h0m0 0h0m1 0h0m0 0h0m3 1h0m2 3h0m1-1h0m1 0h0m1 0h0m2 0h0m3 0h0m7 6h0m-3-3h0m-1 0h0m-1 2h0m-1-3h0m-2 1h0m-1 3h0m0-3h0m0-1h0m0 2h0m-2 0h0m0 0h0m-2 1h0m-1-1h0m-1 2h0m-1-2h0m0 1h0m-1 1h0m-2-3h0m0 1h0m-1 0h0m-1 2h0m-2-4h0m-1 2h0m-1 2h0m-1-3h0m-3 0h0m0 2h0m-1 1h0m-6-3h0m-1 1h0m-1-1h0m-2 0h0m-1-1h0m-2 2h0m0-2h0m0 3h0m-6 0h0m0 1h0m-2-2h0m-1 0h0m0 2h0m0-1h0m0-3h0m-1 0h0m0 2h0m-3-1h0m0 1h0m-4-1h0m-1-1h0m-1 0h0m-1 2h0m-1 0h0m-1 0h0m-3 0h0m-2 0h0m0 0h0m0 1h0m-1 0h0m0-3h0m-3 3h0m0 0h0m-1-1h0m-2 2h0m-4-3h0m-1 2h0m-1-1h0m-1 0h0m-1 1h0m0-2h0m-1 0h0m-2 1h0m0 2h0m-1-3h0m-1 1h0m-3-2h0m0 4h0m0-2h0m-1-2h0m0 3h0m-4-3h0m-1 3h0m-1 1h0m0-3h0m0 2h0m-1 0h0m0 0h0m-1 0h0m-1 1h0m0 0h0m0-3h0m0 1h0m-1 0h0m-1-1h0m-1 2h0m-6 1h0m-2-2h0m-1-2h0m0 4h0m0 0h0m-1-1h0m0 0h0m0-3h0m0 3h0m-2-2h0m0 1h0m-1 2h0m-1-3h0m0 1h0m-1-2h0m-2 4h0m-2-3h0m-1-1h0m0 4h0m0 0h0m-1-1h0m0-3h0m0 1h0m-1 0h0m-2 3h0m0-4h0m-1 4h0m-1-1h0m0-1h0m0 2h0m-1-1h0m-3-1h0m0-1h0m-1-1h0m0 3h0m0 1h0m0-3h0m-1-1h0m0 4h0m-1-2h0m-2-2h0m-3 1h0m0-1h0m-1 2h0m0-1h0m-2 3h0m-1-2h0m0-1h0m-1 1h0m0-1h0m-2-1h0m-4 2h0m-2 1h0m0 1h0m-1-2h0m0 2h0m0-3h0m-1 3h0m0-2h0m-9 0h0m-2-2h0m1 5h0m3 1h0m2 3h0m2-3h0m0 2h0m1 0h0m0 1h0m1-3h0m0 0h0m2 0h0m1 2h0m1 1h0m0-3h0m2 1h0m1 2h0m0-4h0m1 3h0m0-3h0m2 2h0m2 0h0m0-2h0m1 2h0m0-2h0m1 4h0m2-2h0m2 0h0m2-1h0m0 1h0m0 0h0m1 1h0m0 1h0m2-1h0m2 1h0m2-1h0m1 0h0m1 1h0m0-3h0m1 1h0m2-2h0m2 4h0m1-2h0m1 1h0m0 0h0m0-2h0m0 1h0m1-1h0m1 2h0m2-3h0m1 4h0m0-3h0m1 2h0m0-2h0m0 1h0m3 1h0m0 0h0m0 0h0m3-1h0m0 2h0m1-1h0m0-3h0m2 3h0m1 1h0m0-3h0m1 3h0m0 0h0m1-4h0m1 3h0m0-2h0m1 3h0m1-2h0m0-1h0m1 1h0m1-1h0m1 2h0m1 0h0m0-1h0m3-1h0m3 1h0m0 1h0m2-3h0m2 2h0m0 1h0m0-2h0m1 1h0m2 2h0m1-1h0m0 0h0m0-2h0m0-1h0m0 3h0m1 1h0m1-3h0m3 2h0m1-1h0m1 2h0m2-1h0m0-2h0m2 3h0m0-3h0m1 3h0m1-4h0m1 0h0m0 0h0m2 0h0m1 0h0m2 1h0m2 3h0m1-2h0m0-2h0m1 4h0m2 0h0m0-4h0m1 2h0m2 0h0m1 0h0m2 0h0m1 0h0m0 1h0m0-1h0m0-1h0m3 3h0m1-1h0m1-2h0m1 3h0m1-4h0m0 1h0m1 1h0m0 0h0m1-1h0m0 0h0m1 1h0m1 1h0m1 1h0m1-1h0m0 0h0m1-1h0m2-2h0m1 4h0m2 0h0m0-4h0m2 4h0m1-3h0m0 1h0m1 2h0m1-4h0m0 4h0m1-1h0m0 0h0m6-1h0m1 0h0m2-2h0m0 3h0m2-2h0m1-1h0m0 0h0m2 4h0m3 0h0m2-4h0m0 0h0m1 1h0m0 0h0m2 2h0m1-3h0m2 2h0m1-1h0m1 3h0m2 0h0m0 0h0m1-3h0m2 6h0m0 1h0m-1-2h0m0 1h0m-1-2h0m0 2h0m-1-2h0m-2 2h0m-2 1h0m-1-2h0m-1 2h0m0 0h0m-3-2h0m0-1h0m-1 2h0m0-2h0m-2 3h0m-1-3h0m-1 4h0m-1-1h0m-1-3h0m0 0h0m-5 3h0m-2 1h0m-3-2h0m0 1h0m-1 1h0m-5 0h0m0 0h0m-6-1h0m0 1h0m-3-1h0m0-3h0m-1 1h0m0 3h0m-2 0h0m-1-3h0m0 2h0m-2-1h0m-3 2h0m0-4h0m-2 0h0m-6 2h0m-1 1h0m0-2h0m-1 3h0m0-3h0m-2 1h0m-1-1h0m-1 3h0m-1 0h0m0-1h0m-1 0h0m0-1h0m-1 1h0m-1-3h0m-5 2h0m-3 2h0m0-3h0m-2 1h0m-2 2h0m0-1h0m0-3h0m-2 3h0m0-3h0m0 3h0m-4 0h0m0-1h0m0-1h0m-2-1h0m-1 3h0m0 0h0m0 1h0m-1-2h0m-1 2h0m-2-4h0m0 4h0m-2-1h0m-1-3h0m-1 4h0m-1-1h0m0 0h0m-1-2h0m-1-1h0m-2 3h0m-2 1h0m-2-1h0m0 0h0m0-2h0m-1 2h0m0 1h0m-1-1h0m-2 0h0m-1-2h0m-1-1h0m0 2h0m-3-1h0m0 1h0m-4-1h0m0 3h0m0 0h0m-3-4h0m-1 2h0m-2 1h0m-3 0h0m-1-2h0m-1 0h0m0 2h0m-1-1h0m-1-2h0m-1 2h0m-1-2h0m-1 1h0m0 3h0m0-2h0m-2-2h0m-1 2h0m0 2h0m-1-2h0m-1-2h0m0 1h0m-1-1h0m0 4h0m0-4h0m-1 3h0m0-2h0m-1-1h0m-2 1h0m-1 1h0m0-2h0m-3 0h0m-1 3h0m-1 1h0m-2-3h0m-2 1h0m0 1h0m-2-3h0m0 4h0m-6-2h0m0-1h0m0 1h0m-3 2h0m-1-3h0m-1 2h0m-4 0h0m-1 6h0m1-1h0m1-3h0m3 4h0m3-4h0m0 0h0m0 0h0m1 3h0m0-2h0m0-1h0m1 1h0m0 2h0m0 1h0m0-3h0m1 0h0m0 0h0m1 0h0m0 1h0m1 2h0m1-3h0m0-1h0m4 4h0m1-3h0m5-1h0m0 0h0m1 0h0m1 2h0m0 0h0m1 1h0m1-2h0m0 2h0m0-3h0m1 2h0m0-2h0m2 2h0m0-2h0m4 4h0m0-2h0m0-2h0m1 3h0m1-2h0m0 3h0m2-3h0m4-1h0m2 2h0m0 0h0m0-1h0m1 0h0m1 2h0m1-2h0m1 1h0m4 1h0m0 1h0m0 0h0m2-2h0m1 2h0m0-4h0m1 1h0m0 3h0m1-1h0m0-2h0m1 2h0m1-3h0m0 4h0m1-1h0m0-2h0m1 3h0m3-1h0m1 0h0m2-3h0m0 4h0m1 0h0m1-3h0m1 1h0m1 0h0m1-1h0m1 3h0m3-3h0m0-1h0m1 3h0m0 0h0m0-1h0m2 2h0m1 0h0m2-3h0m1 1h0m1 1h0m1 1h0m1-3h0m0 2h0m1-1h0m0 0h0m1-2h0m2 0h0m0 2h0m0-2h0m2 4h0m0 0h0m0-3h0m2 1h0m0-2h0m1 3h0m0 1h0m6-3h0m2 2h0m1-3h0m0 3h0m0 1h0m1-3h0m1 2h0m0 0h0m0 0h0m1 1h0m2-2h0m0 2h0m1-3h0m1 2h0m1-2h0m1 3h0m1-1h0m0-1h0m0 0h0m2 1h0m1-1h0m0 2h0m1-3h0m0-1h0m3 2h0m2-1h0m3 1h0m3 2h0m1 0h0m0 0h0m1 0h0m0-1h0m1-2h0m0 0h0m2 3h0m1-1h0m0-3h0m1 4h0m2-3h0m1 1h0m1 2h0m1-1h0m0-3h0m1 3h0m1-2h0m2 2h0m0 0h0m0-2h0m0 0h0m1 0h0m2-1h0m1 4h0m2 0h0m2-3h0m1 0h0m3 3h0m1-3h0m0 1h0m0 0h0m1-1h0m0-1h0m1 2h0m0 2h0m0-2h0m3 1h0m1 0h0m1 1h0m0-1h0m0-3h0m1 4h0m0-3h0m0 2h0m0 0h0m1-2h0m3 3h0m0-1h0m2-3h0m1 0h0m0 3h0m1-3h0m0 4h0m1-4h0m0 0h0m0 1h0m0 0h0m-1 8h0m-2-2h0m-2-1h0m-2 3h0m0 0h0m-2 0h0m-1-3h0m0 3h0m-2-4h0m0 3h0m-1-1h0m0 2h0m-2-2h0m0 0h0m-2 0h0m0 0h0m-2 2h0m-1-1h0m-2-3h0m-2 1h0m-3 0h0m0 1h0m-4 0h0m0 0h0m0-1h0m-1-1h0m0 3h0m-1 1h0m-6-3h0m-1 1h0m-1 1h0m0-2h0m-2-1h0m-1 4h0m-1-4h0m-1 2h0m0 1h0m0-2h0m-1-1h0m0 0h0m0 3h0m-1-3h0m-2 1h0m-1 3h0m0-3h0m0 1h0m-1 2h0m-6-3h0m-3 2h0m-3 0h0m-3 0h0m-5-2h0m0 0h0m-1 1h0m-1 2h0m0-1h0m0 1h0m-1 0h0m0 0h0m-4-3h0m-2 3h0m0-2h0m-1 1h0m0-3h0m-5 3h0m0-2h0m0 1h0m0 1h0m-1 0h0m0 0h0m0-3h0m-1 0h0m0 3h0m-2-1h0m0-2h0m-1 3h0m-1 0h0m-1-2h0m0 0h0m-2 0h0m-3 2h0m-1 0h0m-2-1h0m-1 0h0m-1 1h0m-3-3h0m-1 2h0m-1-1h0m0-1h0m0 0h0m-1 2h0m0-2h0m-1 0h0m-3 4h0m0-2h0m-1 1h0m-3 0h0m0 1h0m-1-3h0m-1 0h0m0-1h0m-3 4h0m0-4h0m0 0h0m-2 3h0m-1 0h0m0-2h0m0 3h0m-2-2h0m-2 0h0m0 0h0m-2 1h0m-5 1h0m0-2h0m-1 0h0m0 0h0m-1 2h0m0-3h0m-1 0h0m-1-1h0m-1 2h0m-1-2h0m-1 1h0m-1 1h0m-1-1h0m-1 2h0m-2-1h0m0-1h0m-3 3h0m0-3h0m0 2h0m-1 1h0m-1-3h0m-1 2h0m-4-1h0m0-1h0m-1 0h0m-2 2h0m-2-2h0m0 0h0m-4 3h0m0-4h0m-1 4h0m-1-2h0m0 1h0m-2-2h0m-2 0h0m-1-1h0m-2 4h0m-3-1h0m-1 6h0m0 0h0m3 0h0m0-2h0m0 2h0m1-1h0m0 1h0m1-2h0m0 0h0m0-1h0m0 1h0m0-2h0m5 2h0m1 1h0m2 1h0m1-1h0m0-3h0m2 3h0m1-3h0m0 0h0m1 4h0m1-2h0m2 2h0m0-1h0m0 1h0m0-2h0m0-2h0m2 0h0m1 2h0m0-1h0m0 3h0m0-4h0m0 0h0m2 2h0m1-1h0m0-1h0m2 1h0m1 3h0m1-2h0m1-1h0m2 0h0m0 3h0m2 0h0m0-3h0m0 3h0m1-2h0m3-2h0m0 4h0m0-3h0m1 1h0m3 2h0m0 0h0m3-2h0m0 1h0m1-1h0m0-1h0m0 2h0m2-1h0m1-1h0m0 0h0m3 0h0m2 0h0m2 2h0m1-3h0m7 3h0m1 0h0m1-1h0m0-2h0m1 0h0m1 1h0m0 3h0m1-3h0m2 1h0m2 1h0m1-3h0m0 0h0m1 2h0m0 2h0m1-2h0m0-1h0m1 1h0m0 2h0m1 0h0m0-1h0m1 0h0m1 0h0m0-3h0m2 4h0m0-3h0m0-1h0m2 4h0m0-3h0m1 1h0m1-2h0m4 2h0m2-1h0m0 1h0m0 2h0m1-2h0m3-2h0m0 2h0m2 0h0m0-1h0m2-1h0m0 4h0m1-3h0m1 1h0m2-1h0m0 2h0m0 0h0m0 1h0m1-1h0m1 1h0m1 0h0m1-2h0m0-2h0m4 4h0m6-2h0m0 1h0m0-2h0m2 2h0m1-3h0m0 2h0m0 2h0m2-1h0m0-3h0m4 0h0m4 2h0m1 1h0m2 1h0m0-4h0m1 1h0m3 3h0m1-4h0m1 1h0m1 0h0m1 1h0m1 1h0m0 1h0m1-3h0m4-1h0m0 2h0m2 2h0m1 0h0m1-2h0m0 0h0m1 1h0m1 1h0m1 0h0m1-1h0m0-3h0m1 1h0m2 1h0m1 0h0m0-1h0m0 0h0m2 3h0m0-4h0m1 2h0m2 2h0m1-4h0m1 1h0m0 3h0m2 0h0m0-3h0m1-1h0m1 2h0m1-1h0m4 1h0m0 1h0m1-1h0m-5 5h0m0 2h0m0-3h0m-1-1h0m0 1h0m-1 2h0m-1-3h0m-1 1h0m-1 0h0m0-1h0m-2 1h0m-2-1h0m-1 2h0m-1 2h0m-1-4h0m-2 1h0m0 2h0m-1 0h0m-1-2h0m0-1h0m-1 4h0m-1-1h0m0 0h0m-1-1h0m-1 1h0m0 0h0m0-3h0m-1 1h0m-1-1h0m-1 0h0m-2 2h0m0 0h0m-2-1h0m-6 3h0m0-2h0m0 2h0m-1 0h0m0 0h0m-2-3h0m0 3h0m-1-1h0m0-2h0m-2 2h0m-1 1h0m0-4h0m-3 2h0m-2 1h0m-3-2h0m-1-1h0m-3 3h0m-1 1h0m-1-4h0m-2 0h0m-3 4h0m-3-1h0m0-2h0m-2 0h0m-1-1h0m-1 2h0m-1 1h0m-1-3h0m-2 4h0m-2-4h0m-2 1h0m-1 3h0m-2 0h0m0-3h0m-1 2h0m0 1h0m-1-2h0m-4 1h0m0 1h0m-1-1h0m-2 1h0m-1-1h0m0 1h0m-6 0h0m0-2h0m-1-2h0m-1 0h0m0 0h0m-2 0h0m-5 4h0m0-1h0m-1 1h0m-1-4h0m-3 4h0m-2-2h0m-1-2h0m0 2h0m0-1h0m-1 0h0m-2 3h0m-1-2h0m0 0h0m-1-2h0m-1 1h0m-1 0h0m0-1h0m0 2h0m-1-2h0m-1 2h0m0 1h0m0-3h0m-1 4h0m-1-1h0m-1-2h0m-1 2h0m-1-1h0m-1-1h0m-1-1h0m-1 3h0m-1-3h0m-4 1h0m-2 1h0m0 0h0m-1 0h0m-1 0h0m-1 1h0m-1 0h0m-1-2h0m-1 1h0m-2-1h0m0-1h0m-3 2h0m0-1h0m-2 2h0m-1-1h0m-1-2h0m-1 3h0m0 0h0m0-3h0m-1 1h0m-1 0h0m-1 0h0m0 1h0m-2 0h0m-2-2h0m0 2h0m0-1h0m-1 3h0m0-3h0m-1 0h0m-2 2h0m0 1h0m-4-1h0m0 1h0m0-3h0m0-1h0m-1 0h0m-3 1h0m-1 1h0m0 0h0m-3-1h0m-1-1h0m-1 0h0m-1 3h0m0 1h0m-2-1h0m0-2h0m-1 3h0m-2 5h0m0 0h0m0-3h0m0 1h0m0-2h0m0 3h0m0 0h0m0-2h0m1 2h0m3 1h0m1-1h0m0-2h0m0 2h0m2 1h0m4-2h0m2-1h0m1 1h0m1-1h0m1 3h0m2-3h0m2 2h0m0-2h0m1 1h0m1 0h0m1-2h0m2 0h0m0 3h0m1 0h0m1 1h0m0-2h0m1 1h0m3-2h0m1 2h0m0-3h0m1 2h0m3 2h0m2-3h0m0-1h0m0 1h0m1-1h0m0 4h0m3-3h0m1 0h0m1 1h0m1 2h0m1-1h0m0 1h0m1-3h0m2 0h0m2 1h0m1-1h0m1 2h0m0 0h0m1-2h0m1 0h0m1 1h0m2 1h0m2 0h0m0-3h0m1 4h0m1-3h0m1 0h0m2 2h0m2-2h0m0 3h0m1 0h0m0 0h0m0-3h0m1 3h0m4-3h0m1 3h0m1-4h0m3 3h0m0-2h0m1-1h0m1 3h0m1-2h0m0 2h0m1 0h0m0-3h0m0 2h0m4-2h0m0 1h0m0 0h0m5 3h0m1-3h0m1 2h0m0-3h0m0 0h0m1 2h0m1 2h0m1-4h0m2 3h0m1 1h0m1 0h0m0-2h0m0 0h0m1-2h0m1 4h0m1-2h0m2-2h0m1 2h0m0 0h0m0 2h0m1 0h0m1-1h0m0-1h0m3-2h0m1 1h0m1 0h0m0 1h0m0-1h0m1 2h0m0-1h0m3-2h0m0 4h0m3 0h0m1-2h0m0-1h0m1 1h0m0 1h0m0-2h0m1 3h0m1-4h0m1 3h0m2 0h0m1 0h0m2-3h0m1 2h0m2 0h0m0 1h0m0-1h0m1 1h0m3 0h0m0-1h0m2-1h0m0 1h0m0-2h0m2 0h0m0 1h0m0 2h0m0 0h0m4-1h0m2 2h0m1-2h0m1 2h0m1-2h0m0 0h0m0 2h0m0-2h0m1 0h0m1-2h0m0 4h0m0-1h0m1-2h0m0 3h0m2-4h0m3 0h0m0 4h0m1-3h0m2 3h0m0-3h0m2 1h0m1 2h0m3-4h0m1 2h0m1 2h0m1-3h0m3-1h0m1 0h0m1 0h0m1 2h0m0-2h0m0 3h0m-1 6h0m0-1h0m-1 0h0m0 1h0m-1 0h0m-2-2h0m-1 0h0m-1 0h0m0 2h0m-1 0h0m0-4h0m0 1h0m-3-1h0m-1 4h0m0-4h0m0 2h0m0 2h0m-1-3h0m0 2h0m-4-3h0m-1 2h0m-1 0h0m-1-2h0m0 0h0m-1 2h0m0-1h0m-5 2h0m0-1h0m-1 1h0m-1 0h0m-1-2h0m-2-1h0m0 1h0m-1 0h0m-3-1h0m-5 3h0m-1-1h0m0 0h0m-3 1h0m-1-1h0m-1-2h0m-2 4h0m0-4h0m-2 1h0m-1-1h0m0 0h0m0 4h0m-4-4h0m0 1h0m-3 0h0m-1 2h0m0-1h0m0 2h0m0-3h0m-1 2h0m-1 0h0m0-3h0m0 0h0m-1 2h0m-1 1h0m0 0h0m0-3h0m-2 1h0m-1-1h0m-1 0h0m0 4h0m-1-2h0m0 0h0m0-1h0m-2 2h0m0-1h0m-3 0h0m0-2h0m0 0h0m-3 4h0m0 0h0m-1 0h0m-1-4h0m-1 3h0m-2-3h0m-4 0h0m0 4h0m-1-2h0m0-1h0m-1 1h0m0-1h0m-1-1h0m-1 2h0m-2 1h0m0 0h0m-1-3h0m-1 0h0m-1 1h0m-2-1h0m-1 1h0m-1 3h0m0-2h0m-1 2h0m-1-2h0m-1-2h0m0 4h0m0 0h0m-1-1h0m0 1h0m-1-4h0m-1 3h0m0 0h0m0 0h0m-1 0h0m0-1h0m0 2h0m-1 0h0m-2-1h0m-1-3h0m-2 1h0m-5 3h0m0-3h0m-2 3h0m0-2h0m-1 0h0m0 1h0m-1 0h0m0 0h0m-1-2h0m0 1h0m0-1h0m-1-1h0m-1 4h0m-1-2h0m-1 2h0m-4-4h0m-1 3h0m-3 1h0m0 0h0m0-3h0m-2 1h0m-1 1h0m0-3h0m-1 1h0m-1 2h0m-1-1h0m-2 0h0m0 1h0m-2-3h0m0 1h0m-4 1h0m-1 1h0m-1-2h0m-2 0h0m-2 1h0m-1 2h0m0-3h0m-1 1h0m-3 2h0m-1-1h0m-1-2h0m-5 0h0m-1 0h0m-2 1h0m-2 0h0m0-2h0m-3 3h0m0 0h0m-1-2h0m-2-1h0m-1 2h0m-1 1h0m0 0h0m-3 0h0m-1 6h0m1-3h0m7 2h0m2-1h0m0 2h0m2-2h0m0 1h0m1 0h0m1 0h0m0 1h0m0-4h0m0 3h0m1-2h0m0 2h0m5-2h0m2 2h0m0-3h0m0 3h0m1-1h0m0-1h0m1 0h0m0 1h0m0 0h0m2 1h0m3 1h0m1-3h0m0 0h0m2 0h0m0 3h0m3-3h0m0 1h0m1 2h0m1-1h0m1-2h0m1 2h0m1-1h0m3 0h0m1 1h0m0 1h0m2 0h0m0-3h0m1 3h0m1-4h0m1 0h0m0 4h0m1 0h0m1-3h0m1 1h0m3-2h0m1 3h0m0-2h0m0-1h0m0 1h0m1-1h0m2 2h0m0 1h0m1-3h0m1 2h0m3 0h0m1 0h0m0 2h0m2-3h0m1-1h0m2 4h0m3-4h0m0 2h0m2-2h0m7 0h0m0 3h0m1-1h0m1-2h0m1 3h0m0-2h0m0 2h0m1-1h0m0 2h0m0 0h0m0-2h0m3 2h0m0-2h0m0 0h0m2-2h0m0 1h0m0 1h0m1 1h0m0 0h0m0 1h0m2-3h0m1-1h0m0 4h0m0-3h0m1 2h0m2-1h0m4 0h0m2 2h0m1 0h0m0-4h0m1 4h0m0-3h0m1 3h0m1-1h0m0 0h0m1-2h0m1 3h0m0-2h0m3 1h0m0-3h0m0 2h0m1-1h0m1 0h0m1 2h0m2-1h0m0-1h0m1-1h0m0 4h0m1-3h0m3 2h0m0 0h0m1-3h0m1 2h0m1-1h0m2 1h0m3-1h0m0-1h0m2 4h0m1-4h0m0 0h0m1 1h0m0 2h0m1-3h0m0 3h0m1-1h0m0-1h0m1 0h0m0 3h0m2-1h0m2 1h0m0-3h0m1 0h0m0 1h0m0-2h0m1 2h0m0-1h0m2-1h0m1 1h0m9 2h0m0 1h0m1-2h0m0 2h0m1-1h0m0 1h0m0-2h0m0 1h0m1-1h0m0-2h0m3 0h0m0 3h0m2-3h0m0 2h0m2-1h0m6 3h0m3-2h0m1 1h0m2-3h0m0 0h0m0 4h0m3 0h0m2-1h0m1-1h0m0 5h0m0-1h0m-2 2h0m0 1h0m-1 0h0m0-2h0m-2 1h0m-1 0h0m-1-2h0m0 2h0m0-1h0m0-2h0m0 3h0m0-1h0m-1 2h0m0-1h0m-1-1h0m0 2h0m-1-2h0m-1-2h0m-1 4h0m-1-1h0m-1-1h0m-5-2h0m0 2h0m-2-2h0m-2 0h0m0 1h0m0-1h0m-3 1h0m-3-1h0m-1 2h0m0 1h0m0-2h0m-1 2h0m-1 1h0m-1 0h0m-1-1h0m0-1h0m-1-1h0m0-1h0m0 4h0m-2-2h0m-1-2h0m-4 1h0m-6 0h0m0 2h0m-2-3h0m0 2h0m-1 1h0m0-2h0m-1 1h0m-1 1h0m0-1h0m-1-1h0m0 3h0m0-3h0m-3 0h0m-1 3h0m-3-1h0m0 0h0m-1 0h0m-1-1h0m0 0h0m-1-2h0m-2 0h0m-1 1h0m-1-1h0m0 3h0m-4-3h0m0 3h0m-1-2h0m-1 3h0m0-2h0m-1 1h0m0-2h0m0 2h0m-3-2h0m-1 1h0m0 1h0m0-3h0m-1 4h0m-2 0h0m-3 0h0m-5-2h0m0-1h0m-1 2h0m-2 1h0m-1-2h0m0 2h0m-1-2h0m0 1h0m-1-3h0m-2 0h0m0 0h0m-1 4h0m0-4h0m-2 2h0m0 1h0m-1-3h0m-1 2h0m-1 2h0m-1-4h0m-4 2h0m0 1h0m-1-3h0m0 2h0m-1 0h0m-2 0h0m0 1h0m-2-3h0m0 1h0m-1 0h0m-2 2h0m-1-3h0m-1 3h0m-1 1h0m-1-1h0m-1 1h0m-3-2h0m0 1h0m-3-1h0m-1 2h0m-2-3h0m-1 0h0m0 1h0m-2-1h0m-1-1h0m-1 0h0m-1 2h0m-3 0h0m-1-2h0m0 4h0m0-4h0m-1 1h0m0 2h0m0-1h0m0 0h0m-3-2h0m0 0h0m-2 3h0m0-3h0m-1 2h0m-4 0h0m-1 2h0m-1 0h0m0-1h0m-1-1h0m0 0h0m-2 1h0m0-1h0m0 1h0m-1-1h0m0 2h0m-1-4h0m0 3h0m-1-1h0m-3 2h0m-1-4h0m-1 0h0m-2 1h0m0-1h0m-1 3h0m0-3h0m-2 3h0m-1 0h0m-2-1h0m0 2h0m-1 0h0m-2-2h0m0 0h0m0-2h0m-1 1h0m0-1h0m-1 2h0m0-1h0m-1 2h0m0-1h0m-3 0h0m-1 0h0m2 3h0m0 3h0m2 0h0m0 1h0m1-3h0m2 3h0m1-4h0m1 2h0m2-2h0m0 3h0m0 0h0m1-3h0m0 4h0m0-4h0m3 1h0m1 1h0m1 1h0m0-1h0m1 1h0m1-1h0m0 1h0m0 0h0m1 1h0m1-3h0m1 1h0m2 0h0m1 0h0m3 0h0m0 2h0m1-1h0m1-2h0m1 3h0m2 0h0m0-4h0m1 3h0m4-2h0m0-1h0m0 3h0m0-1h0m1 0h0m1-2h0m2 2h0m1-2h0m0 1h0m0 1h0m0 1h0m1-1h0m0-2h0m1 4h0m2-4h0m0 3h0m1-2h0m1 3h0m1-2h0m0-2h0m2 3h0m1-2h0m1 3h0m1-1h0m1-2h0m3 1h0m0 0h0m1 2h0m1-2h0m1-2h0m1 2h0m1 1h0m1-2h0m0 2h0m1-1h0m1 1h0m0 1h0m0-1h0m1-1h0m1-1h0m2 2h0m0 1h0m0-3h0m1-1h0m0 0h0m1 3h0m0-2h0m2 3h0m0 0h0m0 0h0m0 0h0m0-1h0m0-3h0m0 3h0m0-3h0m0 4h0m1-4h0m1 1h0m0 2h0m0-2h0m1 1h0m1 1h0m0 1h0m1-4h0m0 3h0m2 0h0m1 1h0m1-1h0m0-1h0m0 2h0m1 0h0m0-3h0m1 1h0m1 1h0m1 0h0m0-1h0m1 1h0m0-1h0m1 0h0m0 2h0m1-1h0m3 1h0m2 0h0m0-4h0m5 1h0m1 0h0m3-1h0m2 1h0m1 3h0m0-2h0m1-2h0m2 4h0m2-1h0m1 0h0m0 0h0m0 0h0m1 1h0m2-1h0m0-1h0m1-1h0m0 1h0m1 2h0m0 0h0m1-2h0m1-2h0m0 4h0m1 0h0m0 0h0m2-4h0m1 1h0m1 1h0m1-2h0m2 3h0m1-1h0m1-2h0m0 2h0m2 0h0m3 0h0m2-2h0m0 2h0m0-1h0m1 1h0m2 1h0m2-3h0m2 1h0m0 3h0m1-4h0m0 0h0m0 4h0m1-4h0m2 1h0m1 3h0m1-3h0m3 0h0m0-1h0m1 2h0m0 1h0m2-2h0m0 2h0m2 0h0m3-3h0m1 2h0m5-2h0m1 2h0m1-1h0m1 3h0m0-2h0m1 0h0m1 1h0m0-2h0m1 2h0m0-1h0m1 2h0m1-4h0m2 2h0m4-1h0m0-1h0m1 0h0m-7 5h0m-1 4h0m-1-3h0m0 1h0m-1-2h0m-2 4h0m-1-3h0m0 2h0m-1 1h0m-1-2h0m0 1h0m-2 1h0m-1 0h0m-1-3h0m-1 3h0m0-1h0m-1-2h0m-1 2h0m-1-2h0m-1-1h0m0 1h0m-1-1h0m-1 1h0m-1 3h0m0-3h0m-3 3h0m0-4h0m-1 1h0m-6 1h0m-1 0h0m-1 0h0m0 1h0m0-1h0m-1 2h0m0-4h0m0 0h0m-2 3h0m-1-3h0m-2 1h0m0 1h0m0 1h0m-4-1h0m0 2h0m0-2h0m0 0h0m-2 0h0m-1-1h0m0 3h0m-1-4h0m0 0h0m0 4h0m-3-2h0m-1 0h0m-1 2h0m-1 0h0m-1-3h0m0 1h0m-1 0h0m0 1h0m-1-2h0m0 2h0m-2-1h0m-1 0h0m-1 1h0m-2 0h0m0 0h0m0-1h0m-1 2h0m0-4h0m-2 4h0m0-2h0m-1-1h0m-1 1h0m0 0h0m0 1h0m0-1h0m-1 1h0m-2-1h0m-3 1h0m-2-2h0m-2 3h0m-1 0h0m-1-3h0m-1 3h0m0 0h0m-1 0h0m0 0h0m-1 0h0m0-4h0m0 2h0m-1 2h0m0-4h0m0 3h0m-1-3h0m0 1h0m0 3h0m-1-4h0m0 0h0m-1 4h0m0-4h0m-2 4h0m0-1h0m0 0h0m0-2h0m-1 3h0m0 0h0m-1-4h0m-2 3h0m-1-3h0m-2 4h0m-1-3h0m-1-1h0m-1 1h0m-1 0h0m0 0h0m-1 2h0m-2-1h0m0-1h0m0 0h0m0 1h0m-2 0h0m0 1h0m0-3h0m-1 1h0m0 2h0m-1-2h0m0 3h0m0 0h0m-1-1h0m0 0h0m0-2h0m-1 1h0m0-1h0m-1 3h0m-5-3h0m-1 1h0m0 1h0m-2-2h0m0 3h0m0-3h0m-1 3h0m-1 0h0m0-1h0m-3 0h0m0-1h0m-1-1h0m-1 1h0m-2 1h0m-1 0h0m-5 0h0m0 1h0m-2-1h0m-1 1h0m0-1h0m0-2h0m-2 2h0m-1-1h0m0 2h0m-1 0h0m-1-3h0m-1 1h0m0 0h0m-1-1h0m-1 1h0m0 0h0m-1 2h0m-1 0h0m-1-2h0m0 0h0m0 2h0m0-2h0m-1-2h0m-3 0h0m0 2h0m-1-2h0m-1 0h0m0 2h0m-3 1h0m-1-3h0m0 0h0m-1 0h0m-2 4h0m-1-3h0m-1 2h0m-1 0h0m-2-2h0m0-1h0m-1 0h0m-2 1h0m-1 0h0m-4-1h0m-1 0h0m3 6h0m0 1h0m1-2h0m1 4h0m0-3h0m2 2h0m1 0h0m3-3h0m0 3h0m0-1h0m1 2h0m3-1h0m0 1h0m3-2h0m2 0h0m1 1h0m1-2h0m0 3h0m2-4h0m2 2h0m4 1h0m1-1h0m0-2h0m2 2h0m0-2h0m0 2h0m1 0h0m0-1h0m0 3h0m1-1h0m0 1h0m0-2h0m1 2h0m4-4h0m1 4h0m1-2h0m0-2h0m4 3h0m1 1h0m1-3h0m1 1h0m1 1h0m1-1h0m1 0h0m0 2h0m1 0h0m0-3h0m1 2h0m0-2h0m1 3h0m0-1h0m0-3h0m2 0h0m0 3h0m1 1h0m2-1h0m1-1h0m0 0h0m2 0h0m1-1h0m1 1h0m0 0h0m0-1h0m2 0h0m0 2h0m0 1h0m2-3h0m0-1h0m1 1h0m1 0h0m1 2h0m0-3h0m1 0h0m1 4h0m0-2h0m1 1h0m5 0h0m0-2h0m2 1h0m3-1h0m1 1h0m0 1h0m1 0h0m0 0h0m2-3h0m1 2h0m0 0h0m2 1h0m1-3h0m0 1h0m0 0h0m1 1h0m2 1h0m0 0h0m2-3h0m0 0h0m0 3h0m3-3h0m1 1h0m1 3h0m1-3h0m1 0h0m2-1h0m1 3h0m0 0h0m0-1h0m0 0h0m0 2h0m1 0h0m1 0h0m0-1h0m4-3h0m0 4h0m0-3h0m2-1h0m2 0h0m0 0h0m1 0h0m1 1h0m0 0h0m0 3h0m1-3h0m0 1h0m1-2h0m0 3h0m1-2h0m4 2h0m0 0h0m2-2h0m2 0h0m3 1h0m1 1h0m0-3h0m1 4h0m0-4h0m0 2h0m1 2h0m1-4h0m0 0h0m0 4h0m1-3h0m1 1h0m0 2h0m1-1h0m1 0h0m0-2h0m0 1h0m3 1h0m1-2h0m0 1h0m3 0h0m1-1h0m0 2h0m0 0h0m0-1h0m0-1h0m2 0h0m0-1h0m1 3h0m0 1h0m2-3h0m0 2h0m1-3h0m1 0h0m6 1h0m0 3h0m4-1h0m1 1h0m1 0h0m0 0h0m0-2h0m2 1h0m0-3h0m0 3h0m-4 2h0m0 4h0m-4-4h0m0 4h0m-1-2h0m-1-1h0m-3 1h0m0 1h0m0-3h0m-2 0h0m-1 0h0m-1 0h0m0 2h0m0 1h0m-1-1h0m-2-1h0m-1 1h0m-1 0h0m0 0h0m-1 1h0m-2 0h0m-1 1h0m-1 0h0m-1-4h0m0 4h0m-1-2h0m-1 1h0m-1 1h0m-1-2h0m-1 1h0m-1 0h0m-2 1h0m-1-1h0m-2-3h0m-5 4h0m-2-3h0m0 0h0m-2 2h0m-1 0h0m0-3h0m-2 4h0m-1-2h0m-1 1h0m-1 0h0m-1-3h0m0 3h0m-1 1h0m-2 0h0m0-2h0m0 0h0m-2 2h0m0-3h0m0 2h0m-2 0h0m0-1h0m-1 1h0m-1-1h0m0 2h0m0-4h0m0 2h0m-2 2h0m0 0h0m-1-4h0m0 4h0m-3-3h0m-2 0h0m-1-1h0m-1 2h0m0-2h0m-3 1h0m-4-1h0m-1 0h0m-5 4h0m-2-1h0m0-3h0m-1 4h0m-1-2h0m0 0h0m-2 2h0m0-1h0m0-1h0m0 1h0m-1-3h0m0 4h0m-2-3h0m-1 1h0m-1 0h0m0 0h0m-1 2h0m0 0h0m-1 0h0m-1-4h0m-4 4h0m0-3h0m-1 2h0m-1 0h0m-1 1h0m0-2h0m-1 1h0m-1-1h0m-2 1h0m-3 0h0m-3-2h0m-2 2h0m-2 0h0m-2 0h0m-1 0h0m-1 0h0m-1-3h0m-1 1h0m-1-1h0m-1 3h0m-2-3h0m-1 4h0m0 0h0m-1 0h0m-1-1h0m-1-1h0m0 0h0m0-1h0m0-1h0m-1 4h0m-2 0h0m-1-3h0m-5 3h0m0-3h0m0 3h0m0-1h0m-2-2h0m0 1h0m-4 1h0m0-1h0m-3-2h0m0 0h0m-1 1h0m-1 2h0m-1-3h0m-1 0h0m-1 4h0m-2-2h0m-1-2h0m-1 1h0m8 6h0m1-1h0m0 3h0m1-1h0m3-1h0m1 1h0m2-3h0m0 4h0m2-1h0m0 1h0m1 0h0m1 0h0m3 0h0m0-3h0m0 3h0m0-3h0m1-1h0m0 3h0m0-2h0m4 1h0m0 2h0m3-2h0m0 1h0m1 1h0m3-1h0m2 0h0m0-3h0m1 1h0m3 3h0m1-4h0m0 3h0m2-3h0m0 0h0m1 4h0m1 0h0m1 0h0m0 0h0m2-1h0m0 1h0m1 0h0m2-2h0m1 2h0m2-1h0m1 1h0m1 0h0m2-3h0m1 2h0m1-2h0m0 2h0m2 0h0m2-2h0m1 1h0m0-2h0m1 4h0m5-3h0m1 1h0m0 0h0m4-1h0m1-1h0m0 4h0m1-4h0m0 4h0m0-4h0m1 3h0m3-3h0m3 1h0m0 1h0m1 2h0m0-1h0m1 1h0m0 0h0m1 0h0m1-3h0m1-1h0m0 3h0m1-3h0m2 0h0m0 4h0m1-1h0m0-2h0m0-1h0m0 2h0m1 0h0m0-1h0m0 2h0m1 0h0m4-1h0m2 1h0m0-2h0m0 0h0m4-1h0m0 1h0m2 3h0m1-1h0m1-1h0m0 1h0m1-2h0m2-1h0m3 1h0m0 0h0m0 3h0m3-3h0m0 2h0m1 0h0m2-2h0m0-1h0m1 3h0m1-1h0m1-1h0m4 3h0m0-1h0m0-1h0m0-1h0m1 3h0m1-4h0m2 0h0m0 0h0m1 4h0m1 0h0m0 0h0m1-1h0m5 1h0m1-3h0m1 2h0m2 0h0m2-3h0m0 0h0m1 4h0m1-2h0m0 0h0m0-2h0m0 3h0m0 0h0m1-1h0m0 2h0m1-2h0m3 1h0m-4 3h0m-3 3h0m-1-4h0m-2 0h0m-1 1h0m0 2h0m-4 0h0m0-2h0m0 1h0m-1 2h0m-1-1h0m-1-1h0m-1 2h0m0-4h0m-1 1h0m0-1h0m-1 4h0m-1 0h0m0 0h0m0-1h0m-1 1h0m0-1h0m-3-2h0m0 3h0m-1-4h0m-1 4h0m-2-1h0m-2 1h0m0-4h0m-1 0h0m-3 3h0m0 0h0m0-1h0m-1 1h0m0-2h0m-2-1h0m0 1h0m0 0h0m-1 2h0m-1 0h0m-2-1h0m-2-1h0m-1 3h0m0 0h0m-2-3h0m-1-1h0m-1 0h0m0 0h0m-4 2h0m0-2h0m-1 3h0m-1-3h0m-5 3h0m-1 0h0m0-2h0m0 1h0m-1-1h0m-3 1h0m-3 1h0m0-3h0m-2 3h0m0-2h0m-3 3h0m-1-2h0m0 0h0m-3 2h0m-1-1h0m-5-2h0m-3-1h0m0 0h0m-1 1h0m0-1h0m-1 2h0m0-1h0m-2 0h0m-2 1h0m0-1h0m-1 3h0m0-2h0m-1-2h0m-3 4h0m-2-4h0m-1 3h0m-1 1h0m-2-3h0m-1 3h0m-1-1h0m-1 1h0m-1-3h0m-3 3h0m0-3h0m-3 1h0m-4 1h0m0-3h0m0 0h0m-2 2h0m-1 0h0m0-2h0m-3 4h0m-1-2h0m0 2h0m-1-4h0m-2 1h0m-1 0h0m0-1h0m-2 3h0m0-3h0m-1 0h0m-1 3h0m-1-1h0m-3-2h0m0 0h0m-1 3h0m-2 0h0m0 1h0m0-1h0m-1-1h0m-1-1h0m-1 3h0m-1-2h0m-1 0h0m0-1h0m0 0h0m0 2h0m-1-3h0m3 7h0m0 1h0m0-2h0m0 2h0m1-3h0m3 3h0m1-2h0m0 3h0m3-3h0m1 1h0m1 1h0m0 0h0m0-1h0m1-1h0m1 3h0m1-2h0m1-2h0m0 1h0m3 3h0m0-4h0m1 4h0m2-3h0m3-1h0m0 3h0m1 0h0m0-1h0m1-2h0m1 1h0m0 2h0m2-2h0m1 3h0m0 0h0m1-3h0m2-1h0m0 1h0m2 1h0m2-1h0m1 2h0m0-3h0m1 4h0m1-2h0m0 2h0m3 0h0m0-2h0m1-1h0m1 2h0m3-2h0m1 2h0m1-1h0m0 2h0m1-3h0m6 3h0m1-3h0m1 1h0m1-2h0m0 0h0m0 3h0m1-3h0m0 1h0m0 2h0m3-3h0m0 4h0m1-3h0m0 3h0m0-3h0m1 3h0m1-2h0m0-2h0m2 4h0m1 0h0m1-1h0m2-3h0m3 1h0m1 1h0m0-1h0m1 2h0m0 0h0m0 0h0m0 0h0m0-2h0m2 0h0m5 0h0m1 3h0m1-2h0m0 2h0m1-1h0m1 1h0m0-3h0m2-1h0m0 2h0m1-1h0m1 0h0m1 1h0m0 1h0m0 0h0m1 1h0m3-3h0m1 2h0m1-3h0m0 3h0m4 0h0m0 0h0m2-3h0m2 3h0m1 1h0m1-1h0m2-1h0m1-2h0m0 0h0m0 1h0m1 0h0m1 1h0m0-1h0m2 0h0m0 0h0m2 2h0m0-2h0m1 3h0m5-3h0m0-1h0m2 0h0m0 1h0m1 2h0m2-3h0m0 4h0m1-2h0m2 0h0m0-2h0m0 3h0m0-1h0m2-1h0m1-1h0m0 0h0m-4 5h0m-1 1h0m0 0h0m-1 0h0m-2 3h0m-3-3h0m-1 3h0m-1-1h0m-1-3h0m0 3h0m-1-2h0m-1-1h0m0 4h0m-1-4h0m0 3h0m-2-3h0m0 2h0m-2 0h0m-1-2h0m-2 0h0m0 4h0m-1-1h0m0 1h0m0-2h0m-1-1h0m0 1h0m-2 0h0m0-2h0m-2 2h0m0 0h0m-1 2h0m-1-1h0m-5 0h0m-1-3h0m-3 1h0m0-1h0m-1 1h0m-1 3h0m-1-4h0m-1 2h0m-1-2h0m-1 1h0m0 2h0m-4-2h0m-2 1h0m0 1h0m-1 0h0m-1 0h0m0-3h0m-5 1h0m0 1h0m-1 0h0m-1 0h0m0-2h0m-1 1h0m-1 3h0m-1-3h0m-1-1h0m-1 1h0m-1 1h0m-1 2h0m0-1h0m0-1h0m0 2h0m0-3h0m-2 1h0m0 0h0m0 1h0m-2 0h0m0-3h0m-2 0h0m-2 4h0m0-3h0m-1 0h0m-1 0h0m0 1h0m-1 2h0m-3 0h0m0-1h0m-3 0h0m-1 0h0m0-1h0m-7 1h0m-1 0h0m0 1h0m0 0h0m-2-4h0m0 2h0m0 2h0m0-4h0m-2 2h0m-3-2h0m0 4h0m-2-2h0m-1-2h0m-1 2h0m0 0h0m-2-1h0m-2 1h0m0-1h0m0 1h0m0 0h0m-1 1h0m0-1h0m-1-2h0m0 3h0m-1-1h0m0 2h0m-1-2h0m0-1h0m0 3h0m-1-4h0m-1 2h0m-1 1h0m0-2h0m-1 0h0m-1 0h0m-1 1h0m0 1h0m-1-3h0m0 3h0m0-3h0m-2 0h0m-1 4h0m0-3h0m-1 3h0m0-1h0m-3 1h0m0-4h0m0 2h0m-1 1h0m0 0h0m-1 1h0m-2-2h0m-1 1h0m3 2h0m0 2h0m1 0h0m0-1h0m2 0h0m0 3h0m2-1h0m2-3h0m1 2h0m1 1h0m0 0h0m3-2h0m0-1h0m0 4h0m1-2h0m0 1h0m3 1h0m1 0h0m1 0h0m0 0h0m4-2h0m0 2h0m4-4h0m1 4h0m1-3h0m3 3h0m0-4h0m1 4h0m0 0h0m0 0h0m1-4h0m2 3h0m1 0h0m3 0h0m0 1h0m0-1h0m2 0h0m1 1h0m1 0h0m1-4h0m0 0h0m1 0h0m3 3h0m0-1h0m2 2h0m0-2h0m1-1h0m3 2h0m0-3h0m2 0h0m1 2h0m2 2h0m1-3h0m0 1h0m1 2h0m3-1h0m1-2h0m0 2h0m1-3h0m1 1h0m0 2h0m1 1h0m2-2h0m0 1h0m1-1h0m0-1h0m1 1h0m1 2h0m1-1h0m1-1h0m4 0h0m3 1h0m0 1h0m0-2h0m1 0h0m1 0h0m2-1h0m1 2h0m1 0h0m2-3h0m0 0h0m1 1h0m2-1h0m1 0h0m2 3h0m2-2h0m1 0h0m1-1h0m1 2h0m0-2h0m3 2h0m2-1h0m2 1h0m1-1h0m1-1h0m0 3h0m1-3h0m0 2h0m1 2h0m1-1h0m0 0h0m1-2h0m4 1h0m1-2h0m1 1h0m0 3h0m2-1h0m0 0h0m3-2h0m1 2h0m0-2h0m1 2h0m2 6h0m-2 0h0m-3 0h0m-3-1h0m0-2h0m-2 1h0m-5 1h0m-3-1h0m0-2h0m-1 2h0m-2 0h0m-2-2h0m0 0h0m0 2h0m-2-1h0m-1 3h0m0-2h0m0-1h0m-2 2h0m-1-2h0m-5-1h0m-1 1h0m-4-1h0m0 0h0m-2 2h0m0-1h0m-3 1h0m-1-1h0m0 0h0m0 1h0m-1-2h0m0 4h0m-1 0h0m-1 0h0m-2-4h0m-1 1h0m0 2h0m0 0h0m-1-2h0m-1 1h0m-1-1h0m0-1h0m-1 0h0m-1 2h0m-1 0h0m-1-2h0m0 3h0m0 0h0m0 1h0m-2 0h0m-1-4h0m-2 1h0m-1 2h0m0-2h0m0 2h0m0-1h0m-2 2h0m-1-1h0m0-3h0m-1 2h0m0 2h0m-2-4h0m0 2h0m0 1h0m-1 1h0m0-3h0m-2-1h0m0 3h0m-1 1h0m-1-2h0m-1 0h0m0 1h0m-2-2h0m-1 1h0m-1 1h0m-1 0h0m0-2h0m-1 1h0m0 1h0m0-3h0m-1 1h0m0-1h0m-2 2h0m-2 1h0m-1 1h0m0-2h0m0 2h0m0 0h0m-1-3h0m0 0h0m-2 1h0m-2-2h0m-1 2h0m-1 0h0m0 1h0m-2-2h0m0-1h0m-2 4h0m0-3h0m-2 2h0m0-3h0m-1 3h0m0-1h0m0 0h0m-1 0h0m0 0h0m-1-2h0m-1 1h0m-2-1h0m-1 2h0m0-2h0m0 3h0m-1 0h0m-1 0h0m-1-2h0m-2 3h0m0-3h0m-4 2h0m-2-2h0m0 2h0m-2-3h0m-1 3h0m-1-1h0m-1-1h0m-1 1h0m0-2h0m-2 0h0m-1 1h0m0 0h0m3 5h0m1 3h0m1-4h0m0 0h0m2 4h0m2-1h0m0 1h0m0-2h0m1-1h0m0 0h0m1 1h0m0-2h0m2 2h0m0 2h0m0 0h0m0-3h0m2 1h0m1-2h0m1 1h0m0-1h0m2 3h0m0-2h0m2 1h0m3-2h0m2 4h0m0-1h0m0 1h0m1-2h0m4 2h0m1-3h0m0 0h0m0 2h0m1-1h0m0 1h0m3-1h0m1-1h0m2 3h0m0 0h0m0-4h0m0 4h0m2-1h0m0-1h0m0 2h0m0-3h0m1 3h0m4-1h0m1-1h0m2-2h0m1 3h0m5 0h0m1 0h0m4-3h0m1 3h0m0-2h0m0-1h0m1 2h0m0-2h0m0 0h0m3 4h0m0-2h0m2 1h0m0 0h0m3 0h0m1 1h0m3-3h0m2 2h0m0-3h0m1 4h0m0-1h0m2 1h0m0-4h0m1 2h0m1-2h0m0 3h0m0 1h0m3-1h0m0 1h0m2 0h0m1-2h0m4 0h0m1 1h0m0 1h0m0-4h0m1 1h0m1 0h0m5 1h0m1 1h0m0-1h0m2-1h0m0 2h0m0-1h0m1 0h0m3 2h0m2-3h0m0 2h0m1-1h0m0 2h0m0-4h0m1 1h0m1 2h0m0 0h0m2 1h0m0 0h0m2-4h0m1 1h0m1 1h0m0-1h0m1 2h0m0 1h0m1-3h0m1-1h0m1 2h0m5-1h0m-5 4h0m-6 1h0m-2-1h0m-1 0h0m0 0h0m0 0h0m-1 1h0m0 0h0m-1-1h0m0 0h0m-4 1h0m-2-1h0m-3 1h0m0-1h0m-5 1h0m0 0h0m-1 1h0m-4 1h0m0-1h0m-1 1h0m-1-3h0m0 2h0m0-1h0m-1 0h0m0 1h0m-1 0h0m0-2h0m-1 0h0m0 2h0m0 0h0m0 2h0m-1-1h0m0 1h0m-1-4h0m-2 3h0m-2-1h0m0-2h0m-2 1h0m-1 2h0m-1-1h0m-1 2h0m0-4h0m-1 2h0m-1 2h0m-1-2h0m0 2h0m-1-2h0m0 0h0m0 0h0m-1 0h0m0 0h0m-5-2h0m-4 0h0m-3 0h0m-13 1h0m0-1h0m-2 0h0m-2 2h0m-1 2h0m0-3h0m0 0h0m-3 0h0m-2 1h0m-2 2h0m0 0h0m-2-4h0m-1 1h0m-1 2h0m0-2h0m-1 2h0m0 1h0m-1-1h0m-3-3h0m-1 4h0m0-3h0m-1 3h0m-1-4h0m-2 3h0m0-2h0m-1 3h0m0-2h0m-1 1h0m-1-2h0m-3 3h0m-1 0h0m-1-2h0m-1-2h0m0 2h0m-1-1h0m-2 0h0m-1 1h0m-1-2h0m9 7h0m1 0h0m0-1h0m1 1h0m1 1h0m1-3h0m1 1h0m0 1h0m8-1h0m4 0h0m3 0h0m4-1h0m31 0h0m2 0h0m2 0h0m2 1h0m0 0h0m1-1h0m1 0h0m9 3h0m1-1h0m2 0h0m0-2h0" stroke="#6b6b6b" stroke-width="2.00" stroke-linecap="round" fill="none"/>
<path d="M99 1683h0m0 1h0m0 0h0m1-1h0m-2 2h0m-1 0h0m0 0h0m0 1h0m-1 2h0m0-1h0m0-2h0m-1 0h0m0 3h0m-1-2h0m0-1h0m0 0h0m0 1h0m-1 1h0m0-1h0m0 0h0m-1 0h0m-1 0h0m0 0h0m0 0h0m0 3h0m-1-1h0m0-1h0m0-1h0m0 2h0m-1 0h0m0 0h0m-1 0h0m0-1h0m-1 1h0m0 0h0m-1 1h0m-1-1h0m0 0h0m-1 1h0m0 0h0m0 0h0m0-1h0m-1 1h0m-1 0h0m-1 0h0m-6 5h0m0 0h0m0 0h0m1-1h0m1 0h0m1 1h0m0-2h0m1 1h0m0-2h0m0 2h0m0-2h0m1 3h0m0-3h0m0 3h0m1-4h0m0 0h0m0 0h0m1 2h0m0 2h0m1-4h0m0 0h0m0 2h0m0 0h0m0 1h0m0 1h0m0-3h0m1 2h0m0 0h0m0 1h0m0-4h0m0 0h0m1 0h0m0 3h0m0 0h0m0-2h0m0 3h0m1-4h0m0 2h0m0-1h0m0 0h0m0 0h0m0 1h0m0 1h0m1-2h0m0 0h0m0-1h0m0 0h0m0 2h0m1-1h0m0 1h0m0-2h0m0 3h0m0-2h0m0 1h0m0 1h0m1-1h0m1-1h0m0 1h0m0 1h0m0 0h0m0-1h0m1 1h0m0-3h0m1 1h0m1-1h0m-5 5h0m-1 3h0m0-2h0m0 0h0m-1 1h0m0-2h0m0 4h0m-1-3h0m0-1h0m0 0h0m0 3h0m0 0h0m-1-2h0m0-1h0m0 4h0m0-1h0m0 0h0m-1 0h0m-1 0h0m0 1h0m0-4h0m-1 4h0m0 0h0m-2 0h0m-1-2h0m0 1h0m0 0h0m0 0h0m0 1h0m0-2h0m0 2h0m-1-3h0m0 0h0m0 0h0m0 2h0m-1-1h0m0-1h0m-1 1h0m0 1h0m-1-1h0m0 2h0m0-3h0m-1 2h0m0 1h0m-1-1h0m0 1h0m0-1h0m0 1h0m0-1h0m-1 1h0m0-2h0m0 0h0m-1 2h0m-4 4h0m1 0h0m0 0h0m0 0h0m1-2h0m0 1h0m0 1h0m0-1h0m0 0h0m0 2h0m0-1h0m0-2h0m1 3h0m0-2h0m0 1h0m0 0h0m0-2h0m0 3h0m1-2h0m0-1h0m1 0h0m1 0h0m0 1h0m0-2h0m1 2h0m0 2h0m0-1h0m0-2h0m0 3h0m1-3h0m0 2h0m1 1h0m1 0h0m0-2h0m1 1h0m0-1h0m0 2h0m1 0h0m0-2h0m1 0h0m0 2h0m0-4h0m0 3h0m0 1h0m0-4h0m1 4h0m0-3h0m0 3h0m0-4h0m0 4h0m1-4h0m0 4h0m1-4h0m0 0h0m0 4h0m0-2h0m0-1h0m0 2h0m1 0h0m0-3h0m0 0h0m0 4h0m0-3h0m0 1h0m1-1h0m0 0h0m1 1h0m0-1h0m1 0h0m-3 4h0m-1 3h0m0 0h0m0-2h0m-1 2h0m0 0h0m0-2h0m0 3h0m-1-3h0m-1 1h0m0 0h0m0-2h0m0 3h0m-1-1h0m-1 1h0m0 0h0m0-3h0m0 3h0m0-1h0m0 2h0m-1-3h0m0 0h0m0-1h0m0 4h0m0-4h0m-1 0h0m0 3h0m0-2h0m0 2h0m0-1h0m-1 1h0m0-2h0m0 0h0m0 2h0m0-1h0m0 1h0m0-2h0m-1 2h0m0 1h0m0 0h0m0 0h0m-1-1h0m0 1h0m0 0h0m0-4h0m0 1h0m-1 0h0m0 3h0m0-4h0m0 0h0m-1 3h0m0-1h0m0 2h0m0-4h0m0 1h0m0 1h0m-1 1h0m0 1h0m0 0h0m0-2h0m-1 2h0m0-2h0m-1 1h0m0-2h0m-1 3h0m0 0h0m0-1h0m0-2h0m0 3h0m-1-2h0m0 2h0m0-3h0m0 2h0m0-2h0m0 1h0m-2 1h0m-3 6h0m1 0h0m1-2h0m0 2h0m0-3h0m0 1h0m0 1h0m1-3h0m0 2h0m1-1h0m0 1h0m1 2h0m0-2h0m0 0h0m1 1h0m0-3h0m0 0h0m1 2h0m0 2h0m0-1h0m0-1h0m0-2h0m0 3h0m2 1h0m0 0h0m1-4h0m0 4h0m0-4h0m0 4h0m1-2h0m0 2h0m0-3h0m1-1h0m0 3h0m0-2h0m1 0h0m0 3h0m0-1h0m0-2h0m1 3h0m0-2h0m0 0h0m0-1h0m0 1h0m0 2h0m0-3h0m0 2h0m0-2h0m0 2h0m0-3h0m1 1h0m0 3h0m0-4h0m0 3h0m0-3h0m0 1h0m0 1h0m0 0h0m1-2h0m0 2h0m0 1h0m1-3h0m0 0h0m0 0h0m0 4h0m0 0h0m0 0h0m0-4h0m1 4h0m0-1h0m0-1h0m0 1h0m0 1h0m1-4h0m0 1h0m0-1h0m0 4h0m0-2h0m0-1h0m1 0h0m0 1h0m0 2h0m0-3h0m0-1h0m0 3h0m0-1h0m0 1h0m1-2h0m0-1h0m0 0h0m-2 5h0m0 4h0m-1-3h0m0 0h0m0 1h0m-1-1h0m0 0h0m-1-1h0m0 4h0m0-1h0m0 1h0m0-3h0m0 3h0m-1-1h0m0 0h0m0-3h0m0 2h0m0-2h0m0 1h0m0 3h0m0-4h0m0 0h0m-1 2h0m0-2h0m0 4h0m0-3h0m0 2h0m0 1h0m0-2h0m-1-1h0m0 1h0m-1 0h0m0-1h0m0 1h0m0 0h0m0-2h0m-1 2h0m-1 0h0m0-2h0m0 4h0m0-2h0m0 0h0m0 0h0m0 1h0m-1-3h0m-1 0h0m0 1h0m0 1h0m0-2h0m0 3h0m-1-3h0m0 3h0m0-2h0m0 0h0m0 2h0m-1-1h0m0-1h0m0 1h0m-1-1h0m0 1h0m0 1h0m0 1h0m0 0h0m0-1h0m0-1h0m-1 2h0m0 0h0m0-3h0m-1 1h0m0 1h0m-1-1h0m0 1h0m0-1h0m-1 2h0m0-3h0m0 2h0m0 0h0m0-2h0m-1 0h0m0 0h0m-1 0h0m0 3h0m0 0h0m-1 0h0m0 0h0m0-1h0m-3 6h0m0 0h0m1-1h0m0 0h0m0 0h0m0-1h0m1 1h0m1-1h0m0 0h0m0 0h0m0 0h0m0 1h0m0 1h0m1-2h0m0 2h0m0-3h0m0-1h0m0 4h0m1 0h0m0-4h0m0 2h0m0 2h0m0-4h0m0 1h0m1-1h0m0 2h0m0-1h0m0 1h0m0-2h0m1 2h0m0 1h0m1 1h0m0-2h0m1-1h0m0-1h0m0 4h0m0-1h0m0-3h0m0 1h0m0 1h0m1 1h0m0 1h0m0 0h0m0 0h0m0-2h0m0 2h0m0-3h0m1 0h0m0 1h0m0-1h0m0 0h0m1 3h0m0-1h0m1-1h0m0 2h0m0-4h0m0 3h0m1-1h0m0 1h0m0-1h0m1 2h0m0-1h0m0-3h0m0 1h0m1 1h0m0 1h0m0 1h0m0-3h0m0 3h0m1 0h0m0-3h0m0 3h0m0 0h0m0-4h0m0 1h0m1 2h0m0-1h0m0 1h0m1-1h0m0-1h0m0 0h0m0-1h0m0 1h0m1 0h0m0 0h0m0 3h0m0-3h0m0 1h0m1-2h0m0 4h0m0-4h0m1 4h0m0-2h0m0-2h0m0 3h0m0 1h0m1-2h0m0 0h0m0 0h0m0 5h0m-1 2h0m0-1h0m0 0h0m0 0h0m-1 1h0m0-2h0m0-1h0m0 2h0m0-1h0m-1-2h0m0 0h0m0 4h0m0-4h0m-1 2h0m0 1h0m-1-1h0m0 2h0m0-4h0m0 4h0m0-2h0m0 2h0m-1-2h0m0-2h0m-1 2h0m0-2h0m-1 2h0m-1 2h0m0-1h0m0-2h0m0 0h0m-1-1h0m0 1h0m0 0h0m0 3h0m-1-1h0m0-3h0m0 3h0m0-2h0m-1 1h0m0 1h0m0-2h0m0-1h0m0 0h0m0 0h0m0 0h0m-1 3h0m0-1h0m0 1h0m0-2h0m0 0h0m0 2h0m0-2h0m0 2h0m-1-3h0m0 4h0m0-3h0m-1 2h0m0-3h0m0 4h0m0-1h0m0-3h0m0 3h0m0-1h0m-1 1h0m0 0h0m0-2h0m0 2h0m0-3h0m0 0h0m0 2h0m0-1h0m0-1h0m0 2h0m-1 0h0m0-1h0m0 1h0m-1 1h0m0 0h0m-1 0h0m0-3h0m0 3h0m-1-1h0m0 0h0m-1 1h0m0-3h0m0 0h0m0 0h0m0 0h0m0 4h0m0-3h0m0 1h0m-1-2h0m0 2h0m-1 0h0m-1 0h0m0-1h0m0 3h0m-1 0h0m0-1h0m0 1h0m0 0h0m-1 0h0m0 0h0m0 0h0m-2 4h0m0-1h0m0 1h0m1-1h0m0 1h0m0 1h0m0 0h0m0 0h0m1-4h0m0 3h0m1 1h0m0 0h0m0 0h0m0-4h0m0 2h0m0-2h0m0 4h0m0-3h0m1 3h0m0 0h0m1-3h0m1 3h0m0-1h0m0-2h0m0 2h0m1-1h0m0-1h0m0 1h0m1 1h0m0-2h0m0-1h0m0 2h0m1 2h0m0-3h0m0 0h0m0 2h0m0-3h0m1 3h0m0 1h0m0-2h0m0 2h0m0 0h0m1 0h0m1-3h0m1 0h0m0 2h0m1 1h0m0-4h0m0 0h0m0 4h0m1-2h0m0 2h0m0-3h0m0 0h0m1 1h0m0-1h0m0-1h0m0 4h0m0-4h0m0 3h0m0-2h0m1 0h0m0 0h0m0-1h0m0 1h0m0 1h0m0-1h0m0-1h0m1 4h0m0-4h0m0 2h0m0-2h0m0 3h0m1-2h0m1 1h0m0 2h0m0-1h0m0-1h0m0-1h0m1 3h0m0-4h0m0 4h0m1-4h0m0 1h0m1 2h0m0-2h0m0 2h0m0 0h0m1-1h0m0 0h0m0-2h0m0 2h0m0-1h0m0 1h0m1 0h0m0-2h0m0 4h0m1-2h0m0 1h0m0 0h0m0-2h0m0 2h0m0-1h0m1-1h0m0 2h0m1 1h0m0-3h0m0 2h0m0 4h0m0-2h0m0 0h0m0 1h0m0 1h0m-1 1h0m0 0h0m0-1h0m0-1h0m-1 2h0m0-3h0m0 1h0m-1 3h0m0-4h0m0 2h0m0 2h0m0-4h0m-1 4h0m0-2h0m0 0h0m-1 0h0m-1 0h0m0 0h0m0-2h0m0 4h0m0-3h0m-1 1h0m0 1h0m0-1h0m0-1h0m-2 2h0m0-2h0m0 0h0m0 3h0m0-4h0m0 3h0m-1-1h0m0-1h0m0 2h0m0-1h0m0 0h0m-1-2h0m0 4h0m0-1h0m0-2h0m0 1h0m0 0h0m0-2h0m-1 2h0m0 1h0m-1-2h0m0 1h0m0-2h0m0 1h0m0 0h0m-1 3h0m0 0h0m0-1h0m0 1h0m0-2h0m0-2h0m-1 4h0m0-3h0m-1-1h0m0 2h0m0-1h0m0 2h0m0-1h0m0-2h0m-1 0h0m0 4h0m0-1h0m-1-1h0m0-1h0m0 0h0m-1 1h0m0-2h0m-1 0h0m0 2h0m0 2h0m0-3h0m0-1h0m0 1h0m0 1h0m-1 2h0m0-3h0m0 1h0m0 2h0m-1-2h0m-1 0h0m0 2h0m0-3h0m0 2h0m0-1h0m0-2h0m-1 4h0m0-1h0m0-3h0m0 0h0m-1 0h0m0 0h0m-1 2h0m0 2h0m0 0h0m0-4h0m0 3h0m0-1h0m0-1h0m-1 1h0m0-2h0m0 0h0m0 1h0m0 1h0m0 2h0m1 4h0m1-1h0m0 2h0m0-2h0m0-2h0m0 4h0m0-3h0m1 2h0m0 1h0m0-1h0m0 0h0m0-1h0m0 2h0m0-1h0m1-1h0m0-2h0m0 1h0m0 2h0m0-3h0m1 0h0m0 0h0m0 0h0m0 4h0m1 0h0m0-4h0m0 1h0m0 3h0m0 0h0m0-3h0m0 3h0m0-2h0m1-2h0m0 1h0m0 2h0m0 0h0m0-1h0m1-1h0m1 3h0m0-1h0m0 0h0m0 0h0m0-1h0m1 0h0m0-2h0m0 2h0m0 1h0m0-1h0m0 2h0m0-2h0m1 2h0m0-1h0m0-1h0m0 1h0m0 0h0m1 1h0m0 0h0m0-1h0m0 0h0m1 0h0m0 0h0m0-3h0m0 3h0m0-3h0m0 0h0m0 1h0m0 0h0m0-1h0m0 0h0m1 3h0m0 0h0m0-1h0m0 2h0m0-3h0m1-1h0m0 0h0m0 1h0m0 1h0m1 1h0m0-2h0m0 0h0m0 1h0m0 2h0m1-3h0m0-1h0m0 2h0m0-2h0m1 0h0m0 1h0m0 1h0m0 0h0m0-2h0m0 4h0m1-1h0m0-3h0m0 2h0m0-1h0m1 2h0m0-3h0m0 3h0m0-3h0m0 2h0m1-1h0m0 0h0m0 2h0m0-3h0m0 2h0m1 1h0m0-2h0m0-1h0m0 2h0m0 0h0m0-1h0m1 2h0m0-2h0m1 3h0m0-2h0m0-2h0m0 1h0m0 0h0m0 0h0m0 0h0m1 0h0m0-1h0m0 3h0m0-3h0m1 3h0m0 1h0m0-2h0m0 0h0m0 1h0m1-3h0m1 3h0m2 5h0m-1 0h0m0-3h0m0 3h0m-1-2h0m0 1h0m0 1h0m0 1h0m-1 0h0m0-4h0m0 4h0m0-1h0m0 0h0m-1-1h0m0 0h0m0 0h0m0 2h0m0-3h0m-1-1h0m0 2h0m0 1h0m0 1h0m-1-1h0m0-2h0m-1 0h0m0 1h0m0 2h0m0-3h0m-1 2h0m0 0h0m0-1h0m0-2h0m0 1h0m0-1h0m-1 3h0m0-1h0m0 2h0m0 0h0m0 0h0m0-2h0m-1-1h0m0 0h0m0 0h0m0-1h0m-1 4h0m0 0h0m0-3h0m-1 1h0m0-2h0m0 1h0m0-1h0m-1 3h0m0-2h0m-1 0h0m0-1h0m0 4h0m-1 0h0m0-1h0m0 1h0m0-3h0m0 2h0m0-3h0m0 4h0m0-2h0m-1 0h0m0 0h0m0 1h0m-1-1h0m0 2h0m0-4h0m0 0h0m0 4h0m0-1h0m0 1h0m-1 0h0m0-2h0m0-1h0m0 2h0m-1-3h0m0 1h0m0 3h0m0-2h0m-1-2h0m0 2h0m0 0h0m-1-1h0m0 3h0m0-3h0m0-1h0m0 3h0m0-3h0m0 2h0m0 2h0m-1-4h0m0 2h0m0 1h0m0 1h0m-1 0h0m0-3h0m0 0h0m0 0h0m-1 1h0m0 0h0m0-2h0m0 0h0m0 0h0m0 0h0m0 2h0m-1 2h0m0 0h0m0-2h0m0 2h0m0-2h0m0 0h0m-1 1h0m0-1h0m0 1h0m0 0h0m-1-1h0m0-1h0m0-1h0m0 2h0m0-2h0m-1 2h0m2 3h0m2 0h0m0 0h0m1 3h0m0-1h0m0-2h0m0 2h0m0-1h0m0-1h0m0 3h0m1-3h0m0 4h0m0-1h0m0-1h0m0 1h0m0-3h0m1 1h0m0 2h0m0 0h0m1 0h0m0 1h0m0-1h0m1-2h0m1 3h0m0-2h0m0 0h0m0-1h0m0-1h0m0 0h0m1 4h0m0-2h0m1 0h0m0 2h0m0-2h0m0 0h0m1 1h0m0-1h0m1-2h0m0 1h0m0 0h0m0 3h0m0-1h0m1-3h0m0 1h0m0-1h0m0 0h0m0 0h0m1 2h0m0 1h0m0 0h0m0-2h0m1-1h0m0 2h0m0-2h0m0 0h0m0 0h0m1 3h0m0-1h0m0-1h0m0 3h0m1 0h0m0 0h0m0 0h0m0-4h0m1 2h0m0-2h0m0 0h0m1 3h0m0-2h0m0-1h0m0 4h0m0-4h0m0 0h0m0 1h0m0-1h0m1 0h0m0 3h0m0-2h0m0 2h0m0 0h0m0-2h0m1 0h0m0 3h0m0-1h0m0-2h0m1 2h0m0 1h0m0-1h0m0-3h0m0 2h0m0-2h0m0 0h0m0 1h0m1 3h0m0-4h0m0 0h0m1 0h0m0 2h0m1-2h0m0 1h0m0 2h0m1 1h0m0-4h0m0 0h0m0 4h0m0-4h0m0 4h0m1-3h0m0 2h0m0 0h0m0-2h0m1 2h0m2 6h0m0 0h0m-1-3h0m0 0h0m0 2h0m0 0h0m0-2h0m-1-1h0m0 1h0m-1-1h0m0 0h0m0 3h0m0-2h0m0 1h0m0 2h0m-1-4h0m0 3h0m0 1h0m0-4h0m0 1h0m-1 3h0m0-1h0m0-3h0m-1 3h0m0-1h0m-1 0h0m0 0h0m-1 2h0m0-1h0m-1 1h0m0-2h0m0-2h0m0 4h0m0 0h0m0-3h0m0 3h0m0-3h0m-1 2h0m0 0h0m-1-1h0m0 2h0m0-1h0m-1 0h0m0-2h0m0 3h0m0-3h0m0 1h0m-1-1h0m0 3h0m0 0h0m0-1h0m0 1h0m-1-1h0m0 1h0m0-3h0m-1 0h0m0 0h0m0 3h0m0-1h0m-1-3h0m0 3h0m0-1h0m0 2h0m0-3h0m0 3h0m0-3h0m-1 1h0m0-2h0m0 2h0m-1 0h0m0-2h0m0 4h0m0-4h0m-1 2h0m0-1h0m0 3h0m-1-2h0m0 1h0m0 1h0m-1-2h0m0 0h0m0-2h0m0 3h0m0-1h0m0-1h0m0 0h0m0 2h0m-1-2h0m0 0h0m0 1h0m0 2h0m-1-3h0m0 1h0m0-2h0m0 3h0m0 0h0m-1-2h0m0 1h0m-1-2h0m5 6h0m0-1h0m1 2h0m0-2h0m0 2h0m0-2h0m1 1h0m0-1h0m0 2h0m0-1h0m0-1h0m1 3h0m0 1h0m0-2h0m0-1h0m0 1h0m0-1h0m1-1h0m0 0h0m0 0h0m0 0h0m1 1h0m0 0h0m0 1h0m0 2h0m0 0h0m1-1h0m0-3h0m0 4h0m0-3h0m1 3h0m0-4h0m0 4h0m0-3h0m1 3h0m0-4h0m0 1h0m0 2h0m0 0h0m0 0h0m1 0h0m0-3h0m0 1h0m0 2h0m1-3h0m0 3h0m0-3h0m0 1h0m0 0h0m1-1h0m1 0h0m0 2h0m0 0h0m0-1h0m0 2h0m0 1h0m0-4h0m0 2h0m1 1h0m0-1h0m0-2h0m0 4h0m0 0h0m1-2h0m0 2h0m0-4h0m0 1h0m0 2h0m0-3h0m0 2h0m0-2h0m1 1h0m0 3h0m0-4h0m1 0h0m1 1h0m0 1h0m1 1h0m0-3h0m0 2h0m1 2h0m0-3h0m0 2h0m0-2h0m0 2h0m1 1h0m0-2h0m0 0h0m0 2h0m1-1h0m0 1h0m0 0h0m0-1h0m1 1h0m0-2h0m0 2h0m0-1h0m5 6h0m0 0h0m0 0h0m0 0h0m-1 0h0m-1-3h0m0 2h0m-1-1h0m0 0h0m0 2h0m0-2h0m-1-2h0m0 4h0m0-4h0m0 3h0m0-1h0m0 2h0m0-1h0m-1 0h0m0 1h0m0-3h0m-1 3h0m0-3h0m0-1h0m0 2h0m0 2h0m0-3h0m-1 2h0m0 1h0m0-3h0m-1 1h0m0 1h0m0 1h0m0-1h0m-1-3h0m-1 0h0m0 4h0m0-1h0m-1-1h0m0 2h0m0 0h0m0-2h0m0 0h0m-1 2h0m0-4h0m0 4h0m-1-4h0m0 2h0m0 2h0m0-3h0m0 0h0m-1 0h0m0 3h0m0-2h0m0 1h0m0-2h0m-1 2h0m0 0h0m0-1h0m-1 2h0m0-3h0m0 3h0m-1-4h0m0 0h0m0 4h0m-1-1h0m0-3h0m0 2h0m0-1h0m0 3h0m0-4h0m0 4h0m-1-1h0m0 1h0m0-4h0m0 3h0m0-3h0m0 3h0m0 1h0m0 0h0m-1-4h0m0 2h0m0-1h0m0 2h0m0-2h0m0 1h0m0 2h0m-1-2h0m0-2h0m0 1h0m-2 0h0m0 0h0m5 4h0m0 1h0m1-1h0m0 1h0m0-1h0m1 2h0m0 0h0m0 1h0m1-1h0m0-2h0m0 1h0m1 2h0m0-2h0m0 3h0m0-3h0m0 1h0m0 1h0m0-2h0m1 3h0m0 0h0m1-2h0m0-2h0m0 0h0m1 2h0m0-2h0m0 2h0m0 2h0m0-1h0m0-3h0m1 3h0m0 1h0m0-3h0m0 0h0m0 2h0m0-3h0m0 4h0m0-2h0m0 0h0m1 0h0m0 1h0m0-3h0m0 3h0m0-3h0m0 3h0m0 1h0m1-4h0m0 2h0m0-2h0m1 3h0m0-3h0m1 4h0m0-1h0m0-2h0m0 2h0m1 1h0m0-3h0m0-1h0m0 2h0m0-1h0m1 0h0m0 1h0m1 0h0m0 2h0m1-1h0m1-2h0m1 1h0m0-2h0m1 2h0m-2 4h0m0-1h0m-1 0h0m0 0h0m0 1h0m0 2h0m0-1h0m-1-1h0m0 1h0m0 1h0m0-1h0m-1-2h0m0 2h0m0-2h0m0 1h0m0 1h0m0-1h0m0 3h0m-1-4h0m0 3h0m0 0h0m0-2h0m0 1h0m0 2h0m-1-1h0m0-2h0m0 1h0m-1 0h0m0-1h0m-1 1h0m-1 0h0m0-2h0m0 0h0m0 0h0m-1 0h0m0 1h0m-1-1h0m0 1h0m-1 0h0m0-1h0m-2 0h0m0 0h0m10 6h0m1 0h0" stroke="#e3000f" stroke-width="2.00" stroke-linecap="round" fill="none"/>
<path d="M88 1694h0m0-1h0m1-1h0m1 0h0m4 0h0m3 1h0m6 0h0m1 0h0m1-2h0m0 1h0m6 2h0m4 5h0m-1-1h0m-1 1h0m0 0h0m-1-2h0m0-1h0m-1 0h0m0 2h0m-1-1h0m-1-2h0m-1 3h0m-5-1h0m-5 2h0m-3-2h0m-1 0h0m-1-2h0m-1 4h0m-6-2h0m-2 2h0m0-2h0m-1-2h0m-2 5h0m2 1h0m0-1h0m1 1h0m2 0h0m0 2h0m2-1h0m2 1h0m0-3h0m3 3h0m2-1h0m3 2h0m0 0h0m1-2h0m0-2h0m1 4h0m1-2h0m1 0h0m1 2h0m2-1h0m0 0h0m4 0h0m3-1h0m6-2h0m1 4h0m2-2h0m2 2h0m5 2h0m-4 1h0m0-1h0m-3 3h0m0-1h0m0 0h0m-1-3h0m-10 2h0m0-1h0m-1 3h0m-1-4h0m-1 4h0m-6-4h0m-1 0h0m-1 1h0m-1 1h0m-1 0h0m-8-1h0m-2 1h0m-1 2h0m-3-4h0m-2 9h0m5-3h0m0 3h0m1-4h0m1 0h0m4 0h0m4 4h0m7-2h0m2 0h0m6 1h0m1-2h0m0 1h0m3 0h0m1 1h0m7 1h0m1-2h0m1-1h0m0 3h0m2-3h0m2 1h0m1 1h0m1 4h0m-1 1h0m-3 0h0m0 1h0m-3-2h0m0-2h0m-4 4h0m-1 0h0m-3 0h0m-4-2h0m-3 1h0m0-2h0m-2 0h0m-2 3h0m0-3h0m-1 1h0m-2-2h0m-1 1h0m-3 3h0m-1-3h0m0 1h0m-2-1h0m-6 2h0m-3 0h0m0-2h0m-2 3h0m-1-1h0m-1 4h0m2 1h0m2-2h0m0-1h0m5 3h0m3-2h0m2 0h0m1-1h0m1 3h0m6-3h0m1 1h0m1 1h0m3 0h0m1 2h0m1-3h0m1 3h0m1-3h0m0 1h0m2-2h0m1 4h0m1-3h0m4-1h0m1 3h0m1-3h0m0 1h0m4 0h0m0 1h0m2-1h0m1 2h0m0 0h0m1-1h0m3-2h0m1 2h0m0-2h0m1 3h0m1 0h0m-1 5h0m0-2h0m-2-1h0m-1 1h0m0 3h0m-1-3h0m0-1h0m-2 3h0m-3-1h0m-1-2h0m-2 0h0m-4 1h0m-7 1h0m-5 1h0m-8 0h0m0 1h0m-1-1h0m0-3h0m-1 4h0m-1-2h0m-1 2h0m-2-1h0m-3 1h0m-1-1h0m-2 1h0m-1-2h0m-2-2h0m-2 0h0m0 2h0m-2-1h0m-1 3h0m0 0h0m-1 0h0m0-3h0m-1 0h0m0 1h0m3 7h0m3-2h0m1-2h0m2 0h0m1 1h0m1 0h0m1 2h0m0 0h0m3-1h0m0 2h0m0-1h0m4 0h0m0 1h0m5-2h0m3 0h0m0 2h0m0-4h0m3 1h0m3-1h0m1 2h0m0-2h0m1 2h0m4-2h0m1 3h0m2-2h0m2 3h0m2 0h0m0-3h0m4-1h0m7 2h0m-2 3h0m0 0h0m-2 2h0m-2 2h0m-1-1h0m0 0h0m-5-1h0m0-2h0m0 1h0m-1 0h0m-2 2h0m-1-2h0m-2 0h0m-7 1h0m-1-2h0m-1 2h0m0 1h0m-1-3h0m-3 3h0m-1-3h0m-1 4h0m-2-3h0m-2 0h0m-4-1h0m0 1h0m0 3h0m-2-4h0m-1 2h0m0-2h0m0 4h0m-6 0h0m-2 0h0m0 0h0m-3 0h0m0-4h0m-1 0h0m0 2h0m1 4h0m1-1h0m0 2h0m5-2h0m4 3h0m0 0h0m1-3h0m1 2h0m2-2h0m4 4h0m0 0h0m3-2h0m1-2h0m3 0h0m3 3h0m0 0h0m1 0h0m5-3h0m2 4h0m0-1h0m0 0h0m2 1h0m3-3h0m4 3h0m0-1h0m1-3h0m1 3h0m3-2h0m-13 7h0m0-3h0m-2 0h0m-1 2h0m-4 2h0m0-3h0m0 1h0m-1-1h0m-4 2h0m-1-1h0m-7 2h0m0-3h0m-3 1h0m-4-2h0m-3 2h0m0-1h0m0 3h0m-5-4h0m4 5h0m0 0h0m1 0h0m2 1h0m0 0h0m1-1h0m1 1h0m3 3h0m1-4h0m1 0h0m2 2h0m0 1h0m6-1h0m0-2h0m1 3h0m1 1h0m2-1h0m1-3h0m3 1h0m-9 5h0m-1 2h0m0-1h0m-3 2h0m-2-3h0m0-1h0m-2 1h0m-1 1h0m-2 2h0m-3-3h0m-1 4h0m4 3h0m1 1h0m4-3h0m1 0h0m1-1h0m0 2h0m1-1h0" stroke="#139b7a" stroke-width="2.00" stroke-linecap="round" fill="none"/>
<path d="M421 1679h0m-30 5h0m9 0h0m1-2h0m1 0h0m2 0h0m3 0h0m10 1h0m4-1h0m-8 7h0m-1-2h0m-3 2h0m-2-4h0m-2 3h0m0 1h0m-1-4h0m-3 3h0m-1 1h0m0-1h0m-12-1h0m-3 1h0m4 3h0m7-1h0m0 4h0m6-2h0m2 2h0m2-1h0m12-2h0m5 3h0m27-1h0m0 0h0m4-1h0m1 0h0m0 2h0m2-2h0m7 1h0m5-1h0m2 1h0m2 0h0m2 1h0m2 0h0m0 0h0m0 0h0m4-2h0m1 1h0m2-1h0m4 1h0m1 1h0m8 0h0m0-1h0m2 0h0m9 6h0m-2 0h0m0 0h0m-4-4h0m-3 4h0m-1-3h0m-3-1h0m-1 2h0m-1 0h0m-2 0h0m0-1h0m-2 0h0m-1-1h0m0 3h0m-3-1h0m-1 1h0m0 0h0m0-1h0m-2-2h0m-3 0h0m0 1h0m0 2h0m-3-1h0m0 2h0m-2-3h0m0 1h0m0-2h0m0 1h0m-1 1h0m-3-2h0m0 1h0m-4 0h0m0 3h0m0 0h0m-1 0h0m0-4h0m0 3h0m-1-1h0m-1 2h0m-1 0h0m-1-4h0m-1 3h0m-1-1h0m-1-2h0m-2 4h0m0-1h0m-1 0h0m0 0h0m-1 1h0m-1 0h0m0-4h0m-3 3h0m0-2h0m0 1h0m-1 1h0m0-1h0m-1-2h0m-1 3h0m0 1h0m-3-4h0m0 3h0m0-3h0m-1 1h0m-3 1h0m0 0h0m0 0h0m-4 1h0m0 1h0m0-1h0m-14 1h0m-3-3h0m-2 1h0m-1-2h0m-1 1h0m-8 2h0m-3-2h0m-6 1h0m-1-1h0m-1 0h0m0 0h0m-1 3h0m-2-1h0m-1 1h0m2 4h0m1-3h0m7 1h0m8 0h0m1 1h0m0 0h0m4 0h0m0 2h0m8-1h0m0 0h0m0-1h0m2 2h0m1 0h0m1 0h0m3 0h0m0-1h0m1-1h0m1 2h0m0 0h0m1-3h0m2 1h0m2-2h0m0 2h0m0-2h0m3 0h0m0 3h0m1-2h0m2 1h0m2 1h0m2-2h0m2 0h0m0 0h0m0 2h0m2-3h0m2 4h0m0-1h0m0-1h0m4 1h0m0 1h0m3 0h0m2-4h0m0 3h0m3-3h0m2 2h0m0-2h0m0 0h0m1 2h0m1 2h0m2-1h0m1 0h0m3 0h0m0 0h0m0-3h0m0 0h0m1 3h0m1-1h0m1 0h0m1 2h0m1 0h0m1-1h0m0 1h0m1-2h0m0 2h0m1-4h0m5 1h0m1 3h0m1-2h0m0-2h0m0 4h0m1-3h0m1-1h0m2 4h0m0-1h0m3 0h0m2 1h0m1 0h0m1-3h0m1-1h0m4 4h0m2-3h0m0 2h0m0-3h0m3 2h0m1-1h0m14 8h0m-3 0h0m0 0h0m-1-1h0m0-1h0m-2-1h0m-1 1h0m-2 1h0m0-2h0m-1-1h0m-1 0h0m0 4h0m-2-1h0m-2-2h0m0-1h0m-1 0h0m0 3h0m0 0h0m-1 1h0m-1-2h0m-1 2h0m0-4h0m-1 0h0m0 0h0m-1 0h0m0 2h0m0-1h0m-5-1h0m-1 2h0m0 1h0m-1 0h0m0 1h0m-2-3h0m0 2h0m0-1h0m-2 1h0m-1 1h0m0-4h0m0 2h0m-1-1h0m-1 1h0m0 1h0m-1-2h0m0 1h0m-2 0h0m-2-2h0m0 0h0m0 0h0m0 4h0m-2 0h0m-6-3h0m-5-1h0m0 4h0m-1-3h0m-3 1h0m0 2h0m0-2h0m0 0h0m-1-2h0m0 4h0m-1 0h0m0 0h0m-1-2h0m-1-2h0m-1 0h0m-1 0h0m0 0h0m-1 0h0m-1 3h0m-1-1h0m-1 2h0m-1-4h0m-5 4h0m-2-3h0m0 3h0m-2-3h0m-1 0h0m-2-1h0m-1 2h0m0 2h0m-2-4h0m-3 1h0m0-1h0m-2 3h0m-1-3h0m0 1h0m-2-1h0m-1 1h0m-2 3h0m-1-4h0m-2 0h0m0 2h0m0 1h0m-2 0h0m-1-1h0m-1-1h0m-1 2h0m0-3h0m0 2h0m-2-1h0m-8 1h0m-1 0h0m0-2h0m-10 3h0m-12-3h0m-1 3h0m-3 4h0m3 2h0m9-4h0m8 2h0m5 2h0m4-2h0m1 2h0m1-2h0m1-2h0m1 0h0m1 3h0m1-3h0m1 0h0m1 4h0m6-4h0m0 0h0m0 4h0m4-4h0m0 0h0m3 0h0m0 1h0m2-1h0m0 4h0m1-3h0m0-1h0m5 3h0m0-3h0m1 4h0m3-4h0m0 1h0m0 3h0m1-1h0m0 0h0m2 0h0m1 0h0m0 1h0m1-1h0m2-2h0m1 0h0m0 2h0m1 1h0m3 0h0m0-2h0m1 2h0m0-4h0m2 4h0m0 0h0m0-2h0m1 0h0m3-1h0m0 1h0m3-2h0m1 0h0m2 0h0m1 3h0m1-1h0m1 2h0m1-1h0m1-3h0m0 3h0m1-1h0m0 2h0m0-4h0m1 2h0m0-1h0m0-1h0m2 3h0m2-2h0m3 3h0m1 0h0m2-4h0m0 1h0m2-1h0m1 3h0m2-2h0m0 3h0m1-3h0m1-1h0m2 3h0m2 1h0m1 0h0m2-2h0m0 2h0m0 0h0m1-2h0m0 2h0m3-1h0m1-2h0m0 2h0m3-1h0m1-2h0m0 4h0m1-2h0m0 0h0m2 1h0m0-1h0m1 2h0m4-3h0m0-1h0m1 2h0m2 2h0m0 0h0m2-3h0m1 2h0m0-2h0m0 2h0m1 1h0m2 0h0m6 3h0m-1 2h0m0-1h0m0-1h0m-1 0h0m-1-2h0m-1 2h0m-1 2h0m-5-2h0m0 1h0m0-1h0m0-2h0m0 3h0m-1 1h0m-1-3h0m-1-1h0m0 3h0m-1-1h0m0 1h0m-1-2h0m-1 1h0m-1-2h0m0 3h0m-1 1h0m-3-2h0m-2 0h0m-2 2h0m0-3h0m-2 2h0m0-2h0m-2 2h0m-2-3h0m-1 4h0m-2-3h0m0 3h0m-3-2h0m0 0h0m-2-1h0m-1-1h0m0 0h0m-3 3h0m-2-1h0m0 2h0m0-3h0m-2 1h0m0 0h0m0 0h0m-1 1h0m-1-3h0m-2 0h0m-1 1h0m-2 2h0m-2-1h0m-1-2h0m-5 1h0m-3 1h0m-2-2h0m-2 1h0m-2 1h0m-1-2h0m0 4h0m-1-2h0m-2 0h0m-2-1h0m0 3h0m-1-4h0m-1 2h0m0-1h0m-1-1h0m-2 4h0m-2-1h0m-1 0h0m-2 0h0m-2 1h0m0-1h0m-1-3h0m0 1h0m0 0h0m-1-1h0m-1 1h0m0 2h0m-3-2h0m0 1h0m0 0h0m-1-1h0m-2 0h0m0 3h0m0-1h0m0-1h0m-1-1h0m0 0h0m-3 2h0m-2-2h0m-1 3h0m-1-2h0m-1 0h0m-3-1h0m0 3h0m-1-1h0m-1-3h0m0 1h0m-2-1h0m-1 1h0m-1 3h0m-1-3h0m0 1h0m0 2h0m-2 0h0m-1-2h0m-1 1h0m-3 1h0m0-1h0m-2 1h0m0-3h0m-4 3h0m-2 0h0m-1-2h0m0 1h0m-4 0h0m3 6h0m1 0h0m0-4h0m3 2h0m1-1h0m1 3h0m0-1h0m2 1h0m2-1h0m1-3h0m2 2h0m0 1h0m1-2h0m0 0h0m1 2h0m1-1h0m1 0h0m1-2h0m1 4h0m3-4h0m0 1h0m3 3h0m4-1h0m2-1h0m0 1h0m1 1h0m3-1h0m1 1h0m1-4h0m1 2h0m0-2h0m0 2h0m2 1h0m2-2h0m0-1h0m3 0h0m2 4h0m0 0h0m0 0h0m1-1h0m0 0h0m1-2h0m2 2h0m1 0h0m0 0h0m2-2h0m0 0h0m3 1h0m1 0h0m3 0h0m1-2h0m1 4h0m0-4h0m2 1h0m3-1h0m1 1h0m0 2h0m0 1h0m1-2h0m2 1h0m0 1h0m2 0h0m4 0h0m0-1h0m0-2h0m1 2h0m1 0h0m1-1h0m0-1h0m0 3h0m0-4h0m1 2h0m2 2h0m2 0h0m1-3h0m3-1h0m0 1h0m0-1h0m1 3h0m0 1h0m0-3h0m2 1h0m0-2h0m1 2h0m1-2h0m0 1h0m1 3h0m2-3h0m1 2h0m1 1h0m0-1h0m1-1h0m1 2h0m0-3h0m1 1h0m1-1h0m4 3h0m2-2h0m1 1h0m2 1h0m3-1h0m1 1h0m2 0h0m1-2h0m0-2h0m0 3h0m1-2h0m1 1h0m0-2h0m0 0h0m0 4h0m2 0h0m2 0h0m0-4h0m0 4h0m1-1h0m0-2h0m1 1h0m8 1h0m2 0h0m1-1h0m5 7h0m0-2h0m0 2h0m-1 0h0m-1-1h0m-1-3h0m0 2h0m-3 2h0m-1-3h0m0 2h0m-1 1h0m0-2h0m-2 2h0m-2-4h0m-4 2h0m-1 1h0m-2 0h0m-1-1h0m-3-1h0m-1 2h0m-1 1h0m0 0h0m0-2h0m-4 2h0m-2-2h0m-1-1h0m0-1h0m-2 1h0m-1 3h0m-1-2h0m0 1h0m0-3h0m-1 2h0m-1 0h0m0-2h0m-1 2h0m-1-2h0m-1 1h0m0 3h0m0-4h0m-1 2h0m-1 2h0m-1 0h0m0-4h0m-2 1h0m-3 1h0m0-1h0m0 1h0m-1-2h0m-2 1h0m0 3h0m-1-2h0m-1 2h0m-1 0h0m0 0h0m-2 0h0m-2 0h0m0-2h0m-1 1h0m0-2h0m-1 1h0m0-2h0m-1 2h0m-2-2h0m0 2h0m-5 2h0m-1-1h0m0-3h0m0 1h0m0 1h0m-1 2h0m0-3h0m-1 0h0m-2 0h0m-1 0h0m0-1h0m0 0h0m0 2h0m-1 1h0m-1-1h0m-1 2h0m0-4h0m-1 0h0m0 2h0m-1 0h0m-2-2h0m-3 2h0m-2 0h0m0 0h0m-1 0h0m0 1h0m0 0h0m-4-1h0m0-1h0m0 0h0m-2 3h0m-1-2h0m-1 1h0m-4-2h0m-1 3h0m-1-3h0m0 2h0m-1-3h0m-4 4h0m-1-1h0m-1 1h0m0-4h0m-2 2h0m-1-2h0m-1 4h0m-1-4h0m-1 0h0m-2 4h0m0-4h0m-1 1h0m0 3h0m-2-4h0m-1 1h0m-4 1h0m-2 1h0m-1-3h0m-1 3h0m-2-1h0m-1 2h0m-2-1h0m-1-1h0m0 1h0m-1 0h0m0 1h0m-1-4h0m-2 3h0m0-2h0m0 3h0m-1-4h0m0 3h0m-1 1h0m-2-2h0m0-2h0m-1 4h0m-1-4h0m0 4h0m-1 0h0m0-3h0m-2 3h0m-1 0h0m-2-1h0m-3 3h0m0 3h0m2-4h0m1 2h0m1-1h0m3-1h0m2 3h0m0-3h0m1 1h0m0 3h0m1-2h0m1-2h0m2 2h0m0-2h0m0 1h0m1 1h0m1-2h0m1 0h0m0 4h0m0-2h0m3 0h0m0 0h0m0-2h0m1 0h0m0 4h0m5-2h0m3 2h0m1-1h0m1-1h0m1 2h0m0-1h0m1 1h0m0-1h0m2-1h0m0 0h0m0 1h0m0-3h0m2 3h0m1 1h0m1-2h0m3 2h0m1-3h0m1 2h0m0 1h0m1 0h0m4-2h0m2-2h0m3 2h0m1-2h0m1 0h0m1 2h0m0 2h0m1-2h0m1 0h0m1-1h0m0 1h0m1 0h0m2-1h0m0-1h0m2 4h0m0-4h0m3 4h0m0-2h0m1 0h0m2-2h0m0 0h0m1 3h0m0-1h0m2-2h0m1 4h0m0-2h0m0 2h0m1 0h0m2-1h0m5 1h0m0 0h0m1-2h0m0 2h0m2-2h0m0 2h0m4-3h0m0 3h0m1-1h0m1-3h0m0 4h0m0-4h0m0 4h0m1-4h0m4 0h0m1 1h0m3 1h0m0 0h0m1 2h0m1-3h0m0-1h0m3 0h0m3 3h0m0-1h0m2 2h0m1-1h0m1 0h0m3 0h0m1-3h0m0 0h0m1 1h0m0 2h0m2-2h0m0 3h0m1-3h0m1-1h0m0 2h0m0 2h0m1-1h0m1 1h0m1-3h0m0 3h0m1 0h0m0 0h0m0-4h0m1 3h0m0 0h0m1-1h0m0 2h0m1-4h0m0 4h0m0 0h0m2-3h0m1 0h0m1 3h0m0-3h0m2 3h0m2-2h0m1 2h0m0-4h0m2 1h0m0 1h0m1 2h0m1-2h0m1-2h0m2 1h0m2 1h0m0 1h0m2-3h0m0 3h0m0 0h0m4-1h0m1-1h0m0 3h0m2-3h0m0 2h0m3 6h0m-2-4h0m-1 3h0m-5 0h0m0 1h0m-1-3h0m-3 3h0m-1 0h0m0-2h0m-3-1h0m0 0h0m-1 2h0m-1-2h0m0 1h0m-3 1h0m-1-1h0m-2 2h0m0-1h0m-1-2h0m-1 3h0m-1-2h0m-1 1h0m0-3h0m-1 0h0m0 2h0m-2-1h0m-2 3h0m0-4h0m0 1h0m-2 0h0m0 2h0m0-3h0m-1 4h0m-1-3h0m0 3h0m-2-3h0m-1-1h0m0 0h0m0 1h0m0 3h0m-5-2h0m0 2h0m-1 0h0m0-3h0m-1 2h0m0-3h0m0 3h0m-1-2h0m0 3h0m-1-3h0m-2 0h0m-3 2h0m-3 0h0m-1-3h0m0 0h0m0 0h0m-1 0h0m-1 1h0m0 1h0m-2-2h0m0 2h0m-2-1h0m-1 1h0m0-1h0m-1 1h0m0 0h0m-1-1h0m-1 2h0m-3 0h0m0 0h0m-1-1h0m-2-1h0m0-1h0m0 1h0m0 0h0m-1 3h0m-1-4h0m0 1h0m-2 0h0m0 1h0m-4 2h0m-4 0h0m-1-1h0m-1 1h0m0-3h0m0-1h0m-2 2h0m-2 1h0m0-1h0m-1 1h0m0-1h0m-1-2h0m0 2h0m-1 0h0m-1-2h0m0 1h0m-1-1h0m0 0h0m-1 1h0m-2 0h0m0-1h0m0 2h0m-1 2h0m0-1h0m0-1h0m-1 0h0m-1-1h0m0 3h0m-1-3h0m-1-1h0m-1 1h0m-1 1h0m-1 1h0m-1 1h0m-1-1h0m-2 1h0m-1 0h0m-1-4h0m0 3h0m-1-1h0m0 1h0m-2-3h0m0 2h0m-3 1h0m0-1h0m-1-1h0m0 3h0m0-1h0m0 0h0m0-3h0m0 3h0m-1-2h0m0 0h0m0 1h0m0 2h0m-1-3h0m0 2h0m-2-1h0m-1 1h0m0-3h0m0 0h0m-1 0h0m0 0h0m-1 4h0m0-2h0m-2 0h0m-1-1h0m0 1h0m-1-1h0m-3-1h0m-5 1h0m-1 0h0m-1 0h0m-2 1h0m-1-2h0m-1 0h0m-1 0h0m0 0h0m-2 4h0m0-3h0m-1 0h0m0 1h0m0-2h0m-1 3h0m-2 0h0m-2 0h0m-1 0h0m-2-3h0m0 2h0m-1 0h0m-2-1h0m0-1h0m-1 3h0m-1-1h0m0 1h0m0-3h0m-1 3h0m-1-1h0m0 1h0m-12 5h0m4 0h0m1 1h0m1-1h0m2-1h0m1-2h0m1 3h0m1-1h0m0 2h0m0 0h0m1-2h0m0-1h0m0 0h0m0 3h0m1-3h0m3 1h0m1-2h0m3 3h0m3 0h0m1-1h0m2 1h0m0 0h0m1-2h0m0 0h0m1 0h0m0 2h0m1 0h0m3 1h0m1-2h0m1 2h0m0-4h0m0 0h0m2 3h0m1 1h0m1-1h0m4-2h0m0 2h0m1-2h0m0 2h0m0-3h0m1 3h0m0-3h0m1 2h0m6 1h0m0 1h0m2-2h0m0-1h0m5 1h0m4-1h0m0 3h0m0-3h0m1 2h0m0-3h0m0 0h0m2 4h0m1-3h0m4 1h0m0-1h0m1 2h0m2 0h0m2-2h0m1 2h0m0-2h0m2 0h0m0 2h0m0-2h0m1 3h0m1-1h0m2-1h0m0-2h0m1 4h0m0 0h0m0-1h0m1-3h0m0 3h0m2-3h0m1 4h0m2-2h0m1 2h0m0-2h0m0 1h0m3 0h0m1 0h0m1-1h0m2 2h0m0-4h0m1 0h0m1 4h0m0-2h0m1-1h0m0 2h0m1-2h0m1 3h0m0-4h0m1 3h0m1 1h0m0-1h0m0-2h0m1 2h0m1 0h0m3-1h0m1-1h0m0 2h0m1 1h0m1-3h0m0 1h0m1 1h0m1-3h0m2 4h0m0-4h0m2 1h0m0 3h0m0-1h0m3-1h0m0 0h0m2 2h0m0-3h0m2 1h0m0 1h0m1 1h0m2-2h0m3 0h0m0-1h0m4 2h0m1 1h0m2-4h0m0 4h0m2-2h0m3 2h0m1-3h0m0-1h0m1 2h0m1 2h0m1-2h0m1-2h0m1 2h0m1 2h0m1 0h0m0 0h0m1-1h0m1-1h0m1 2h0m1-2h0m0 2h0m0-3h0m1 1h0m1-1h0m0 2h0m0-2h0m2 3h0m0 0h0m1-4h0m2 2h0m6 0h0m0 1h0m0-1h0m0 2h0m1-3h0m0 3h0m1-3h0m1 2h0m0-1h0m0-1h0m1 1h0m0 2h0m4-3h0m1 0h0m0 1h0m1 1h0m-3 2h0m-2 3h0m0-3h0m-4 1h0m0 3h0m0-2h0m-2 0h0m-1 1h0m0-1h0m0-1h0m-4 3h0m-3-2h0m-2 2h0m-2 0h0m0 0h0m-3-1h0m-1-3h0m0 2h0m-1 0h0m-1 2h0m-1-4h0m-1 3h0m-2-3h0m-1 4h0m0-2h0m-2 2h0m-1-4h0m0 2h0m-2 2h0m-1-3h0m-1 1h0m0-1h0m0 2h0m-1 0h0m-2 0h0m-2-3h0m0 2h0m0 1h0m-1-2h0m-5-1h0m-1 0h0m-1 2h0m-2 1h0m-1-1h0m-1-1h0m0-1h0m-1 1h0m-2 2h0m0 1h0m0-3h0m-1 1h0m-1 0h0m-2-2h0m-2 0h0m-2 3h0m0-2h0m-1 1h0m0 0h0m-1 1h0m0-2h0m-2-1h0m-1 1h0m-3 0h0m0 1h0m-1 2h0m0-3h0m-1-1h0m-1 0h0m-3 1h0m-2 0h0m-2 3h0m-2-3h0m0 1h0m-2 1h0m0-2h0m-2 2h0m-2-2h0m0-1h0m-1 4h0m-1-1h0m0 0h0m-2-1h0m-6-1h0m0 1h0m-2-2h0m-4 0h0m-1 3h0m0-3h0m0 2h0m-1 2h0m0-3h0m-1 0h0m-1 3h0m0-4h0m-2 1h0m-1-1h0m-2 4h0m-2-2h0m-1-1h0m-2-1h0m-1 1h0m-3 1h0m-1-2h0m-1 1h0m-2 0h0m-1 2h0m0-1h0m-1-2h0m0 1h0m-1 0h0m-2 3h0m-6-2h0m-1 0h0m-1 0h0m0-2h0m-1 1h0m-1 3h0m-1-1h0m-1 1h0m0-2h0m-1 1h0m-1-2h0m-3 3h0m0-1h0m-1-2h0m-1 3h0m-1-2h0m-1 2h0m-2-4h0m0 1h0m-1-1h0m0 3h0m-1-1h0m0-2h0m0 1h0m-2 1h0m0 1h0m0 0h0m-1-3h0m0 1h0m-2 2h0m0-1h0m-1 2h0m-1-4h0m0 1h0m-2 1h0m0-2h0m-1 0h0m-2 0h0m-2 4h0m-1-4h0m-1 1h0m-2 3h0m-3-3h0m0 2h0m-2-1h0m-1 1h0m-4 0h0m0 2h0m2 2h0m2 0h0m1-1h0m2 2h0m1-3h0m0 1h0m1 1h0m1 0h0m1 0h0m0 1h0m1 0h0m1 0h0m0-3h0m2 0h0m0 0h0m3 3h0m0 0h0m0 1h0m0-4h0m0 3h0m1 1h0m0-3h0m2-1h0m3 1h0m1 0h0m2 0h0m3-1h0m2 0h0m0 1h0m0 2h0m4-2h0m0 2h0m1 0h0m1-2h0m1 1h0m2-1h0m1 2h0m0-1h0m1 2h0m5 0h0m3 0h0m0-3h0m3 0h0m2 0h0m1 0h0m0 0h0m2 3h0m1-4h0m1 3h0m0-1h0m1-2h0m2 0h0m0 3h0m2-2h0m2-1h0m2 0h0m0 4h0m1-2h0m1-2h0m0 1h0m2 1h0m0-1h0m0 2h0m0 1h0m1-2h0m1-1h0m0-1h0m1 2h0m2 2h0m1-1h0m2 1h0m1-3h0m0 0h0m3 1h0m1 1h0m2 0h0m2-2h0m4-1h0m0 2h0m2 1h0m0 0h0m1 0h0m1-3h0m2 4h0m2 0h0m1-4h0m3 3h0m1-1h0m0-1h0m1 2h0m2 0h0m1 1h0m3-4h0m0 3h0m3-2h0m1-1h0m2 1h0m1-1h0m2 3h0m3 0h0m0 1h0m2-3h0m0 0h0m0 3h0m2-4h0m0 1h0m1-1h0m0 0h0m1 2h0m0 2h0m0-2h0m1 2h0m0-1h0m1 1h0m2-2h0m0 2h0m0-4h0m4 0h0m0 2h0m1 1h0m1-1h0m1 2h0m0-2h0m2-1h0m0-1h0m1 1h0m1 0h0m0 2h0m2-2h0m0 1h0m1 2h0m0-4h0m2 4h0m0-4h0m1 0h0m0 1h0m1-1h0m0 2h0m1-1h0m0 1h0m0 2h0m2-1h0m0-2h0m2 1h0m2 1h0m1 0h0m0 0h0m0 0h0m2-2h0m0 2h0m0-3h0m3 3h0m3-3h0m1 4h0m0-3h0m1 0h0m2 3h0m0-4h0m1 2h0m0-2h0m1 2h0m0-1h0m0 2h0m1 0h0m2-3h0m2 0h0m1 3h0m1-2h0m1 2h0m0 2h0m0 0h0m-2 4h0m0-1h0m0-2h0m0 2h0m-1-3h0m-1 2h0m-2 0h0m-1 0h0m-1 0h0m0 2h0m-1-3h0m0 2h0m-1-1h0m0 0h0m-2-2h0m0 1h0m-1 3h0m0-4h0m0 0h0m-1 2h0m0-2h0m0 0h0m0 1h0m-1-1h0m-2 0h0m-1 1h0m-1-1h0m-3 4h0m0-4h0m-1 0h0m-1 2h0m0 0h0m-1-2h0m0 4h0m0-2h0m-5 0h0m-1 1h0m0 1h0m0-1h0m-1-1h0m-1-1h0m-2 2h0m-2 1h0m-1-2h0m-2 2h0m0-4h0m0 4h0m0-4h0m-1 3h0m-1-1h0m-1-1h0m0 0h0m-1 2h0m-2-3h0m0 3h0m-1-1h0m-1 1h0m0 0h0m-1 1h0m-1-4h0m0 4h0m-2-1h0m0-2h0m0 3h0m-2-2h0m-1-1h0m-2 3h0m0 0h0m0-3h0m-3-1h0m-2 3h0m-1-3h0m0 3h0m-3-1h0m-1-1h0m0 2h0m-1 1h0m-1-3h0m0 3h0m-1 0h0m-1-1h0m0 1h0m-1-2h0m0-1h0m0 3h0m-2-4h0m0 4h0m-1-4h0m-3 4h0m-1 0h0m-1-4h0m-1 1h0m0-1h0m-1 4h0m0-4h0m0 1h0m0-1h0m-1 1h0m-2 2h0m0 1h0m-2 0h0m-3 0h0m-4 0h0m0-3h0m-3 0h0m-2 3h0m-2-4h0m-2 4h0m0-3h0m-1 3h0m0-4h0m0 4h0m-2 0h0m-2-1h0m0-3h0m-2 2h0m-1-1h0m-2 2h0m-2-3h0m0 4h0m-1-4h0m-1 0h0m0 1h0m0 3h0m-2-4h0m-2 1h0m0-1h0m-1 1h0m-1 1h0m0 0h0m-1-2h0m0 3h0m-1 0h0m-2-1h0m0-1h0m-1 0h0m0 0h0m-1-1h0m-1 1h0m0 3h0m0-2h0m0 0h0m-2 0h0m0 1h0m-2-2h0m-2 0h0m-1-1h0m-2 2h0m0-1h0m-2 0h0m-2-1h0m-1 2h0m-1-2h0m-3 2h0m0-1h0m-1-1h0m0 3h0m-1-2h0m-1 0h0m0 1h0m-3 0h0m-2 1h0m0 0h0m-1 0h0m-2-1h0m-3-1h0m0 0h0m-1 0h0m0 1h0m-2-2h0m0 1h0m-5 0h0m0-1h0m0 0h0m-1 1h0m-1 2h0m0 1h0m0 0h0m-1-4h0m-4 1h0m0 2h0m-2 1h0m-2-1h0m-2 0h0m-1-3h0m-2 0h0m-1 2h0m-1-2h0m-2 5h0m0 1h0m0 3h0m1 0h0m2-2h0m0-2h0m1 1h0m0 2h0m0-1h0m1 1h0m1 0h0m0-1h0m1-1h0m0 1h0m0 0h0m0-1h0m1 3h0m2 0h0m1-4h0m2 0h0m2 3h0m1-1h0m0-2h0m1 3h0m0 1h0m1-1h0m1 0h0m1-1h0m2 2h0m0 0h0m0-1h0m0 0h0m2-1h0m0 0h0m0 1h0m1-2h0m0-1h0m0 2h0m1 0h0m2 0h0m0 0h0m3 1h0m1 1h0m0-2h0m0 1h0m2-1h0m0 2h0m1 0h0m1-3h0m0 3h0m2-3h0m0 0h0m1 2h0m0-1h0m1-2h0m0 4h0m0-3h0m1 1h0m1-2h0m0 0h0m0 0h0m1 3h0m1 0h0m0-3h0m0 0h0m4 0h0m2 4h0m0 0h0m1-2h0m3-1h0m1 3h0m0-2h0m0 0h0m1-2h0m0 3h0m0 0h0m1 0h0m3 1h0m1-4h0m1 3h0m1-1h0m0 1h0m0 1h0m4-3h0m0-1h0m0 2h0m0 1h0m1 1h0m1-1h0m1-3h0m2 3h0m2-3h0m0 2h0m2 2h0m0 0h0m1 0h0m1-2h0m0-1h0m1-1h0m0 2h0m1 2h0m1 0h0m0-2h0m1-1h0m0 0h0m0 3h0m0 0h0m1-2h0m0-1h0m1 0h0m2-1h0m0 1h0m3 0h0m0-1h0m0 3h0m2 1h0m1-1h0m0-1h0m0 2h0m0-1h0m1 1h0m0-1h0m1-1h0m0 2h0m1-4h0m1 3h0m0 0h0m1 0h0m0-3h0m2 1h0m3 1h0m0 2h0m1 0h0m0-3h0m2 1h0m1 0h0m0-1h0m1-1h0m2 1h0m0 1h0m1 0h0m1-1h0m0 2h0m0 1h0m0-1h0m0-2h0m3 3h0m1-4h0m2 3h0m0-1h0m1 1h0m1 0h0m1-2h0m1 3h0m1-2h0m1 1h0m0-2h0m1 0h0m0 0h0m3 0h0m1 0h0m0 3h0m2-2h0m1 0h0m1 0h0m1 2h0m2-3h0m1 2h0m2-3h0m0 1h0m4 2h0m0 0h0m2-3h0m1 1h0m0-1h0m1 4h0m0 0h0m1-1h0m1-1h0m5-1h0m1 0h0m1 2h0m1 0h0m1-3h0m2 1h0m1 1h0m1 1h0m1 1h0m0 0h0m2-3h0m2 3h0m0-1h0m1-3h0m1 4h0m0-2h0m0 2h0m1-2h0m3 0h0m0-1h0m2 0h0m0 0h0m1 0h0m0 2h0m1-3h0m1 0h0m0 3h0m1-1h0m0-2h0m1 3h0m1-2h0m0 0h0m0 3h0m1-1h0m1-3h0m0 4h0m0 0h0m0-2h0m1-1h0m1-1h0m0 3h0m2-2h0m2-1h0m-2 5h0m-1 4h0m-1-1h0m-2 1h0m-1-1h0m-5 0h0m-4-3h0m-1 2h0m0 2h0m-3-2h0m-1 0h0m0 1h0m-2-2h0m-1 1h0m-1-1h0m0 0h0m0 2h0m0-2h0m-1 3h0m0-2h0m-2 1h0m-1 1h0m0-4h0m0 4h0m-1-1h0m0-1h0m-1 0h0m-1-1h0m-1 1h0m0 2h0m-1-3h0m-3 0h0m-1 1h0m-1 2h0m0-3h0m-1 1h0m-2-1h0m0 3h0m-1-3h0m0 2h0m-2 0h0m0 1h0m-1-2h0m-3 2h0m-2-2h0m-1-1h0m-2 1h0m-7 0h0m0 2h0m-2-4h0m0 0h0m0 1h0m-1 1h0m0-2h0m-1 0h0m-1 4h0m0-4h0m0 4h0m-1-2h0m-1 1h0m0-1h0m0-1h0m-1 2h0m-3 0h0m-2-2h0m0 1h0m0 0h0m-1 1h0m-1-3h0m-1 2h0m-1 0h0m-2 2h0m0-2h0m-1 2h0m-2-2h0m-4 1h0m-1 1h0m-1-3h0m0-1h0m-5 2h0m0 2h0m-5-4h0m-1 0h0m-1 2h0m-1-1h0m-1 3h0m-1 0h0m-1-3h0m-2 2h0m-1 0h0m0-3h0m-1 4h0m-1-4h0m-3 2h0m-2-1h0m-1 3h0m0-4h0m0 1h0m-1 0h0m0-1h0m-1 4h0m0-2h0m-1-2h0m0 1h0m-1-1h0m-1 2h0m-1 1h0m0-3h0m0 2h0m-3-1h0m-1 2h0m-1-3h0m0 4h0m-2-2h0m-1 2h0m-1 0h0m0 0h0m-2-2h0m-1 2h0m-2 0h0m0-4h0m-1 2h0m-1 0h0m-1 2h0m-1-2h0m-5 0h0m-2-1h0m0 2h0m-1 0h0m0-2h0m0 3h0m-1-2h0m0 0h0m-2-1h0m-1 3h0m-2-3h0m0-1h0m-4 2h0m0 0h0m-2 2h0m0-3h0m-2 0h0m-1-1h0m0 4h0m0 0h0m-1-4h0m-5 2h0m-1 1h0m0-2h0m-1 3h0m0 0h0m0-3h0m-1 3h0m0-2h0m-1-2h0m-1 0h0m0 1h0m0 3h0m0 0h0m-1-2h0m-1 1h0m-3-1h0m0 1h0m0 1h0m-1-1h0m-1-2h0m0 3h0m-1-2h0m0 0h0m0 0h0m0 1h0m0-2h0m-2 3h0m-1-2h0m0-1h0m-1-1h0m0 2h0m-4 2h0m1 3h0m0 0h0m2 0h0m4 2h0m2-4h0m1 0h0m0 0h0m1 3h0m1 0h0m1-2h0m1 1h0m1 2h0m0 0h0m0-1h0m1-1h0m2 0h0m1-2h0m0 3h0m2 0h0m3-3h0m2 2h0m0 2h0m0-3h0m0 0h0m0 2h0m1 1h0m1-3h0m0-1h0m2 3h0m0-3h0m0 4h0m1-2h0m0 2h0m1 0h0m0-4h0m1 2h0m1-1h0m1 0h0m1 2h0m1 1h0m1-2h0m0-1h0m2 3h0m0-4h0m0 1h0m0 0h0m1 1h0m1-2h0m2 3h0m2 0h0m0-2h0m0 2h0m2-2h0m0 0h0m2 3h0m0 0h0m1-3h0m1 3h0m1-2h0m0 2h0m0-3h0m1-1h0m0 1h0m2-1h0m2 2h0m3 2h0m1-3h0m3-1h0m0 0h0m1 4h0m1-1h0m3-3h0m0 0h0m1 2h0m0 0h0m2 2h0m0 0h0m0-2h0m0 1h0m1-2h0m0 0h0m2-1h0m1 0h0m0 4h0m1-3h0m0-1h0m2 1h0m2-1h0m0 2h0m2-2h0m1 0h0m0 2h0m1 2h0m0-2h0m1-1h0m1 1h0m0 1h0m2-1h0m3-2h0m0 2h0m1 2h0m1-3h0m1 1h0m3-2h0m1 1h0m0 1h0m2 0h0m1 0h0m0-1h0m1 0h0m0 2h0m1 1h0m1-4h0m1 3h0m1-3h0m0 0h0m0 2h0m3-2h0m1 2h0m1-1h0m2 0h0m5-1h0m1 0h0m1 4h0m2-2h0m1 0h0m0 1h0m1 1h0m0-4h0m2 1h0m0 1h0m3 2h0m2-1h0m1-2h0m2 3h0m2-4h0m2 3h0m1 1h0m0-3h0m2 3h0m1-3h0m1-1h0m0 1h0m1-1h0m2 4h0m3-1h0m1 0h0m1-3h0m0 2h0m2-1h0m2 1h0m1-1h0m2 2h0m0 1h0m1-1h0m5-2h0m2 2h0m0-3h0m1 4h0m1-1h0m1-1h0m5 2h0m1-2h0m0-1h0m1 3h0m1-1h0m0-1h0m2-1h0m3 3h0m2-4h0m0 4h0m0-4h0m1 0h0m-2 5h0m-1 4h0m0-2h0m-1 1h0m0-3h0m-1 4h0m-2-4h0m-1 1h0m0-1h0m-1 1h0m-3 0h0m-2 0h0m-2 0h0m-1 0h0m0 1h0m-1-2h0m-2 2h0m0 1h0m0-3h0m-3 4h0m-2-1h0m-1-2h0m0-1h0m-2 0h0m-1 3h0m-3-3h0m-2 3h0m-1-3h0m-1 1h0m0 0h0m-1 0h0m-1-1h0m-2 2h0m-1-1h0m-2 2h0m0-3h0m-2 2h0m-2 2h0m-3-3h0m0 0h0m0 1h0m-1 2h0m-1-4h0m0 1h0m0 3h0m-1 0h0m-2-4h0m-1 0h0m-1 0h0m0 2h0m-1 0h0m0 0h0m-7-2h0m-2 0h0m-1 1h0m0 3h0m-3-2h0m-1-1h0m0 0h0m-1-1h0m0 0h0m-3 1h0m-2 2h0m-1-2h0m0 1h0m-1 1h0m0-2h0m-2 3h0m-1-1h0m0 0h0m-3-3h0m-1 3h0m0 0h0m-3-2h0m-2 3h0m-1-2h0m0-2h0m-1 2h0m-1 0h0m0 2h0m0-1h0m-5 1h0m0-2h0m-1-1h0m0 3h0m-1-1h0m0-2h0m-3 2h0m-1-3h0m-4 2h0m-1 2h0m-1-4h0m-1 2h0m-2 2h0m0-4h0m-1 0h0m-1 1h0m-1 1h0m-1 2h0m0 0h0m0 0h0m-1-4h0m-1 3h0m-2-2h0m0 2h0m-1-3h0m-2 4h0m-1-1h0m0 1h0m-2-4h0m0 2h0m-1 0h0m-1-2h0m-2 4h0m-1-1h0m-2 0h0m-3-3h0m0 1h0m0 2h0m-2-3h0m-1 3h0m0-2h0m-1 2h0m0-1h0m0-1h0m-1-1h0m-1 0h0m-4 0h0m0 0h0m-2 1h0m0 3h0m0-4h0m-2 4h0m-7-3h0m-2 2h0m-2-1h0m0-2h0m-2 1h0m-2 2h0m-3-2h0m0 2h0m0-1h0m-2 2h0m-1 0h0m0-2h0m-1 0h0m-1-2h0m0 2h0m-1 0h0m0 0h0m0-2h0m-1 1h0m0-1h0m-1 1h0m-1 3h0m0 0h0m0-3h0m0 0h0m-3 3h0m0-2h0m0 2h0m-4-4h0m2 6h0m1-1h0m0 4h0m1 0h0m1-3h0m0 3h0m1-1h0m0-2h0m0-1h0m1 4h0m2-4h0m0 2h0m2-1h0m0 1h0m1 1h0m0-1h0m1 1h0m1-3h0m2 3h0m1-2h0m0 1h0m3 2h0m3 0h0m0-1h0m1 1h0m1-3h0m1 1h0m0-2h0m3 4h0m2-2h0m1 2h0m1-3h0m0 2h0m1 1h0m0 0h0m1-2h0m3-2h0m2 1h0m1 3h0m1-3h0m0 2h0m2-3h0m0 1h0m1-1h0m0 0h0m1 3h0m1-1h0m0 0h0m2 0h0m0-1h0m0 1h0m0 0h0m3 1h0m0-1h0m3 2h0m0-4h0m1 0h0m0 1h0m1 2h0m1 1h0m0-2h0m1 1h0m2-3h0m0 1h0m0 3h0m1-2h0m2-1h0m2 3h0m0-1h0m2-3h0m0 3h0m0-3h0m1 0h0m0 1h0m3-1h0m0 3h0m3 1h0m1-1h0m1-1h0m0 0h0m0 0h0m0 2h0m0-1h0m1 0h0m1 0h0m1-1h0m0 1h0m1 0h0m0-3h0m1 4h0m1 0h0m1 0h0m1-2h0m3-2h0m1 0h0m2 3h0m1 0h0m1 0h0m6-1h0m3-1h0m1 3h0m0 0h0m1-4h0m1 3h0m0 1h0m0-3h0m1 3h0m0-2h0m1 0h0m1 1h0m1 1h0m1-3h0m0 3h0m3-3h0m2 3h0m2-2h0m0-1h0m0 2h0m0-3h0m1 4h0m5-2h0m1 0h0m0-1h0m1 2h0m0 1h0m1-4h0m1 0h0m1 1h0m0-1h0m0 1h0m2 1h0m0 1h0m1 1h0m1-2h0m0 0h0m1 0h0m2-1h0m2 3h0m2-4h0m0 0h0m3 2h0m1-1h0m2 2h0m0-2h0m3 1h0m0-1h0m1 0h0m0-1h0m1 3h0m1-2h0m2 3h0m1-2h0m2 0h0m1 2h0m1-1h0m1-2h0m1 1h0m0-1h0m2 2h0m1 1h0m1-4h0m3 4h0m1-1h0m0-1h0m1 1h0m0-3h0m0 3h0m3 1h0m0-1h0m4 0h0m2-3h0m1 2h0m0-1h0m1 0h0m1-1h0m1 4h0m-6 3h0m0 2h0m-3 0h0m-1-2h0m0 1h0m-1-1h0m-1 1h0m-1-2h0m-4 2h0m-3 1h0m0-4h0m-1 1h0m0 0h0m-1 0h0m0-1h0m-1 3h0m-1-1h0m-1 1h0m-1-1h0m-1 1h0m0 1h0m0-3h0m-1 3h0m-1-3h0m0 3h0m0 0h0m-4-4h0m-1 1h0m-1 1h0m-1 2h0m0-1h0m-1-3h0m-1 4h0m-1-4h0m-3 4h0m-3-1h0m0-3h0m-3 2h0m-1-2h0m0 1h0m0 0h0m-1 0h0m-1 3h0m-1-2h0m0 1h0m-2-2h0m0 0h0m-1 0h0m0 3h0m-1-1h0m0-1h0m0 2h0m-3-2h0m0 0h0m-2-2h0m-1 2h0m-1 2h0m-1-1h0m-1 1h0m0-3h0m-1 1h0m-3 1h0m0 0h0m0-3h0m-1 3h0m-1 0h0m-1-3h0m0 2h0m-1 0h0m0 1h0m-4-1h0m-1 2h0m-1 0h0m-1-4h0m-1 3h0m-2-1h0m-1-2h0m0 1h0m0 2h0m-1 1h0m0-4h0m0 3h0m0-2h0m0-1h0m-1 2h0m-1 2h0m-2 0h0m-3-3h0m-1-1h0m0 0h0m-1 1h0m-1 3h0m-1-4h0m-1 2h0m0 1h0m-4-3h0m-1 3h0m-1 0h0m-1-1h0m-3-1h0m0 3h0m-1 0h0m-3-1h0m-1-1h0m-1 2h0m-2 0h0m-1 0h0m-1-1h0m-1-1h0m0-1h0m0 2h0m-4-1h0m-1-1h0m0 2h0m-2 1h0m-1 0h0m-1-2h0m-2-1h0m-1 2h0m0 0h0m-2 1h0m-1 0h0m0-1h0m-1 0h0m-1 1h0m-1-1h0m0-2h0m0 3h0m-2-4h0m0 2h0m-1-1h0m0-1h0m-5 3h0m0-2h0m-3 2h0m0 0h0m-1-1h0m0 0h0m-2 0h0m0 0h0m-1 2h0m-2 0h0m-1-2h0m-1-1h0m-1 3h0m-1-3h0m0-1h0m-4 4h0m-4-4h0m0 4h0m0-2h0m-1-1h0m-1 3h0m0-4h0m-1 2h0m0-2h0m-1 1h0m-2 1h0m-1 1h0m-1-3h0m-2 2h0m9 7h0m2 0h0m1-4h0m1 0h0m0 1h0m2-1h0m0 1h0m4 2h0m0-3h0m1 4h0m3 0h0m1-2h0m0 0h0m0-2h0m1 4h0m1-2h0m1 2h0m3-1h0m0 0h0m3-1h0m2-1h0m0 3h0m0-4h0m1 1h0m1 1h0m1 1h0m2 0h0m4 1h0m3-2h0m0-1h0m0 3h0m1-2h0m2-2h0m2 2h0m0 2h0m0-2h0m1-2h0m1 0h0m1 4h0m1-2h0m0-2h0m1 1h0m1 3h0m2-1h0m0-1h0m1-1h0m0 1h0m1-2h0m0 1h0m1 3h0m0-3h0m0 2h0m1 1h0m1-3h0m0 1h0m1-1h0m0 0h0m0 3h0m0-4h0m1 1h0m1 2h0m4 1h0m0-3h0m0-1h0m1 0h0m1 1h0m1 3h0m1-3h0m0 2h0m0 1h0m5-3h0m1 3h0m0-4h0m3 4h0m0-4h0m2 3h0m2-2h0m1 0h0m0 2h0m1-3h0m1 3h0m0-1h0m0-2h0m0 1h0m1 1h0m0 0h0m2-2h0m0 0h0m2 4h0m1-4h0m0 2h0m0 0h0m0 2h0m0 0h0m2-2h0m0 1h0m1-2h0m3-1h0m1 0h0m0 3h0m1-1h0m1 0h0m1 1h0m2-2h0m0 1h0m1-2h0m0 2h0m2 2h0m2-4h0m1 0h0m0 3h0m0-1h0m2 1h0m0 1h0m2 0h0m1 0h0m3-2h0m1-1h0m1 1h0m3 2h0m0 0h0m0-4h0m2 1h0m1 0h0m1 0h0m1 3h0m0-3h0m0 3h0m1-4h0m2 4h0m0 0h0m1-4h0m1 0h0m3 2h0m2 1h0m2 1h0m2-1h0m0 0h0m2-3h0m1 0h0m0 3h0m0-1h0m1 1h0m0-3h0m0 1h0m0 3h0m1-3h0m1 2h0m0-1h0m1 2h0m0-3h0m0 3h0m0 0h0m0-3h0m1-1h0m1 3h0m1-3h0m1 4h0m3-1h0m1 0h0m0 1h0m1-2h0m0 0h0m2 2h0m1-2h0m2-2h0m0 2h0m1-2h0m0 1h0m0 1h0m-3 5h0m-2-1h0m-1 1h0m0 0h0m-5 0h0m0-2h0m-1 4h0m0-1h0m-4-2h0m0 0h0m-2 1h0m-2 2h0m-1 0h0m-1-4h0m0 2h0m-1 2h0m-1-4h0m-3 0h0m-1 3h0m0-1h0m-2 0h0m-1 1h0m0-1h0m-1 1h0m0 1h0m-1 0h0m0-3h0m-6-1h0m-1 1h0m-5 1h0m0-1h0m-4 2h0m0-2h0m-1 0h0m-1 2h0m-2-2h0m-1 2h0m0 1h0m0 0h0m0-1h0m0-2h0m0-1h0m0 4h0m-1 0h0m-1-4h0m-5 2h0m0 0h0m-1-1h0m-2 0h0m0 2h0m-4-1h0m-1-1h0m0-1h0m0 2h0m0 1h0m-2 1h0m-1-4h0m0 1h0m-1 2h0m0 1h0m-3 0h0m-1 0h0m0-3h0m-1 0h0m-2-1h0m0 1h0m-1 3h0m-3-1h0m-3 0h0m-1 1h0m0-1h0m-1-3h0m0 3h0m-2 0h0m-1 0h0m-2 0h0m-1-3h0m-1 2h0m-1 2h0m-3-1h0m0 1h0m-1-3h0m0 0h0m-1 2h0m0-1h0m0-2h0m-2 2h0m-1-1h0m-2 2h0m-1 0h0m-1 0h0m-1-2h0m-1 1h0m0-2h0m-1 4h0m-2 0h0m0-3h0m0 3h0m-1-4h0m0 0h0m-2 1h0m0 1h0m0-1h0m-1 0h0m0 3h0m-3-2h0m0-2h0m-1 0h0m0 4h0m0-2h0m0-2h0m-2 1h0m0 1h0m-1 0h0m0 1h0m0 0h0m-1-1h0m0-2h0m-1 0h0m0 2h0m0-1h0m0 1h0m-3 1h0m-1 1h0m-1 0h0m-1 0h0m-1-1h0m-1-3h0m-1 4h0m-1-4h0m0 0h0m0 3h0m-1 1h0m-1-2h0m0 0h0m-7 2h0m0-2h0m-1-2h0m-1 4h0m-1 0h0m-1-1h0m0 0h0m-2-2h0m-1 2h0m-3 1h0m-2-3h0m0 0h0m0 3h0m3 2h0m2 3h0m2-3h0m2-1h0m0 3h0m2-1h0m0 0h0m0 0h0m0 2h0m1 0h0m2-3h0m0 2h0m2-3h0m1 0h0m3 4h0m1 0h0m1 0h0m1-2h0m1-2h0m0 0h0m0 1h0m4 3h0m2-4h0m1 1h0m0 2h0m0-3h0m2 3h0m0-3h0m1 4h0m0-2h0m1-2h0m0 3h0m2-3h0m6 2h0m0 1h0m0-3h0m0 4h0m1-3h0m1 3h0m2 0h0m0-3h0m1 0h0m2 1h0m2 1h0m1 1h0m1 0h0m0-1h0m1-2h0m1 1h0m2 1h0m1-2h0m0 3h0m1-2h0m1-2h0m2 2h0m1-1h0m1 0h0m0 3h0m2-4h0m1 4h0m0 0h0m1-2h0m1 2h0m0-2h0m1 1h0m3-2h0m1-1h0m2 2h0m3-2h0m5 2h0m0-2h0m2 0h0m2 2h0m0 0h0m1 2h0m0-3h0m2 1h0m0-1h0m1-1h0m0 2h0m0-1h0m1 0h0m1 3h0m0-1h0m0 0h0m1-3h0m0 1h0m1 3h0m0-2h0m4 2h0m0-3h0m1 2h0m0-2h0m0 2h0m2-3h0m0 3h0m1 0h0m3 0h0m3-3h0m1 4h0m3-4h0m4 0h0m0 3h0m1-3h0m0 4h0m2-2h0m0 1h0m3 1h0m2-2h0m2-1h0m1-1h0m2 2h0m2-2h0m1 2h0m0-2h0m3 3h0m0-3h0m2 2h0m2-1h0m0-1h0m0 0h0m1 3h0m1-3h0m1 4h0m1-4h0m0 1h0m0 5h0m-1 1h0m-3 0h0m0-2h0m-2 3h0m-2-1h0m-1 0h0m0-2h0m-1 2h0m-1 0h0m0-2h0m-2 3h0m0 0h0m-1-2h0m-1 2h0m0 1h0m-1-4h0m0 4h0m-1-3h0m0 1h0m0 2h0m-1-3h0m0 1h0m-2-1h0m-3 2h0m-2 0h0m-6 1h0m-1-3h0m-3 1h0m-1-1h0m0 1h0m-1 0h0m-3 1h0m0 1h0m-1-4h0m-2 3h0m-3-1h0m-1 2h0m-2-2h0m0-2h0m-2 1h0m-1 0h0m-2 2h0m0 0h0m-1 1h0m0-4h0m-1 4h0m0 0h0m0 0h0m-1-1h0m0 1h0m-1-1h0m0-2h0m-3 1h0m-2 2h0m0-1h0m-1-1h0m0 2h0m0-4h0m-1 3h0m0-2h0m0 0h0m0 3h0m0-4h0m-3 4h0m-3-4h0m0 3h0m-1-1h0m-1-1h0m0 3h0m-1-2h0m0 2h0m-1-2h0m0 1h0m-1 0h0m-2 1h0m0-1h0m-1-2h0m0 3h0m0-1h0m-1-2h0m0 0h0m-1 3h0m0-4h0m-1 2h0m0 1h0m-2-3h0m-1 1h0m-1 2h0m-2-3h0m-1 2h0m-1 2h0m0 0h0m-1-2h0m-2 0h0m0 0h0m-1 0h0m0 0h0m-2 1h0m0 0h0m-1 1h0m-1-4h0m0 0h0m-1 0h0m0 4h0m-1-2h0m0 2h0m0 0h0m-1-2h0m-2 2h0m0-1h0m-1 0h0m0 0h0m0-3h0m0 1h0m-1-1h0m-1 4h0m-3-3h0m-1 0h0m-1 2h0m-1-1h0m0-1h0m0 1h0m-3-2h0m0 1h0m0 0h0m0 0h0m-1 2h0m0-1h0m-2 0h0m-1 2h0m-4-2h0m0 2h0m0-1h0m-1-2h0m-1-1h0m-1 4h0m0-3h0m-3 1h0m-1-2h0m-2 3h0m0-3h0m0 2h0m-1-1h0m-2 3h0m0-4h0m0 0h0m-1 0h0m0 1h0m-1 3h0m-1-1h0m0-2h0m-4-1h0m4 5h0m2 3h0m0-1h0m1 2h0m1-2h0m2-1h0m0 2h0m1-1h0m1-2h0m0 4h0m1-4h0m3 3h0m1-1h0m1 2h0m0-1h0m2-3h0m1 4h0m5-3h0m2 2h0m0-1h0m1-2h0m1 1h0m2 2h0m0-3h0m1 4h0m0-2h0m0 0h0m1 0h0m0 2h0m1-4h0m2 2h0m0 2h0m0-1h0m1-1h0m0-2h0m2 3h0m1 1h0m2-4h0m0 2h0m1 0h0m0-2h0m3 2h0m0-1h0m3 0h0m3 3h0m0-2h0m2-1h0m0 3h0m1-3h0m3-1h0m2 4h0m0-2h0m0 1h0m2 0h0m1-2h0m1 2h0m0-2h0m2 2h0m2-2h0m3-1h0m1 0h0m1 0h0m1 1h0m0 3h0m0-4h0m2 2h0m0-1h0m4 2h0m1-3h0m0 1h0m0 0h0m1-1h0m1 0h0m0 4h0m1-4h0m1 0h0m0 1h0m1 0h0m0-1h0m1 2h0m3 2h0m2-1h0m1 0h0m2-3h0m0 4h0m0-4h0m1 1h0m2-1h0m0 2h0m0-2h0m1 0h0m1 0h0m2 1h0m1 3h0m0-4h0m1 2h0m0-1h0m1 1h0m1 0h0m1 1h0m2-1h0m1 2h0m0 0h0m0 0h0m0-2h0m2-2h0m3 1h0m1 1h0m1 0h0m1 1h0m0-3h0m4 4h0m0-2h0m0 2h0m2-3h0m2 1h0m2-1h0m3 3h0m2-2h0m0 1h0m0-3h0m1 4h0m2-4h0m0 2h0m1 2h0m0 4h0m-3 1h0m-1-2h0m0 2h0m0-2h0m-1-1h0m0 2h0m-1-1h0m-1-1h0m-5 2h0m-2-2h0m-1 1h0m-4-1h0m0 1h0m-1-1h0m-1 1h0m0 2h0m-4 0h0m-1 0h0m0-4h0m-1 1h0m0 3h0m-1-2h0m0 0h0m-2-1h0m0 1h0m-2 0h0m-1-2h0m0 2h0m-1 1h0m0-3h0m-5 4h0m-3-1h0m-1-2h0m0 1h0m-1 1h0m-1-1h0m0 0h0m-2 0h0m0 0h0m-2-2h0m-1 1h0m-1 0h0m0 1h0m0-1h0m-4 3h0m0-2h0m0 0h0m0 1h0m-1 0h0m-1 0h0m-2 0h0m-3-3h0m-5 4h0m-1-3h0m-1 3h0m-1-2h0m-2 2h0m0 0h0m-3-1h0m-5 1h0m-1-2h0m-1-2h0m-1 1h0m0 3h0m-3-4h0m-1 1h0m-1-1h0m-2 2h0m0 2h0m-1 0h0m-1-1h0m-1 0h0m-1-1h0m-1 2h0m0 0h0m0 0h0m-3 0h0m-1-2h0m-1 1h0m0-1h0m-1 2h0m-2-1h0m0-3h0m-1 2h0m-2-1h0m-1 1h0m-1-1h0m-1 0h0m0-1h0m-1 4h0m0-1h0m-1-3h0m0 0h0m-3 2h0m-1-1h0m0 2h0m-1 0h0m-1 0h0m0-1h0m0-2h0m0 2h0m-2-2h0m-1 0h0m-1 0h0m-1 1h0m0 1h0m-2 1h0m0-2h0m-1-1h0m-1 1h0m-1 2h0m0 0h0m-4-1h0m-1-1h0m4 7h0m0 1h0m0-1h0m1-3h0m3 3h0m0 0h0m1 1h0m1-4h0m2 0h0m0 0h0m0 0h0m0 1h0m1 3h0m0-1h0m2 1h0m1-1h0m0-2h0m1 2h0m0-3h0m1 1h0m0 0h0m0 3h0m1-3h0m0-1h0m1 4h0m0 0h0m1-2h0m1 0h0m1-2h0m0 2h0m1 1h0m1-3h0m0 4h0m0-3h0m2 2h0m0-2h0m1 3h0m0-3h0m1 1h0m1 1h0m1 1h0m2-2h0m2 0h0m1 1h0m3 1h0m0-1h0m3 1h0m0-2h0m0 0h0m1-1h0m1 3h0m0-1h0m0-2h0m1 3h0m1 0h0m3-3h0m0 2h0m1 1h0m0-4h0m1 2h0m1-2h0m3 2h0m0 1h0m1 0h0m4 1h0m0 0h0m3 0h0m1-3h0m3 1h0m2 2h0m0-4h0m1 1h0m1 0h0m1 3h0m2-1h0m2-2h0m1-1h0m1 4h0m4 0h0m0-4h0m1 1h0m2 1h0m0-2h0m1 0h0m1 4h0m1 0h0m0-3h0m0 0h0m1 2h0m1-3h0m1 2h0m0 2h0m0-3h0m0 2h0m1 1h0m1-3h0m1 1h0m0 0h0m1 2h0m1-1h0m1 0h0m0 0h0m0 0h0m1 1h0m1-3h0m4 0h0m1 0h0m1 1h0m3-2h0m4 3h0m0-2h0m1 1h0m0-1h0m2 2h0m1-1h0m0-2h0m1 3h0m1-2h0m4 0h0m0-1h0m1 1h0m1 0h0m4 1h0m1 2h0m1-3h0m0 1h0m0 1h0m0-1h0m0 0h0m1 7h0m-2-1h0m0-1h0m-1 1h0m0-1h0m-1-1h0m0-1h0m0 4h0m-7-1h0m-3 1h0m-3 0h0m-1-4h0m0 1h0m-1 1h0m0-1h0m-1 1h0m0 0h0m0 0h0m-2 0h0m0-1h0m-2 3h0m-2-1h0m0-3h0m-1 2h0m0-2h0m-1 0h0m0 2h0m-1-2h0m-2 4h0m-1-3h0m-1-1h0m-1 0h0m-2 1h0m-1-1h0m0 0h0m-2 0h0m-1 3h0m-4 1h0m-3-3h0m-2 0h0m-1 1h0m0-1h0m0-1h0m-3 1h0m0 1h0m-5-2h0m0 0h0m-2 0h0m-3 1h0m-1 0h0m-6-1h0m-2 0h0m-1 0h0m-1 3h0m-1-3h0m-2 4h0m-1-1h0m-2 0h0m0-1h0m-1 0h0m0-2h0m0 2h0m-2 2h0m-4-4h0m-3 4h0m-5-2h0m-2 0h0m-2 2h0m0-1h0m-2-3h0m-2 0h0m-1 0h0m-1 3h0m0-3h0m-2 2h0m0 2h0m-2-2h0m0 1h0m0-3h0m-1 0h0m-1 0h0m-2 1h0m-1-1h0m0 2h0m0-1h0m0 1h0m-2-2h0m-5 2h0m-1-2h0m-1 1h0m-1-1h0m-1 2h0m0 1h0m4 4h0m0 0h0m1 0h0m1 1h0m0 1h0m2-1h0m0 0h0m0-1h0m1-1h0m1 2h0m0 0h0m2 1h0m0-1h0m2-1h0m1-2h0m0 3h0m1-1h0m0 0h0m1 1h0m1-3h0m0 2h0m0-2h0m1 0h0m1 1h0m2 1h0m0-2h0m0 2h0m0-1h0m1-1h0m0 1h0m1 3h0m1-4h0m0 3h0m1-3h0m0 4h0m1-1h0m3 0h0m0-3h0m2 3h0m1-1h0m0-2h0m1 1h0m3 3h0m0-2h0m1 1h0m1-2h0m0 3h0m1 0h0m0-3h0m0-1h0m2 0h0m3 1h0m1 0h0m2-1h0m23 1h0m0-1h0m1 4h0m0-2h0m0 1h0m1 0h0m2-1h0m1 2h0m0-4h0m1 2h0m0-1h0m0 1h0m1 2h0m1 0h0m3-4h0m1 1h0m1 0h0m1 2h0m1-3h0m0 2h0m2-1h0m4 1h0m2 0h0m1 2h0m0 0h0m2 0h0m0-1h0m3-3h0m1 4h0m4-1h0m0-2h0m0 1h0m1-2h0m1 3h0m0-1h0m4 2h0m1-3h0m0 1h0m1-2h0m1 0h0m3 3h0m1-2h0m3 3h0m0-2h0m1-2h0m1 4h0m1 0h0m0-1h0m1-2h0m0 0h0m0 0h0m0 2h0m0-3h0m1 3h0m1-1h0m0 1h0m-8 2h0m-2 1h0m-1-1h0m-2 0h0m-4 0h0m-1 2h0m-1-1h0m-3-1h0m0 4h0m0-2h0m-1-2h0m0 1h0m0 1h0m-2 0h0m0-1h0m-3 1h0m-1 2h0m0-3h0m0-1h0m-1 2h0m-1-1h0m-1 0h0m-1 1h0m0 0h0m-1 2h0m0-1h0m-1 0h0m0 1h0m-1-4h0m-1 3h0m-3 0h0m-1-2h0m0 1h0m0-1h0m-1 1h0m0 0h0m0-1h0m-1-1h0m-1 0h0m-2 0h0m-1 3h0m-1 0h0m-1-1h0m0 2h0m-2-1h0m-2-3h0m0 3h0m-1-2h0m-1 0h0m-37-1h0m-2 1h0m-2-1h0m-2 3h0m0-3h0m-1 3h0m-7-3h0m0 3h0m0-1h0m-1 2h0m0-1h0m-1 1h0m0-4h0m-1 3h0m-2-2h0m-1-1h0m-2 0h0m-1 2h0m-2 0h0m-1 0h0m-3-2h0m6 5h0m1 1h0m1 1h0m2-2h0m2 1h0m0-1h0m2 1h0m4 3h0m2-4h0m1 4h0m4-4h0m0 4h0m0-4h0m2 4h0m0-1h0m1-1h0m1-2h0m0 1h0m40-1h0m1 1h0m1 3h0m0-3h0m1 1h0m1-2h0m1 3h0m1-2h0m0 1h0m0-2h0m1 0h0m3 2h0m1-1h0m0 1h0m0-2h0m1 2h0m1 0h0m1 0h0m0-2h0m4 0h0m5 0h0m0 0h0m-66 5h0m-4 0h0m-2 0h0" stroke="#6b6b6b" stroke-width="2.00" stroke-linecap="round" fill="none"/>
<path d="M361 1684h0m1 0h0m1 0h0m0 0h0m6 0h0m1 0h0m10 5h0m-5-1h0m0-1h0m0 0h0m0 2h0m-2-3h0m-1 2h0m0 0h0m-1 0h0m-1-3h0m0 0h0m0 3h0m-1 1h0m0-3h0m0 3h0m-1-4h0m0 2h0m0-2h0m-2 2h0m0 1h0m0-3h0m-1 0h0m0 1h0m-1 0h0m0 0h0m0 3h0m-1-2h0m0 2h0m-1-2h0m0-1h0m0 3h0m-1 0h0m-1 0h0m-3-1h0m0-1h0m0-2h0m-1 0h0m0 0h0m-1 3h0m-2 4h0m1-2h0m0 4h0m0-4h0m1 3h0m0 1h0m0-2h0m2 0h0m1 1h0m0 0h0m0 0h0m0 0h0m0 1h0m0-4h0m0 0h0m0 1h0m1 2h0m0-2h0m1-1h0m1 1h0m1 2h0m0-2h0m0 1h0m1 0h0m0-1h0m0 1h0m0 0h0m0 0h0m1 0h0m0 1h0m0-3h0m1 4h0m0-3h0m0 2h0m1 0h0m0-2h0m0-1h0m0 1h0m1 0h0m0 3h0m1 0h0m0 0h0m0 0h0m1 0h0m1-1h0m0-1h0m1 1h0m1-2h0m1 0h0m0 3h0m0-2h0m0-1h0m0 0h0m1-1h0m0 1h0m0 1h0m1 2h0m1-4h0m0 2h0m0-2h0m1 4h0m0 0h0m0-3h0m1 0h0m0 0h0m0 2h0m1 1h0m0-3h0m0 1h0m0 2h0m1-3h0m0-1h0m0 0h0m1 4h0m1-2h0m0 1h0m0 0h0m1 1h0m1-3h0m1 0h0m1 3h0m1-2h0m1-1h0m7 3h0m2-1h0m7 6h0m-3-4h0m-3 2h0m-2 2h0m-1 0h0m-2-3h0m0 1h0m-2 1h0m0-3h0m0 2h0m-2 1h0m0 1h0m-1-3h0m0 2h0m0-1h0m-1 1h0m0-3h0m-1 1h0m-1 0h0m0 1h0m-1-2h0m0 2h0m-2 0h0m-1-1h0m0 2h0m-1 0h0m0 0h0m-1-1h0m-1 0h0m0-2h0m0 3h0m0 0h0m0-1h0m-1 0h0m0-2h0m0 0h0m-3 3h0m0-3h0m0 3h0m-2-3h0m0 4h0m0 0h0m-1-2h0m0 1h0m0 1h0m-1-3h0m0-1h0m0 3h0m-1-1h0m-1-1h0m0 2h0m-1-1h0m0-1h0m-1 3h0m0 0h0m-1-1h0m-1 0h0m0-3h0m0 3h0m-1-1h0m0-2h0m0 1h0m-1 1h0m0 1h0m-1 0h0m0 0h0m0 0h0m0-1h0m-1 0h0m0-2h0m0 1h0m-1 0h0m-1-1h0m0 1h0m0 0h0m-1 0h0m0 1h0m0 2h0m0 0h0m-2-1h0m0 1h0m0-1h0m-3 0h0m0-1h0m-1 6h0m1-2h0m1 0h0m0 1h0m0 1h0m0 0h0m1-1h0m0-2h0m1 2h0m0-2h0m1 4h0m0-2h0m0-1h0m1 0h0m0 1h0m0 0h0m0 0h0m0 1h0m1 0h0m0 0h0m0 1h0m0-1h0m1 1h0m0-4h0m0 1h0m0-1h0m0 2h0m1 0h0m0 0h0m1 2h0m0-4h0m1 3h0m1-2h0m1 1h0m0 0h0m1 0h0m0 1h0m0-1h0m2 2h0m0-3h0m1 2h0m1-3h0m1 0h0m0 4h0m1-2h0m0 1h0m1 0h0m0 1h0m0 0h0m0-3h0m1-1h0m0 2h0m1 1h0m0 0h0m3-2h0m0-1h0m0 4h0m1-1h0m0 0h0m1 1h0m1-3h0m0-1h0m0 1h0m0 1h0m0 1h0m1-1h0m0-1h0m0 1h0m1 2h0m0-4h0m0 3h0m1-1h0m0 2h0m1-4h0m0 1h0m0 2h0m3-3h0m0 0h0m0 2h0m1 0h0m0 0h0m1 2h0m1-4h0m1 2h0m0-2h0m1 2h0m1 1h0m1 0h0m0 1h0m1-1h0m2 0h0m2-3h0m2 3h0m1 0h0m1 0h0m3-3h0m2 4h0m3 4h0m0 1h0m-4-2h0m-2-1h0m-5 2h0m0-2h0m0 3h0m-1-3h0m0 2h0m0 0h0m0 1h0m-1-1h0m0-2h0m0 0h0m0 2h0m0 0h0m0-2h0m-1 1h0m0 0h0m0 1h0m-1-1h0m0 0h0m-1-1h0m-1-1h0m-1 1h0m0-1h0m0 3h0m0 0h0m-1 1h0m-1-2h0m0-2h0m0 1h0m-1 1h0m0-2h0m-1 2h0m-1-1h0m0 0h0m-3 1h0m0-1h0m0-1h0m-1 4h0m-1-4h0m-2 4h0m0-3h0m-1-1h0m-1 3h0m-4 1h0m-1-1h0m0 0h0m0 0h0m0 1h0m-1-3h0m-2 3h0m-1-4h0m-1 1h0m-1-1h0m0 3h0m0 0h0m-3-1h0m0 0h0m0 2h0m0-3h0m-1 0h0m0 2h0m0-3h0m0 3h0m0 1h0m-1 0h0m-1-1h0m-1 1h0m-1-1h0m0-2h0m-1 1h0m-2 2h0m0-2h0m0-1h0m-2 3h0m0-2h0m-2 2h0m-1-3h0m0 2h0m0-2h0m-1 2h0m0-2h0m-1 6h0m0 1h0m1 1h0m0-1h0m0-1h0m1-2h0m0 4h0m1-1h0m0-2h0m0 3h0m0-4h0m1 4h0m1-2h0m0-1h0m0 0h0m0 2h0m0 1h0m0-1h0m0-1h0m1-1h0m0 1h0m0 0h0m1-1h0m1 1h0m1-1h0m1 3h0m0-1h0m1-1h0m0 1h0m1 1h0m2-2h0m1 0h0m0-1h0m0 2h0m2-2h0m1-1h0m0 3h0m0-2h0m0 1h0m0 2h0m0 0h0m1-2h0m1 2h0m0-4h0m0 4h0m1-3h0m0-1h0m0 1h0m0-1h0m1 0h0m1 0h0m0 3h0m0 0h0m1 1h0m0-2h0m0-1h0m0 1h0m0 0h0m0 0h0m1-2h0m0 2h0m1 1h0m0-1h0m1-2h0m0 3h0m1-2h0m0 3h0m0-4h0m2 3h0m1-2h0m0 3h0m0 0h0m0 0h0m0-2h0m1-1h0m0 0h0m1 3h0m1-3h0m0 0h0m0-1h0m0 2h0m1 1h0m1 0h0m1 0h0m0-3h0m0 2h0m0 0h0m0 0h0m0 1h0m2 0h0m0 0h0m0-3h0m0 0h0m1 0h0m0 0h0m0 3h0m1-1h0m0 1h0m1-3h0m1 1h0m0 2h0m0-1h0m1 1h0m0-1h0m1 2h0m0-4h0m0 2h0m1-2h0m0 1h0m1 0h0m0 0h0m0 0h0m1 0h0m0 0h0m0 0h0m0 3h0m0-2h0m2-1h0m0-1h0m0 0h0m0 0h0m0 1h0m1 1h0m1-1h0m0 2h0m0 1h0m0-1h0m1-1h0m0 1h0m0 0h0m1 1h0m0-2h0m1 2h0m1-3h0m0 0h0m1 1h0m3 2h0m0-2h0m2 0h0m2 2h0m2 2h0m-3-1h0m-2 3h0m-4 0h0m-1-2h0m-1-1h0m-1 3h0m0-1h0m0 0h0m0 2h0m0-4h0m-1 1h0m-1 1h0m0-2h0m0 1h0m-1 2h0m-1-3h0m0 0h0m0 1h0m0 3h0m-1 0h0m0-1h0m0-1h0m0-2h0m0 2h0m-1-1h0m-1 2h0m0-3h0m-1 1h0m0 0h0m0 0h0m-1 0h0m0 3h0m-1 0h0m0-3h0m0 0h0m0 1h0m-1 2h0m-2 0h0m0-3h0m0 1h0m0 0h0m-2-1h0m-1 0h0m0-1h0m-1 3h0m0-3h0m0 0h0m-1 4h0m0-3h0m-1-1h0m-1 3h0m0 0h0m-1 0h0m-1-2h0m0 2h0m0 1h0m0-3h0m-1 2h0m0-2h0m0-1h0m0 3h0m-1 1h0m-2 0h0m-1-2h0m0 2h0m0-4h0m-2 0h0m0 4h0m-1-2h0m0 1h0m-2-2h0m-1 1h0m0-1h0m-1 0h0m0 3h0m-1-3h0m-1 1h0m0 2h0m-1 0h0m0-1h0m0 1h0m-1-4h0m0 2h0m0-1h0m-1-1h0m0 2h0m0 0h0m0 2h0m-1-2h0m0 2h0m0-4h0m0 1h0m-1-1h0m-1 4h0m0 0h0m-1 0h0m0-3h0m0 2h0m-1-2h0m0 0h0m0-1h0m-1 4h0m-1-2h0m0 1h0m0-2h0m0-1h0m0 4h0m0-3h0m-1 3h0m0-2h0m-2-1h0m0 2h0m0 1h0m0-4h0m0 2h0m-1-2h0m0 0h0m0 1h0m0 1h0m-1 1h0m-1-1h0m-1-1h0m0 0h0m-1 2h0m-1 6h0m0 0h0m1 0h0m0-4h0m0 0h0m0 0h0m1 4h0m0-2h0m0 1h0m1 0h0m0 0h0m0 0h0m1-1h0m0-2h0m0 4h0m0-2h0m1 0h0m0-1h0m1-1h0m0 4h0m0-3h0m1 0h0m0 3h0m0 0h0m0-1h0m0-1h0m0-1h0m0 2h0m0 1h0m1-4h0m1 3h0m1 0h0m0-2h0m1-1h0m0 4h0m1-3h0m1 1h0m2 0h0m0 0h0m1 0h0m0 1h0m2-3h0m0 3h0m1 0h0m0-3h0m1 0h0m0 2h0m0-2h0m1 1h0m0 0h0m0 0h0m1 1h0m1-1h0m0 2h0m0-3h0m1 4h0m1-3h0m0-1h0m1 2h0m0 1h0m1 0h0m0-1h0m0 1h0m1-1h0m0-1h0m0 1h0m0 0h0m1-1h0m1 3h0m1-1h0m0 1h0m0-3h0m0 0h0m0 3h0m2-2h0m0 0h0m0 1h0m0-3h0m0 1h0m1 3h0m0 0h0m2-4h0m0 3h0m0-3h0m1 4h0m1-1h0m0-3h0m0 2h0m1 0h0m1-2h0m0 0h0m0 2h0m0 2h0m0-1h0m0-2h0m2 2h0m0-3h0m1 0h0m1 0h0m1 1h0m0 3h0m0-4h0m1 4h0m0-4h0m0 4h0m0-4h0m1 0h0m0 2h0m1 0h0m0-1h0m0 2h0m0 0h0m0 0h0m0-2h0m1-1h0m1 0h0m1 2h0m0 1h0m1-1h0m1 1h0m1 1h0m0-2h0m0 0h0m1 2h0m1-2h0m0-1h0m0 3h0m0-3h0m0 2h0m0 1h0m1-1h0m0 0h0m0 0h0m0-3h0m1 1h0m0-1h0m0 0h0m1 4h0m0 0h0m1 0h0m0-3h0m2 0h0m1 0h0m0 3h0m0-2h0m4 1h0m2 0h0m2 1h0m-2 3h0m-3 2h0m0-4h0m0 3h0m-3-3h0m-1 3h0m-1-3h0m-2 1h0m-1 1h0m-2 0h0m0 0h0m0 1h0m0-3h0m0 3h0m-1 1h0m0-4h0m-1 1h0m-1 0h0m0 0h0m-1 3h0m0-2h0m0 2h0m-1-1h0m0 0h0m-1 1h0m0 0h0m0 0h0m-1-2h0m0-2h0m-2 1h0m0 0h0m-1 0h0m0-1h0m0 0h0m-1 2h0m0-1h0m0 3h0m-1-2h0m-2 1h0m-1-1h0m0-2h0m-1 0h0m-2 0h0m-1 0h0m0 0h0m0 0h0m-1 0h0m0 0h0m0 4h0m-1-1h0m0-1h0m0 2h0m-1-2h0m0 2h0m0 0h0m0-3h0m-2-1h0m-1 4h0m0-4h0m-1 0h0m-1 1h0m0-1h0m-1 4h0m0-4h0m0 2h0m0 0h0m0 1h0m-1 0h0m-1 0h0m0 0h0m0-1h0m-1-1h0m0 2h0m-1-1h0m0-2h0m-1 0h0m-1 3h0m-1-1h0m0 2h0m0-2h0m0-2h0m-1 4h0m0 0h0m-1-4h0m0 3h0m-1 0h0m0-3h0m0 3h0m-1-1h0m0 2h0m0-3h0m-1 0h0m0-1h0m-1 1h0m0 2h0m0 1h0m-1-4h0m-1 2h0m0 2h0m-1-1h0m0 1h0m0-1h0m-1 0h0m0-1h0m-1 1h0m-1 1h0m0-1h0m0-2h0m-1 0h0m0 1h0m-1-2h0m0 4h0m0-1h0m-2-3h0m-1 3h0m0-2h0m0-1h0m0 3h0m-1-2h0m-1 1h0m-1 0h0m0 4h0m2 2h0m0 0h0m1-1h0m1 0h0m0-1h0m1 3h0m0-2h0m0 0h0m2 2h0m0-4h0m1 4h0m1-2h0m0 1h0m1-3h0m0 0h0m1 1h0m0 0h0m0 2h0m1 1h0m0-2h0m1 2h0m0 0h0m1-3h0m0-1h0m0 0h0m0 4h0m0 0h0m1-2h0m1-1h0m0 1h0m1 2h0m0 0h0m1-1h0m0-3h0m0 2h0m1 0h0m0 2h0m0-3h0m0 1h0m0-2h0m1 3h0m0-1h0m0 2h0m1 0h0m2-1h0m0 0h0m0 1h0m1-4h0m0 4h0m1-4h0m0 1h0m0 1h0m1 2h0m0 0h0m1-4h0m0 4h0m0-4h0m1 1h0m0 3h0m0-3h0m0 3h0m0-2h0m1 2h0m0-3h0m0 1h0m1 2h0m1-3h0m0-1h0m0 4h0m1 0h0m0-1h0m1 0h0m0-1h0m0 0h0m0 2h0m1-3h0m0 1h0m1 2h0m0-4h0m0 4h0m2-1h0m0 0h0m1-1h0m0-1h0m2 3h0m0-4h0m0 4h0m1-2h0m0 0h0m0-2h0m1 2h0m2 2h0m0-2h0m0-1h0m2 3h0m0-4h0m0 2h0m1 2h0m0-3h0m0 2h0m1-1h0m1-2h0m0 1h0m1-1h0m0 1h0m1 3h0m1-1h0m1 1h0m1-3h0m1 3h0m1-1h0m0 1h0m0 0h0m0 0h0m1-2h0m0 1h0m1 1h0m0-2h0m0-2h0m0 3h0m2 1h0m2-2h0m0 2h0m3-3h0m1 1h0m-2 7h0m-2-4h0m-3 1h0m-2-1h0m0 2h0m-2 0h0m-1-1h0m0 0h0m-1 0h0m-1 0h0m0 2h0m0-3h0m-1 4h0m0-4h0m0 1h0m-1-1h0m0 2h0m0-1h0m0 0h0m0 3h0m-1-4h0m-1 3h0m0 0h0m0-2h0m-1 0h0m-1-1h0m0 4h0m0-2h0m-1-1h0m0 1h0m-1 2h0m-1-1h0m0-3h0m0 0h0m-2 1h0m-1 0h0m-1 1h0m-1 0h0m-1-1h0m0 2h0m0-3h0m0 0h0m-2 0h0m-1 2h0m0 2h0m0-1h0m-1-3h0m-2 1h0m0-1h0m0 1h0m-1 1h0m0 2h0m-1-4h0m-1 1h0m0 3h0m0-1h0m0-1h0m-2 0h0m0-2h0m0 2h0m0-2h0m-1 0h0m0 2h0m0-1h0m0-1h0m-1 4h0m0-3h0m0 1h0m0-2h0m-1 1h0m0 3h0m0 0h0m-2-4h0m0 0h0m0 3h0m0-2h0m-1-1h0m-1 4h0m-1-1h0m0-1h0m-1-2h0m0 4h0m-1 0h0m0-4h0m0 3h0m-1-3h0m-1 4h0m0-4h0m0 4h0m0-2h0m-1-1h0m-1 1h0m0 1h0m0 1h0m0-2h0m-2 1h0m0-1h0m0 2h0m0 0h0m-1-3h0m-1 1h0m-1 2h0m0-4h0m-3 4h0m0 0h0m-1-4h0m0 2h0m2 3h0m1 1h0m2 0h0m0 3h0m1-2h0m0 2h0m1-3h0m0-1h0m0 0h0m1 3h0m0-2h0m1 3h0m0 0h0m1-4h0m0 1h0m0 3h0m1-4h0m1 2h0m0 0h0m1-1h0m1 0h0m1-1h0m0 3h0m0-2h0m1 3h0m0 0h0m1-3h0m1 1h0m1-2h0m0 4h0m1 0h0m0 0h0m0 0h0m0-2h0m1-2h0m0 4h0m0-1h0m0-1h0m1 2h0m0-1h0m0-1h0m1-2h0m0 2h0m1-2h0m0 3h0m1-2h0m2 1h0m0 2h0m1-3h0m0 0h0m0 0h0m1-1h0m0 3h0m0 0h0m0 1h0m1-4h0m0 1h0m0-1h0m0 3h0m1 0h0m0 1h0m0-2h0m2 0h0m0 0h0m1 0h0m0-2h0m1 4h0m1-3h0m0-1h0m0 0h0m0 2h0m1 2h0m0-3h0m0 3h0m0-3h0m1 3h0m1-4h0m0 0h0m2 2h0m1 1h0m1-2h0m0 2h0m1-2h0m0 0h0m1 1h0m0 0h0m0 0h0m0 2h0m1-3h0m0-1h0m0 2h0m1 0h0m0-1h0m0-1h0m0 0h0m0 2h0m1 2h0m2-1h0m1-3h0m1 3h0m0 0h0m0-2h0m2 2h0m0-1h0m0-1h0m2-1h0m0 3h0m1 0h0m1-1h0m0 2h0m2-2h0m0-2h0m1 4h0m2 0h0m-3 2h0m-4 1h0m-5 1h0m-2-1h0m0-1h0m0 1h0m-3-2h0m-6 0h0m0 1h0m0 1h0m0-2h0m-1 0h0m-1 0h0m-3 2h0m0 2h0m-1-1h0m0-3h0m-2 2h0m0 1h0m0-2h0m0 2h0m0 1h0m-2 0h0m0-2h0m-1 2h0m-1-2h0m0-2h0m0 4h0m0-1h0m-1-1h0m-1 1h0m0-2h0m0 2h0m0-3h0m-1 1h0m-2 0h0m0 0h0m0 0h0m-1-1h0m-1 0h0m-1 1h0m0 3h0m0-3h0m0-1h0m-1 2h0m0-1h0m0 0h0m0 0h0m-1 1h0m0-1h0m-1-1h0m0 4h0m0-2h0m0 0h0m-1 0h0m0-1h0m0-1h0m-1 3h0m0-2h0m-1 0h0m0-1h0m-1 0h0m-1 0h0m0 3h0m0-1h0m-5-1h0m0 1h0m16 3h0m6 1h0m1 0h0m4-1h0m12 0h0m2 2h0m0 0h0m1-1h0m1 1h0" stroke="#139b7a" stroke-width="2.00" stroke-linecap="round" fill="none"/>
<path d="M351 1689h0m-8 5h0m4-2h0m0-1h0m4 3h0m2-4h0m1 0h0m0 8h0m-3-3h0m0 0h0m-1 4h0m-2-2h0m0 1h0m-3-2h0m-1 2h0m0-3h0m-2 4h0m-2-2h0m-1 1h0m-1 1h0m-2 5h0m0-3h0m1 2h0m0-1h0m0-1h0m1-1h0m0 1h0m0 1h0m1-2h0m0 0h0m1 0h0m0 1h0m1-1h0m1 3h0m1 0h0m0 0h0m3-1h0m1 1h0m1-3h0m0 4h0m2-1h0m2-2h0m1 0h0m1 1h0m0-2h0m0 2h0m0 2h0m1-4h0m1 1h0m1 0h0m0-1h0m-1 5h0m-1 2h0m0 0h0m-1 1h0m0 0h0m-4 1h0m-1 0h0m-3-3h0m-1 2h0m0-3h0m-2 0h0m0 3h0m-1 0h0m0-1h0m-1-1h0m-1 3h0m-3-4h0m-1 0h0m-1 8h0m1 1h0m2-3h0m0 3h0m3 0h0m0-1h0m1-2h0m1 1h0m0 1h0m1-2h0m0-1h0m1 0h0m1 1h0m1 1h0m1-2h0m2 0h0m0 2h0m1-2h0m1 3h0m0 0h0m0-2h0m1 3h0m2-4h0m0 0h0m1 2h0m-6 4h0m-1 3h0m-1 0h0m-1-4h0m-1 4h0m-4 0h0m-1-2h0m0 1h0m0-2h0m0 2h0m-1 1h0m0-1h0m0 0h0m-1 0h0m-2 0h0m-3-2h0m-1 3h0m0-4h0m3 9h0m1-2h0m0 1h0m1-2h0m1-1h0m1 2h0m3 2h0m1 0h0m1 0h0m1-3h0m0 3h0m1-2h0m1-2h0m2 1h0m0-1h0m0 1h0m2 0h0m1 1h0m0-2h0m0 2h0m1 0h0m0 3h0m-1 2h0m0 1h0m0-3h0m-1 3h0m-1-1h0m0-1h0m0-1h0m-1 4h0m0 0h0m-1-4h0m0 2h0m-1-1h0m-1 2h0m-1 0h0m-2 0h0m0 1h0m-1-1h0m-1 0h0m0 0h0m-1-1h0m-1 0h0m0 0h0m-1-1h0m-1 0h0m-1 6h0m1 1h0m0 1h0m1-4h0m2 3h0m0-1h0m2-2h0m0 4h0m1-1h0m0-2h0m1-1h0m3 3h0m0 0h0m1 1h0m3-2h0m0 1h0m1 1h0m0 5h0m0-1h0m-4 1h0m-2-1h0m-3-1h0m-2 0h0m-1 1h0m-1 0h0m-1-1h0m0-2h0m-1 0h0m0 3h0m-1-2h0m-1 8h0m2-3h0m2 3h0m0 0h0m0-3h0m1 2h0m0-3h0m0 0h0m1 4h0m1-1h0m0 0h0m0 0h0m1 1h0m0-2h0m0-1h0m1 2h0m0-1h0m2 2h0m1-3h0m1 3h0m0-1h0m3-1h0m1 2h0m0-2h0m1-1h0m0 3h0m1 0h0m0 4h0m-1-2h0m-2-1h0m-2 0h0m0 0h0m-1 4h0m0-1h0m-1-3h0m0 0h0m-1 0h0m-1 0h0m0 4h0m-1-2h0m0-1h0m-2 1h0m-1 2h0m-1-1h0m-1-2h0m-1 0h0m0 2h0m-1-1h0m0-1h0m-2 3h0m0-1h0m-3 4h0m3 0h0m0-2h0m2 2h0m1 2h0m2-2h0m0-2h0m1 4h0m1-3h0m3 0h0m2 1h0m0-1h0m1 0h0m2 3h0m1-3h0m0 0h0m0 0h0m0 2h0m2-1h0m1 2h0m0-2h0m-1 7h0m0-4h0m0 4h0m-2-2h0m0 0h0m0-2h0m-1 1h0m0 2h0m-2-1h0m0-1h0m0 2h0m-2-1h0m-1 0h0m0-2h0m0 1h0m-1 1h0m-1 1h0m0 0h0m-3-2h0m-1-1h0m0 1h0m-1 3h0m0 0h0m-1-4h0m0 1h0m0 1h0m0-1h0m-1-1h0m0 3h0m-1-1h0m-2-1h0m2 8h0m2-2h0m1-2h0m0 1h0m2 1h0m1 0h0m2 2h0m1 0h0m1-4h0m1 0h0m2 2h0m1-2h0m0 3h0m1-3h0m2 2h0m3 6h0m-1-3h0m-1 2h0m0 0h0m-1-2h0m-1 2h0m0 2h0m-1 0h0m0-1h0m-1-1h0m-1-2h0m0 1h0m0 1h0m-2 1h0m-1-1h0m-1 2h0m0-4h0m-2 4h0m-1-1h0m-1 0h0m-1 1h0m-1-2h0m0-2h0m0 0h0m-2 3h0m4 2h0m5 0h0m1 1h0m1-1h0m2 2h0m0 0h0m0-2h0m0 4h0m2-3h0m2-1h0m0 0h0m-5 5h0m-1 0h0" stroke="#e3000f" stroke-width="2.00" stroke-linecap="round" fill="none"/>
<polygon points="141.4,106.6 139.4,120.3 137.3,144.4 134.3,164.5 132.3,180.5 128.3,198.6 120.3,207.7 110.2,200.6 102.2,184.5 100.2,172.5 88.1,160.4 89.1,156.4 100.2,154.4 112.2,150.4 124.3,140.4 128.3,126.3 134.3,116.2" fill="#621f85" stroke="#621f85" stroke-width="1" stroke-linejoin="round"/>
<path d="M143 107h0m0 2h0m0-2h0m-1 2h0m0-1h0m0-2h0m0-1h0m0 4h0m0-1h0m0-2h0m0 1h0m-1 0h0m0-1h0m0 3h0m-2-2h0m-1 0h0m-1 2h0m-4 5h0m0 0h0m4-3h0m0-1h0m0 0h0m1 0h0m0 1h0m3 1h0m2 1h0m0-2h0m-1 5h0m0-1h0m-1 0h0m-6 0h0m-1 1h0m0-1h0m-1 4h0m-1-1h0m0 1h0m0-3h0m0 2h0m0-1h0m0 1h0m-1 1h0m0 0h0m0-1h0m0-1h0m-4 7h0m1 0h0m0 0h0m1-1h0m0-1h0m0-1h0m0 1h0m1 0h0m1 0h0m0-2h0m1 0h0m9 0h0m0 0h0m0 0h0m0 3h0m0 5h0m0 1h0m0-4h0m0 4h0m0-3h0m-1-1h0m-12 0h0m0 2h0m-1 1h0m0-3h0m0 0h0m0 0h0m-2 4h0m0-1h0m-1 6h0m0-2h0m1 1h0m1-2h0m0-1h0m0 3h0m13 1h0m1-2h0m0 5h0m-1-2h0m-1 4h0m0-4h0m0 2h0m-14 1h0m0 0h0m-1 0h0m0 1h0m0-1h0m-1 1h0m0 0h0m-5 5h0m1 0h0m3-4h0m0 3h0m1-3h0m2 0h0m14 3h0m1-2h0m0 3h0m0-3h0m1 1h0m0 0h0m-1 6h0m0-1h0m-1 1h0m0-3h0m0 3h0m0-3h0m-1 2h0m0 2h0m-18-4h0m0 0h0m-1 0h0m-1 1h0m-1-1h0m0 1h0m-2 1h0m0 1h0m-1 1h0m0 0h0m0-2h0m-1 2h0m-1 0h0m-1 0h0m-15 5h0m1 0h0m0 0h0m3-1h0m1 1h0m1-2h0m0 1h0m1 0h0m2 0h0m0-1h0m1 0h0m2-1h0m0 1h0m0-1h0m1-1h0m1 1h0m2-1h0m2 0h0m24 2h0m0-1h0m0-1h0m1 0h0m0 3h0m0 4h0m-1 1h0m0 1h0m-1-4h0m0 1h0m0 3h0m-1-1h0m0 1h0m-39-4h0m-2 0h0m0 0h0m-5 0h0m-1 3h0m0 0h0m-1 0h0m-1 1h0m0 2h0m1 1h0m1 2h0m1 0h0m47-4h0m0 2h0m0 3h0m0 2h0m0 1h0m0-3h0m-1 2h0m0 2h0m0-4h0m0 4h0m-1 0h0m-37 0h0m-2-2h0m-1-1h0m0 3h0m-1-2h0m-2 0h0m0-1h0m0-1h0m0 1h0m4 4h0m1 0h0m2 4h0m0-1h0m0 1h0m2-1h0m34 0h0m0 1h0m0-4h0m1 4h0m0-3h0m1-1h0m-1 7h0m0 2h0m0-2h0m-1-1h0m0 2h0m0 0h0m-1 0h0m0-1h0m0 1h0m-32-1h0m-1-2h0m0 3h0m0-2h0m-1 3h0m-1-3h0m1 4h0m1 3h0m1 0h0m0-2h0m0 2h0m1 1h0m0-2h0m30 1h0m0-1h0m1 0h0m0 2h0m0-2h0m0-2h0m0 4h0m1-2h0m0 1h0m0 1h0m0-1h0m-1 2h0m0 0h0m-1 3h0m0-3h0m-28 4h0m-1 0h0m-1-2h0m-1 0h0m2 3h0m1 1h0m0 0h0m1 2h0m26-2h0m1-1h0m0 2h0m0-1h0m0 0h0m-2 6h0m-1 0h0m0 2h0m0 0h0m0 0h0m-21 0h0m0 0h0m0-1h0m0 1h0m0 0h0m-2-3h0m-1 0h0m0 1h0m3 3h0m0 0h0m0 0h0m1 1h0m0 1h0m1 1h0m0 0h0m0-3h0m0 3h0m1 1h0m0-2h0m0 2h0m1-2h0m1 1h0m0 0h0m1 1h0m1 0h0m12-4h0m0 2h0m1-1h0m0 2h0m1-3h0m1 0h0m-5 5h0m-1 2h0m0 0h0m-1-1h0m0 1h0m0 0h0m-1 2h0m-3 0h0m0-2h0m-1 1h0m0 1h0m0 0h0m-1-3h0m-1 1h0m-1-2h0m-2 0h0" stroke="#621f85" stroke-width="1.60" stroke-linecap="round" fill="none"/>
<polygon points="250.8,104.2 260.9,90.1 277.0,81.1 297.1,82.1 309.1,90.1 312.1,99.2 306.1,106.2 313.3,109.2 304.1,110.2 305.1,122.3 297.1,125.3 291.0,122.3 285.0,120.3 277.0,122.3 273.0,116.2 264.9,114.2 256.9,110.2 249.8,107.2" fill="#7d1313" stroke="#7d1313" stroke-width="1" stroke-linejoin="round"/>
<path d="M286 79h0m0 0h0m-3 0h0m-5 0h0m-1 0h0m0 0h0m-10 5h0m1-1h0m0 1h0m0 0h0m3-2h0m1 1h0m1 0h0m0-1h0m0-1h0m0 2h0m1-1h0m0 1h0m1-1h0m1-1h0m0-1h0m1 0h0m1 1h0m4 0h0m1 0h0m1-1h0m0 0h0m1 0h0m2 1h0m0-1h0m1 1h0m3 0h0m1-1h0m0 0h0m1 1h0m1 0h0m0 1h0m3 0h0m1-1h0m1-1h0m1 3h0m1 1h0m0-1h0m0-1h0m0 1h0m2 1h0m7 4h0m0 1h0m-1-2h0m0 2h0m-1-2h0m0 1h0m-3 0h0m-1-3h0m-35 0h0m-2 1h0m0-1h0m-1 1h0m0-1h0m-3 4h0m-1-2h0m0 0h0m-1 0h0m-6 7h0m2-2h0m0 2h0m0 0h0m0-1h0m2-2h0m0 1h0m1-1h0m50 0h0m1 1h0m0 1h0m0 1h0m3 5h0m-1-3h0m0 3h0m0 0h0m0-3h0m-1 3h0m0 0h0m-1-4h0m-55 1h0m-1 0h0m0 2h0m0-3h0m0 1h0m0-1h0m-1 2h0m-1 1h0m0 1h0m-4 4h0m1-1h0m0 0h0m1 0h0m0-1h0m0-1h0m0 2h0m1-2h0m0 0h0m1 1h0m1-1h0m56 2h0m0 0h0m0 2h0m1 0h0m0-2h0m1-1h0m0 1h0m0 0h0m0 0h0m0-1h0m0-1h0m0 2h0m1-2h0m0 2h0m0-2h0m0 1h0m1 0h0m1 8h0m-1 0h0m-1-1h0m0 1h0m0 0h0m-2-4h0m-1 2h0m0 1h0m-1-1h0m-58 1h0m-1-3h0m0 1h0m0 3h0m-1-4h0m0 0h0m0 1h0m0 3h0m0-1h0m-1-1h0m0-2h0m3 5h0m1 0h0m2 0h0m1 2h0m2 0h0m0-1h0m1 2h0m0 0h0m1 1h0m0-1h0m2 0h0m2 1h0m0 0h0m0 0h0m1 0h0m0 0h0m41 0h0m0-4h0m1 1h0m1 3h0m0-3h0m1 0h0m0-1h0m0 1h0m1-1h0m0 1h0m2 0h0m1-1h0m1 0h0m1 0h0m1 0h0m-9 5h0m0 3h0m0-2h0m0 2h0m-1-1h0m0-2h0m0 0h0m-31 4h0m-1-1h0m-1 0h0m-1-2h0m0 2h0m0-2h0m0 0h0m-1 0h0m0 1h0m-2 0h0m0-2h0m0 0h0m-1 0h0m0 0h0m-1 1h0m-3-1h0m0 0h0m-2 0h0m13 6h0m3 3h0m1 0h0m0-1h0m0 1h0m1-1h0m0 1h0m1-2h0m2 0h0m1 0h0m1-1h0m0 2h0m2-1h0m1-1h0m0 2h0m2 0h0m2 0h0m0 0h0m1 0h0m2 1h0m7 0h0m1 0h0m2-1h0m0 1h0m1 0h0m0-1h0m1-2h0m1 0h0m-2 4h0m-1 0h0m-2 1h0m-1-1h0m0 1h0m-1 0h0m-1 1h0m-3-2h0m0 1h0m0 0h0m0 0h0m-1 0h0m-1 0h0m-1-1h0m-1 1h0" stroke="#7d1313" stroke-width="1.60" stroke-linecap="round" fill="none"/>
<polygon points="189.6,134.3 196.6,132.3 204.6,129.3 212.7,126.3 220.7,127.3 230.8,124.3 231.8,126.3 225.7,130.3 223.7,134.3 221.7,139.3 221.7,146.4 219.7,146.8 217.7,140.4 214.7,137.3 208.7,136.3 200.6,137.3 192.6,138.3 189.6,137.3" fill="#e8691f" stroke="#e8691f" stroke-width="1" stroke-linejoin="round"/>
<path d="M228 124h0m0 0h0m0 0h0m2-1h0m1 0h0m0 1h0m1-1h0m1 0h0m0 1h0m1 2h0m0 0h0m-1 1h0m0-2h0m-1 4h0m0-4h0m-7 0h0m-2 1h0m-1 0h0m-1 0h0m-1 0h0m-1 0h0m-2 0h0m-2 0h0m0-1h0m-1 1h0m-1-1h0m-1 0h0m-1 1h0m0 0h0m0-1h0m-1 2h0m0-2h0m-2 1h0m-2 0h0m-2 2h0m0 0h0m0 0h0m0 1h0m-1-1h0m0-1h0m-1 1h0m-2 1h0m-1 0h0m-11 3h0m0 2h0m2-1h0m0 0h0m0 0h0m2-1h0m1-1h0m1 1h0m0 1h0m0-2h0m1 0h0m1 0h0m0 1h0m1 0h0m0 0h0m1-1h0m3 0h0m24 1h0m0 0h0m0 1h0m0 1h0m0 0h0m1-2h0m0 0h0m0 2h0m1-2h0m0 0h0m0-1h0m1 1h0m0-1h0m1 0h0m-3 4h0m-1 2h0m-1 0h0m0-2h0m-1 4h0m-1 0h0m-7 0h0m-1 0h0m0 0h0m0 0h0m-1 0h0m0-1h0m0-1h0m0 1h0m0 0h0m0 1h0m-1-1h0m0 1h0m0-1h0m0 0h0m-1 0h0m-4 0h0m0 0h0m-1-1h0m-3 1h0m0 1h0m-2 0h0m0-1h0m-1 1h0m-2 0h0m-1 0h0m-4 0h0m-1 0h0m-1 0h0m0 0h0m-1-1h0m0 1h0m0 0h0m-1 0h0m0-1h0m0-2h0m0 2h0m-1-2h0m0 2h0m0-3h0m0 0h0m0 4h0m0 0h0m0-3h0m0 0h0m0 1h0m0-1h0m-1 1h0m2 3h0m3 0h0m1 0h0m1 1h0m3-1h0m18 1h0m0-1h0m0 0h0m1 3h0m0 0h0m0-2h0m0 2h0m2 0h0m4 1h0m0-1h0m0-3h0m0 1h0m0 0h0m1-1h0m0 1h0m1 0h0m0-1h0m0 4h0m-1 1h0m0 2h0m0-1h0m-1 1h0m-1 0h0m-1 0h0m0 0h0m-1 2h0m0-4h0m-1 3h0m0-3h0m0 1h0m-1 0h0m0-1h0m0 0h0" stroke="#e8691f" stroke-width="1.60" stroke-linecap="round" fill="none"/>
<polygon points="190.6,154.4 200.6,152.4 212.7,154.4 214.7,166.5 208.7,169.5 204.6,166.5 196.6,165.5 189.6,164.5" fill="#f99376" stroke="#f99376" stroke-width="1" stroke-linejoin="round"/>
<path d="M190 153h0m0 1h0m1-1h0m0-1h0m0 2h0m1 0h0m0 0h0m4-3h0m1 2h0m1-2h0m2 0h0m2 2h0m5 0h0m1 1h0m0-2h0m1 0h0m1 1h0m0-1h0m0 1h0m3-1h0m1 1h0m1 1h0m0 5h0m-25-2h0m0-2h0m-1 0h0m-1 3h0m-1 6h0m1-2h0m0 1h0m0 0h0m1-1h0m0 0h0m25-1h0m0-1h0m0 0h0m0 0h0m1 2h0m0-2h0m0 0h0m0 3h0m1 0h0m1 4h0m-1-2h0m0 0h0m0 0h0m-1 1h0m0-1h0m-1 4h0m-2 0h0m0 0h0m-1 0h0m-4 0h0m0 0h0m-2-1h0m0-1h0m-1 0h0m0 0h0m-1 0h0m-1 1h0m-1-1h0m0 0h0m-2-1h0m-1 1h0m0-1h0m-2 0h0m0 0h0m-1 1h0m0 1h0m0-2h0m-2 0h0m0 1h0m0-1h0m0 0h0m-1 0h0m-1 1h0m0-1h0m-3-1h0m-1 0h0m21 6h0m0 0h0m2 0h0m1 0h0m0-1h0m1 0h0" stroke="#f99376" stroke-width="1.60" stroke-linecap="round" fill="none"/>
<polygon points="243.0,181.0 248.0,175.0 251.0,168.0 253.0,175.0 259.0,180.0 255.0,182.0 250.0,181.0" fill="#a6f25a" stroke="#a6f25a" stroke-width="1" stroke-linejoin="round"/>
<path d="M253 169h0m0-1h0m-1-2h0m0 2h0m-1-1h0m0 1h0m-1-1h0m-2 1h0m-2 5h0m1-1h0m0 1h0m0 0h0m0 0h0m1 0h0m1 0h0m1-3h0m2 1h0m1-1h0m2 4h0m1 0h0m0 0h0m5 5h0m-4-3h0m0 2h0m-1-3h0m-1 0h0m-8 0h0m-1 2h0m0-2h0m0 1h0m-1 1h0m-1-1h0m0 0h0m0 1h0m-1 1h0m0 1h0m-2 1h0m0 1h0m1-1h0m0 1h0m0 1h0m2 1h0m0-1h0m1 1h0m2-1h0m0 1h0m1 0h0m1-1h0m0 0h0m2 0h0m1 1h0m0 0h0m0 1h0m1 0h0m0-2h0m0 1h0m1 1h0m0-1h0m0 1h0m1 0h0m2-1h0m1-1h0m1-1h0m0 1h0m2 0h0" stroke="#a6f25a" stroke-width="1.60" stroke-linecap="round" fill="none"/>
<polygon points="329.2,160.4 340.2,159.4 339.2,164.5 334.2,170.5 332.2,180.5 333.2,188.6 321.1,189.6 327.2,180.5 330.2,172.5" fill="#84b880" stroke="#84b880" stroke-width="1" stroke-linejoin="round"/>
<path d="M342 158h0m0 1h0m-1-1h0m-3 0h0m-1 0h0m-1 1h0m0-1h0m-1 0h0m-2 0h0m0 0h0m0 0h0m-2 1h0m-1 0h0m-2 1h0m1 1h0m2-1h0m3 0h0m6 3h0m0-2h0m1 1h0m1-1h0m0-1h0m0 3h0m0-2h0m-1 5h0m-1 0h0m0 1h0m-1-1h0m-1 1h0m0 2h0m0-1h0m-1 1h0m0 0h0m-1-1h0m-8-1h0m0 0h0m0 0h0m0-2h0m0 4h0m-1-3h0m1 5h0m2-1h0m4 2h0m1 2h0m0-3h0m0 1h0m1 0h0m0 1h0m0-3h0m1 0h0m0 0h0m-1 5h0m-1 3h0m-1-2h0m0 3h0m0 0h0m-1 0h0m-5-4h0m-1 2h0m0-1h0m0 1h0m0 0h0m0-2h0m-1 4h0m-1-1h0m-2 6h0m0 0h0m1-3h0m0 1h0m0-1h0m0 3h0m1-2h0m1-2h0m6 1h0m1 1h0m0 0h0m1 2h0m1 4h0m-1 1h0m0-3h0m-2 3h0m-4 0h0m-1 0h0m-3-4h0m-2 0h0m-1 4h0m0 0h0m0-2h0m-1 1h0m0 0h0m0 0h0m-1 1h0m0 2h0m1 0h0m0-1h0m0 1h0m1 0h0m3 0h0m0 0h0m1 0h0m0-1h0m1 2h0m2-2h0m2 1h0m0 0h0m2-1h0m0 0h0m0 0h0" stroke="#84b880" stroke-width="1.60" stroke-linecap="round" fill="none"/>
<polygon points="183.5,192.6 190.6,188.6 196.6,184.5 204.6,183.5 210.7,182.9 218.7,181.5 223.7,180.5 228.7,182.9 230.8,188.6 236.8,190.6 240.8,196.6 243.8,198.6 236.8,200.6 232.8,204.6 230.8,212.7 228.7,218.7 222.7,214.7 218.7,214.7 212.7,215.7 204.6,214.7 198.6,217.7 193.6,218.7 191.6,212.7 188.6,204.6 185.6,198.6" fill="#4b6022" stroke="#4b6022" stroke-width="1" stroke-linejoin="round"/>
<path d="M224 178h0m-1 0h0m-1 0h0m-3 1h0m-2 0h0m-23 5h0m0 0h0m3-1h0m1 0h0m2-1h0m0 1h0m2 0h0m0 0h0m0 1h0m3-3h0m6 0h0m3 0h0m1-1h0m2 1h0m3-1h0m0 0h0m0 1h0m0 0h0m1 0h0m0-1h0m0 1h0m1-1h0m0 0h0m0 0h0m1 0h0m1 1h0m0-1h0m2 0h0m0 1h0m0-1h0m1 2h0m0 0h0m1 0h0m2 2h0m8 5h0m0 0h0m-4-1h0m-2-1h0m0 0h0m-1-2h0m-35 0h0m-2 0h0m0 0h0m-1 0h0m0 0h0m-1 0h0m0 1h0m-2 2h0m-1 1h0m0-1h0m0-1h0m-1 1h0m0 0h0m0 1h0m-2 0h0m-3 2h0m1-1h0m1 1h0m1 0h0m0 0h0m0-1h0m1 0h0m48 0h0m3 1h0m1 1h0m0 2h0m0-1h0m0-2h0m0 2h0m0-3h0m1 2h0m0 0h0m2 2h0m0 0h0m3 4h0m-1 0h0m0-1h0m0-1h0m0 1h0m-1 1h0m0-2h0m-1 1h0m-58 2h0m0-3h0m0 3h0m0 2h0m0-1h0m1 2h0m0-1h0m1-1h0m1 2h0m0 0h0m1 2h0m46 0h0m1-1h0m1-2h0m0 1h0m1 2h0m1-2h0m1 0h0m0-1h0m0 0h0m1 1h0m0-1h0m2 0h0m0 1h0m0-1h0m1 0h0m1 0h0m0-1h0m-8 5h0m-1 2h0m-1-2h0m0 3h0m-1-2h0m0 1h0m-43 2h0m-1-1h0m0 1h0m0 0h0m0-1h0m-1-2h0m0 3h0m0-2h0m0 0h0m0-2h0m0 4h0m-2-4h0m3 5h0m1 2h0m0-1h0m0 2h0m1 0h0m0-2h0m0 3h0m0 0h0m0 0h0m40-3h0m0 1h0m0 0h0m1 1h0m1 1h0m0-4h0m0 1h0m0 0h0m0 1h0m1-1h0m0-1h0m-2 5h0m0 0h0m0 1h0m0-1h0m-1 1h0m0 1h0m-1 0h0m0 1h0m0 1h0m0-3h0m0 1h0m-3 2h0m-2-2h0m0 1h0m0 0h0m-2-3h0m-1 0h0m0 1h0m0-1h0m-1 0h0m-1 0h0m0 1h0m-4-1h0m0 1h0m0 2h0m-1-2h0m0 1h0m-1 0h0m0-1h0m-1 0h0m-1 0h0m0 2h0m-2-2h0m0 1h0m-1 0h0m0 0h0m0-1h0m0 1h0m-1-1h0m0 1h0m-4 1h0m0-1h0m0-1h0m0 0h0m-1 2h0m0-1h0m0 1h0m-1-2h0m0 3h0m-3 0h0m-6 0h0m0-2h0m0 0h0m0 1h0m-1 0h0m0-2h0m0 2h0m0-2h0m-2-1h0m6 5h0m1 0h0m33 1h0m0-1h0" stroke="#4b6022" stroke-width="1.60" stroke-linecap="round" fill="none"/>
<polygon points="251.8,204.6 260.9,200.6 268.9,201.6 270.9,208.7 269.9,214.7 277.0,216.7 285.0,218.7 292.0,220.7 293.0,226.7 287.0,232.8 279.0,236.8 272.9,244.8 268.9,250.8 260.9,252.8 252.8,250.8 246.8,247.8 240.8,241.8 237.8,234.8 240.8,229.7 248.8,228.7 252.8,224.7 250.8,216.7 250.8,209.7" fill="#e3a623" stroke="#e3a623" stroke-width="1" stroke-linejoin="round"/>
<path d="M268 199h0m-1 0h0m-3 0h0m-3 0h0m0 0h0m-1 0h0m0 0h0m-1 0h0m0 0h0m-9 5h0m0-1h0m1 0h0m1 0h0m0 1h0m1-1h0m0-1h0m0 0h0m0 1h0m3-2h0m1 1h0m0 0h0m0-2h0m2 0h0m0 0h0m1 1h0m2-1h0m1 0h0m1 0h0m0 0h0m2 0h0m0 0h0m3 1h0m0-1h0m0 2h0m0 0h0m1-2h0m1 2h0m0-2h0m0 2h0m2 7h0m-1-1h0m0-2h0m0 3h0m0-4h0m-1 1h0m-1-1h0m-20 1h0m0 3h0m0-4h0m0 2h0m0-1h0m0 0h0m0 2h0m-1-1h0m0 6h0m1-3h0m0 3h0m1-1h0m21 1h0m0 1h0m0-1h0m1 1h0m0-3h0m0-1h0m2 4h0m18 5h0m-2 0h0m0-1h0m-1 1h0m-2 0h0m0-1h0m-1-1h0m0 2h0m0-2h0m-1 1h0m-1-2h0m0 0h0m-1 1h0m0 0h0m-1-1h0m-1 0h0m-1 0h0m0 1h0m-1-2h0m0 0h0m0 2h0m-1-1h0m-1-1h0m0 1h0m-1 0h0m0-1h0m-1 1h0m0-1h0m0 1h0m-1-1h0m0 1h0m-1-1h0m-2 0h0m-22 4h0m0-3h0m-1 2h0m0-2h0m-1-1h0m2 7h0m0 1h0m0-3h0m0 0h0m1 4h0m40-4h0m1 0h0m1 0h0m1 3h0m0-2h0m0 0h0m1 3h0m-2 4h0m0 0h0m-1 0h0m-40-3h0m-1 1h0m-2 1h0m0-1h0m0 2h0m-2 0h0m0-1h0m-3 2h0m-1-1h0m0 0h0m-1 0h0m-1 1h0m-1 0h0m0-2h0m0 1h0m-1 1h0m0 0h0m-2 2h0m1 2h0m0-2h0m0 3h0m0-1h0m1-3h0m0 1h0m0 0h0m1-1h0m46 4h0m1 0h0m1-1h0m1-1h0m0-1h0m1 2h0m0-1h0m1-1h0m1-1h0m0 1h0m-4 4h0m-2 0h0m-1 1h0m-1 0h0m0 0h0m-1-1h0m0 2h0m-2 1h0m0-1h0m-1 0h0m-1 2h0m0-2h0m-1 2h0m-40 0h0m0-2h0m-1 0h0m-1-1h0m1 4h0m1 0h0m1 1h0m0 1h0m0 0h0m1-1h0m0 2h0m0-1h0m1 0h0m0 2h0m1-1h0m0 1h0m0 0h0m1 0h0m32-1h0m1 1h0m2-2h0m0 0h0m0-1h0m-3 6h0m-1-1h0m0 0h0m0 0h0m-1 1h0m0-2h0m0 4h0m0-3h0m-1 1h0m-1 2h0m0 0h0m-23 0h0m-1 0h0m-1 0h0m0-1h0m-1-1h0m0 2h0m-1-3h0m0 1h0m-1-2h0m0 2h0m0-2h0m0 2h0m-2-2h0m5 5h0m1 0h0m1 0h0m1 0h0m0 1h0m1 1h0m0-1h0m1 0h0m4 3h0m0-1h0m1 0h0m1 0h0m1 1h0m0-2h0m1 1h0m0 0h0m1 0h0m0 0h0m1 1h0m1-1h0m3 0h0m0 0h0m0-1h0m1 1h0m2-1h0m0 1h0m2-2h0m0 0h0m0 1h0m1 0h0m-8 3h0m-3 0h0" stroke="#e3a623" stroke-width="1.60" stroke-linecap="round" fill="none"/>
<ellipse cx="261.0" cy="219.5" rx="3.8" ry="4.5" fill="#fff"/>
<path d="M259 214h0m5 2h0m-4 0h0m-1 0h0m-1 0h0m-1 0h0m-1 2h0m2 4h0m0-1h0m1 1h0m1 2h0m3-1h0m1-1h0m2-2h0" stroke="#e3a623" stroke-width="1.60" stroke-linecap="round" fill="none"/>
<polygon points="297.1,192.6 321.1,193.6 341.2,202.6 345.3,214.7 369.4,220.7 371.4,226.7 357.3,232.8 349.3,240.8 341.2,252.8 325.2,258.9 313.1,254.9 311.1,248.8 317.2,236.8 309.1,226.7 293.0,212.7 291.0,208.7 295.0,200.6" fill="#00007a" stroke="#00007a" stroke-width="1" stroke-linejoin="round"/>
<path d="M297 194h0m1-2h0m3-1h0m0 0h0m1 0h0m0 0h0m1 0h0m0 2h0m1-1h0m0-1h0m1 0h0m0 1h0m2-1h0m0 0h0m1 2h0m0-1h0m1 1h0m0-2h0m1 2h0m1-1h0m0 1h0m1-1h0m0-1h0m0 2h0m3-1h0m1 0h0m1-1h0m1 1h0m0 1h0m0 0h0m2-2h0m1 2h0m0 0h0m1 0h0m1 1h0m1-1h0m1 1h0m0 0h0m2 0h0m11 5h0m0 0h0m-1 0h0m-2-1h0m-1 0h0m0 0h0m-2-2h0m-1 1h0m0-1h0m0 0h0m-2-1h0m0 0h0m0 2h0m-1-1h0m0 0h0m0 0h0m-1-1h0m-1 0h0m-2 0h0m-29 0h0m0 2h0m0 1h0m-1 1h0m0 0h0m0 0h0m0-2h0m-3 6h0m2-1h0m45-1h0m2-1h0m1 2h0m2 0h0m0 2h0m1-1h0m0 3h0m0 0h0m0 0h0m0-1h0m-1 1h0m0 3h0m-51-3h0m0-1h0m-1 4h0m-1-4h0m0 6h0m0 1h0m1-2h0m0 3h0m0-3h0m0 2h0m0 1h0m0-2h0m1-1h0m0 0h0m3 4h0m50-4h0m0 2h0m0-1h0m1 1h0m0 2h0m0-2h0m0 2h0m1 0h0m1 0h0m0 0h0m1 0h0m0-1h0m0 1h0m1 0h0m0 0h0m0 0h0m2 0h0m17 5h0m-1-1h0m-1 1h0m0-1h0m-2 0h0m0 0h0m-1 0h0m-1-1h0m0 0h0m-1 1h0m-1 0h0m0 0h0m-1 0h0m-2-3h0m0 0h0m-1 2h0m-2 0h0m0-1h0m0 0h0m0 0h0m-1-1h0m0 1h0m0 0h0m-1 0h0m-3-1h0m-1 0h0m-2 0h0m-49 4h0m0 0h0m0-1h0m-2-3h0m0 1h0m-1 0h0m3 4h0m0 0h0m3 2h0m0 0h0m1 0h0m1 1h0m0 0h0m1 1h0m62-4h0m5 1h0m3 5h0m-1 3h0m-1-4h0m0 1h0m-1 1h0m-1 2h0m0-1h0m0 0h0m-1 1h0m0 0h0m0-1h0m-59 1h0m-1 0h0m-1-2h0m0 0h0m0 2h0m0-1h0m0-1h0m-1 0h0m-1-2h0m0 1h0m-1-1h0m-1 0h0m7 8h0m1-2h0m2 3h0m1 0h0m43-1h0m0-1h0m0 2h0m1 0h0m3-1h0m1-1h0m1-1h0m0 1h0m1-1h0m0 0h0m0-1h0m0 2h0m1 0h0m1-2h0m1 0h0m0 1h0m-12 6h0m0-2h0m-1 1h0m0 1h0m0 1h0m0-2h0m-2 3h0m-37-3h0m-1 0h0m0 3h0m0-1h0m-1 1h0m-1-4h0m0 9h0m1-3h0m0 2h0m1-3h0m32 4h0m1-1h0m0 1h0m2-2h0m0 1h0m1-2h0m0 0h0m0 0h0m1 0h0m0-1h0m-3 5h0m-2 0h0m0 0h0m-1 1h0m-35-1h0m0 3h0m0 1h0m-1-3h0m0 1h0m0 0h0m-1 2h0m1 2h0m0 3h0m1-1h0m2 1h0m28 0h0m2-2h0m0-2h0m0 1h0m0 2h0m0 0h0m1 0h0m0 1h0m0-4h0m1 1h0m-3 4h0m-4 0h0m0 2h0m-1-2h0m0 0h0m0 1h0m-2 1h0m-2 1h0m-1 1h0m0-2h0m0 2h0m0-2h0m0 2h0m-1-2h0m0 1h0m-3 1h0m-2 0h0m-2 0h0m-1-1h0m0 1h0m-1-1h0m-1 1h0m-1-1h0m-1 0h0m-1-1h0m0 1h0m0 0h0m-1 0h0m0-1h0m-1 0h0m-1 0h0m-1 0h0m-1 1h0m-1-3h0m10 5h0m3 0h0m2 0h0m1 0h0" stroke="#00007a" stroke-width="1.60" stroke-linecap="round" fill="none"/>
<polygon points="155.0,249.0 162.0,246.0 166.0,241.0 168.0,236.0 170.0,241.0 174.0,245.0 180.0,248.0 172.0,251.0 166.0,253.0 160.0,251.0" fill="#2b2b2b" stroke="#2b2b2b" stroke-width="1" stroke-linejoin="round"/>
<path d="M167 234h0m0 0h0m4 5h0m-1-2h0m0 1h0m0-1h0m-1-2h0m0 3h0m-2-3h0m-1 4h0m0 0h0m0-1h0m0 1h0m0-3h0m0 3h0m-1-2h0m-1 2h0m-2 4h0m0-1h0m1 1h0m0-2h0m1 1h0m0 0h0m6-2h0m2 0h0m0 2h0m0-2h0m1 2h0m0 1h0m0 0h0m1-1h0m8 6h0m-1-1h0m0 1h0m0-1h0m-1-1h0m0 1h0m-1-2h0m0 2h0m0-1h0m-2 1h0m0-2h0m-1 0h0m-15 1h0m-2-1h0m0 1h0m-1 0h0m-1 2h0m-3 1h0m0-2h0m0 0h0m-1 4h0m4-1h0m1 1h0m0 1h0m0 0h0m0 1h0m0-1h0m3 0h0m1 1h0m0 1h0m1 0h0m0-2h0m0 2h0m0 0h0m1 0h0m1 0h0m1 0h0m1 0h0m1-1h0m1 0h0m0 0h0m0 0h0m1 0h0m2-1h0m0 1h0m0 0h0m0-2h0m1 0h0m0 2h0m1-2h0m5-1h0m2 0h0m-12 5h0m-1 0h0m-1 0h0m-1 0h0m-2 0h0" stroke="#2b2b2b" stroke-width="1.60" stroke-linecap="round" fill="none"/>
<polygon points="144.0,281.0 148.0,276.0 151.0,272.0 155.0,275.0 162.0,277.0 163.0,282.0 157.0,286.0 150.0,288.0 145.0,285.0" fill="#12787e" stroke="#12787e" stroke-width="1" stroke-linejoin="round"/>
<path d="M148 272h0m1-1h0m1-1h0m0 0h0m0 1h0m1 0h0m2 0h0m0-1h0m0 2h0m1 2h0m0-2h0m1 2h0m0-2h0m0 2h0m1-1h0m1 1h0m0-1h0m7 4h0m-1 0h0m0-1h0m0 3h0m-1-3h0m-1 0h0m-3-1h0m0 0h0m0 1h0m-3-1h0m-6 0h0m-1 0h0m-1 0h0m0 0h0m-1 1h0m0 0h0m0-1h0m-1 1h0m-1 1h0m-1 1h0m-1 5h0m1-1h0m1 1h0m20 0h0m0 1h0m0-4h0m0 2h0m1 1h0m-7 4h0m-1 1h0m-1-2h0m0 1h0m-1 1h0m0-1h0m-3 2h0m-1-1h0m0 1h0m-2-1h0m0-1h0m-1 0h0m-1 1h0m0 0h0m-2-1h0m0-1h0m-1 1h0m-1-2h0m0 0h0m0 2h0m0-1h0m6 4h0m0 0h0m1 0h0m1 0h0" stroke="#12787e" stroke-width="1.60" stroke-linecap="round" fill="none"/>
<polygon points="462.1,106.6 460.1,120.3 458.0,144.4 455.0,164.5 453.0,180.5 449.0,198.6 441.0,207.7 430.9,200.6 422.9,184.5 420.9,172.5 408.8,160.4 409.8,156.4 420.9,154.4 432.9,150.4 445.0,140.4 449.0,126.3 455.0,116.2" fill="#621f85" stroke="#621f85" stroke-width="1" stroke-linejoin="round"/>
<path d="M463 104h0m1 3h0m0 1h0m-1-1h0m0 1h0m-1 1h0m0-3h0m0 0h0m-1 1h0m0 0h0m0-1h0m0-1h0m-1 2h0m-1 2h0m0-3h0m-4 7h0m0 0h0m1-1h0m0 2h0m1-1h0m0-3h0m0 4h0m1-3h0m0 0h0m0 1h0m4 2h0m0-4h0m1 2h0m0-1h0m0 2h0m0 1h0m1-3h0m-1 6h0m0-1h0m0 2h0m-1 1h0m0 0h0m-1-4h0m0 3h0m0-1h0m-6-2h0m0 0h0m0 0h0m-1 3h0m0 0h0m0 0h0m0-2h0m-1 0h0m-1 3h0m0-3h0m0 3h0m-2 3h0m1 1h0m0-3h0m0 1h0m1-1h0m9 3h0m0-1h0m0-1h0m0 1h0m0 0h0m0 2h0m1-2h0m0 0h0m0-2h0m0 2h0m0 2h0m0-3h0m1-1h0m-1 7h0m0-1h0m0 3h0m-1-4h0m0 2h0m0-1h0m0 0h0m-1 2h0m0 1h0m0-4h0m-1 3h0m-11-2h0m0 3h0m0-3h0m0 1h0m0-1h0m-1 1h0m-2 7h0m1-3h0m0 3h0m0 0h0m0 0h0m13-3h0m0 0h0m1 0h0m1 2h0m0 0h0m0-3h0m0 4h0m0-2h0m1 0h0m0 0h0m-1 7h0m0-3h0m-1 0h0m0 2h0m-1-1h0m0 2h0m0-2h0m-13 1h0m0-2h0m-1 2h0m-1-3h0m0 4h0m0-4h0m-7 9h0m1 0h0m0-1h0m0 0h0m1 0h0m0 0h0m1 0h0m0 1h0m1 0h0m1-3h0m1-1h0m1 0h0m16 1h0m0 1h0m0 6h0m0-3h0m-2 1h0m-20 0h0m0 0h0m-3 2h0m-1-1h0m-1 0h0m-1 1h0m-23 6h0m2 0h0m8-1h0m0 0h0m1 0h0m1-1h0m0 0h0m0 0h0m0 0h0m1 1h0m0-2h0m1 1h0m0 0h0m2-1h0m1 1h0m0 0h0m0-1h0m0 1h0m1-1h0m1 0h0m0-1h0m1 1h0m28 3h0m1 0h0m0-2h0m0 2h0m0 0h0m2-4h0m-1 6h0m0-1h0m0 0h0m-1 0h0m0 0h0m0 3h0m0-1h0m-1-1h0m0-1h0m-38 0h0m-1 0h0m-2 0h0m-1 0h0m-3 1h0m-1-1h0m-2 1h0m-1 3h0m0 2h0m0-1h0m2 4h0m1 0h0m0-1h0m1 1h0m44 0h0m0-3h0m0-1h0m1 2h0m0-2h0m0 3h0m0 0h0m0 0h0m0 3h0m0 0h0m0-1h0m0 4h0m0-3h0m-1-1h0m0 0h0m0 1h0m0-1h0m-1 2h0m-39 2h0m-1-2h0m-1 1h0m0 1h0m-1-1h0m0-2h0m0 2h0m0-1h0m-1-1h0m-1-1h0m-1 0h0m6 6h0m1 0h0m2 1h0m2 0h0m33 2h0m1-4h0m1 0h0m0 6h0m-1-1h0m0 2h0m-1 0h0m0-2h0m0 3h0m-32-1h0m0 0h0m-1 2h0m0-1h0m0-1h0m0 2h0m-1 0h0m0 0h0m0-1h0m0 5h0m1 0h0m0 0h0m0-1h0m0 1h0m0-2h0m1 1h0m0-1h0m31 0h0m2 3h0m0-3h0m-1 5h0m0 2h0m-1-2h0m0-1h0m0 0h0m0 2h0m-1 1h0m0 0h0m0 0h0m-1 1h0m-27-1h0m0-1h0m0 0h0m-1 2h0m0-3h0m-1 2h0m0-1h0m0 0h0m0-2h0m-1 1h0m3 5h0m1 2h0m0-2h0m0 0h0m0-1h0m0 0h0m2 4h0m0-1h0m24 1h0m0-3h0m0 3h0m1-4h0m0 3h0m0-2h0m-2 6h0m0 2h0m-1-1h0m0 1h0m-20-2h0m0 1h0m-1-2h0m-1 1h0m-1-1h0m0 0h0m2 4h0m2 1h0m0-1h0m0 0h0m1 2h0m1 2h0m0-1h0m0 0h0m0 0h0m1 1h0m1-1h0m0 0h0m0 0h0m11 0h0m0 0h0m1 1h0m0-1h0m0 0h0m1 0h0m0 0h0m0 0h0m0 0h0m1-1h0m0 0h0m0-1h0m1-1h0m-4 6h0m-1 1h0m0-1h0m0 0h0m-1 2h0m0 1h0m0-4h0m0 4h0m0-3h0m-1 2h0m0 0h0m0 0h0m0-1h0m-1 1h0m-1 1h0m-1-1h0m0 0h0m0-1h0m0 2h0m-1-3h0m-1 1h0m0-1h0m-1 0h0m-1 0h0m0-1h0m-1 1h0m0-1h0m0 0h0m7 5h0" stroke="#621f85" stroke-width="1.60" stroke-linecap="round" fill="none"/>
<polygon points="571.5,104.2 581.6,90.1 597.7,81.1 617.8,82.1 629.8,90.1 632.8,99.2 626.8,106.2 634.0,109.2 624.8,110.2 625.8,122.3 617.8,125.3 611.7,122.3 605.7,120.3 597.7,122.3 593.7,116.2 585.6,114.2 577.6,110.2 570.5,107.2" fill="#7d1313" stroke="#7d1313" stroke-width="1" stroke-linejoin="round"/>
<path d="M606 79h0m-6 0h0m-1 0h0m-2 0h0m0 0h0m-10 5h0m3-1h0m0 0h0m0 1h0m1-2h0m0 2h0m0 0h0m2-2h0m1-2h0m0 1h0m1 1h0m0-2h0m1 1h0m0 0h0m0-1h0m3 1h0m3 0h0m5-1h0m0 0h0m0 1h0m1-1h0m0 0h0m1 1h0m0 0h0m0 0h0m3 0h0m1 0h0m0 0h0m1-1h0m0 1h0m2 1h0m1-1h0m0 1h0m0-1h0m2 0h0m0 0h0m1 3h0m1-2h0m1 0h0m1 1h0m0 0h0m1 1h0m0-1h0m0 1h0m7 5h0m0 0h0m-1 0h0m-1-1h0m-3-2h0m-1 0h0m0 0h0m0-1h0m-1 0h0m-1 0h0m-32 0h0m0 0h0m-3 1h0m-1 1h0m-1 0h0m-1-1h0m-2 3h0m-1-1h0m-2 1h0m-4 5h0m0 0h0m1 0h0m0 0h0m1-3h0m1 1h0m1 0h0m0-2h0m0 2h0m0-2h0m51 3h0m1-2h0m1 0h0m0 1h0m0 2h0m1 1h0m0 3h0m0-3h0m-1 1h0m0 2h0m0 1h0m0-4h0m-1 0h0m0 3h0m0-3h0m-56 2h0m-1 2h0m0-3h0m-1 3h0m0 0h0m0 0h0m-4 4h0m0 1h0m0 0h0m0 0h0m1 0h0m0-2h0m0 2h0m1 0h0m0-1h0m2-3h0m55 4h0m1 0h0m0-1h0m2-1h0m0-2h0m0 0h0m0 3h0m0-1h0m0-1h0m1 1h0m1-2h0m0 0h0m1 7h0m0 2h0m0-2h0m-1 2h0m0-1h0m0 1h0m0 0h0m-1-2h0m-1 0h0m0-1h0m-1 1h0m-1-2h0m0 1h0m0 1h0m-1-2h0m-55 4h0m-2 0h0m-3-1h0m5 3h0m0-1h0m1 1h0m0-1h0m1 0h0m0 2h0m0-1h0m0-1h0m2 2h0m1 0h0m2 0h0m0 1h0m2 0h0m42-2h0m1 0h0m1 3h0m0 0h0m1-4h0m0 2h0m1-1h0m0 0h0m1-1h0m1 0h0m2 0h0m0 0h0m1 0h0m1 1h0m0 0h0m1-1h0m-8 6h0m0-1h0m0 1h0m-1-1h0m0 1h0m0-1h0m-1 1h0m0 0h0m0-1h0m-32 3h0m-1 1h0m-1-3h0m-1 2h0m-1-1h0m-1 0h0m0 1h0m-1-1h0m0 0h0m-1 0h0m-1-1h0m-2-1h0m-1 1h0m0-1h0m11 6h0m1 1h0m0-1h0m1 2h0m0-2h0m0 2h0m1 1h0m3-1h0m2-2h0m0 1h0m0 0h0m0 1h0m1 0h0m0-1h0m0 0h0m2 1h0m0-1h0m4 1h0m1 0h0m4 1h0m7 0h0m1 0h0m1 0h0m2 0h0m1 0h0m0 0h0m0-1h0m1-1h0m0 1h0m0 1h0m0-1h0m0-2h0m0 2h0m0 1h0m1-3h0m0 0h0m-4 4h0m-2 0h0m-1 1h0m0 0h0m-1 0h0m0 0h0m-2 0h0m0-1h0m-1 2h0m-1-1h0m0-1h0m-1 0h0m-1 0h0m0 0h0m0 0h0m0 0h0m0 0h0m0 0h0m0 0h0" stroke="#7d1313" stroke-width="1.60" stroke-linecap="round" fill="none"/>
<polygon points="510.3,134.3 517.3,132.3 525.3,129.3 533.4,126.3 541.4,127.3 551.5,124.3 552.5,126.3 546.4,130.3 544.4,134.3 542.4,139.3 542.4,146.4 540.4,146.8 538.4,140.4 535.4,137.3 529.4,136.3 521.3,137.3 513.3,138.3 510.3,137.3" fill="#e8691f" stroke="#e8691f" stroke-width="1" stroke-linejoin="round"/>
<path d="M533 124h0m13 0h0m2 0h0m1 0h0m1-1h0m1 0h0m2 0h0m1 0h0m-1 3h0m0 2h0m0-3h0m0 2h0m0 1h0m-2 1h0m-1 0h0m-1 0h0m-2-4h0m0 0h0m-1 0h0m0 0h0m-1 0h0m-2 0h0m-1 2h0m-1-2h0m0 2h0m0-1h0m-3-1h0m-1 1h0m-1 0h0m-1 0h0m0 0h0m-1-1h0m0 0h0m-1 1h0m-1-1h0m-1 2h0m0-2h0m0 0h0m-1 1h0m-2 1h0m-1 0h0m0 0h0m0 0h0m-1 1h0m0 0h0m-2 0h0m-1 1h0m-2 0h0m0 0h0m-11 3h0m2 2h0m0-1h0m2-2h0m1 1h0m1 0h0m0 0h0m0 0h0m0-2h0m0 2h0m2-1h0m1-1h0m1 1h0m0-1h0m2 0h0m0 0h0m24 3h0m0 0h0m0 1h0m1-3h0m1-1h0m0 0h0m0 1h0m0 1h0m0-2h0m1 0h0m1 0h0m1 1h0m-4 4h0m-2 1h0m0 3h0m-1-3h0m0 0h0m0 1h0m-10 1h0m-1-1h0m0 1h0m-1 0h0m-1 1h0m-1 0h0m0-2h0m0 0h0m-1 1h0m0 1h0m0-2h0m0 0h0m-3 0h0m0 1h0m-2 0h0m0 1h0m-1 0h0m0-1h0m-2 1h0m0-1h0m0 0h0m-3 1h0m-2 0h0m0-1h0m-2 0h0m-2 1h0m0-1h0m-1 1h0m0-1h0m0 1h0m0 0h0m-1-1h0m0 1h0m0 0h0m0 0h0m-1-4h0m-1 2h0m0 1h0m3 2h0m3 0h0m6 0h0m2 0h0m0 0h0m13 0h0m1 0h0m1 0h0m1 0h0m0 3h0m0-1h0m0 0h0m1 1h0m0 0h0m5 0h0m0 1h0m-1 4h0m-1 0h0m-1-1h0m0 1h0m-1 0h0m0 1h0m-1-2h0m0 0h0m0 1h0m-2-3h0" stroke="#e8691f" stroke-width="1.60" stroke-linecap="round" fill="none"/>
<polygon points="511.3,154.4 521.3,152.4 533.4,154.4 535.4,166.5 529.4,169.5 525.3,166.5 517.3,165.5 510.3,164.5" fill="#f99376" stroke="#f99376" stroke-width="1" stroke-linejoin="round"/>
<path d="M509 154h0m2-2h0m0 2h0m0-1h0m0 1h0m1 0h0m0-2h0m0 2h0m1 0h0m1-2h0m0 2h0m1-2h0m1 1h0m0-2h0m1 2h0m1-2h0m0 1h0m2 1h0m2-2h0m1-1h0m3 3h0m1 0h0m0-1h0m0 0h0m1 0h0m2 0h0m1 1h0m1 1h0m0 0h0m0-1h0m2 0h0m1 1h0m0-2h0m1 4h0m-1-1h0m0 0h0m0 1h0m0 1h0m-24-1h0m0-1h0m0 4h0m-1-3h0m0 2h0m-1 1h0m0 0h0m-1 5h0m1-4h0m0 1h0m1 0h0m0 2h0m0-2h0m25 0h0m2 2h0m0 0h0m0 2h0m-2 2h0m0 0h0m0 2h0m-4 0h0m-4 0h0m0 0h0m-1 0h0m-1-1h0m0 1h0m0-2h0m-1 2h0m-1-2h0m-1 1h0m-1 0h0m-1-1h0m0 1h0m-1-1h0m0 0h0m-1 1h0m-1-2h0m0 0h0m0 1h0m-1 0h0m0-1h0m-1 1h0m0 0h0m0 0h0m-3-1h0m0 1h0m0 0h0m0-1h0m-1 0h0m-2-1h0m0 0h0m-1 0h0m19 5h0m1 1h0m1 1h0m0-1h0m1 0h0m0-1h0m1 1h0m0-1h0m0 1h0m1-1h0m0 0h0" stroke="#f99376" stroke-width="1.60" stroke-linecap="round" fill="none"/>
<polygon points="563.7,181.0 568.7,175.0 571.7,168.0 573.7,175.0 579.7,180.0 575.7,182.0 570.7,181.0" fill="#a6f25a" stroke="#a6f25a" stroke-width="1" stroke-linejoin="round"/>
<path d="M574 168h0m-1-2h0m0 2h0m0-2h0m-1 0h0m0 2h0m-2 1h0m-1 0h0m-1 2h0m1 1h0m0 1h0m0-3h0m0 0h0m4 2h0m0-1h0m3 3h0m0 0h0m6 5h0m-1 0h0m0 0h0m-1-1h0m-1 0h0m0 0h0m-1-2h0m0-1h0m0 4h0m-1-4h0m0 1h0m0 1h0m-1-2h0m-1 1h0m0 0h0m-6-1h0m-2 1h0m0 0h0m0-1h0m0 2h0m-1-2h0m0 3h0m0-1h0m-1 1h0m0-1h0m0 2h0m-1-2h0m-1 2h0m0-1h0m0 5h0m0-2h0m0 1h0m1 1h0m0-2h0m0-1h0m0 0h0m1 0h0m2 2h0m2 0h0m0 0h0m0-1h0m1 1h0m1 0h0m0 1h0m1-1h0m3 2h0m2-1h0m0 0h0m0-1h0m1 0h0m1 1h0m0 0h0m1-1h0m0 0h0m0 0h0m1-2h0m0 1h0m1-1h0" stroke="#a6f25a" stroke-width="1.60" stroke-linecap="round" fill="none"/>
<polygon points="649.9,160.4 660.9,159.4 659.9,164.5 654.9,170.5 652.9,180.5 653.9,188.6 641.8,189.6 647.9,180.5 650.9,172.5" fill="#84b880" stroke="#84b880" stroke-width="1" stroke-linejoin="round"/>
<path d="M662 158h0m-2 1h0m-2-1h0m0 1h0m-1 0h0m0-1h0m-1 1h0m0 0h0m-2-1h0m0 0h0m-3 0h0m0 1h0m-1-1h0m-2 3h0m1 3h0m0-4h0m0 1h0m0-1h0m1 1h0m1-1h0m0 0h0m1 0h0m9 4h0m0-3h0m1 0h0m1 0h0m0 0h0m-1 4h0m-2 2h0m0 1h0m-2-1h0m0 1h0m0 1h0m-7 0h0m-1-1h0m0 1h0m-1-4h0m1 5h0m0 4h0m5-3h0m0 3h0m1-3h0m2 0h0m-2 5h0m0 0h0m-1 2h0m0 0h0m0-3h0m0 1h0m-1 0h0m0 3h0m0-1h0m0 0h0m0-3h0m-5 1h0m-1 3h0m0-1h0m-1 0h0m-3 4h0m0 0h0m1 0h0m0 2h0m0-1h0m2-3h0m0 0h0m1 0h0m5 1h0m1 2h0m1 0h0m0 0h0m0 0h0m1 6h0m-1-3h0m0 3h0m0 0h0m0-2h0m-1 1h0m0 1h0m0-1h0m0 1h0m-2 0h0m0 0h0m-1 0h0m0 0h0m-1 0h0m-1 0h0m-6-4h0m0 2h0m0 1h0m0-1h0m0 0h0m0 1h0m-1 0h0m-1 1h0m0-1h0m-2 2h0m1 1h0m2 0h0m0-1h0m0 0h0m0 0h0m0 0h0m2 0h0m1 1h0m0 0h0m3 0h0m0-1h0m1 0h0m0 1h0m1 0h0m1-1h0m2 0h0m1 0h0m1 1h0" stroke="#84b880" stroke-width="1.60" stroke-linecap="round" fill="none"/>
<polygon points="504.2,192.6 511.3,188.6 517.3,184.5 525.3,183.5 531.4,182.9 539.4,181.5 544.4,180.5 549.4,182.9 551.5,188.6 557.5,190.6 561.5,196.6 564.5,198.6 557.5,200.6 553.5,204.6 551.5,212.7 549.4,218.7 543.4,214.7 539.4,214.7 533.4,215.7 525.3,214.7 519.3,217.7 514.3,218.7 512.3,212.7 509.3,204.6 506.3,198.6" fill="#4b6022" stroke="#4b6022" stroke-width="1" stroke-linejoin="round"/>
<path d="M546 179h0m-1-1h0m0 1h0m-1 0h0m-1-1h0m-29 6h0m2 0h0m1 0h0m0 0h0m3 0h0m0-1h0m0 1h0m0 0h0m2-3h0m1 1h0m0 0h0m4-1h0m0 1h0m1 1h0m0-2h0m2 2h0m0-2h0m1 0h0m1 1h0m0 1h0m1-1h0m2 0h0m1-1h0m1-1h0m0 1h0m2-1h0m1 0h0m1 0h0m5 0h0m2 2h0m0-2h0m0 0h0m0 2h0m2 1h0m0-1h0m0-1h0m1 1h0m1 2h0m5 4h0m-1 0h0m0 0h0m0 1h0m-1-1h0m0 0h0m0 0h0m-1 1h0m0-2h0m0 1h0m-1-1h0m0-1h0m-1 1h0m0-1h0m-39 0h0m0 1h0m-2 0h0m0-1h0m-1 2h0m0 0h0m0 1h0m0-1h0m0-1h0m-1 2h0m0 0h0m0-2h0m-1 2h0m-2 0h0m-4 4h0m1-2h0m0 0h0m0 2h0m1-3h0m0 2h0m2-1h0m2-1h0m50 0h0m0 1h0m2 1h0m0-1h0m1 2h0m2 1h0m3 5h0m0-2h0m-1 2h0m0 0h0m-1-3h0m0 0h0m0 1h0m-2-2h0m-57 3h0m0 1h0m0-2h0m0 1h0m0 1h0m-1-4h0m0 3h0m0 0h0m0 1h0m-1-2h0m2 4h0m1 0h0m1-1h0m1 3h0m0 0h0m1 1h0m45 0h0m2 0h0m1-2h0m0 1h0m0 0h0m0 1h0m1-3h0m1 2h0m2-2h0m0-1h0m0 2h0m1-1h0m0 1h0m1-2h0m2 0h0m-10 5h0m-2 1h0m-43 1h0m0 1h0m-1-3h0m-2 0h0m0 0h0m3 7h0m0-1h0m1 0h0m1 3h0m0-1h0m42 1h0m0-4h0m-2 6h0m-1 2h0m0 1h0m0-4h0m-1 3h0m0 1h0m-3-2h0m-1 1h0m0-1h0m0 0h0m-1 1h0m0-2h0m0 2h0m-1-1h0m0 0h0m-1-1h0m-1 1h0m0-1h0m-2-1h0m-2 2h0m-1-1h0m-1 0h0m-1 0h0m-1 2h0m0-1h0m-1 0h0m-1-1h0m-2 0h0m0 1h0m-2-1h0m-1 0h0m-1-1h0m-1 2h0m0-2h0m0 0h0m-1 2h0m0 0h0m0 0h0m-1 2h0m0-2h0m-1 1h0m-1 1h0m-1-1h0m0 0h0m0 0h0m0 0h0m0 1h0m-1-1h0m0 0h0m-2 1h0m-3 0h0m-1-2h0m-1 0h0m0 2h0m0-4h0m-1 2h0m1 3h0m1 0h0m1 0h0m2 0h0m32 1h0m2 0h0m1-1h0" stroke="#4b6022" stroke-width="1.60" stroke-linecap="round" fill="none"/>
<polygon points="572.5,204.6 581.6,200.6 589.6,201.6 591.6,208.7 590.6,214.7 597.7,216.7 605.7,218.7 612.7,220.7 613.7,226.7 607.7,232.8 599.7,236.8 593.6,244.8 589.6,250.8 581.6,252.8 573.5,250.8 567.5,247.8 561.5,241.8 558.5,234.8 561.5,229.7 569.5,228.7 573.5,224.7 571.5,216.7 571.5,209.7" fill="#e3a623" stroke="#e3a623" stroke-width="1" stroke-linejoin="round"/>
<path d="M587 199h0m-1 0h0m0 0h0m-2 0h0m0 0h0m-2 0h0m-1-1h0m-1 1h0m0 0h0m0 0h0m-10 5h0m1-1h0m1 1h0m2-2h0m0 1h0m0-1h0m0 0h0m1 1h0m1-1h0m0 0h0m1 0h0m1 0h0m0-2h0m3 0h0m1 0h0m1 0h0m2 1h0m1-1h0m0 0h0m0 0h0m0 0h0m1 0h0m1 1h0m0 0h0m1-1h0m1 1h0m0 1h0m1-1h0m0 3h0m0-3h0m1 2h0m1 4h0m-1-1h0m0-1h0m0 3h0m0 1h0m-1-3h0m-19 0h0m-1 1h0m0 1h0m0-3h0m0 2h0m-1 2h0m0-4h0m-1 5h0m1 0h0m0 0h0m1 2h0m20 2h0m1-3h0m0 1h0m0-1h0m0 3h0m0-3h0m0-1h0m2 3h0m0-2h0m0 3h0m21 5h0m-1 0h0m-2-1h0m0 0h0m-1 0h0m0 1h0m-1-1h0m0 0h0m-4 0h0m0 0h0m0-1h0m-1 1h0m-2-2h0m0 2h0m-1-1h0m-1-1h0m-1-1h0m-1 0h0m-2 0h0m0 0h0m-1 1h0m-1 0h0m-23 3h0m-1-4h0m0 0h0m0 1h0m-2 0h0m2 6h0m0 2h0m0-2h0m0 0h0m1 0h0m0 2h0m0-2h0m0 0h0m1 1h0m0-1h0m39-2h0m1 3h0m0-3h0m0 0h0m1 1h0m0 0h0m0 2h0m0-2h0m1 3h0m1 2h0m0-1h0m-1 0h0m-1 4h0m0 0h0m0-2h0m0 1h0m0-3h0m0 4h0m-44-1h0m0-1h0m0-2h0m-2 3h0m-1-1h0m0 1h0m-2 1h0m0-1h0m-2 1h0m0 0h0m0 0h0m-1 0h0m-1-2h0m0 1h0m0 1h0m-1-1h0m0 0h0m-4 6h0m1 0h0m0-2h0m1 0h0m0 0h0m0 1h0m1-3h0m47 4h0m1 0h0m0 0h0m3-1h0m0 0h0m0 0h0m1 0h0m0-3h0m1 1h0m0 0h0m0 0h0m2-1h0m-6 5h0m-2 0h0m-1 0h0m-1 0h0m-1 3h0m-1 0h0m0-1h0m-2 1h0m-1 1h0m0-1h0m-39-1h0m-1 0h0m0-1h0m-1 2h0m0 0h0m0-2h0m1 6h0m0 1h0m1-1h0m0-2h0m1 4h0m0 0h0m0 0h0m0-2h0m2 2h0m1 0h0m31 0h0m0 0h0m0 0h0m1-1h0m0 1h0m1-4h0m1 1h0m0-1h0m0 1h0m1 0h0m-5 7h0m-1 0h0m0 1h0m0 0h0m-1 0h0m0 0h0m0-1h0m-25 0h0m0 1h0m-1-2h0m0-1h0m-1 1h0m-1-2h0m-1 0h0m0 1h0m-1-1h0m0 0h0m6 6h0m2 1h0m1-1h0m0 0h0m1 0h0m0 2h0m0 0h0m2-2h0m0 0h0m1 1h0m1 0h0m0 1h0m0 1h0m0-3h0m1 3h0m1 0h0m0-2h0m1 1h0m0 0h0m1 0h0m1 1h0m2-1h0m1 0h0m0 0h0m0 0h0m1 0h0m3-2h0m0 1h0m0 0h0m1 0h0m0 1h0m1-2h0m0 0h0m1 1h0m0 0h0m1-1h0" stroke="#e3a623" stroke-width="1.60" stroke-linecap="round" fill="none"/>
<ellipse cx="581.7" cy="219.5" rx="3.8" ry="4.5" fill="#fff"/>
<path d="M585 216h0m-1-1h0m0 0h0m-3 0h0m-3 1h0m-1 2h0m0 0h0m1 5h0m0-2h0m4 2h0m3-1h0m1-1h0m-5 4h0m-1 0h0" stroke="#e3a623" stroke-width="1.60" stroke-linecap="round" fill="none"/>
<polygon points="617.8,192.6 641.8,193.6 661.9,202.6 666.0,214.7 690.1,220.7 692.1,226.7 678.0,232.8 670.0,240.8 661.9,252.8 645.9,258.9 633.8,254.9 631.8,248.8 637.9,236.8 629.8,226.7 613.7,212.7 611.7,208.7 615.7,200.6" fill="#00007a" stroke="#00007a" stroke-width="1" stroke-linejoin="round"/>
<path d="M616 191h0m2 0h0m1 1h0m0 0h0m2 0h0m2 0h0m0 0h0m0-1h0m2 2h0m0-1h0m1 0h0m0 0h0m2 0h0m0 0h0m1 1h0m0-1h0m0-1h0m1 1h0m0 0h0m2-1h0m0 0h0m1 1h0m1 0h0m2 0h0m1 1h0m0-1h0m0-1h0m1 2h0m0-2h0m0 2h0m0 0h0m2-1h0m3 1h0m0-1h0m0 2h0m3 0h0m1-1h0m2 1h0m9 4h0m-1 0h0m0 1h0m-2-2h0m0 2h0m-2-1h0m0-2h0m-2 1h0m0 0h0m-1-1h0m-1 1h0m0-2h0m0 0h0m-1 0h0m-2 0h0m0 0h0m-30 3h0m0-1h0m-2 0h0m0 0h0m-2 7h0m2 0h0m0 0h0m0-3h0m0-1h0m1 1h0m1-1h0m43 1h0m0-1h0m1 0h0m1 1h0m1 1h0m0-1h0m1 3h0m1-3h0m1 4h0m0 1h0m-1-1h0m0 4h0m0-4h0m-51 0h0m0 0h0m-1 3h0m-2-2h0m0 2h0m0 2h0m1 2h0m1 1h0m1 1h0m0-3h0m52-1h0m0 2h0m1 1h0m0 0h0m0-3h0m0 2h0m1-1h0m0 0h0m0 1h0m1 1h0m5 1h0m0 0h0m17 4h0m-2 0h0m-1 1h0m0-1h0m-3 0h0m-3-1h0m0 0h0m-2-1h0m0 0h0m-2 1h0m-2 0h0m0-2h0m-2 0h0m0 0h0m-5 0h0m-1 0h0m-50 1h0m-1 0h0m0 2h0m0-2h0m-1 1h0m-1-2h0m6 5h0m1 2h0m1-1h0m0-1h0m1 3h0m0-1h0m1 1h0m1 0h0m0 0h0m64-3h0m0 0h0m2 1h0m0 1h0m1 0h0m1 1h0m0-2h0m1 5h0m0 0h0m0 0h0m0 0h0m0 2h0m-1-2h0m0 0h0m0 0h0m-1 0h0m0 1h0m-1 2h0m0-1h0m-1 1h0m-59 0h0m0 0h0m-2 0h0m0-1h0m-1 0h0m0-2h0m-1 1h0m0 0h0m3 3h0m1 1h0m0 0h0m1 0h0m0 2h0m1 1h0m1 0h0m0 0h0m0 0h0m1 0h0m0 0h0m43-1h0m0 0h0m0 0h0m1 0h0m2 0h0m0-1h0m0 0h0m1-1h0m1 1h0m0-1h0m1 1h0m1 0h0m0-1h0m0 0h0m0 1h0m1-2h0m2 1h0m-10 4h0m0 0h0m-2 3h0m0-2h0m0 0h0m0-1h0m0 2h0m-1 1h0m0 1h0m-1-1h0m0 0h0m-37-1h0m0 0h0m0-1h0m0 1h0m0 1h0m0 0h0m0-1h0m-1-1h0m0 0h0m0 3h0m0-1h0m-1-3h0m0 3h0m0 1h0m-1-3h0m-2 8h0m1-1h0m0 0h0m2 0h0m0-3h0m0 0h0m33 3h0m0 0h0m1 1h0m0 0h0m1 0h0m1-3h0m0-1h0m1 2h0m1-2h0m-4 5h0m-1 1h0m-2 1h0m0 1h0m-1 1h0m-32-3h0m-1 0h0m0 3h0m0-4h0m-1 3h0m0-1h0m0 0h0m0-1h0m-1 1h0m0 0h0m0 1h0m-1 1h0m1 1h0m1 4h0m1-3h0m0 1h0m0-1h0m0 0h0m0 1h0m1 0h0m26 2h0m1-1h0m0 1h0m1 0h0m1 0h0m2-1h0m0-1h0m2-2h0m-3 5h0m-2 0h0m-1 1h0m-2 0h0m-2-1h0m0 2h0m0 1h0m-1-1h0m-1 0h0m0 1h0m-1 0h0m0 0h0m-2 1h0m-1 0h0m-1-1h0m0 1h0m-1 0h0m-1 0h0m0 0h0m-1 0h0m0 0h0m-2 0h0m0 0h0m-2 0h0m-2 0h0m-3-2h0m0 1h0m-1-2h0m0 1h0m0 0h0m0-1h0m-1 1h0m0-1h0m-1 1h0m-1-2h0m0 1h0m0-1h0m12 6h0m0-1h0m1 1h0m3-1h0m0 0h0" stroke="#00007a" stroke-width="1.60" stroke-linecap="round" fill="none"/>
<polygon points="475.7,249.0 482.7,246.0 486.7,241.0 488.7,236.0 490.7,241.0 494.7,245.0 500.7,248.0 492.7,251.0 486.7,253.0 480.7,251.0" fill="#2b2b2b" stroke="#2b2b2b" stroke-width="1" stroke-linejoin="round"/>
<path d="M492 238h0m-1 1h0m-1-4h0m0 0h0m0 4h0m-3-3h0m0 2h0m0-1h0m-1 0h0m0 1h0m0 1h0m0 0h0m0-1h0m-3 5h0m1 1h0m0 0h0m2-3h0m1-1h0m4 1h0m2 0h0m0-1h0m1 4h0m0-3h0m0 3h0m1-2h0m0 1h0m7 6h0m-1-1h0m-1-2h0m0 1h0m0-1h0m-1-1h0m-1 1h0m-1-1h0m0 1h0m-2-1h0m-13 0h0m-1 0h0m-1 0h0m-1 1h0m0-1h0m-2 1h0m0 0h0m-1 0h0m0 0h0m0 2h0m0 1h0m-1-1h0m-1-1h0m0 4h0m0 0h0m1-1h0m0 1h0m1 0h0m0-1h0m1 1h0m0 0h0m1 1h0m0 0h0m2 1h0m0-1h0m0-1h0m1 0h0m1 1h0m0 2h0m0 0h0m1 0h0m1-1h0m1 1h0m2 0h0m0-1h0m5 0h0m1 0h0m1-2h0m1-1h0m0 1h0m0-1h0m1 1h0m0 0h0m2 0h0m-9 4h0m-1 0h0" stroke="#2b2b2b" stroke-width="1.60" stroke-linecap="round" fill="none"/>
<polygon points="464.7,281.0 468.7,276.0 471.7,272.0 475.7,275.0 482.7,277.0 483.7,282.0 477.7,286.0 470.7,288.0 465.7,285.0" fill="#12787e" stroke="#12787e" stroke-width="1" stroke-linejoin="round"/>
<path d="M469 273h0m0-1h0m2 0h0m1-2h0m0 0h0m1 2h0m0 1h0m1-2h0m0 2h0m1 1h0m2-1h0m1 0h0m1 1h0m6 5h0m0-1h0m0 1h0m0-2h0m0 2h0m0-1h0m-1-1h0m-1 2h0m0-1h0m-2-3h0m0 0h0m-1 1h0m-11-1h0m-1 1h0m-1 1h0m0-1h0m-1 1h0m0-1h0m0 2h0m0 1h0m-1 0h0m-1 5h0m1 0h0m0-3h0m18 3h0m1 0h0m0-1h0m0 1h0m1-3h0m0 2h0m0-2h0m1 0h0m-4 4h0m-1 0h0m-1 1h0m0 1h0m0-1h0m-1-1h0m0 1h0m-1 2h0m-1 0h0m-3 0h0m-1 1h0m-1 0h0m-1 0h0m-3 0h0m0-2h0m0 0h0m-1 0h0m0 2h0m-1-1h0m-1-2h0m0 0h0m0 1h0m-1-2h0m5 5h0m1 0h0m1 0h0" stroke="#12787e" stroke-width="1.60" stroke-linecap="round" fill="none"/>
<path d="M675.5,2060.3Q670.9,2057.2 662.0,2054.3A1.6,1.6 0 0 1 662.9,2051.2Q672.0,2053.4 677.6,2053.2Q677.9,2052.3 678.3,2051.5Q675.1,2047.6 667.9,2042.8A1.6,1.6 0 0 1 669.6,2040.0Q677.1,2044.1 682.1,2045.1Q682.7,2044.4 683.3,2043.7Q681.8,2039.7 677.4,2034.5A1.6,1.6 0 0 1 679.7,2032.3Q684.7,2036.9 688.6,2038.5Q689.1,2038.1 689.6,2037.8Q687.1,2029.9 680.1,2017.1A1.6,1.6 0 0 1 682.9,2015.5Q690.5,2027.9 696.1,2034.1Q698.9,2032.8 701.9,2032.1Q703.1,2028.0 702.5,2021.2A1.6,1.6 0 0 1 705.7,2020.7Q707.0,2027.4 709.3,2031.0Q712.4,2030.9 715.4,2031.3Q718.0,2028.3 719.8,2022.4A1.6,1.6 0 0 1 722.9,2023.2Q721.8,2029.3 722.6,2033.1Q723.5,2033.5 724.4,2033.8Q728.1,2030.7 732.4,2023.7A1.6,1.6 0 0 1 735.2,2025.3Q731.6,2032.6 730.9,2037.4Q733.9,2039.6 736.5,2042.3Q742.0,2040.3 750.3,2034.5A1.6,1.6 0 0 1 752.2,2037.1Q744.4,2043.5 740.9,2048.2Q741.9,2049.8 742.7,2051.5Q749.2,2051.1 760.1,2047.7A1.6,1.6 0 0 1 761.1,2050.8Q750.5,2054.8 745.1,2058.5Q746.4,2064.3 745.8,2070.2Q751.3,2073.1 761.7,2075.7A1.6,1.6 0 0 1 761.0,2078.9Q750.5,2077.0 744.3,2077.5Q743.7,2079.2 742.9,2080.9Q745.3,2084.3 750.7,2087.9A1.6,1.6 0 0 1 749.1,2090.6Q743.3,2087.7 739.2,2087.4Q738.5,2088.4 737.7,2089.3Q741.1,2095.3 749.2,2104.2A1.6,1.6 0 0 1 746.9,2106.5Q738.2,2098.1 732.4,2094.5Q727.9,2097.9 722.6,2099.9Q721.5,2102.3 722.0,2105.9A1.6,1.6 0 0 1 718.9,2106.7Q717.6,2103.3 715.4,2101.7Q710.8,2102.3 706.2,2101.7Q704.0,2103.8 702.6,2107.8A1.6,1.6 0 0 1 699.5,2107.1Q700.1,2102.9 698.9,2100.1Q693.3,2098.1 688.6,2094.5Q683.3,2097.6 675.5,2105.0A1.6,1.6 0 0 1 673.2,2102.8Q680.4,2094.8 683.3,2089.3Q683.5,2089.6 683.7,2089.8Q680.2,2090.1 675.7,2092.8A1.6,1.6 0 0 1 673.9,2090.2Q678.0,2086.8 679.5,2083.7Q678.7,2082.4 678.1,2080.9Q672.9,2080.8 664.4,2083.2A1.6,1.6 0 0 1 663.4,2080.1Q671.6,2077.0 675.8,2073.9Q675.6,2073.3 675.5,2072.7Q668.6,2071.4 656.2,2071.9A1.6,1.6 0 0 1 656.0,2068.7Q668.3,2067.4 675.0,2065.3Q675.1,2062.8 675.5,2060.3Z" fill="#b6b6e5" stroke="#8f8fcf" stroke-width="0.9"/>
<ellipse cx="712.5" cy="2035" rx="3.3" ry="2.5" fill="#d9d9f4"/>
<ellipse cx="728" cy="2045.5" rx="3.5" ry="2.7" fill="#d9d9f4"/>
<ellipse cx="679" cy="2046.5" rx="2.8" ry="2.3" fill="#d9d9f4"/>
<ellipse cx="676" cy="2067" rx="3" ry="2.6" fill="#d9d9f4"/>
<ellipse cx="738" cy="2066" rx="2.4" ry="2.1" fill="#d9d9f4"/>
<ellipse cx="715" cy="2089" rx="2.4" ry="2.1" fill="#d9d9f4"/>
<ellipse cx="687" cy="2060" rx="1.2" ry="1.2" fill="#d9d9f4"/>
<ellipse cx="712" cy="2046.5" rx="1.2" ry="1" fill="#d9d9f4"/>
<ellipse cx="712.5" cy="2067.5" rx="20.2" ry="17.6" fill="#9695cb" stroke="#7474b0" stroke-width="0.9"/>
<g transform="translate(630,2150) scale(0.10044)"><path d="M130,705 C165,650 200,610 240,580" fill="none" stroke="#c2304f" stroke-width="30" stroke-linecap="round"/><path d="M240,580 C290,545 350,525 450,515" fill="none" stroke="#c2304f" stroke-width="22" stroke-linecap="round"/><path d="M450,515 C600,505 750,540 900,548" fill="none" stroke="#c2304f" stroke-width="14" stroke-linecap="round"/><path d="M900,548 C1000,550 1100,500 1160,400" fill="none" stroke="#c2304f" stroke-width="10" stroke-linecap="round"/><path d="M1415,150 C1350,190 1280,225 1200,252" fill="none" stroke="#c2304f" stroke-width="27" stroke-linecap="round"/><path d="M1200,252 C1160,265 1130,275 1100,280" fill="none" stroke="#c2304f" stroke-width="19" stroke-linecap="round"/><path d="M1100,280 C1000,295 900,285 800,250" fill="none" stroke="#c2304f" stroke-width="14" stroke-linecap="round"/><path d="M800,250 C700,200 600,180 500,190 C420,200 380,240 345,275" fill="none" stroke="#c2304f" stroke-width="11" stroke-linecap="round"/><path d="M300,540 C300,450 340,400 420,360 C520,320 600,280 630,200" fill="none" stroke="#c2304f" stroke-width="11" stroke-linecap="round"/><path d="M360,430 C420,440 480,410 540,380 C590,360 630,350 680,365" fill="none" stroke="#c2304f" stroke-width="8" stroke-linecap="round"/><path d="M560,495 C600,470 660,470 700,460 C720,450 740,430 770,420" fill="none" stroke="#c2304f" stroke-width="8" stroke-linecap="round"/><path d="M1130,290 C1120,350 1050,380 980,385 C900,400 840,440 815,520" fill="none" stroke="#c2304f" stroke-width="11" stroke-linecap="round"/><path d="M800,345 C880,360 940,350 1020,375" fill="none" stroke="#c2304f" stroke-width="7" stroke-linecap="round"/><path d="M580,120 C640,110 680,150 710,200" fill="none" stroke="#c2304f" stroke-width="8" stroke-linecap="round"/><path d="M800,115 C860,170 900,175 1000,175 C1100,180 1180,200 1210,240" fill="none" stroke="#c2304f" stroke-width="10" stroke-linecap="round"/><path d="M930,85 C970,100 985,140 1000,175" fill="none" stroke="#c2304f" stroke-width="7" stroke-linecap="round"/><path d="M455,520 C460,600 520,640 620,650 C700,650 740,620 800,620 C880,630 950,680 1020,715" fill="none" stroke="#c2304f" stroke-width="10" stroke-linecap="round"/><path d="M750,625 C800,660 840,700 840,780" fill="none" stroke="#c2304f" stroke-width="7" stroke-linecap="round"/><path d="M860,555 C900,580 1000,585 1085,600" fill="none" stroke="#c2304f" stroke-width="7" stroke-linecap="round"/></g>
<defs><pattern id="stri" width="6" height="1.15" patternUnits="userSpaceOnUse"><rect width="6" height="0.5" fill="#e9a2a8" fill-opacity="0.28"/></pattern><radialGradient id="glow" cx="0.5" cy="0.5" r="0.5"><stop offset="0.55" stop-color="#7fd18f" stop-opacity="0.9"/><stop offset="1" stop-color="#ffffff" stop-opacity="0"/></radialGradient></defs>
<g transform="translate(625,2280) scale(0.10672)"><path d="M125,262 L300,240 L700,235 C760,215 820,170 880,125 L940,140 L990,160 L930,255 L1000,268 L1430,265 L1450,300 L1440,350 L1480,480 L1490,560 L1460,600 L1000,610 L600,590 L170,575 L150,530 L130,440 L100,410 L110,330 Z" fill="#f6c2c4" stroke="#e9a0a6" stroke-width="8"/><ellipse cx="450" cy="405" rx="150" ry="70" fill="#eaa3a8" stroke="#dc9298" stroke-width="6"/><ellipse cx="1110" cy="435" rx="145" ry="68" fill="#eaa3a8" stroke="#dc9298" stroke-width="6"/></g>
<path d="M638,2308 L657,2305.6 L700,2305 C706.5,2303 713,2298 719.5,2293.3 L725.3,2295 L730.7,2297 L724.3,2307 L731.7,2308.6 L777.6,2308.3 L779.7,2312 L778.7,2317.4 L783,2331.2 L784,2339.8 L780.9,2344 L731.7,2345 L689,2343 L643,2341.4 L641,2336.6 L638.9,2327 L635.7,2323.8 L636.7,2315.2 Z" fill="url(#stri)"/>
<g transform="translate(640,2405) scale(0.08787)"><defs><clipPath id="fbclip"><path d="M250,250 C300,200 500,160 600,140 L800,100 C900,110 1000,140 1150,190 C1300,250 1400,400 1440,550 C1460,700 1450,900 1380,1050 C1300,1180 1100,1250 900,1280 C750,1300 600,1260 500,1200 C420,1100 300,1000 150,900 C130,700 200,450 250,250 Z"/></clipPath></defs><path d="M250,250 C300,200 500,160 600,140 L800,100 C900,110 1000,140 1150,190 C1300,250 1400,400 1440,550 C1460,700 1450,900 1380,1050 C1300,1180 1100,1250 900,1280 C750,1300 600,1260 500,1200 C420,1100 300,1000 150,900 C130,700 200,450 250,250 Z" fill="#c9e7f2" stroke="#a3d4e6" stroke-width="10"/><g clip-path="url(#fbclip)"><path d="M947,959 q-42,26 -123,93M1088,1148 q73,-15 106,10M1332,861 q-14,-9 -68,22M763,439 q12,38 -16,116M216,408 q68,38 97,117M1119,348 q-10,2 -59,44M941,313 q94,-20 147,1M451,406 q-54,-16 -147,8M547,1190 q12,43 -16,127M446,1168 q-24,45 -88,129M1272,494 q36,15 32,69M375,248 q55,29 70,98M204,892 q42,20 44,79M1182,685 q50,25 59,91M1046,240 q-11,-18 -62,5M1100,1067 q89,-16 139,8M639,787 q52,-19 65,2M417,1183 q75,19 111,78M1316,1169 q42,22 45,84M830,994 q84,2 127,45M1157,1083 q97,-11 154,18M309,538 q-6,51 -52,143M608,1150 q14,25 -13,90M580,366 q56,-11 73,18M1027,1227 q48,-4 57,32M1384,740 q32,20 24,80M913,1048 q27,31 14,101M267,1142 q74,-14 109,11M1206,317 q-32,38 -103,116M956,1007 q69,-3 98,34M379,1067 q52,22 63,84M1399,1075 q-33,-16 -105,8M786,946 q23,24 6,89M685,334 q50,54 60,147M1352,838 q20,27 0,94M307,466 q-37,26 -114,93M634,1005 q-29,22 -98,84M997,978 q47,39 54,119M537,690 q-28,23 -97,85M553,1173 q-7,33 -53,105M214,754 q65,25 90,90M756,1038 q-11,43 -62,125M617,856 q-29,32 -97,105M620,1065 q-39,6 -118,51M1371,1184 q17,36 -6,113M399,1058 q-33,-9 -106,21M1030,936 q-6,9 -51,58M1136,790 q-5,24 -51,89M948,993 q-8,40 -55,120M233,348 q32,41 23,123M463,900 q7,9 -26,59M766,418 q56,-14 72,12M581,371 q46,-2 52,36M758,579 q-0,36 -41,112M485,1128 q70,-20 101,0M534,611 q87,5 134,51M649,218 q8,13 -24,65M854,536 q0,55 -39,151M1182,620 q-32,14 -103,69M643,329 q3,36 -35,111M1349,1196 q4,25 -32,90M1272,181 q75,-1 110,39M938,328 q-9,48 -59,137M651,633 q54,9 68,58M1367,579 q-55,-11 -150,18M915,453 q-35,-17 -109,7M699,515 q-35,-17 -109,5M544,681 q77,3 113,46M732,488 q-35,25 -110,90M216,739 q70,38 100,116M1138,438 q45,8 50,56M1387,488 q2,31 -36,101M974,814 q-5,6 -50,52M1112,496 q15,27 -10,93M556,736 q25,28 11,96M1094,800 q62,-15 85,10M747,1142 q-34,-0 -108,40M217,997 q33,37 26,115M1050,844 q24,55 9,151M663,591 q-16,-2 -71,36M556,1052 q90,-5 141,30M1034,634 q63,34 86,108M1293,330 q24,37 8,115M797,527 q73,8 105,55M1174,252 q73,27 106,94M1150,877 q86,-15 132,11M1374,1228 q1,6 -38,52M1210,410 q-14,50 -69,139M1055,321 q66,40 92,121M380,821 q30,17 20,73M947,226 q66,-4 92,33M286,240 q4,45 -31,130M1254,321 q30,25 19,89M920,694 q-28,-11 -96,19M267,912 q75,8 110,56M807,1136 q10,40 -21,120M516,759 q67,28 94,97M820,320 q56,13 72,65M1084,368 q-19,29 -78,98M302,881 q55,-10 70,20M913,431 q-30,0 -100,41M588,1016 q86,-14 132,12M264,338 q-43,-10 -127,19M468,302 q-43,-15 -126,11M1185,327 q2,24 -36,88M482,530 q3,24 -33,89M663,323 q-34,12 -108,63M1165,635 q-30,5 -100,50M911,782 q-14,16 -68,73M316,215 q46,-1 51,38" fill="none" stroke="#8ccbe2" stroke-width="6" stroke-opacity="0.8"/></g><ellipse cx="490" cy="330" rx="156.0" ry="97.6" transform="rotate(5 490 330)" fill="#dfa0a3" stroke="#b2d9e8" stroke-width="12"/><ellipse cx="850" cy="265" rx="150.0" ry="85.39999999999999" transform="rotate(0 850 265)" fill="#dfa0a3" stroke="#b2d9e8" stroke-width="12"/><ellipse cx="1240" cy="370" rx="108.0" ry="134.2" transform="rotate(-15 1240 370)" fill="#dfa0a3" stroke="#b2d9e8" stroke-width="12"/><ellipse cx="445" cy="535" rx="174.0" ry="73.2" transform="rotate(5 445 535)" fill="#dfa0a3" stroke="#b2d9e8" stroke-width="12"/><ellipse cx="875" cy="455" rx="156.0" ry="97.6" transform="rotate(-15 875 455)" fill="#dfa0a3" stroke="#b2d9e8" stroke-width="12"/><ellipse cx="1180" cy="615" rx="180.0" ry="67.1" transform="rotate(3 1180 615)" fill="#dfa0a3" stroke="#b2d9e8" stroke-width="12"/><ellipse cx="835" cy="750" rx="168.0" ry="146.4" transform="rotate(10 835 750)" fill="#dfa0a3" stroke="#b2d9e8" stroke-width="12"/><ellipse cx="440" cy="770" rx="120.0" ry="85.39999999999999" transform="rotate(10 440 770)" fill="#dfa0a3" stroke="#b2d9e8" stroke-width="12"/><ellipse cx="320" cy="840" rx="78.0" ry="115.89999999999999" transform="rotate(-10 320 840)" fill="#dfa0a3" stroke="#b2d9e8" stroke-width="12"/><ellipse cx="460" cy="930" rx="108.0" ry="61.0" transform="rotate(-20 460 930)" fill="#dfa0a3" stroke="#b2d9e8" stroke-width="12"/><ellipse cx="1245" cy="770" rx="120.0" ry="67.1" transform="rotate(0 1245 770)" fill="#dfa0a3" stroke="#b2d9e8" stroke-width="12"/><ellipse cx="690" cy="1110" rx="180.0" ry="134.2" transform="rotate(-5 690 1110)" fill="#dfa0a3" stroke="#b2d9e8" stroke-width="12"/><ellipse cx="1030" cy="1060" rx="120.0" ry="122.0" transform="rotate(0 1030 1060)" fill="#dfa0a3" stroke="#b2d9e8" stroke-width="12"/><ellipse cx="1200" cy="1000" rx="114.0" ry="103.7" transform="rotate(15 1200 1000)" fill="#dfa0a3" stroke="#b2d9e8" stroke-width="12"/><circle cx="480" cy="350" r="33" fill="#c46a70"/><circle cx="850" cy="278" r="25" fill="#c46a70"/><circle cx="1235" cy="395" r="25" fill="#c46a70"/><circle cx="430" cy="530" r="25" fill="#c46a70"/><circle cx="860" cy="440" r="25" fill="#c46a70"/><circle cx="1140" cy="620" r="27" fill="#c46a70"/><circle cx="810" cy="805" r="32" fill="#c46a70"/><circle cx="465" cy="770" r="23" fill="#c46a70"/><circle cx="325" cy="860" r="23" fill="#c46a70"/><circle cx="485" cy="935" r="20" fill="#c46a70"/><circle cx="1245" cy="760" r="27" fill="#c46a70"/><circle cx="660" cy="1110" r="35" fill="#c46a70"/><circle cx="1020" cy="1060" r="30" fill="#c46a70"/><circle cx="1205" cy="1015" r="27" fill="#c46a70"/><g transform="rotate(20 960 180)"><path d="M880.0,180 Q960,154 1040.0,180 Q960,206 880.0,180Z" fill="#f2b046"/><path d="M880.0,180 l-15,-18 M880.0,180 l-15,18 M1040.0,180 l15,-18 M1040.0,180 l15,18" stroke="#f2b046" stroke-width="11"/></g><g transform="rotate(95 680 320)"><path d="M600.0,320 Q680,294 760.0,320 Q680,346 600.0,320Z" fill="#f2b046"/><path d="M600.0,320 l-15,-18 M600.0,320 l-15,18 M760.0,320 l15,-18 M760.0,320 l15,18" stroke="#f2b046" stroke-width="11"/></g><g transform="rotate(-45 680 570)"><path d="M600.0,570 Q680,544 760.0,570 Q680,596 600.0,570Z" fill="#f2b046"/><path d="M600.0,570 l-15,-18 M600.0,570 l-15,18 M760.0,570 l15,-18 M760.0,570 l15,18" stroke="#f2b046" stroke-width="11"/></g><g transform="rotate(5 400 665)"><path d="M315.0,665 Q400,639 485.0,665 Q400,691 315.0,665Z" fill="#f2b046"/><path d="M315.0,665 l-15,-18 M315.0,665 l-15,18 M485.0,665 l15,-18 M485.0,665 l15,18" stroke="#f2b046" stroke-width="11"/></g><g transform="rotate(45 900 660)"><path d="M825.0,660 Q900,634 975.0,660 Q900,686 825.0,660Z" fill="#f2b046"/><path d="M825.0,660 l-15,-18 M825.0,660 l-15,18 M975.0,660 l15,-18 M975.0,660 l15,18" stroke="#f2b046" stroke-width="11"/></g><g transform="rotate(60 640 860)"><path d="M550.0,860 Q640,834 730.0,860 Q640,886 550.0,860Z" fill="#f2b046"/><path d="M550.0,860 l-15,-18 M550.0,860 l-15,18 M730.0,860 l15,-18 M730.0,860 l15,18" stroke="#f2b046" stroke-width="11"/></g><g transform="rotate(10 1245 520)"><path d="M1160.0,520 Q1245,494 1330.0,520 Q1245,546 1160.0,520Z" fill="#f2b046"/><path d="M1160.0,520 l-15,-18 M1160.0,520 l-15,18 M1330.0,520 l15,-18 M1330.0,520 l15,18" stroke="#f2b046" stroke-width="11"/></g><g transform="rotate(-5 1290 890)"><path d="M1195.0,890 Q1290,864 1385.0,890 Q1290,916 1195.0,890Z" fill="#f2b046"/><path d="M1195.0,890 l-15,-18 M1195.0,890 l-15,18 M1385.0,890 l15,-18 M1385.0,890 l15,18" stroke="#f2b046" stroke-width="11"/></g><g transform="rotate(30 275 970)"><path d="M200.0,970 Q275,944 350.0,970 Q275,996 200.0,970Z" fill="#f2b046"/><path d="M200.0,970 l-15,-18 M200.0,970 l-15,18 M350.0,970 l15,-18 M350.0,970 l15,18" stroke="#f2b046" stroke-width="11"/></g><g transform="rotate(80 860 1060)"><path d="M760.0,1060 Q860,1034 960.0,1060 Q860,1086 760.0,1060Z" fill="#f2b046"/><path d="M760.0,1060 l-15,-18 M760.0,1060 l-15,18 M960.0,1060 l15,-18 M960.0,1060 l15,18" stroke="#f2b046" stroke-width="11"/></g></g>
<g transform="translate(1280,2045) scale(0.17892)"><path d="M80,102 C200,90 300,70 400,75 C500,80 560,70 700,72 C800,75 900,70 1000,75 C1100,78 1200,72 1300,76 C1380,80 1420,85 1455,88 L1370,100 C1450,110 1500,115 1535,120 L1390,130 C1450,150 1480,160 1495,168 L1300,185 C1200,190 1100,180 1000,178 C900,185 800,190 700,185 C600,180 500,190 400,185 C300,175 200,165 40,155 L150,140 C120,130 100,115 80,102 Z" fill="#f3a9d0"/><path d="M195,91 Q365,55 535,91 Q365,115 195,91Z" fill="#f0a0cb" stroke="#e48bbd" stroke-width="2.5"/><path d="M490,91 Q660,55 830,91 Q660,115 490,91Z" fill="#f0a0cb" stroke="#e48bbd" stroke-width="2.5"/><path d="M815,91 Q985,55 1155,91 Q985,115 815,91Z" fill="#f0a0cb" stroke="#e48bbd" stroke-width="2.5"/><path d="M1110,91 Q1280,55 1450,91 Q1280,115 1110,91Z" fill="#f0a0cb" stroke="#e48bbd" stroke-width="2.5"/><path d="M75,108 Q245,72 415,108 Q245,132 75,108Z" fill="#f0a0cb" stroke="#e48bbd" stroke-width="2.5"/><path d="M380,108 Q550,72 720,108 Q550,132 380,108Z" fill="#f0a0cb" stroke="#e48bbd" stroke-width="2.5"/><path d="M690,108 Q860,72 1030,108 Q860,132 690,108Z" fill="#f0a0cb" stroke="#e48bbd" stroke-width="2.5"/><path d="M995,108 Q1165,72 1335,108 Q1165,132 995,108Z" fill="#f0a0cb" stroke="#e48bbd" stroke-width="2.5"/><path d="M280,124 Q450,88 620,124 Q450,148 280,124Z" fill="#f0a0cb" stroke="#e48bbd" stroke-width="2.5"/><path d="M580,124 Q750,88 920,124 Q750,148 580,124Z" fill="#f0a0cb" stroke="#e48bbd" stroke-width="2.5"/><path d="M890,124 Q1060,88 1230,124 Q1060,148 890,124Z" fill="#f0a0cb" stroke="#e48bbd" stroke-width="2.5"/><path d="M1195,124 Q1365,88 1535,124 Q1365,148 1195,124Z" fill="#f0a0cb" stroke="#e48bbd" stroke-width="2.5"/><path d="M155,141 Q325,105 495,141 Q325,165 155,141Z" fill="#f0a0cb" stroke="#e48bbd" stroke-width="2.5"/><path d="M460,141 Q630,105 800,141 Q630,165 460,141Z" fill="#f0a0cb" stroke="#e48bbd" stroke-width="2.5"/><path d="M775,141 Q945,105 1115,141 Q945,165 775,141Z" fill="#f0a0cb" stroke="#e48bbd" stroke-width="2.5"/><path d="M1075,141 Q1245,105 1415,141 Q1245,165 1075,141Z" fill="#f0a0cb" stroke="#e48bbd" stroke-width="2.5"/><path d="M35,161 Q205,125 375,161 Q205,185 35,161Z" fill="#f0a0cb" stroke="#e48bbd" stroke-width="2.5"/><path d="M345,161 Q515,125 685,161 Q515,185 345,161Z" fill="#f0a0cb" stroke="#e48bbd" stroke-width="2.5"/><path d="M655,161 Q825,125 995,161 Q825,185 655,161Z" fill="#f0a0cb" stroke="#e48bbd" stroke-width="2.5"/><path d="M960,161 Q1130,125 1300,161 Q1130,185 960,161Z" fill="#f0a0cb" stroke="#e48bbd" stroke-width="2.5"/><path d="M235,174 Q405,138 575,174 Q405,198 235,174Z" fill="#f0a0cb" stroke="#e48bbd" stroke-width="2.5"/><path d="M540,174 Q710,138 880,174 Q710,198 540,174Z" fill="#f0a0cb" stroke="#e48bbd" stroke-width="2.5"/><path d="M855,174 Q1025,138 1195,174 Q1025,198 855,174Z" fill="#f0a0cb" stroke="#e48bbd" stroke-width="2.5"/><path d="M1155,174 Q1325,138 1495,174 Q1325,198 1155,174Z" fill="#f0a0cb" stroke="#e48bbd" stroke-width="2.5"/><ellipse cx="365" cy="85" rx="24" ry="8" fill="#9a70b2"/><ellipse cx="660" cy="85" rx="24" ry="8" fill="#9a70b2"/><ellipse cx="985" cy="85" rx="24" ry="8" fill="#9a70b2"/><ellipse cx="1280" cy="85" rx="24" ry="8" fill="#9a70b2"/><ellipse cx="245" cy="102" rx="24" ry="8" fill="#9a70b2"/><ellipse cx="550" cy="102" rx="24" ry="8" fill="#9a70b2"/><ellipse cx="860" cy="102" rx="24" ry="8" fill="#9a70b2"/><ellipse cx="1165" cy="102" rx="24" ry="8" fill="#9a70b2"/><ellipse cx="450" cy="118" rx="24" ry="8" fill="#9a70b2"/><ellipse cx="750" cy="118" rx="24" ry="8" fill="#9a70b2"/><ellipse cx="1060" cy="118" rx="24" ry="8" fill="#9a70b2"/><ellipse cx="1365" cy="118" rx="24" ry="8" fill="#9a70b2"/><ellipse cx="325" cy="135" rx="24" ry="8" fill="#9a70b2"/><ellipse cx="630" cy="135" rx="24" ry="8" fill="#9a70b2"/><ellipse cx="945" cy="135" rx="24" ry="8" fill="#9a70b2"/><ellipse cx="1245" cy="135" rx="24" ry="8" fill="#9a70b2"/><ellipse cx="205" cy="155" rx="24" ry="8" fill="#9a70b2"/><ellipse cx="515" cy="155" rx="24" ry="8" fill="#9a70b2"/><ellipse cx="825" cy="155" rx="24" ry="8" fill="#9a70b2"/><ellipse cx="1130" cy="155" rx="24" ry="8" fill="#9a70b2"/><ellipse cx="405" cy="168" rx="24" ry="8" fill="#9a70b2"/><ellipse cx="710" cy="168" rx="24" ry="8" fill="#9a70b2"/><ellipse cx="1025" cy="168" rx="24" ry="8" fill="#9a70b2"/><ellipse cx="1325" cy="168" rx="24" ry="8" fill="#9a70b2"/></g>
<circle cx="1493.6" cy="2192.2" r="52" fill="url(#glow)"/>
<ellipse cx="1320.1" cy="2192.2" rx="30.8" ry="27.8" fill="#a9d3b1" stroke="#5f9a67" stroke-width="0.8"/>
<ellipse cx="1322.2" cy="2194.8" rx="19.3" ry="16.7" fill="#72b38b" stroke="#4e8a60" stroke-width="0.8"/>
<ellipse cx="1493.6" cy="2192.2" rx="30.8" ry="27.8" fill="#a9d3b1" stroke="#5f9a67" stroke-width="0.8"/>
<ellipse cx="1496.6" cy="2194.8" rx="19.3" ry="16.7" fill="#72b38b" stroke="#4e8a60" stroke-width="0.8"/>
<line x1="1374.0" y1="2192.2" x2="1430.8" y2="2192.2" stroke="#222" stroke-width="2.2"/>
<polygon points="1440.3,2192.2 1428.8,2197.2 1428.8,2187.2" fill="#222"/>
<g transform="translate(1275,2275) scale(0.16636)"><path d="M1290,320 C1200,330 1120,380 1000,390 C880,395 800,390 700,410 C600,420 500,400 420,375 C380,330 320,280 250,240 C180,190 100,140 40,90" fill="none" stroke="#d07db3" stroke-width="11.2" stroke-linecap="round"/><path d="M165,55 C185,80 180,130 185,190" fill="none" stroke="#d07db3" stroke-width="9.6" stroke-linecap="round"/><path d="M150,285 C200,270 240,262 270,260" fill="none" stroke="#d07db3" stroke-width="9.6" stroke-linecap="round"/><path d="M230,410 C300,400 360,385 420,375" fill="none" stroke="#d07db3" stroke-width="9.6" stroke-linecap="round"/><path d="M1330,270 C1320,230 1300,200 1260,185" fill="none" stroke="#d07db3" stroke-width="8.0" stroke-linecap="round"/><path d="M1325,260 L1340,180" fill="none" stroke="#d07db3" stroke-width="8.0" stroke-linecap="round"/><path d="M1390,265 C1390,220 1400,200 1380,170" fill="none" stroke="#d07db3" stroke-width="8.0" stroke-linecap="round"/><path d="M1400,270 C1430,230 1450,200 1470,165" fill="none" stroke="#d07db3" stroke-width="8.0" stroke-linecap="round"/><path d="M1420,290 C1470,260 1500,240 1520,210" fill="none" stroke="#d07db3" stroke-width="8.0" stroke-linecap="round"/><path d="M1425,320 C1480,300 1520,290 1545,280" fill="none" stroke="#d07db3" stroke-width="8.0" stroke-linecap="round"/><path d="M1420,340 C1460,360 1490,390 1510,425" fill="none" stroke="#d07db3" stroke-width="8.0" stroke-linecap="round"/><path d="M1400,360 C1420,400 1440,440 1460,490" fill="none" stroke="#d07db3" stroke-width="8.0" stroke-linecap="round"/><path d="M1380,365 C1390,420 1395,460 1395,500" fill="none" stroke="#d07db3" stroke-width="8.0" stroke-linecap="round"/><path d="M1345,360 C1330,400 1320,430 1290,455" fill="none" stroke="#d07db3" stroke-width="8.0" stroke-linecap="round"/><path d="M1440,215 L1490,240" fill="none" stroke="#d07db3" stroke-width="6.4" stroke-linecap="round"/><path d="M1460,370 L1520,370" fill="none" stroke="#d07db3" stroke-width="6.4" stroke-linecap="round"/><path d="M1420,420 L1470,440" fill="none" stroke="#d07db3" stroke-width="6.4" stroke-linecap="round"/><path d="M1330,200 L1350,180" fill="none" stroke="#d07db3" stroke-width="6.4" stroke-linecap="round"/><circle cx="40" cy="88" r="9" fill="#d07db3"/><circle cx="166" cy="57" r="9" fill="#d07db3"/><path d="M1300,315 C1320,280 1340,265 1370,265 C1400,265 1420,285 1430,315 C1425,345 1400,365 1370,365 C1340,362 1315,345 1300,315 Z" fill="#d68ab9"/><circle cx="1367" cy="313" r="14" fill="#8b2a83"/><path d="M1115,237 L720,237" stroke="#8fa8da" stroke-width="13"/><path d="M532,237 L718,216 L718,258 Z" fill="#fff" stroke="#8fa8da" stroke-width="6"/></g>
<g transform="translate(1265,2410) scale(0.17892)"><path d="M55,45 C80,100 100,150 145,195" fill="none" stroke="#3b8b3d" stroke-width="10" stroke-linecap="round"/><ellipse cx="85" cy="105" rx="24" ry="13" transform="rotate(-60 85 105)" fill="#3b8b3d"/><ellipse cx="135" cy="175" rx="24" ry="13" transform="rotate(-50 135 175)" fill="#3b8b3d"/><path d="M145,195 C120,230 120,270 135,300 C130,340 140,370 160,395 C180,420 190,450 190,480" fill="none" stroke="#3b8b3d" stroke-width="10" stroke-linecap="round"/><ellipse cx="135" cy="295" rx="24" ry="13" transform="rotate(-80 135 295)" fill="#3b8b3d"/><ellipse cx="160" cy="395" rx="24" ry="13" transform="rotate(-60 160 395)" fill="#3b8b3d"/><path d="M145,195 C180,210 200,240 195,310 C200,360 225,400 235,420 C245,460 250,490 265,515" fill="none" stroke="#3b8b3d" stroke-width="10" stroke-linecap="round"/><ellipse cx="195" cy="310" rx="24" ry="13" transform="rotate(-80 195 310)" fill="#3b8b3d"/><ellipse cx="235" cy="415" rx="24" ry="13" transform="rotate(-70 235 415)" fill="#3b8b3d"/><path d="M180,215 C220,240 240,270 255,285 C290,300 320,320 340,330 C360,360 370,380 375,400 C390,415 400,425 425,435" fill="none" stroke="#3b8b3d" stroke-width="10" stroke-linecap="round"/><ellipse cx="250" cy="285" rx="24" ry="13" transform="rotate(-40 250 285)" fill="#3b8b3d"/><ellipse cx="320" cy="320" rx="24" ry="13" transform="rotate(-30 320 320)" fill="#3b8b3d"/><ellipse cx="365" cy="380" rx="24" ry="13" transform="rotate(-60 365 380)" fill="#3b8b3d"/><path d="M205,340 C240,345 270,350 300,360 C310,370 320,375 325,385" fill="none" stroke="#3b8b3d" stroke-width="10" stroke-linecap="round"/><ellipse cx="265" cy="350" rx="24" ry="13" transform="rotate(-10 265 350)" fill="#3b8b3d"/><path d="M240,420 C280,420 310,430 325,445 C340,465 350,490 360,515" fill="none" stroke="#3b8b3d" stroke-width="10" stroke-linecap="round"/><ellipse cx="325" cy="440" rx="24" ry="13" transform="rotate(-50 325 440)" fill="#3b8b3d"/></g>
<g transform="translate(1443.9228842368939,2410) scale(0.17892)"><path d="M55,45 C80,100 100,150 145,195" fill="none" stroke="#3b8b3d" stroke-width="10" stroke-linecap="round"/><ellipse cx="85" cy="105" rx="24" ry="13" transform="rotate(-60 85 105)" fill="#3b8b3d"/><ellipse cx="135" cy="175" rx="24" ry="13" transform="rotate(-50 135 175)" fill="#3b8b3d"/><path d="M145,195 C120,230 120,270 135,300 C130,340 140,370 160,395 C180,420 190,450 190,480" fill="none" stroke="#3b8b3d" stroke-width="10" stroke-linecap="round"/><ellipse cx="135" cy="295" rx="24" ry="13" transform="rotate(-80 135 295)" fill="#3b8b3d"/><ellipse cx="160" cy="395" rx="24" ry="13" transform="rotate(-60 160 395)" fill="#3b8b3d"/><path d="M145,195 C180,210 200,240 195,310 C200,360 225,400 235,420 C245,460 250,490 265,515" fill="none" stroke="#3b8b3d" stroke-width="10" stroke-linecap="round"/><ellipse cx="195" cy="310" rx="24" ry="13" transform="rotate(-80 195 310)" fill="#3b8b3d"/><ellipse cx="235" cy="415" rx="24" ry="13" transform="rotate(-70 235 415)" fill="#3b8b3d"/><path d="M180,215 C220,240 240,270 255,285 C290,300 320,320 340,330 C360,360 370,380 375,400 C390,415 400,425 425,435" fill="none" stroke="#3b8b3d" stroke-width="10" stroke-linecap="round"/><ellipse cx="250" cy="285" rx="24" ry="13" transform="rotate(-40 250 285)" fill="#3b8b3d"/><ellipse cx="320" cy="320" rx="24" ry="13" transform="rotate(-30 320 320)" fill="#3b8b3d"/><ellipse cx="365" cy="380" rx="24" ry="13" transform="rotate(-60 365 380)" fill="#3b8b3d"/><path d="M205,340 C240,345 270,350 300,360 C310,370 320,375 325,385" fill="none" stroke="#3b8b3d" stroke-width="10" stroke-linecap="round"/><ellipse cx="265" cy="350" rx="24" ry="13" transform="rotate(-10 265 350)" fill="#3b8b3d"/><path d="M240,420 C280,420 310,430 325,445 C340,465 350,490 360,515" fill="none" stroke="#3b8b3d" stroke-width="10" stroke-linecap="round"/><ellipse cx="325" cy="440" rx="24" ry="13" transform="rotate(-50 325 440)" fill="#3b8b3d"/><path d="M150,195 C200,210 230,210 260,205 C300,200 340,205 360,200 C380,190 390,180 405,170" fill="none" stroke="#3b8b3d" stroke-width="10" stroke-linecap="round"/><ellipse cx="260" cy="205" rx="24" ry="13" transform="rotate(0 260 205)" fill="#3b8b3d"/><ellipse cx="360" cy="198" rx="24" ry="13" transform="rotate(-10 360 198)" fill="#3b8b3d"/><path d="M190,225 C240,250 290,260 360,258 C390,256 410,250 420,245 L410,265 C440,250 460,240 485,225" fill="none" stroke="#3b8b3d" stroke-width="10" stroke-linecap="round"/><ellipse cx="360" cy="258" rx="24" ry="13" transform="rotate(0 360 258)" fill="#3b8b3d"/><path d="M240,420 C300,430 360,440 420,432 C450,430 470,425 480,420 L470,440 C500,425 520,410 545,398" fill="none" stroke="#3b8b3d" stroke-width="10" stroke-linecap="round"/><ellipse cx="420" cy="432" rx="24" ry="13" transform="rotate(0 420 432)" fill="#3b8b3d"/><path d="M135,380 C120,420 130,460 140,480 C150,500 160,510 150,520 C170,530 190,545 205,560" fill="none" stroke="#3b8b3d" stroke-width="10" stroke-linecap="round"/><ellipse cx="120" cy="400" rx="24" ry="13" transform="rotate(-80 120 400)" fill="#3b8b3d"/><ellipse cx="140" cy="460" rx="24" ry="13" transform="rotate(-70 140 460)" fill="#3b8b3d"/></g>
<line x1="1364.3" y1="2462.4" x2="1420.9" y2="2462.4" stroke="#222" stroke-width="2.5"/>
<polygon points="1430.5,2462.4 1418.9,2467.8 1418.9,2457.1" fill="#222"/>
<rect x="211.0" y="526.1" width="93.7" height="84.0" fill="none" stroke="#000" stroke-width="5" stroke-dasharray="10,9.4"/>
<rect x="426.0" y="568.8" width="83.4" height="102.1" fill="none" stroke="#000" stroke-width="5" stroke-dasharray="10,9.4"/>
<rect x="175.7" y="872.1" width="53.8" height="25.0" fill="none" stroke="#000" stroke-width="5" stroke-dasharray="10,9.4"/>
<rect x="263.3" y="922.7" width="36.2" height="58.1" fill="none" stroke="#000" stroke-width="5" stroke-dasharray="10,9.4"/>
<rect x="437.3" y="917.7" width="81.8" height="52.6" fill="none" stroke="#000" stroke-width="5" stroke-dasharray="10,9.4"/>
<rect x="107.6" y="1410.5" width="48.7" height="41.4" fill="none" stroke="#000" stroke-width="5" stroke-dasharray="10,9.4"/>
<rect x="374.2" y="1410.5" width="61.2" height="71.0" fill="none" stroke="#000" stroke-width="5" stroke-dasharray="10,9.4"/>
<rect x="57.8" y="1688.2" width="47.9" height="99.3" fill="none" stroke="#000" stroke-width="5" stroke-dasharray="10,9.4"/>
<rect x="357.5" y="1683.5" width="52.6" height="95.1" fill="none" stroke="#000" stroke-width="5" stroke-dasharray="10,9.4"/>
</svg>
</body></html>
